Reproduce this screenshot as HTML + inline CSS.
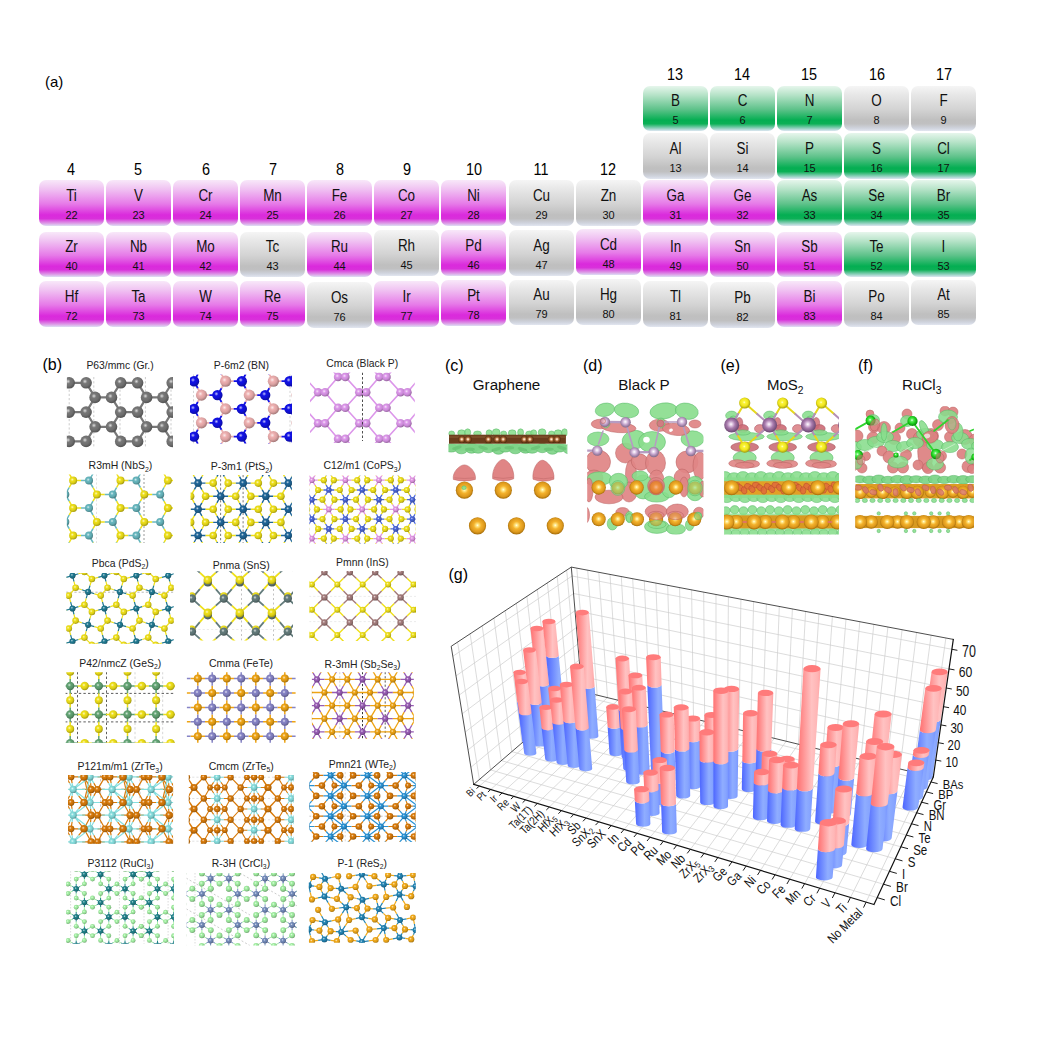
<!DOCTYPE html>
<html><head><meta charset="utf-8"><title>figure</title>
<style>
html,body{margin:0;padding:0;background:#fff;}
body{width:1040px;height:1040px;position:relative;overflow:hidden;font-family:"Liberation Sans",sans-serif;}
svg text{font-family:"Liberation Sans",sans-serif;}

.c{position:absolute;width:65px;height:45.5px;border-radius:7px;text-align:center;color:#111;}
.c b{position:absolute;left:0;right:0;top:7.6px;font-weight:normal;font-size:16px;line-height:16px;transform:scaleX(0.84);}
.c i{position:absolute;left:0;right:0;top:28.5px;font-style:normal;font-size:11.2px;line-height:12px;transform:scaleX(0.98);}
.m{background:linear-gradient(180deg,#f8e8f9 0%,#f0c2f2 20%,#e67ae8 52%,#da2adc 76%,#d930db 84%,#dc9ae6 94%,#dde0f4 100%);}
.g{background:linear-gradient(180deg,#e6f6ec 0%,#b6e3c8 20%,#5ec28a 52%,#04ae52 76%,#0cb056 84%,#8ed0bc 94%,#dde6f2 100%);}
.n{background:linear-gradient(180deg,#f5f5f5 0%,#e7e7e7 20%,#d3d3d3 52%,#bfbfbf 76%,#c0c0c1 84%,#d0d4de 94%,#e2e6f0 100%);}
.gl{position:absolute;width:40px;text-align:center;font-size:16.4px;line-height:20px;color:#000;transform:scaleX(0.88);}
.pl{position:absolute;font-size:15px;line-height:18px;color:#000;}

</style></head><body>
<div class="c g" style="left:642.7px;top:85.5px"><b>B</b><i>5</i></div>
<div class="c g" style="left:709.8px;top:85.5px"><b>C</b><i>6</i></div>
<div class="c g" style="left:776.9px;top:85.5px"><b>N</b><i>7</i></div>
<div class="c n" style="left:844.0px;top:85.5px"><b>O</b><i>8</i></div>
<div class="c n" style="left:911.1px;top:85.5px"><b>F</b><i>9</i></div>
<div class="c n" style="left:642.7px;top:133.0px"><b>Al</b><i>13</i></div>
<div class="c n" style="left:709.8px;top:133.0px"><b>Si</b><i>14</i></div>
<div class="c g" style="left:776.9px;top:133.0px"><b>P</b><i>15</i></div>
<div class="c g" style="left:844.0px;top:133.0px"><b>S</b><i>16</i></div>
<div class="c g" style="left:911.1px;top:133.0px"><b>Cl</b><i>17</i></div>
<div class="c m" style="left:38.8px;top:180.0px"><b>Ti</b><i>22</i></div>
<div class="c m" style="left:105.9px;top:180.0px"><b>V</b><i>23</i></div>
<div class="c m" style="left:173.0px;top:180.0px"><b>Cr</b><i>24</i></div>
<div class="c m" style="left:240.1px;top:180.0px"><b>Mn</b><i>25</i></div>
<div class="c m" style="left:307.2px;top:180.0px"><b>Fe</b><i>26</i></div>
<div class="c m" style="left:374.3px;top:180.0px"><b>Co</b><i>27</i></div>
<div class="c m" style="left:441.4px;top:180.0px"><b>Ni</b><i>28</i></div>
<div class="c n" style="left:508.5px;top:180.0px"><b>Cu</b><i>29</i></div>
<div class="c n" style="left:575.6px;top:180.0px"><b>Zn</b><i>30</i></div>
<div class="c m" style="left:642.7px;top:180.0px"><b>Ga</b><i>31</i></div>
<div class="c m" style="left:709.8px;top:180.0px"><b>Ge</b><i>32</i></div>
<div class="c g" style="left:776.9px;top:180.0px"><b>As</b><i>33</i></div>
<div class="c g" style="left:844.0px;top:180.0px"><b>Se</b><i>34</i></div>
<div class="c g" style="left:911.1px;top:180.0px"><b>Br</b><i>35</i></div>
<div class="c m" style="left:38.8px;top:231.5px"><b>Zr</b><i>40</i></div>
<div class="c m" style="left:105.9px;top:231.5px"><b>Nb</b><i>41</i></div>
<div class="c m" style="left:173.0px;top:231.5px"><b>Mo</b><i>42</i></div>
<div class="c n" style="left:240.1px;top:231.5px"><b>Tc</b><i>43</i></div>
<div class="c m" style="left:307.2px;top:231.5px"><b>Ru</b><i>44</i></div>
<div class="c n" style="left:374.3px;top:230.0px"><b>Rh</b><i>45</i></div>
<div class="c m" style="left:441.4px;top:230.0px"><b>Pd</b><i>46</i></div>
<div class="c n" style="left:508.5px;top:230.0px"><b>Ag</b><i>47</i></div>
<div class="c m" style="left:575.6px;top:229.0px"><b>Cd</b><i>48</i></div>
<div class="c m" style="left:642.7px;top:231.5px"><b>In</b><i>49</i></div>
<div class="c m" style="left:709.8px;top:231.5px"><b>Sn</b><i>50</i></div>
<div class="c m" style="left:776.9px;top:231.5px"><b>Sb</b><i>51</i></div>
<div class="c g" style="left:844.0px;top:231.5px"><b>Te</b><i>52</i></div>
<div class="c g" style="left:911.1px;top:231.5px"><b>I</b><i>53</i></div>
<div class="c m" style="left:38.8px;top:281.0px"><b>Hf</b><i>72</i></div>
<div class="c m" style="left:105.9px;top:281.0px"><b>Ta</b><i>73</i></div>
<div class="c m" style="left:173.0px;top:281.0px"><b>W</b><i>74</i></div>
<div class="c m" style="left:240.1px;top:281.0px"><b>Re</b><i>75</i></div>
<div class="c n" style="left:307.2px;top:282.0px"><b>Os</b><i>76</i></div>
<div class="c m" style="left:374.3px;top:281.0px"><b>Ir</b><i>77</i></div>
<div class="c m" style="left:441.4px;top:280.0px"><b>Pt</b><i>78</i></div>
<div class="c n" style="left:508.5px;top:279.5px"><b>Au</b><i>79</i></div>
<div class="c n" style="left:575.6px;top:279.0px"><b>Hg</b><i>80</i></div>
<div class="c n" style="left:642.7px;top:281.0px"><b>Tl</b><i>81</i></div>
<div class="c n" style="left:709.8px;top:282.0px"><b>Pb</b><i>82</i></div>
<div class="c m" style="left:776.9px;top:281.0px"><b>Bi</b><i>83</i></div>
<div class="c n" style="left:844.0px;top:281.0px"><b>Po</b><i>84</i></div>
<div class="c n" style="left:911.1px;top:279.5px"><b>At</b><i>85</i></div>
<div class="gl" style="left:51.3px;top:159px">4</div>
<div class="gl" style="left:118.4px;top:159px">5</div>
<div class="gl" style="left:185.5px;top:159px">6</div>
<div class="gl" style="left:252.6px;top:159px">7</div>
<div class="gl" style="left:319.7px;top:159px">8</div>
<div class="gl" style="left:386.8px;top:159px">9</div>
<div class="gl" style="left:453.9px;top:159px">10</div>
<div class="gl" style="left:521.0px;top:159px">11</div>
<div class="gl" style="left:588.1px;top:159px">12</div>
<div class="gl" style="left:655.2px;top:64px">13</div>
<div class="gl" style="left:722.3px;top:64px">14</div>
<div class="gl" style="left:789.4px;top:64px">15</div>
<div class="gl" style="left:856.5px;top:64px">16</div>
<div class="gl" style="left:923.6px;top:64px">17</div>
<div class="pl" style="left:45px;top:73px">(a)</div>
<svg width="1040" height="1040" viewBox="0 0 1040 1040" style="position:absolute;left:0;top:0">
<defs>
<radialGradient id="sC" cx="40%" cy="38%" r="66%"><stop offset="0" stop-color="#dddddd"/><stop offset="0.3" stop-color="#787878"/><stop offset="0.62" stop-color="#6e6e6e"/><stop offset="1" stop-color="#4e4e4e"/></radialGradient>
<radialGradient id="sB" cx="40%" cy="38%" r="66%"><stop offset="0" stop-color="#faebeb"/><stop offset="0.3" stop-color="#eeb0b0"/><stop offset="0.62" stop-color="#daa1a1"/><stop offset="1" stop-color="#9a7272"/></radialGradient>
<radialGradient id="sN" cx="40%" cy="38%" r="66%"><stop offset="0" stop-color="#c3c3f8"/><stop offset="0.3" stop-color="#1212e6"/><stop offset="0.62" stop-color="#1010d3"/><stop offset="1" stop-color="#0b0b95"/></radialGradient>
<radialGradient id="sP" cx="40%" cy="38%" r="66%"><stop offset="0" stop-color="#f6e4f9"/><stop offset="0.3" stop-color="#dc96ea"/><stop offset="0.62" stop-color="#ca8ad7"/><stop offset="1" stop-color="#8f6198"/></radialGradient>
<radialGradient id="sS" cx="40%" cy="38%" r="66%"><stop offset="0" stop-color="#fbf7c5"/><stop offset="0.3" stop-color="#efe01a"/><stop offset="0.62" stop-color="#dbce17"/><stop offset="1" stop-color="#9b9110"/></radialGradient>
<radialGradient id="sNb" cx="40%" cy="38%" r="66%"><stop offset="0" stop-color="#d9edef"/><stop offset="0.3" stop-color="#68b8c0"/><stop offset="0.62" stop-color="#5fa9b0"/><stop offset="1" stop-color="#43777c"/></radialGradient>
<radialGradient id="sPt" cx="40%" cy="38%" r="66%"><stop offset="0" stop-color="#c7d8e5"/><stop offset="0.3" stop-color="#1f6698"/><stop offset="0.62" stop-color="#1c5d8b"/><stop offset="1" stop-color="#144262"/></radialGradient>
<radialGradient id="sCo" cx="40%" cy="38%" r="66%"><stop offset="0" stop-color="#d1d8f5"/><stop offset="0.3" stop-color="#4a66d8"/><stop offset="0.62" stop-color="#445dc6"/><stop offset="1" stop-color="#30428c"/></radialGradient>
<radialGradient id="sPp" cx="40%" cy="38%" r="66%"><stop offset="0" stop-color="#f7e4f8"/><stop offset="0.3" stop-color="#e296e4"/><stop offset="0.62" stop-color="#cf8ad1"/><stop offset="1" stop-color="#926194"/></radialGradient>
<radialGradient id="sPd" cx="40%" cy="38%" r="66%"><stop offset="0" stop-color="#c7dde3"/><stop offset="0.3" stop-color="#217a92"/><stop offset="0.62" stop-color="#1e7086"/><stop offset="1" stop-color="#154f5e"/></radialGradient>
<radialGradient id="sSn" cx="40%" cy="38%" r="66%"><stop offset="0" stop-color="#d8dede"/><stop offset="0.3" stop-color="#647c7c"/><stop offset="0.62" stop-color="#5c7272"/><stop offset="1" stop-color="#415050"/></radialGradient>
<radialGradient id="sIn" cx="40%" cy="38%" r="66%"><stop offset="0" stop-color="#e8dede"/><stop offset="0.3" stop-color="#a47c7c"/><stop offset="0.62" stop-color="#967272"/><stop offset="1" stop-color="#6a5050"/></radialGradient>
<radialGradient id="sGe" cx="40%" cy="38%" r="66%"><stop offset="0" stop-color="#d7e8dc"/><stop offset="0.3" stop-color="#62a474"/><stop offset="0.62" stop-color="#5a966a"/><stop offset="1" stop-color="#3f6a4b"/></radialGradient>
<radialGradient id="sFe" cx="40%" cy="38%" r="66%"><stop offset="0" stop-color="#e0e0f0"/><stop offset="0.3" stop-color="#8684c6"/><stop offset="0.62" stop-color="#7b79b6"/><stop offset="1" stop-color="#575580"/></radialGradient>
<radialGradient id="sTe" cx="40%" cy="38%" r="66%"><stop offset="0" stop-color="#fae8c4"/><stop offset="0.3" stop-color="#eea414"/><stop offset="0.62" stop-color="#da9612"/><stop offset="1" stop-color="#9a6a0d"/></radialGradient>
<radialGradient id="sSb" cx="40%" cy="38%" r="66%"><stop offset="0" stop-color="#e5d6ec"/><stop offset="0.3" stop-color="#985cb4"/><stop offset="0.62" stop-color="#8b54a5"/><stop offset="1" stop-color="#623b75"/></radialGradient>
<radialGradient id="sTe2" cx="40%" cy="38%" r="66%"><stop offset="0" stop-color="#f5ddc1"/><stop offset="0.3" stop-color="#d87a0a"/><stop offset="0.62" stop-color="#c67009"/><stop offset="1" stop-color="#8c4f06"/></radialGradient>
<radialGradient id="sZr" cx="40%" cy="38%" r="66%"><stop offset="0" stop-color="#e0f6f6"/><stop offset="0.3" stop-color="#86dede"/><stop offset="0.62" stop-color="#7bcccc"/><stop offset="1" stop-color="#579090"/></radialGradient>
<radialGradient id="sW" cx="40%" cy="38%" r="66%"><stop offset="0" stop-color="#c9e3f4"/><stop offset="0.3" stop-color="#2a92d4"/><stop offset="0.62" stop-color="#2686c3"/><stop offset="1" stop-color="#1b5e89"/></radialGradient>
<radialGradient id="sCl" cx="40%" cy="38%" r="66%"><stop offset="0" stop-color="#e7fbe7"/><stop offset="0.3" stop-color="#a2f0a2"/><stop offset="0.62" stop-color="#95dc95"/><stop offset="1" stop-color="#699c69"/></radialGradient>
<radialGradient id="sRu" cx="40%" cy="38%" r="66%"><stop offset="0" stop-color="#c7dfe1"/><stop offset="0.3" stop-color="#20828a"/><stop offset="0.62" stop-color="#1d777e"/><stop offset="1" stop-color="#145459"/></radialGradient>
<radialGradient id="sCr" cx="40%" cy="38%" r="66%"><stop offset="0" stop-color="#dce2ee"/><stop offset="0.3" stop-color="#748cbc"/><stop offset="0.62" stop-color="#6a80ac"/><stop offset="1" stop-color="#4b5b7a"/></radialGradient>
<radialGradient id="sRe" cx="40%" cy="38%" r="66%"><stop offset="0" stop-color="#c7e0ec"/><stop offset="0.3" stop-color="#2284b4"/><stop offset="0.62" stop-color="#1f79a5"/><stop offset="1" stop-color="#165575"/></radialGradient>
<radialGradient id="sS2" cx="40%" cy="38%" r="66%"><stop offset="0" stop-color="#fbe9c5"/><stop offset="0.3" stop-color="#f2aa1a"/><stop offset="0.62" stop-color="#de9c17"/><stop offset="1" stop-color="#9d6e10"/></radialGradient>
<radialGradient id="sAu" cx="50%" cy="47%" r="52%"><stop offset="0" stop-color="#fffdf0"/><stop offset="0.14" stop-color="#ffe98a"/><stop offset="0.42" stop-color="#f4b22c"/><stop offset="0.78" stop-color="#dc981c"/><stop offset="1" stop-color="#a66e0a"/></radialGradient>
<radialGradient id="sPm" cx="47%" cy="45%" r="55%"><stop offset="0" stop-color="#ffffff"/><stop offset="0.2" stop-color="#ecdcf0"/><stop offset="0.55" stop-color="#c0a0c8"/><stop offset="1" stop-color="#806888"/></radialGradient>
<radialGradient id="sMo" cx="46%" cy="45%" r="55%"><stop offset="0" stop-color="#ffffff"/><stop offset="0.18" stop-color="#e4cce6"/><stop offset="0.5" stop-color="#aa7cae"/><stop offset="1" stop-color="#6a4670"/></radialGradient>
<radialGradient id="sClb" cx="45%" cy="42%" r="55%"><stop offset="0" stop-color="#e8ffe8"/><stop offset="0.25" stop-color="#58ec58"/><stop offset="0.6" stop-color="#1ed01e"/><stop offset="1" stop-color="#0c8c0c"/></radialGradient>
</defs>
<clipPath id="cp1"><rect x="66.9" y="377" width="106.1" height="70.7"/></clipPath><g clip-path="url(#cp1)"><path d="M69.2 377L69.2 448" stroke="#aaa" stroke-width="0.6" stroke-dasharray="2.2 2" fill="none"/><path d="M93.8 377L93.8 448" stroke="#aaa" stroke-width="0.6" stroke-dasharray="2.2 2" fill="none"/><path d="M120 377L120 448" stroke="#aaa" stroke-width="0.6" stroke-dasharray="2.2 2" fill="none"/><path d="M145.4 377L145.4 448" stroke="#aaa" stroke-width="0.6" stroke-dasharray="2.2 2" fill="none"/><path d="M171 377L171 448" stroke="#aaa" stroke-width="0.6" stroke-dasharray="2.2 2" fill="none"/><path d="M69.2 382.8L86.1 382.8M69.2 382.8L60 397.4M86.1 382.8L95.1 397.4M120.7 382.8L137.6 382.8M120.7 382.8L111.5 397.4M137.6 382.8L146.6 397.4M172.2 382.8L189.1 382.8M172.2 382.8L163 397.4M60 397.4L69.2 412.1M95.1 397.4L111.5 397.4M95.1 397.4L86.1 412.1M111.5 397.4L120.7 412.1M146.6 397.4L163 397.4M146.6 397.4L137.6 412.1M163 397.4L172.2 412.1M69.2 412.1L86.1 412.1M69.2 412.1L60 426.8M86.1 412.1L95.1 426.8M120.7 412.1L137.6 412.1M120.7 412.1L111.5 426.8M137.6 412.1L146.6 426.8M172.2 412.1L189.1 412.1M172.2 412.1L163 426.8M60 426.8L69.2 441.4M95.1 426.8L111.5 426.8M95.1 426.8L86.1 441.4M111.5 426.8L120.7 441.4M146.6 426.8L163 426.8M146.6 426.8L137.6 441.4M163 426.8L172.2 441.4M69.2 441.4L86.1 441.4M120.7 441.4L137.6 441.4M172.2 441.4L189.1 441.4" stroke="#787878" stroke-width="2.2" fill="none"/><circle cx="69.2" cy="382.8" r="5.8" fill="url(#sC)"/><circle cx="86.1" cy="382.8" r="5.8" fill="url(#sC)"/><circle cx="120.7" cy="382.8" r="5.8" fill="url(#sC)"/><circle cx="137.6" cy="382.8" r="5.8" fill="url(#sC)"/><circle cx="172.2" cy="382.8" r="5.8" fill="url(#sC)"/><circle cx="189.1" cy="382.8" r="5.8" fill="url(#sC)"/><circle cx="60" cy="397.4" r="5.8" fill="url(#sC)"/><circle cx="95.1" cy="397.4" r="5.8" fill="url(#sC)"/><circle cx="111.5" cy="397.4" r="5.8" fill="url(#sC)"/><circle cx="146.6" cy="397.4" r="5.8" fill="url(#sC)"/><circle cx="163" cy="397.4" r="5.8" fill="url(#sC)"/><circle cx="69.2" cy="412.1" r="5.8" fill="url(#sC)"/><circle cx="86.1" cy="412.1" r="5.8" fill="url(#sC)"/><circle cx="120.7" cy="412.1" r="5.8" fill="url(#sC)"/><circle cx="137.6" cy="412.1" r="5.8" fill="url(#sC)"/><circle cx="172.2" cy="412.1" r="5.8" fill="url(#sC)"/><circle cx="189.1" cy="412.1" r="5.8" fill="url(#sC)"/><circle cx="60" cy="426.8" r="5.8" fill="url(#sC)"/><circle cx="95.1" cy="426.8" r="5.8" fill="url(#sC)"/><circle cx="111.5" cy="426.8" r="5.8" fill="url(#sC)"/><circle cx="146.6" cy="426.8" r="5.8" fill="url(#sC)"/><circle cx="163" cy="426.8" r="5.8" fill="url(#sC)"/><circle cx="69.2" cy="441.4" r="5.8" fill="url(#sC)"/><circle cx="86.1" cy="441.4" r="5.8" fill="url(#sC)"/><circle cx="120.7" cy="441.4" r="5.8" fill="url(#sC)"/><circle cx="137.6" cy="441.4" r="5.8" fill="url(#sC)"/><circle cx="172.2" cy="441.4" r="5.8" fill="url(#sC)"/><circle cx="189.1" cy="441.4" r="5.8" fill="url(#sC)"/></g>
<clipPath id="cp2"><rect x="190" y="374.4" width="102" height="69.4"/></clipPath><g clip-path="url(#cp2)"><path d="M193.5 374L193.5 444" stroke="#bbb" stroke-width="0.6" stroke-dasharray="2.2 2" fill="none"/><path d="M290 374L290 444" stroke="#bbb" stroke-width="0.6" stroke-dasharray="2.2 2" fill="none"/><path d="M201.5 367.4L209.4 367.4M201.5 367.4L197.8 374.3M221.5 374.3L225.6 381.2M249.3 367.4L257.2 367.4M249.3 367.4L245.6 374.3M269.3 374.3L273.4 381.2M297.1 367.4L293.4 374.3M177.8 381.2L185.9 381.2M197.8 388.2L201.5 395.1M225.6 381.2L233.7 381.2M225.6 381.2L221.5 388.2M245.6 388.2L249.3 395.1M273.4 381.2L281.5 381.2M273.4 381.2L269.3 388.2M293.4 388.2L297.1 395.1M201.5 395.1L209.4 395.1M201.5 395.1L197.8 402M221.5 402L225.6 408.9M249.3 395.1L257.2 395.1M249.3 395.1L245.6 402M269.3 402L273.4 408.9M297.1 395.1L293.4 402M177.8 408.9L185.9 408.9M197.8 415.9L201.5 422.8M225.6 408.9L233.7 408.9M225.6 408.9L221.5 415.9M245.6 415.9L249.3 422.8M273.4 408.9L281.5 408.9M273.4 408.9L269.3 415.9M293.4 415.9L297.1 422.8M201.5 422.8L209.4 422.8M201.5 422.8L197.8 429.7M221.5 429.7L225.6 436.6M249.3 422.8L257.2 422.8M249.3 422.8L245.6 429.7M269.3 429.7L273.4 436.6M297.1 422.8L293.4 429.7M177.8 436.6L185.9 436.6M197.8 443.6L201.5 450.5M225.6 436.6L233.7 436.6M225.6 436.6L221.5 443.6M245.6 443.6L249.3 450.5M273.4 436.6L281.5 436.6M273.4 436.6L269.3 443.6M293.4 443.6L297.1 450.5M201.5 450.5L209.4 450.5M249.3 450.5L257.2 450.5" stroke="#eeb0b0" stroke-width="1.8" fill="none"/><path d="M209.4 367.4L217.4 367.4M197.8 374.3L194 381.2M217.4 367.4L221.5 374.3M257.2 367.4L265.2 367.4M245.6 374.3L241.8 381.2M265.2 367.4L269.3 374.3M293.4 374.3L289.6 381.2M185.9 381.2L194 381.2M194 381.2L197.8 388.2M233.7 381.2L241.8 381.2M221.5 388.2L217.4 395.1M241.8 381.2L245.6 388.2M281.5 381.2L289.6 381.2M269.3 388.2L265.2 395.1M289.6 381.2L293.4 388.2M209.4 395.1L217.4 395.1M197.8 402L194 408.9M217.4 395.1L221.5 402M257.2 395.1L265.2 395.1M245.6 402L241.8 408.9M265.2 395.1L269.3 402M293.4 402L289.6 408.9M185.9 408.9L194 408.9M194 408.9L197.8 415.9M233.7 408.9L241.8 408.9M221.5 415.9L217.4 422.8M241.8 408.9L245.6 415.9M281.5 408.9L289.6 408.9M269.3 415.9L265.2 422.8M289.6 408.9L293.4 415.9M209.4 422.8L217.4 422.8M197.8 429.7L194 436.6M217.4 422.8L221.5 429.7M257.2 422.8L265.2 422.8M245.6 429.7L241.8 436.6M265.2 422.8L269.3 429.7M293.4 429.7L289.6 436.6M185.9 436.6L194 436.6M194 436.6L197.8 443.6M233.7 436.6L241.8 436.6M221.5 443.6L217.4 450.5M241.8 436.6L245.6 443.6M281.5 436.6L289.6 436.6M269.3 443.6L265.2 450.5M289.6 436.6L293.4 443.6M209.4 450.5L217.4 450.5M257.2 450.5L265.2 450.5" stroke="#1212e6" stroke-width="1.8" fill="none"/><circle cx="201.5" cy="367.4" r="5.6" fill="url(#sB)"/><circle cx="217.4" cy="367.4" r="5.2" fill="url(#sN)"/><circle cx="249.3" cy="367.4" r="5.6" fill="url(#sB)"/><circle cx="265.2" cy="367.4" r="5.2" fill="url(#sN)"/><circle cx="297.1" cy="367.4" r="5.6" fill="url(#sB)"/><circle cx="177.8" cy="381.2" r="5.6" fill="url(#sB)"/><circle cx="194" cy="381.2" r="5.2" fill="url(#sN)"/><circle cx="225.6" cy="381.2" r="5.6" fill="url(#sB)"/><circle cx="241.8" cy="381.2" r="5.2" fill="url(#sN)"/><circle cx="273.4" cy="381.2" r="5.6" fill="url(#sB)"/><circle cx="289.6" cy="381.2" r="5.2" fill="url(#sN)"/><circle cx="201.5" cy="395.1" r="5.6" fill="url(#sB)"/><circle cx="217.4" cy="395.1" r="5.2" fill="url(#sN)"/><circle cx="249.3" cy="395.1" r="5.6" fill="url(#sB)"/><circle cx="265.2" cy="395.1" r="5.2" fill="url(#sN)"/><circle cx="297.1" cy="395.1" r="5.6" fill="url(#sB)"/><circle cx="177.8" cy="408.9" r="5.6" fill="url(#sB)"/><circle cx="194" cy="408.9" r="5.2" fill="url(#sN)"/><circle cx="225.6" cy="408.9" r="5.6" fill="url(#sB)"/><circle cx="241.8" cy="408.9" r="5.2" fill="url(#sN)"/><circle cx="273.4" cy="408.9" r="5.6" fill="url(#sB)"/><circle cx="289.6" cy="408.9" r="5.2" fill="url(#sN)"/><circle cx="201.5" cy="422.8" r="5.6" fill="url(#sB)"/><circle cx="217.4" cy="422.8" r="5.2" fill="url(#sN)"/><circle cx="249.3" cy="422.8" r="5.6" fill="url(#sB)"/><circle cx="265.2" cy="422.8" r="5.2" fill="url(#sN)"/><circle cx="297.1" cy="422.8" r="5.6" fill="url(#sB)"/><circle cx="177.8" cy="436.6" r="5.6" fill="url(#sB)"/><circle cx="194" cy="436.6" r="5.2" fill="url(#sN)"/><circle cx="225.6" cy="436.6" r="5.6" fill="url(#sB)"/><circle cx="241.8" cy="436.6" r="5.2" fill="url(#sN)"/><circle cx="273.4" cy="436.6" r="5.6" fill="url(#sB)"/><circle cx="289.6" cy="436.6" r="5.2" fill="url(#sN)"/><circle cx="201.5" cy="450.5" r="5.6" fill="url(#sB)"/><circle cx="217.4" cy="450.5" r="5.2" fill="url(#sN)"/><circle cx="249.3" cy="450.5" r="5.6" fill="url(#sB)"/><circle cx="265.2" cy="450.5" r="5.2" fill="url(#sN)"/><circle cx="297.1" cy="450.5" r="5.6" fill="url(#sB)"/></g>
<clipPath id="cp3"><rect x="310" y="372.5" width="104.8" height="70.5"/></clipPath><g clip-path="url(#cp3)"><path d="M318.1 361.4L325 361.4M318.1 361.4L304.1 376.9M325 361.4L338.1 376.9M359.3 361.4L366.2 361.4M359.3 361.4L345.3 376.9M366.2 361.4L379.3 376.9M400.5 361.4L407.4 361.4M400.5 361.4L386.5 376.9M407.4 361.4L420.5 376.9M296.9 376.9L304.1 376.9M304.1 376.9L318.1 392.3M338.1 376.9L345.3 376.9M338.1 376.9L325 392.3M345.3 376.9L359.3 392.3M379.3 376.9L386.5 376.9M379.3 376.9L366.2 392.3M386.5 376.9L400.5 392.3M420.5 376.9L427.7 376.9M420.5 376.9L407.4 392.3M318.1 392.3L325 392.3M318.1 392.3L304.1 407.8M325 392.3L338.1 407.8M359.3 392.3L366.2 392.3M359.3 392.3L345.3 407.8M366.2 392.3L379.3 407.8M400.5 392.3L407.4 392.3M400.5 392.3L386.5 407.8M407.4 392.3L420.5 407.8M296.9 407.8L304.1 407.8M304.1 407.8L318.1 423.2M338.1 407.8L345.3 407.8M338.1 407.8L325 423.2M345.3 407.8L359.3 423.2M379.3 407.8L386.5 407.8M379.3 407.8L366.2 423.2M386.5 407.8L400.5 423.2M420.5 407.8L427.7 407.8M420.5 407.8L407.4 423.2M318.1 423.2L325 423.2M318.1 423.2L304.1 438.7M325 423.2L338.1 438.7M359.3 423.2L366.2 423.2M359.3 423.2L345.3 438.7M366.2 423.2L379.3 438.7M400.5 423.2L407.4 423.2M400.5 423.2L386.5 438.7M407.4 423.2L420.5 438.7M296.9 438.7L304.1 438.7M304.1 438.7L318.1 454.1M338.1 438.7L345.3 438.7M338.1 438.7L325 454.1M345.3 438.7L359.3 454.1M379.3 438.7L386.5 438.7M379.3 438.7L366.2 454.1M386.5 438.7L400.5 454.1M420.5 438.7L427.7 438.7M420.5 438.7L407.4 454.1M318.1 454.1L325 454.1M359.3 454.1L366.2 454.1M400.5 454.1L407.4 454.1" stroke="#dc96ea" stroke-width="1.6" fill="none"/><circle cx="318.1" cy="361.4" r="4.3" fill="url(#sP)"/><circle cx="325" cy="361.4" r="4.3" fill="url(#sP)"/><circle cx="359.3" cy="361.4" r="4.3" fill="url(#sP)"/><circle cx="366.2" cy="361.4" r="4.3" fill="url(#sP)"/><circle cx="400.5" cy="361.4" r="4.3" fill="url(#sP)"/><circle cx="407.4" cy="361.4" r="4.3" fill="url(#sP)"/><circle cx="296.9" cy="376.9" r="4.3" fill="url(#sP)"/><circle cx="304.1" cy="376.9" r="4.3" fill="url(#sP)"/><circle cx="338.1" cy="376.9" r="4.3" fill="url(#sP)"/><circle cx="345.3" cy="376.9" r="4.3" fill="url(#sP)"/><circle cx="379.3" cy="376.9" r="4.3" fill="url(#sP)"/><circle cx="386.5" cy="376.9" r="4.3" fill="url(#sP)"/><circle cx="420.5" cy="376.9" r="4.3" fill="url(#sP)"/><circle cx="427.7" cy="376.9" r="4.3" fill="url(#sP)"/><circle cx="318.1" cy="392.3" r="4.3" fill="url(#sP)"/><circle cx="325" cy="392.3" r="4.3" fill="url(#sP)"/><circle cx="359.3" cy="392.3" r="4.3" fill="url(#sP)"/><circle cx="366.2" cy="392.3" r="4.3" fill="url(#sP)"/><circle cx="400.5" cy="392.3" r="4.3" fill="url(#sP)"/><circle cx="407.4" cy="392.3" r="4.3" fill="url(#sP)"/><circle cx="296.9" cy="407.8" r="4.3" fill="url(#sP)"/><circle cx="304.1" cy="407.8" r="4.3" fill="url(#sP)"/><circle cx="338.1" cy="407.8" r="4.3" fill="url(#sP)"/><circle cx="345.3" cy="407.8" r="4.3" fill="url(#sP)"/><circle cx="379.3" cy="407.8" r="4.3" fill="url(#sP)"/><circle cx="386.5" cy="407.8" r="4.3" fill="url(#sP)"/><circle cx="420.5" cy="407.8" r="4.3" fill="url(#sP)"/><circle cx="427.7" cy="407.8" r="4.3" fill="url(#sP)"/><circle cx="318.1" cy="423.2" r="4.3" fill="url(#sP)"/><circle cx="325" cy="423.2" r="4.3" fill="url(#sP)"/><circle cx="359.3" cy="423.2" r="4.3" fill="url(#sP)"/><circle cx="366.2" cy="423.2" r="4.3" fill="url(#sP)"/><circle cx="400.5" cy="423.2" r="4.3" fill="url(#sP)"/><circle cx="407.4" cy="423.2" r="4.3" fill="url(#sP)"/><circle cx="296.9" cy="438.7" r="4.3" fill="url(#sP)"/><circle cx="304.1" cy="438.7" r="4.3" fill="url(#sP)"/><circle cx="338.1" cy="438.7" r="4.3" fill="url(#sP)"/><circle cx="345.3" cy="438.7" r="4.3" fill="url(#sP)"/><circle cx="379.3" cy="438.7" r="4.3" fill="url(#sP)"/><circle cx="386.5" cy="438.7" r="4.3" fill="url(#sP)"/><circle cx="420.5" cy="438.7" r="4.3" fill="url(#sP)"/><circle cx="427.7" cy="438.7" r="4.3" fill="url(#sP)"/><circle cx="318.1" cy="454.1" r="4.3" fill="url(#sP)"/><circle cx="325" cy="454.1" r="4.3" fill="url(#sP)"/><circle cx="359.3" cy="454.1" r="4.3" fill="url(#sP)"/><circle cx="366.2" cy="454.1" r="4.3" fill="url(#sP)"/><circle cx="400.5" cy="454.1" r="4.3" fill="url(#sP)"/><circle cx="407.4" cy="454.1" r="4.3" fill="url(#sP)"/><path d="M362.5 372.5L362.5 441" stroke="#222" stroke-width="0.8" stroke-dasharray="2.5 2" fill="none"/></g>
<clipPath id="cp4"><rect x="66.9" y="474.4" width="106.1" height="68.6"/></clipPath><g clip-path="url(#cp4)"><path d="M144 474L144 543" stroke="#999" stroke-width="1" stroke-dasharray="2 2" fill="none"/><path d="M96.5 474L96.5 543" stroke="#ccc" stroke-width="0.6" stroke-dasharray="2.2 2" fill="none"/><path d="M49.5 466.9L57.4 466.9M69.2 473.7L73.1 480.6M96.9 466.9L104.8 466.9M96.9 466.9L93 473.7M116.6 473.7L120.5 480.6M144.3 466.9L152.2 466.9M144.3 466.9L140.4 473.7M164 473.7L167.9 480.6M73.1 480.6L81 480.6M73.1 480.6L69.2 487.5M93 487.5L96.9 494.4M120.5 480.6L128.4 480.6M120.5 480.6L116.6 487.5M140.4 487.5L144.3 494.4M167.9 480.6L175.8 480.6M167.9 480.6L164 487.5M49.5 494.4L57.4 494.4M69.2 501.2L73.1 508.1M96.9 494.4L104.8 494.4M96.9 494.4L93 501.2M116.6 501.2L120.5 508.1M144.3 494.4L152.2 494.4M144.3 494.4L140.4 501.2M164 501.2L167.9 508.1M73.1 508.1L81 508.1M73.1 508.1L69.2 515M93 515L96.9 521.9M120.5 508.1L128.4 508.1M120.5 508.1L116.6 515M140.4 515L144.3 521.9M167.9 508.1L175.8 508.1M167.9 508.1L164 515M49.5 521.9L57.4 521.9M69.2 528.7L73.1 535.6M96.9 521.9L104.8 521.9M96.9 521.9L93 528.7M116.6 528.7L120.5 535.6M144.3 521.9L152.2 521.9M144.3 521.9L140.4 528.7M164 528.7L167.9 535.6M73.1 535.6L81 535.6M73.1 535.6L69.2 542.5M93 542.5L96.9 549.4M120.5 535.6L128.4 535.6M120.5 535.6L116.6 542.5M140.4 542.5L144.3 549.4M167.9 535.6L175.8 535.6M167.9 535.6L164 542.5M49.5 549.4L57.4 549.4M96.9 549.4L104.8 549.4M144.3 549.4L152.2 549.4" stroke="#efe01a" stroke-width="1.5" fill="none"/><path d="M57.4 466.9L65.3 466.9M65.3 466.9L69.2 473.7M104.8 466.9L112.8 466.9M93 473.7L89 480.6M112.8 466.9L116.6 473.7M152.2 466.9L160.2 466.9M140.4 473.7L136.4 480.6M160.2 466.9L164 473.7M81 480.6L89 480.6M69.2 487.5L65.3 494.4M89 480.6L93 487.5M128.4 480.6L136.4 480.6M116.6 487.5L112.8 494.4M136.4 480.6L140.4 487.5M175.8 480.6L183.8 480.6M164 487.5L160.2 494.4M57.4 494.4L65.3 494.4M65.3 494.4L69.2 501.2M104.8 494.4L112.8 494.4M93 501.2L89 508.1M112.8 494.4L116.6 501.2M152.2 494.4L160.2 494.4M140.4 501.2L136.4 508.1M160.2 494.4L164 501.2M81 508.1L89 508.1M69.2 515L65.3 521.9M89 508.1L93 515M128.4 508.1L136.4 508.1M116.6 515L112.8 521.9M136.4 508.1L140.4 515M175.8 508.1L183.8 508.1M164 515L160.2 521.9M57.4 521.9L65.3 521.9M65.3 521.9L69.2 528.7M104.8 521.9L112.8 521.9M93 528.7L89 535.6M112.8 521.9L116.6 528.7M152.2 521.9L160.2 521.9M140.4 528.7L136.4 535.6M160.2 521.9L164 528.7M81 535.6L89 535.6M69.2 542.5L65.3 549.4M89 535.6L93 542.5M128.4 535.6L136.4 535.6M116.6 542.5L112.8 549.4M136.4 535.6L140.4 542.5M175.8 535.6L183.8 535.6M164 542.5L160.2 549.4M57.4 549.4L65.3 549.4M104.8 549.4L112.8 549.4M152.2 549.4L160.2 549.4" stroke="#68b8c0" stroke-width="1.5" fill="none"/><circle cx="49.5" cy="466.9" r="4" fill="url(#sS)"/><circle cx="65.3" cy="466.9" r="4" fill="url(#sNb)"/><circle cx="96.9" cy="466.9" r="4" fill="url(#sS)"/><circle cx="112.8" cy="466.9" r="4" fill="url(#sNb)"/><circle cx="144.3" cy="466.9" r="4" fill="url(#sS)"/><circle cx="160.2" cy="466.9" r="4" fill="url(#sNb)"/><circle cx="73.1" cy="480.6" r="4" fill="url(#sS)"/><circle cx="89" cy="480.6" r="4" fill="url(#sNb)"/><circle cx="120.5" cy="480.6" r="4" fill="url(#sS)"/><circle cx="136.4" cy="480.6" r="4" fill="url(#sNb)"/><circle cx="167.9" cy="480.6" r="4" fill="url(#sS)"/><circle cx="183.8" cy="480.6" r="4" fill="url(#sNb)"/><circle cx="49.5" cy="494.4" r="4" fill="url(#sS)"/><circle cx="65.3" cy="494.4" r="4" fill="url(#sNb)"/><circle cx="96.9" cy="494.4" r="4" fill="url(#sS)"/><circle cx="112.8" cy="494.4" r="4" fill="url(#sNb)"/><circle cx="144.3" cy="494.4" r="4" fill="url(#sS)"/><circle cx="160.2" cy="494.4" r="4" fill="url(#sNb)"/><circle cx="73.1" cy="508.1" r="4" fill="url(#sS)"/><circle cx="89" cy="508.1" r="4" fill="url(#sNb)"/><circle cx="120.5" cy="508.1" r="4" fill="url(#sS)"/><circle cx="136.4" cy="508.1" r="4" fill="url(#sNb)"/><circle cx="167.9" cy="508.1" r="4" fill="url(#sS)"/><circle cx="183.8" cy="508.1" r="4" fill="url(#sNb)"/><circle cx="49.5" cy="521.9" r="4" fill="url(#sS)"/><circle cx="65.3" cy="521.9" r="4" fill="url(#sNb)"/><circle cx="96.9" cy="521.9" r="4" fill="url(#sS)"/><circle cx="112.8" cy="521.9" r="4" fill="url(#sNb)"/><circle cx="144.3" cy="521.9" r="4" fill="url(#sS)"/><circle cx="160.2" cy="521.9" r="4" fill="url(#sNb)"/><circle cx="73.1" cy="535.6" r="4" fill="url(#sS)"/><circle cx="89" cy="535.6" r="4" fill="url(#sNb)"/><circle cx="120.5" cy="535.6" r="4" fill="url(#sS)"/><circle cx="136.4" cy="535.6" r="4" fill="url(#sNb)"/><circle cx="167.9" cy="535.6" r="4" fill="url(#sS)"/><circle cx="183.8" cy="535.6" r="4" fill="url(#sNb)"/><circle cx="49.5" cy="549.4" r="4" fill="url(#sS)"/><circle cx="65.3" cy="549.4" r="4" fill="url(#sNb)"/><circle cx="96.9" cy="549.4" r="4" fill="url(#sS)"/><circle cx="112.8" cy="549.4" r="4" fill="url(#sNb)"/><circle cx="144.3" cy="549.4" r="4" fill="url(#sS)"/><circle cx="160.2" cy="549.4" r="4" fill="url(#sNb)"/></g>
<clipPath id="cp5"><rect x="190.6" y="475" width="101.3" height="68"/></clipPath><g clip-path="url(#cp5)"><path d="M220.6 475L220.6 543" stroke="#444" stroke-width="0.7" stroke-dasharray="2.2 2" fill="none"/><path d="M243.1 475L243.1 543" stroke="#444" stroke-width="0.7" stroke-dasharray="2.2 2" fill="none"/><path d="M175.5 470L183 470M175.5 470L179.3 476.6M194.3 476.6L198.1 483.1M213.1 470L220.7 470M201.9 476.6L198.1 483.1M220.7 470L228.2 470M220.7 470L216.9 476.6M220.7 470L224.4 476.6M239.5 476.6L243.2 483.1M258.3 470L265.8 470M247 476.6L243.2 483.1M265.8 470L273.3 470M265.8 470L262.1 476.6M265.8 470L269.6 476.6M284.6 476.6L288.4 483.1M292.1 476.6L288.4 483.1M190.6 483.1L198.1 483.1M179.3 489.7L175.5 496.2M198.1 483.1L205.6 483.1M198.1 483.1L194.3 489.7M198.1 483.1L201.9 489.7M216.9 489.7L220.7 496.2M235.7 483.1L243.2 483.1M224.4 489.7L220.7 496.2M243.2 483.1L250.8 483.1M243.2 483.1L239.5 489.7M243.2 483.1L247 489.7M262.1 489.7L265.8 496.2M280.9 483.1L288.4 483.1M269.6 489.7L265.8 496.2M288.4 483.1L295.9 483.1M288.4 483.1L284.6 489.7M288.4 483.1L292.1 489.7M175.5 496.2L183 496.2M175.5 496.2L179.3 502.8M194.3 502.8L198.1 509.3M213.1 496.2L220.7 496.2M201.9 502.8L198.1 509.3M220.7 496.2L228.2 496.2M220.7 496.2L216.9 502.8M220.7 496.2L224.4 502.8M239.5 502.8L243.2 509.3M258.3 496.2L265.8 496.2M247 502.8L243.2 509.3M265.8 496.2L273.3 496.2M265.8 496.2L262.1 502.8M265.8 496.2L269.6 502.8M284.6 502.8L288.4 509.3M292.1 502.8L288.4 509.3M190.6 509.3L198.1 509.3M179.3 515.9L175.5 522.4M198.1 509.3L205.6 509.3M198.1 509.3L194.3 515.9M198.1 509.3L201.9 515.9M216.9 515.9L220.7 522.4M235.7 509.3L243.2 509.3M224.4 515.9L220.7 522.4M243.2 509.3L250.8 509.3M243.2 509.3L239.5 515.9M243.2 509.3L247 515.9M262.1 515.9L265.8 522.4M280.9 509.3L288.4 509.3M269.6 515.9L265.8 522.4M288.4 509.3L295.9 509.3M288.4 509.3L284.6 515.9M288.4 509.3L292.1 515.9M175.5 522.4L183 522.4M175.5 522.4L179.3 529M194.3 529L198.1 535.5M213.1 522.4L220.7 522.4M201.9 529L198.1 535.5M220.7 522.4L228.2 522.4M220.7 522.4L216.9 529M220.7 522.4L224.4 529M239.5 529L243.2 535.5M258.3 522.4L265.8 522.4M247 529L243.2 535.5M265.8 522.4L273.3 522.4M265.8 522.4L262.1 529M265.8 522.4L269.6 529M284.6 529L288.4 535.5M292.1 529L288.4 535.5M190.6 535.5L198.1 535.5M179.3 542L175.5 548.6M198.1 535.5L205.6 535.5M198.1 535.5L194.3 542M198.1 535.5L201.9 542M216.9 542L220.7 548.6M235.7 535.5L243.2 535.5M224.4 542L220.7 548.6M243.2 535.5L250.8 535.5M243.2 535.5L239.5 542M243.2 535.5L247 542M262.1 542L265.8 548.6M280.9 535.5L288.4 535.5M269.6 542L265.8 548.6M288.4 535.5L295.9 535.5M288.4 535.5L284.6 542M288.4 535.5L292.1 542M175.5 548.6L183 548.6M213.1 548.6L220.7 548.6M220.7 548.6L228.2 548.6M258.3 548.6L265.8 548.6M265.8 548.6L273.3 548.6" stroke="#1f6698" stroke-width="1.4" fill="none"/><path d="M183 470L190.6 470M179.3 476.6L183 483.1M190.6 470L194.3 476.6M205.6 470L213.1 470M205.6 470L201.9 476.6M228.2 470L235.7 470M216.9 476.6L213.2 483.1M224.4 476.6L228.2 483.1M235.7 470L239.5 476.6M250.8 470L258.3 470M250.8 470L247 476.6M273.3 470L280.9 470M262.1 476.6L258.3 483.1M269.6 476.6L273.4 483.1M280.9 470L284.6 476.6M295.9 470L292.1 476.6M183 483.1L190.6 483.1M183 483.1L179.3 489.7M205.6 483.1L213.2 483.1M194.3 489.7L190.6 496.2M201.9 489.7L205.6 496.2M213.2 483.1L216.9 489.7M228.2 483.1L235.7 483.1M228.2 483.1L224.4 489.7M250.8 483.1L258.3 483.1M239.5 489.7L235.7 496.2M247 489.7L250.8 496.2M258.3 483.1L262.1 489.7M273.4 483.1L280.9 483.1M273.4 483.1L269.6 489.7M295.9 483.1L303.4 483.1M284.6 489.7L280.9 496.2M292.1 489.7L295.9 496.2M183 496.2L190.6 496.2M179.3 502.8L183 509.3M190.6 496.2L194.3 502.8M205.6 496.2L213.1 496.2M205.6 496.2L201.9 502.8M228.2 496.2L235.7 496.2M216.9 502.8L213.2 509.3M224.4 502.8L228.2 509.3M235.7 496.2L239.5 502.8M250.8 496.2L258.3 496.2M250.8 496.2L247 502.8M273.3 496.2L280.9 496.2M262.1 502.8L258.3 509.3M269.6 502.8L273.4 509.3M280.9 496.2L284.6 502.8M295.9 496.2L292.1 502.8M183 509.3L190.6 509.3M183 509.3L179.3 515.9M205.6 509.3L213.2 509.3M194.3 515.9L190.6 522.4M201.9 515.9L205.6 522.4M213.2 509.3L216.9 515.9M228.2 509.3L235.7 509.3M228.2 509.3L224.4 515.9M250.8 509.3L258.3 509.3M239.5 515.9L235.7 522.4M247 515.9L250.8 522.4M258.3 509.3L262.1 515.9M273.4 509.3L280.9 509.3M273.4 509.3L269.6 515.9M295.9 509.3L303.4 509.3M284.6 515.9L280.9 522.4M292.1 515.9L295.9 522.4M183 522.4L190.6 522.4M179.3 529L183 535.5M190.6 522.4L194.3 529M205.6 522.4L213.1 522.4M205.6 522.4L201.9 529M228.2 522.4L235.7 522.4M216.9 529L213.2 535.5M224.4 529L228.2 535.5M235.7 522.4L239.5 529M250.8 522.4L258.3 522.4M250.8 522.4L247 529M273.3 522.4L280.9 522.4M262.1 529L258.3 535.5M269.6 529L273.4 535.5M280.9 522.4L284.6 529M295.9 522.4L292.1 529M183 535.5L190.6 535.5M183 535.5L179.3 542M205.6 535.5L213.2 535.5M194.3 542L190.6 548.6M201.9 542L205.6 548.6M213.2 535.5L216.9 542M228.2 535.5L235.7 535.5M228.2 535.5L224.4 542M250.8 535.5L258.3 535.5M239.5 542L235.7 548.6M247 542L250.8 548.6M258.3 535.5L262.1 542M273.4 535.5L280.9 535.5M273.4 535.5L269.6 542M295.9 535.5L303.4 535.5M284.6 542L280.9 548.6M292.1 542L295.9 548.6M183 548.6L190.6 548.6M205.6 548.6L213.1 548.6M228.2 548.6L235.7 548.6M250.8 548.6L258.3 548.6M273.3 548.6L280.9 548.6" stroke="#efe01a" stroke-width="1.4" fill="none"/><circle cx="175.5" cy="470" r="3.8" fill="url(#sPt)"/><circle cx="190.6" cy="470" r="3.8" fill="url(#sS)"/><circle cx="205.6" cy="470" r="3.8" fill="url(#sS)"/><circle cx="220.7" cy="470" r="3.8" fill="url(#sPt)"/><circle cx="235.7" cy="470" r="3.8" fill="url(#sS)"/><circle cx="250.8" cy="470" r="3.8" fill="url(#sS)"/><circle cx="265.8" cy="470" r="3.8" fill="url(#sPt)"/><circle cx="280.9" cy="470" r="3.8" fill="url(#sS)"/><circle cx="295.9" cy="470" r="3.8" fill="url(#sS)"/><circle cx="183" cy="483.1" r="3.8" fill="url(#sS)"/><circle cx="198.1" cy="483.1" r="3.8" fill="url(#sPt)"/><circle cx="213.2" cy="483.1" r="3.8" fill="url(#sS)"/><circle cx="228.2" cy="483.1" r="3.8" fill="url(#sS)"/><circle cx="243.2" cy="483.1" r="3.8" fill="url(#sPt)"/><circle cx="258.3" cy="483.1" r="3.8" fill="url(#sS)"/><circle cx="273.4" cy="483.1" r="3.8" fill="url(#sS)"/><circle cx="288.4" cy="483.1" r="3.8" fill="url(#sPt)"/><circle cx="303.4" cy="483.1" r="3.8" fill="url(#sS)"/><circle cx="175.5" cy="496.2" r="3.8" fill="url(#sPt)"/><circle cx="190.6" cy="496.2" r="3.8" fill="url(#sS)"/><circle cx="205.6" cy="496.2" r="3.8" fill="url(#sS)"/><circle cx="220.7" cy="496.2" r="3.8" fill="url(#sPt)"/><circle cx="235.7" cy="496.2" r="3.8" fill="url(#sS)"/><circle cx="250.8" cy="496.2" r="3.8" fill="url(#sS)"/><circle cx="265.8" cy="496.2" r="3.8" fill="url(#sPt)"/><circle cx="280.9" cy="496.2" r="3.8" fill="url(#sS)"/><circle cx="295.9" cy="496.2" r="3.8" fill="url(#sS)"/><circle cx="183" cy="509.3" r="3.8" fill="url(#sS)"/><circle cx="198.1" cy="509.3" r="3.8" fill="url(#sPt)"/><circle cx="213.2" cy="509.3" r="3.8" fill="url(#sS)"/><circle cx="228.2" cy="509.3" r="3.8" fill="url(#sS)"/><circle cx="243.2" cy="509.3" r="3.8" fill="url(#sPt)"/><circle cx="258.3" cy="509.3" r="3.8" fill="url(#sS)"/><circle cx="273.4" cy="509.3" r="3.8" fill="url(#sS)"/><circle cx="288.4" cy="509.3" r="3.8" fill="url(#sPt)"/><circle cx="303.4" cy="509.3" r="3.8" fill="url(#sS)"/><circle cx="175.5" cy="522.4" r="3.8" fill="url(#sPt)"/><circle cx="190.6" cy="522.4" r="3.8" fill="url(#sS)"/><circle cx="205.6" cy="522.4" r="3.8" fill="url(#sS)"/><circle cx="220.7" cy="522.4" r="3.8" fill="url(#sPt)"/><circle cx="235.7" cy="522.4" r="3.8" fill="url(#sS)"/><circle cx="250.8" cy="522.4" r="3.8" fill="url(#sS)"/><circle cx="265.8" cy="522.4" r="3.8" fill="url(#sPt)"/><circle cx="280.9" cy="522.4" r="3.8" fill="url(#sS)"/><circle cx="295.9" cy="522.4" r="3.8" fill="url(#sS)"/><circle cx="183" cy="535.5" r="3.8" fill="url(#sS)"/><circle cx="198.1" cy="535.5" r="3.8" fill="url(#sPt)"/><circle cx="213.2" cy="535.5" r="3.8" fill="url(#sS)"/><circle cx="228.2" cy="535.5" r="3.8" fill="url(#sS)"/><circle cx="243.2" cy="535.5" r="3.8" fill="url(#sPt)"/><circle cx="258.3" cy="535.5" r="3.8" fill="url(#sS)"/><circle cx="273.4" cy="535.5" r="3.8" fill="url(#sS)"/><circle cx="288.4" cy="535.5" r="3.8" fill="url(#sPt)"/><circle cx="303.4" cy="535.5" r="3.8" fill="url(#sS)"/><circle cx="175.5" cy="548.6" r="3.8" fill="url(#sPt)"/><circle cx="190.6" cy="548.6" r="3.8" fill="url(#sS)"/><circle cx="205.6" cy="548.6" r="3.8" fill="url(#sS)"/><circle cx="220.7" cy="548.6" r="3.8" fill="url(#sPt)"/><circle cx="235.7" cy="548.6" r="3.8" fill="url(#sS)"/><circle cx="250.8" cy="548.6" r="3.8" fill="url(#sS)"/><circle cx="265.8" cy="548.6" r="3.8" fill="url(#sPt)"/><circle cx="280.9" cy="548.6" r="3.8" fill="url(#sS)"/><circle cx="295.9" cy="548.6" r="3.8" fill="url(#sS)"/></g>
<clipPath id="cp6"><rect x="309.4" y="475.6" width="106.2" height="68.1"/></clipPath><g clip-path="url(#cp6)"><path d="M300.2 480.2L306.1 480.2M300.2 480.2L297.8 485.1M300.2 480.2L297.8 475.4M317.8 480.2L323.8 480.2M309.1 485.1L306.2 490M315 485.1L318.1 490M309.1 475.4L306.2 470.5M315 475.4L318.1 470.5M323.8 480.2L326.2 485.1M323.8 480.2L326.2 475.4M333.8 480.2L339.6 480.2M333.8 480.2L331.2 485.1M333.8 480.2L331.2 475.4M351.3 480.2L357.2 480.2M342.6 485.1L339.8 490M348.5 485.1L351.6 490M342.6 475.4L339.8 470.5M348.5 475.4L351.6 470.5M357.2 480.2L359.8 485.1M357.2 480.2L359.8 475.4M367.2 480.2L373.1 480.2M367.2 480.2L364.8 485.1M367.2 480.2L364.8 475.4M384.8 480.2L390.8 480.2M376.1 485.1L373.2 490M382 485.1L385.1 490M376.1 475.4L373.2 470.5M382 475.4L385.1 470.5M390.8 480.2L393.2 485.1M390.8 480.2L393.2 475.4M400.8 480.2L406.6 480.2M400.8 480.2L398.2 485.1M400.8 480.2L398.2 475.4M418.3 480.2L424.2 480.2M409.6 485.1L406.8 490M415.5 485.1L418.6 490M409.6 475.4L406.8 470.5M415.5 475.4L418.6 470.5M424.2 480.2L426.8 485.1M424.2 480.2L426.8 475.4M300.8 490L306.2 490M298.1 494.8L300.9 499.7M306.2 490L309.1 494.8M318.1 490L323.4 490M318.1 490L315 494.8M334.2 490L339.8 490M325.6 494.8L322.5 499.7M331.6 494.8L334.4 499.7M339.8 490L342.6 494.8M351.6 490L356.9 490M351.6 490L348.5 494.8M367.8 490L373.2 490M359.1 494.8L356 499.7M365.1 494.8L367.9 499.7M373.2 490L376.1 494.8M385.1 490L390.4 490M385.1 490L382 494.8M401.2 490L406.8 490M392.6 494.8L389.5 499.7M398.6 494.8L401.4 499.7M406.8 490L409.6 494.8M418.6 490L423.9 490M418.6 490L415.5 494.8M426.1 494.8L423 499.7M300.9 499.7L306.4 499.7M300.9 499.7L298.1 504.6M317.2 499.7L322.5 499.7M309.5 504.6L307.1 509.4M314.4 504.6L316.9 509.4M322.5 499.7L325.6 504.6M334.4 499.7L339.9 499.7M334.4 499.7L331.6 504.6M350.7 499.7L356 499.7M343 504.6L340.6 509.4M347.9 504.6L350.4 509.4M356 499.7L359.1 504.6M367.9 499.7L373.4 499.7M367.9 499.7L365.1 504.6M384.2 499.7L389.5 499.7M376.5 504.6L374.1 509.4M381.4 504.6L383.9 509.4M389.5 499.7L392.6 504.6M401.4 499.7L406.9 499.7M401.4 499.7L398.6 504.6M417.7 499.7L423 499.7M410 504.6L407.6 509.4M414.9 504.6L417.4 509.4M423 499.7L426.1 504.6M301.2 509.4L307.1 509.4M298.1 514.3L300.9 519.1M307.1 509.4L309.5 514.3M316.9 509.4L322.8 509.4M316.9 509.4L314.4 514.3M334.7 509.4L340.6 509.4M325.6 514.3L322.5 519.1M331.6 514.3L334.4 519.1M340.6 509.4L343 514.3M350.4 509.4L356.3 509.4M350.4 509.4L347.9 514.3M368.2 509.4L374.1 509.4M359.1 514.3L356 519.1M365.1 514.3L367.9 519.1M374.1 509.4L376.5 514.3M383.9 509.4L389.8 509.4M383.9 509.4L381.4 514.3M401.7 509.4L407.6 509.4M392.6 514.3L389.5 519.1M398.6 514.3L401.4 519.1M407.6 509.4L410 514.3M417.4 509.4L423.3 509.4M417.4 509.4L414.9 514.3M426.1 514.3L423 519.1M300.9 519.1L306.4 519.1M300.9 519.1L298.1 524M317.2 519.1L322.5 519.1M309.1 524L306.2 528.9M315 524L318.1 528.9M322.5 519.1L325.6 524M334.4 519.1L339.9 519.1M334.4 519.1L331.6 524M350.7 519.1L356 519.1M342.6 524L339.8 528.9M348.5 524L351.6 528.9M356 519.1L359.1 524M367.9 519.1L373.4 519.1M367.9 519.1L365.1 524M384.2 519.1L389.5 519.1M376.1 524L373.2 528.9M382 524L385.1 528.9M389.5 519.1L392.6 524M401.4 519.1L406.9 519.1M401.4 519.1L398.6 524M417.7 519.1L423 519.1M409.6 524L406.8 528.9M415.5 524L418.6 528.9M423 519.1L426.1 524M300.8 528.9L306.2 528.9M297.8 533.7L300.2 538.6M306.2 528.9L309.1 533.7M318.1 528.9L323.4 528.9M318.1 528.9L315 533.7M334.2 528.9L339.8 528.9M326.2 533.7L323.8 538.6M331.2 533.7L333.8 538.6M339.8 528.9L342.6 533.7M351.6 528.9L356.9 528.9M351.6 528.9L348.5 533.7M367.8 528.9L373.2 528.9M359.8 533.7L357.2 538.6M364.8 533.7L367.2 538.6M373.2 528.9L376.1 533.7M385.1 528.9L390.4 528.9M385.1 528.9L382 533.7M401.2 528.9L406.8 528.9M393.2 533.7L390.8 538.6M398.2 533.7L400.8 538.6M406.8 528.9L409.6 533.7M418.6 528.9L423.9 528.9M418.6 528.9L415.5 533.7M426.8 533.7L424.2 538.6M300.2 538.6L306.1 538.6M300.2 538.6L297.8 543.4M317.8 538.6L323.8 538.6M309.1 543.4L306.2 548.3M315 543.4L318.1 548.3M323.8 538.6L326.2 543.4M333.8 538.6L339.6 538.6M333.8 538.6L331.2 543.4M351.3 538.6L357.2 538.6M342.6 543.4L339.8 548.3M348.5 543.4L351.6 548.3M357.2 538.6L359.8 543.4M367.2 538.6L373.1 538.6M367.2 538.6L364.8 543.4M384.8 538.6L390.8 538.6M376.1 543.4L373.2 548.3M382 543.4L385.1 548.3M390.8 538.6L393.2 543.4M400.8 538.6L406.6 538.6M400.8 538.6L398.2 543.4M418.3 538.6L424.2 538.6M409.6 543.4L406.8 548.3M415.5 543.4L418.6 548.3M424.2 538.6L426.8 543.4M300.8 470.5L306.2 470.5M300.8 548.3L306.2 548.3M318.1 470.5L323.4 470.5M334.2 470.5L339.8 470.5M318.1 548.3L323.4 548.3M334.2 548.3L339.8 548.3M351.6 470.5L356.9 470.5M367.8 470.5L373.2 470.5M351.6 548.3L356.9 548.3M367.8 548.3L373.2 548.3M385.1 470.5L390.4 470.5M401.2 470.5L406.8 470.5M385.1 548.3L390.4 548.3M401.2 548.3L406.8 548.3M418.6 470.5L423.9 470.5M418.6 548.3L423.9 548.3" stroke="#efe01a" stroke-width="1.3" fill="none"/><path d="M306.1 480.2L311.9 480.2M311.9 480.2L317.8 480.2M311.9 480.2L309.1 485.1M311.9 480.2L315 485.1M311.9 480.2L309.1 475.4M311.9 480.2L315 475.4M339.6 480.2L345.4 480.2M345.4 480.2L351.3 480.2M345.4 480.2L342.6 485.1M345.4 480.2L348.5 485.1M345.4 480.2L342.6 475.4M345.4 480.2L348.5 475.4M373.1 480.2L378.9 480.2M378.9 480.2L384.8 480.2M378.9 480.2L376.1 485.1M378.9 480.2L382 485.1M378.9 480.2L376.1 475.4M378.9 480.2L382 475.4M406.6 480.2L412.4 480.2M412.4 480.2L418.3 480.2M412.4 480.2L409.6 485.1M412.4 480.2L415.5 485.1M412.4 480.2L409.6 475.4M412.4 480.2L415.5 475.4M298.1 504.6L295.2 509.4M325.6 504.6L328.8 509.4M331.6 504.6L328.8 509.4M359.1 504.6L362.2 509.4M365.1 504.6L362.2 509.4M392.6 504.6L395.8 509.4M398.6 504.6L395.8 509.4M426.1 504.6L429.2 509.4M295.2 509.4L301.2 509.4M295.2 509.4L298.1 514.3M322.8 509.4L328.8 509.4M328.8 509.4L334.7 509.4M328.8 509.4L325.6 514.3M328.8 509.4L331.6 514.3M356.3 509.4L362.2 509.4M362.2 509.4L368.2 509.4M362.2 509.4L359.1 514.3M362.2 509.4L365.1 514.3M389.8 509.4L395.8 509.4M395.8 509.4L401.7 509.4M395.8 509.4L392.6 514.3M395.8 509.4L398.6 514.3M423.3 509.4L429.2 509.4M429.2 509.4L426.1 514.3M309.1 533.7L311.9 538.6M315 533.7L311.9 538.6M342.6 533.7L345.4 538.6M348.5 533.7L345.4 538.6M376.1 533.7L378.9 538.6M382 533.7L378.9 538.6M409.6 533.7L412.4 538.6M415.5 533.7L412.4 538.6M306.1 538.6L311.9 538.6M311.9 538.6L317.8 538.6M311.9 538.6L309.1 543.4M311.9 538.6L315 543.4M339.6 538.6L345.4 538.6M345.4 538.6L351.3 538.6M345.4 538.6L342.6 543.4M345.4 538.6L348.5 543.4M373.1 538.6L378.9 538.6M378.9 538.6L384.8 538.6M378.9 538.6L376.1 543.4M378.9 538.6L382 543.4M406.6 538.6L412.4 538.6M412.4 538.6L418.3 538.6M412.4 538.6L409.6 543.4M412.4 538.6L415.5 543.4" stroke="#e296e4" stroke-width="1.3" fill="none"/><path d="M297.8 485.1L295.2 490M297.8 475.4L295.2 470.5M326.2 485.1L328.8 490M326.2 475.4L328.8 470.5M331.2 485.1L328.8 490M331.2 475.4L328.8 470.5M359.8 485.1L362.2 490M359.8 475.4L362.2 470.5M364.8 485.1L362.2 490M364.8 475.4L362.2 470.5M393.2 485.1L395.8 490M393.2 475.4L395.8 470.5M398.2 485.1L395.8 490M398.2 475.4L395.8 470.5M426.8 485.1L429.2 490M426.8 475.4L429.2 470.5M295.2 490L300.8 490M295.2 490L298.1 494.8M309.1 494.8L311.9 499.7M323.4 490L328.8 490M315 494.8L311.9 499.7M328.8 490L334.2 490M328.8 490L325.6 494.8M328.8 490L331.6 494.8M342.6 494.8L345.4 499.7M356.9 490L362.2 490M348.5 494.8L345.4 499.7M362.2 490L367.8 490M362.2 490L359.1 494.8M362.2 490L365.1 494.8M376.1 494.8L378.9 499.7M390.4 490L395.8 490M382 494.8L378.9 499.7M395.8 490L401.2 490M395.8 490L392.6 494.8M395.8 490L398.6 494.8M409.6 494.8L412.4 499.7M423.9 490L429.2 490M415.5 494.8L412.4 499.7M429.2 490L426.1 494.8M306.4 499.7L311.9 499.7M311.9 499.7L317.2 499.7M311.9 499.7L309.5 504.6M311.9 499.7L314.4 504.6M339.9 499.7L345.4 499.7M345.4 499.7L350.7 499.7M345.4 499.7L343 504.6M345.4 499.7L347.9 504.6M373.4 499.7L378.9 499.7M378.9 499.7L384.2 499.7M378.9 499.7L376.5 504.6M378.9 499.7L381.4 504.6M406.9 499.7L412.4 499.7M412.4 499.7L417.7 499.7M412.4 499.7L410 504.6M412.4 499.7L414.9 504.6M309.5 514.3L311.9 519.1M314.4 514.3L311.9 519.1M343 514.3L345.4 519.1M347.9 514.3L345.4 519.1M376.5 514.3L378.9 519.1M381.4 514.3L378.9 519.1M410 514.3L412.4 519.1M414.9 514.3L412.4 519.1M306.4 519.1L311.9 519.1M298.1 524L295.2 528.9M311.9 519.1L317.2 519.1M311.9 519.1L309.1 524M311.9 519.1L315 524M325.6 524L328.8 528.9M339.9 519.1L345.4 519.1M331.6 524L328.8 528.9M345.4 519.1L350.7 519.1M345.4 519.1L342.6 524M345.4 519.1L348.5 524M359.1 524L362.2 528.9M373.4 519.1L378.9 519.1M365.1 524L362.2 528.9M378.9 519.1L384.2 519.1M378.9 519.1L376.1 524M378.9 519.1L382 524M392.6 524L395.8 528.9M406.9 519.1L412.4 519.1M398.6 524L395.8 528.9M412.4 519.1L417.7 519.1M412.4 519.1L409.6 524M412.4 519.1L415.5 524M426.1 524L429.2 528.9M295.2 528.9L300.8 528.9M295.2 528.9L297.8 533.7M323.4 528.9L328.8 528.9M328.8 528.9L334.2 528.9M328.8 528.9L326.2 533.7M328.8 528.9L331.2 533.7M356.9 528.9L362.2 528.9M362.2 528.9L367.8 528.9M362.2 528.9L359.8 533.7M362.2 528.9L364.8 533.7M390.4 528.9L395.8 528.9M395.8 528.9L401.2 528.9M395.8 528.9L393.2 533.7M395.8 528.9L398.2 533.7M423.9 528.9L429.2 528.9M429.2 528.9L426.8 533.7M297.8 543.4L295.2 548.3M326.2 543.4L328.8 548.3M331.2 543.4L328.8 548.3M359.8 543.4L362.2 548.3M364.8 543.4L362.2 548.3M393.2 543.4L395.8 548.3M398.2 543.4L395.8 548.3M426.8 543.4L429.2 548.3M295.2 470.5L300.8 470.5M295.2 548.3L300.8 548.3M323.4 470.5L328.8 470.5M328.8 470.5L334.2 470.5M323.4 548.3L328.8 548.3M328.8 548.3L334.2 548.3M356.9 470.5L362.2 470.5M362.2 470.5L367.8 470.5M356.9 548.3L362.2 548.3M362.2 548.3L367.8 548.3M390.4 470.5L395.8 470.5M395.8 470.5L401.2 470.5M390.4 548.3L395.8 548.3M395.8 548.3L401.2 548.3M423.9 470.5L429.2 470.5M423.9 548.3L429.2 548.3" stroke="#4a66d8" stroke-width="1.3" fill="none"/><circle cx="300.2" cy="480.2" r="3.1" fill="url(#sS)"/><circle cx="311.9" cy="480.2" r="2.8" fill="url(#sPp)"/><circle cx="323.8" cy="480.2" r="3.1" fill="url(#sS)"/><circle cx="333.8" cy="480.2" r="3.1" fill="url(#sS)"/><circle cx="345.4" cy="480.2" r="2.8" fill="url(#sPp)"/><circle cx="357.2" cy="480.2" r="3.1" fill="url(#sS)"/><circle cx="367.2" cy="480.2" r="3.1" fill="url(#sS)"/><circle cx="378.9" cy="480.2" r="2.8" fill="url(#sPp)"/><circle cx="390.8" cy="480.2" r="3.1" fill="url(#sS)"/><circle cx="400.8" cy="480.2" r="3.1" fill="url(#sS)"/><circle cx="412.4" cy="480.2" r="2.8" fill="url(#sPp)"/><circle cx="424.2" cy="480.2" r="3.1" fill="url(#sS)"/><circle cx="295.2" cy="490" r="2.8" fill="url(#sCo)"/><circle cx="306.2" cy="490" r="3.1" fill="url(#sS)"/><circle cx="318.1" cy="490" r="3.1" fill="url(#sS)"/><circle cx="328.8" cy="490" r="2.8" fill="url(#sCo)"/><circle cx="339.8" cy="490" r="3.1" fill="url(#sS)"/><circle cx="351.6" cy="490" r="3.1" fill="url(#sS)"/><circle cx="362.2" cy="490" r="2.8" fill="url(#sCo)"/><circle cx="373.2" cy="490" r="3.1" fill="url(#sS)"/><circle cx="385.1" cy="490" r="3.1" fill="url(#sS)"/><circle cx="395.8" cy="490" r="2.8" fill="url(#sCo)"/><circle cx="406.8" cy="490" r="3.1" fill="url(#sS)"/><circle cx="418.6" cy="490" r="3.1" fill="url(#sS)"/><circle cx="429.2" cy="490" r="2.8" fill="url(#sCo)"/><circle cx="300.9" cy="499.7" r="3.1" fill="url(#sS)"/><circle cx="311.9" cy="499.7" r="2.8" fill="url(#sCo)"/><circle cx="322.5" cy="499.7" r="3.1" fill="url(#sS)"/><circle cx="334.4" cy="499.7" r="3.1" fill="url(#sS)"/><circle cx="345.4" cy="499.7" r="2.8" fill="url(#sCo)"/><circle cx="356" cy="499.7" r="3.1" fill="url(#sS)"/><circle cx="367.9" cy="499.7" r="3.1" fill="url(#sS)"/><circle cx="378.9" cy="499.7" r="2.8" fill="url(#sCo)"/><circle cx="389.5" cy="499.7" r="3.1" fill="url(#sS)"/><circle cx="401.4" cy="499.7" r="3.1" fill="url(#sS)"/><circle cx="412.4" cy="499.7" r="2.8" fill="url(#sCo)"/><circle cx="423" cy="499.7" r="3.1" fill="url(#sS)"/><circle cx="295.2" cy="509.4" r="2.8" fill="url(#sPp)"/><circle cx="307.1" cy="509.4" r="3.1" fill="url(#sS)"/><circle cx="316.9" cy="509.4" r="3.1" fill="url(#sS)"/><circle cx="328.8" cy="509.4" r="2.8" fill="url(#sPp)"/><circle cx="340.6" cy="509.4" r="3.1" fill="url(#sS)"/><circle cx="350.4" cy="509.4" r="3.1" fill="url(#sS)"/><circle cx="362.2" cy="509.4" r="2.8" fill="url(#sPp)"/><circle cx="374.1" cy="509.4" r="3.1" fill="url(#sS)"/><circle cx="383.9" cy="509.4" r="3.1" fill="url(#sS)"/><circle cx="395.8" cy="509.4" r="2.8" fill="url(#sPp)"/><circle cx="407.6" cy="509.4" r="3.1" fill="url(#sS)"/><circle cx="417.4" cy="509.4" r="3.1" fill="url(#sS)"/><circle cx="429.2" cy="509.4" r="2.8" fill="url(#sPp)"/><circle cx="300.9" cy="519.1" r="3.1" fill="url(#sS)"/><circle cx="311.9" cy="519.1" r="2.8" fill="url(#sCo)"/><circle cx="322.5" cy="519.1" r="3.1" fill="url(#sS)"/><circle cx="334.4" cy="519.1" r="3.1" fill="url(#sS)"/><circle cx="345.4" cy="519.1" r="2.8" fill="url(#sCo)"/><circle cx="356" cy="519.1" r="3.1" fill="url(#sS)"/><circle cx="367.9" cy="519.1" r="3.1" fill="url(#sS)"/><circle cx="378.9" cy="519.1" r="2.8" fill="url(#sCo)"/><circle cx="389.5" cy="519.1" r="3.1" fill="url(#sS)"/><circle cx="401.4" cy="519.1" r="3.1" fill="url(#sS)"/><circle cx="412.4" cy="519.1" r="2.8" fill="url(#sCo)"/><circle cx="423" cy="519.1" r="3.1" fill="url(#sS)"/><circle cx="295.2" cy="528.9" r="2.8" fill="url(#sCo)"/><circle cx="306.2" cy="528.9" r="3.1" fill="url(#sS)"/><circle cx="318.1" cy="528.9" r="3.1" fill="url(#sS)"/><circle cx="328.8" cy="528.9" r="2.8" fill="url(#sCo)"/><circle cx="339.8" cy="528.9" r="3.1" fill="url(#sS)"/><circle cx="351.6" cy="528.9" r="3.1" fill="url(#sS)"/><circle cx="362.2" cy="528.9" r="2.8" fill="url(#sCo)"/><circle cx="373.2" cy="528.9" r="3.1" fill="url(#sS)"/><circle cx="385.1" cy="528.9" r="3.1" fill="url(#sS)"/><circle cx="395.8" cy="528.9" r="2.8" fill="url(#sCo)"/><circle cx="406.8" cy="528.9" r="3.1" fill="url(#sS)"/><circle cx="418.6" cy="528.9" r="3.1" fill="url(#sS)"/><circle cx="429.2" cy="528.9" r="2.8" fill="url(#sCo)"/><circle cx="300.2" cy="538.6" r="3.1" fill="url(#sS)"/><circle cx="311.9" cy="538.6" r="2.8" fill="url(#sPp)"/><circle cx="323.8" cy="538.6" r="3.1" fill="url(#sS)"/><circle cx="333.8" cy="538.6" r="3.1" fill="url(#sS)"/><circle cx="345.4" cy="538.6" r="2.8" fill="url(#sPp)"/><circle cx="357.2" cy="538.6" r="3.1" fill="url(#sS)"/><circle cx="367.2" cy="538.6" r="3.1" fill="url(#sS)"/><circle cx="378.9" cy="538.6" r="2.8" fill="url(#sPp)"/><circle cx="390.8" cy="538.6" r="3.1" fill="url(#sS)"/><circle cx="400.8" cy="538.6" r="3.1" fill="url(#sS)"/><circle cx="412.4" cy="538.6" r="2.8" fill="url(#sPp)"/><circle cx="424.2" cy="538.6" r="3.1" fill="url(#sS)"/><circle cx="295.2" cy="470.5" r="3.2" fill="url(#sCo)"/><circle cx="306.2" cy="470.5" r="3.2" fill="url(#sS)"/><circle cx="295.2" cy="548.3" r="3.2" fill="url(#sCo)"/><circle cx="306.2" cy="548.3" r="3.2" fill="url(#sS)"/><circle cx="318.1" cy="470.5" r="3.2" fill="url(#sS)"/><circle cx="328.8" cy="470.5" r="3.2" fill="url(#sCo)"/><circle cx="339.8" cy="470.5" r="3.2" fill="url(#sS)"/><circle cx="318.1" cy="548.3" r="3.2" fill="url(#sS)"/><circle cx="328.8" cy="548.3" r="3.2" fill="url(#sCo)"/><circle cx="339.8" cy="548.3" r="3.2" fill="url(#sS)"/><circle cx="351.6" cy="470.5" r="3.2" fill="url(#sS)"/><circle cx="362.2" cy="470.5" r="3.2" fill="url(#sCo)"/><circle cx="373.2" cy="470.5" r="3.2" fill="url(#sS)"/><circle cx="351.6" cy="548.3" r="3.2" fill="url(#sS)"/><circle cx="362.2" cy="548.3" r="3.2" fill="url(#sCo)"/><circle cx="373.2" cy="548.3" r="3.2" fill="url(#sS)"/><circle cx="385.1" cy="470.5" r="3.2" fill="url(#sS)"/><circle cx="395.8" cy="470.5" r="3.2" fill="url(#sCo)"/><circle cx="406.8" cy="470.5" r="3.2" fill="url(#sS)"/><circle cx="385.1" cy="548.3" r="3.2" fill="url(#sS)"/><circle cx="395.8" cy="548.3" r="3.2" fill="url(#sCo)"/><circle cx="406.8" cy="548.3" r="3.2" fill="url(#sS)"/><circle cx="418.6" cy="470.5" r="3.2" fill="url(#sS)"/><circle cx="429.2" cy="470.5" r="3.2" fill="url(#sCo)"/><circle cx="418.6" cy="548.3" r="3.2" fill="url(#sS)"/><circle cx="429.2" cy="548.3" r="3.2" fill="url(#sCo)"/></g>
<clipPath id="cp7"><rect x="66.2" y="573" width="107.5" height="70.8"/></clipPath><g clip-path="url(#cp7)"><path d="M66 592.2L174 592.2" stroke="#999" stroke-width="0.7" stroke-dasharray="2.2 2" fill="none"/><path d="M56.2 559L54.3 565.4M56.2 559L62.5 560.9M56.2 591.9L54.3 598.3M56.2 591.9L58.1 585.5M56.2 591.9L62.5 593.8M56.2 624.8L54.3 631.2M56.2 624.8L58.1 618.3M56.2 624.8L62.5 626.6M56.2 657.7L58.1 651.2M88.1 559L86.2 565.4M88.1 559L94.4 560.9M72.5 575.6L78.5 573.7M72.5 575.6L66.2 577.3M72.5 575.6L70.6 569.2M72.5 575.6L74 581.7M81.8 589.8L88.1 591.9M88.1 591.9L86.2 598.3M88.1 591.9L90 585.5M88.1 591.9L94.4 593.8M72.5 608.5L78.5 606.6M72.5 608.5L66.2 610.2M72.5 608.5L70.6 602M72.5 608.5L74 614.5M81.8 622.7L88.1 624.8M88.1 624.8L86.2 631.2M88.1 624.8L90 618.3M88.1 624.8L94.4 626.6M72.5 641.4L78.5 639.5M72.5 641.4L66.2 643.1M72.5 641.4L70.6 635M72.5 641.4L74 647.5M81.8 655.6L88.1 657.7M88.1 657.7L90 651.2M120 559L118.2 565.4M120 559L126.3 560.9M104.4 575.6L110.4 573.7M104.4 575.6L98.2 577.3M104.4 575.6L102.5 569.2M104.4 575.6L106 581.7M113.8 589.8L120 591.9M120 591.9L118.2 598.3M120 591.9L121.9 585.5M120 591.9L126.3 593.8M104.4 608.5L110.4 606.6M104.4 608.5L98.2 610.2M104.4 608.5L102.5 602M104.4 608.5L106 614.5M113.8 622.7L120 624.8M120 624.8L118.2 631.2M120 624.8L121.9 618.3M120 624.8L126.3 626.6M104.4 641.4L110.4 639.5M104.4 641.4L98.2 643.1M104.4 641.4L102.5 635M104.4 641.4L106 647.5M113.8 655.6L120 657.7M120 657.7L121.9 651.2M151.9 559L150.1 565.4M151.9 559L158.2 560.9M136.3 575.6L142.2 573.7M136.3 575.6L130.1 577.3M136.3 575.6L134.4 569.2M136.3 575.6L137.9 581.7M145.6 589.8L151.9 591.9M151.9 591.9L150.1 598.3M151.9 591.9L153.8 585.5M151.9 591.9L158.2 593.8M136.3 608.5L142.2 606.6M136.3 608.5L130.1 610.2M136.3 608.5L134.4 602M136.3 608.5L137.9 614.5M145.6 622.7L151.9 624.8M151.9 624.8L150.1 631.2M151.9 624.8L153.8 618.3M151.9 624.8L158.2 626.6M136.3 641.4L142.2 639.5M136.3 641.4L130.1 643.1M136.3 641.4L134.4 635M136.3 641.4L137.9 647.5M145.6 655.6L151.9 657.7M151.9 657.7L153.8 651.2M183.8 559L181.9 565.4M168.2 575.6L174.1 573.7M168.2 575.6L161.9 577.3M168.2 575.6L166.3 569.2M168.2 575.6L169.8 581.7M177.5 589.8L183.8 591.9M183.8 591.9L181.9 598.3M183.8 591.9L185.7 585.5M168.2 608.5L174.1 606.6M168.2 608.5L161.9 610.2M168.2 608.5L166.3 602M168.2 608.5L169.8 614.5M177.5 622.7L183.8 624.8M183.8 624.8L181.9 631.2M183.8 624.8L185.7 618.3M168.2 641.4L174.1 639.5M168.2 641.4L161.9 643.1M168.2 641.4L166.3 635M168.2 641.4L169.8 647.5M177.5 655.6L183.8 657.7M183.8 657.7L185.7 651.2" stroke="#217a92" stroke-width="1.2" fill="none"/><path d="M54.3 565.4L52.5 571.9M62.5 560.9L68.8 562.7M52.5 571.9L60 579M54.3 598.3L52.5 604.8M58.1 585.5L60 579M62.5 593.8L68.8 595.6M52.5 604.8L60 611.9M54.3 631.2L52.5 637.6M58.1 618.3L60 611.9M62.5 626.6L68.8 628.5M52.5 637.6L60 644.8M58.1 651.2L60 644.8M86.2 565.4L84.4 571.9M94.4 560.9L100.7 562.7M78.5 573.7L84.4 571.9M66.2 577.3L60 579M70.6 569.2L68.8 562.7M74 581.7L75.6 587.7M84.4 571.9L91.9 579M75.6 587.7L81.8 589.8M75.6 587.7L68.8 595.6M86.2 598.3L84.4 604.8M90 585.5L91.9 579M94.4 593.8L100.7 595.6M78.5 606.6L84.4 604.8M66.2 610.2L60 611.9M70.6 602L68.8 595.6M74 614.5L75.6 620.6M84.4 604.8L91.9 611.9M75.6 620.6L81.8 622.7M75.6 620.6L68.8 628.5M86.2 631.2L84.4 637.6M90 618.3L91.9 611.9M94.4 626.6L100.7 628.5M78.5 639.5L84.4 637.6M66.2 643.1L60 644.8M70.6 635L68.8 628.5M74 647.5L75.6 653.5M84.4 637.6L91.9 644.8M75.6 653.5L81.8 655.6M90 651.2L91.9 644.8M118.2 565.4L116.3 571.9M126.3 560.9L132.6 562.7M110.4 573.7L116.3 571.9M98.2 577.3L91.9 579M102.5 569.2L100.7 562.7M106 581.7L107.5 587.7M116.3 571.9L123.8 579M107.5 587.7L113.8 589.8M107.5 587.7L100.7 595.6M118.2 598.3L116.3 604.8M121.9 585.5L123.8 579M126.3 593.8L132.6 595.6M110.4 606.6L116.3 604.8M98.2 610.2L91.9 611.9M102.5 602L100.7 595.6M106 614.5L107.5 620.6M116.3 604.8L123.8 611.9M107.5 620.6L113.8 622.7M107.5 620.6L100.7 628.5M118.2 631.2L116.3 637.6M121.9 618.3L123.8 611.9M126.3 626.6L132.6 628.5M110.4 639.5L116.3 637.6M98.2 643.1L91.9 644.8M102.5 635L100.7 628.5M106 647.5L107.5 653.5M116.3 637.6L123.8 644.8M107.5 653.5L113.8 655.6M121.9 651.2L123.8 644.8M150.1 565.4L148.2 571.9M158.2 560.9L164.4 562.7M142.2 573.7L148.2 571.9M130.1 577.3L123.8 579M134.4 569.2L132.6 562.7M137.9 581.7L139.4 587.7M148.2 571.9L155.7 579M139.4 587.7L145.6 589.8M139.4 587.7L132.6 595.6M150.1 598.3L148.2 604.8M153.8 585.5L155.7 579M158.2 593.8L164.4 595.6M142.2 606.6L148.2 604.8M130.1 610.2L123.8 611.9M134.4 602L132.6 595.6M137.9 614.5L139.4 620.6M148.2 604.8L155.7 611.9M139.4 620.6L145.6 622.7M139.4 620.6L132.6 628.5M150.1 631.2L148.2 637.6M153.8 618.3L155.7 611.9M158.2 626.6L164.4 628.5M142.2 639.5L148.2 637.6M130.1 643.1L123.8 644.8M134.4 635L132.6 628.5M137.9 647.5L139.4 653.5M148.2 637.6L155.7 644.8M139.4 653.5L145.6 655.6M153.8 651.2L155.7 644.8M181.9 565.4L180.1 571.9M174.1 573.7L180.1 571.9M161.9 577.3L155.7 579M166.3 569.2L164.4 562.7M169.8 581.7L171.3 587.7M180.1 571.9L187.6 579M171.3 587.7L177.5 589.8M171.3 587.7L164.4 595.6M181.9 598.3L180.1 604.8M185.7 585.5L187.6 579M174.1 606.6L180.1 604.8M161.9 610.2L155.7 611.9M166.3 602L164.4 595.6M169.8 614.5L171.3 620.6M180.1 604.8L187.6 611.9M171.3 620.6L177.5 622.7M171.3 620.6L164.4 628.5M181.9 631.2L180.1 637.6M185.7 618.3L187.6 611.9M174.1 639.5L180.1 637.6M161.9 643.1L155.7 644.8M166.3 635L164.4 628.5M169.8 647.5L171.3 653.5M180.1 637.6L187.6 644.8M171.3 653.5L177.5 655.6M185.7 651.2L187.6 644.8" stroke="#efe01a" stroke-width="1.2" fill="none"/><circle cx="56.2" cy="559" r="3.1" fill="url(#sPd)"/><circle cx="52.5" cy="571.9" r="3.3" fill="url(#sS)"/><circle cx="56.2" cy="591.9" r="3.1" fill="url(#sPd)"/><circle cx="52.5" cy="604.8" r="3.3" fill="url(#sS)"/><circle cx="56.2" cy="624.8" r="3.1" fill="url(#sPd)"/><circle cx="52.5" cy="637.6" r="3.3" fill="url(#sS)"/><circle cx="56.2" cy="657.7" r="3.1" fill="url(#sPd)"/><circle cx="88.1" cy="559" r="3.1" fill="url(#sPd)"/><circle cx="72.5" cy="575.6" r="3.1" fill="url(#sPd)"/><circle cx="84.4" cy="571.9" r="3.3" fill="url(#sS)"/><circle cx="60" cy="579" r="3.3" fill="url(#sS)"/><circle cx="68.8" cy="562.7" r="3.3" fill="url(#sS)"/><circle cx="75.6" cy="587.7" r="3.3" fill="url(#sS)"/><circle cx="88.1" cy="591.9" r="3.1" fill="url(#sPd)"/><circle cx="72.5" cy="608.5" r="3.1" fill="url(#sPd)"/><circle cx="84.4" cy="604.8" r="3.3" fill="url(#sS)"/><circle cx="60" cy="611.9" r="3.3" fill="url(#sS)"/><circle cx="68.8" cy="595.6" r="3.3" fill="url(#sS)"/><circle cx="75.6" cy="620.6" r="3.3" fill="url(#sS)"/><circle cx="88.1" cy="624.8" r="3.1" fill="url(#sPd)"/><circle cx="72.5" cy="641.4" r="3.1" fill="url(#sPd)"/><circle cx="84.4" cy="637.6" r="3.3" fill="url(#sS)"/><circle cx="60" cy="644.8" r="3.3" fill="url(#sS)"/><circle cx="68.8" cy="628.5" r="3.3" fill="url(#sS)"/><circle cx="75.6" cy="653.5" r="3.3" fill="url(#sS)"/><circle cx="88.1" cy="657.7" r="3.1" fill="url(#sPd)"/><circle cx="120" cy="559" r="3.1" fill="url(#sPd)"/><circle cx="104.4" cy="575.6" r="3.1" fill="url(#sPd)"/><circle cx="116.3" cy="571.9" r="3.3" fill="url(#sS)"/><circle cx="91.9" cy="579" r="3.3" fill="url(#sS)"/><circle cx="100.7" cy="562.7" r="3.3" fill="url(#sS)"/><circle cx="107.5" cy="587.7" r="3.3" fill="url(#sS)"/><circle cx="120" cy="591.9" r="3.1" fill="url(#sPd)"/><circle cx="104.4" cy="608.5" r="3.1" fill="url(#sPd)"/><circle cx="116.3" cy="604.8" r="3.3" fill="url(#sS)"/><circle cx="91.9" cy="611.9" r="3.3" fill="url(#sS)"/><circle cx="100.7" cy="595.6" r="3.3" fill="url(#sS)"/><circle cx="107.5" cy="620.6" r="3.3" fill="url(#sS)"/><circle cx="120" cy="624.8" r="3.1" fill="url(#sPd)"/><circle cx="104.4" cy="641.4" r="3.1" fill="url(#sPd)"/><circle cx="116.3" cy="637.6" r="3.3" fill="url(#sS)"/><circle cx="91.9" cy="644.8" r="3.3" fill="url(#sS)"/><circle cx="100.7" cy="628.5" r="3.3" fill="url(#sS)"/><circle cx="107.5" cy="653.5" r="3.3" fill="url(#sS)"/><circle cx="120" cy="657.7" r="3.1" fill="url(#sPd)"/><circle cx="151.9" cy="559" r="3.1" fill="url(#sPd)"/><circle cx="136.3" cy="575.6" r="3.1" fill="url(#sPd)"/><circle cx="148.2" cy="571.9" r="3.3" fill="url(#sS)"/><circle cx="123.8" cy="579" r="3.3" fill="url(#sS)"/><circle cx="132.6" cy="562.7" r="3.3" fill="url(#sS)"/><circle cx="139.4" cy="587.7" r="3.3" fill="url(#sS)"/><circle cx="151.9" cy="591.9" r="3.1" fill="url(#sPd)"/><circle cx="136.3" cy="608.5" r="3.1" fill="url(#sPd)"/><circle cx="148.2" cy="604.8" r="3.3" fill="url(#sS)"/><circle cx="123.8" cy="611.9" r="3.3" fill="url(#sS)"/><circle cx="132.6" cy="595.6" r="3.3" fill="url(#sS)"/><circle cx="139.4" cy="620.6" r="3.3" fill="url(#sS)"/><circle cx="151.9" cy="624.8" r="3.1" fill="url(#sPd)"/><circle cx="136.3" cy="641.4" r="3.1" fill="url(#sPd)"/><circle cx="148.2" cy="637.6" r="3.3" fill="url(#sS)"/><circle cx="123.8" cy="644.8" r="3.3" fill="url(#sS)"/><circle cx="132.6" cy="628.5" r="3.3" fill="url(#sS)"/><circle cx="139.4" cy="653.5" r="3.3" fill="url(#sS)"/><circle cx="151.9" cy="657.7" r="3.1" fill="url(#sPd)"/><circle cx="183.8" cy="559" r="3.1" fill="url(#sPd)"/><circle cx="168.2" cy="575.6" r="3.1" fill="url(#sPd)"/><circle cx="180.1" cy="571.9" r="3.3" fill="url(#sS)"/><circle cx="155.7" cy="579" r="3.3" fill="url(#sS)"/><circle cx="164.4" cy="562.7" r="3.3" fill="url(#sS)"/><circle cx="171.3" cy="587.7" r="3.3" fill="url(#sS)"/><circle cx="183.8" cy="591.9" r="3.1" fill="url(#sPd)"/><circle cx="168.2" cy="608.5" r="3.1" fill="url(#sPd)"/><circle cx="180.1" cy="604.8" r="3.3" fill="url(#sS)"/><circle cx="155.7" cy="611.9" r="3.3" fill="url(#sS)"/><circle cx="164.4" cy="595.6" r="3.3" fill="url(#sS)"/><circle cx="171.3" cy="620.6" r="3.3" fill="url(#sS)"/><circle cx="183.8" cy="624.8" r="3.1" fill="url(#sPd)"/><circle cx="168.2" cy="641.4" r="3.1" fill="url(#sPd)"/><circle cx="180.1" cy="637.6" r="3.3" fill="url(#sS)"/><circle cx="155.7" cy="644.8" r="3.3" fill="url(#sS)"/><circle cx="164.4" cy="628.5" r="3.3" fill="url(#sS)"/><circle cx="171.3" cy="653.5" r="3.3" fill="url(#sS)"/><circle cx="183.8" cy="657.7" r="3.1" fill="url(#sPd)"/><circle cx="187.6" cy="579" r="3.3" fill="url(#sS)"/><circle cx="187.6" cy="611.9" r="3.3" fill="url(#sS)"/><circle cx="187.6" cy="644.8" r="3.3" fill="url(#sS)"/></g>
<clipPath id="cp8"><rect x="190" y="571.2" width="103" height="69.4"/></clipPath><g clip-path="url(#cp8)"><path d="M241.5 571L241.5 641" stroke="#bbb" stroke-width="0.9" stroke-dasharray="2 2.5" fill="none"/><path d="M273.5 571L273.5 641" stroke="#bbb" stroke-width="0.9" stroke-dasharray="2 2.5" fill="none"/><path d="M190 629.5L293 629.5" stroke="#ddd" stroke-width="0.6" stroke-dasharray="2.2 2" fill="none"/><path d="M175.7 580L183.8 572.7M175.7 580L183.8 589.2M207.8 580L199.8 572.7M207.8 580L215.8 572.7M207.8 580L199.8 589.2M207.8 580L215.8 589.2M239.8 580L231.8 572.7M239.8 580L247.8 572.7M239.8 580L231.8 589.2M239.8 580L247.8 589.2M271.9 580L263.8 572.7M271.9 580L279.8 572.7M271.9 580L263.8 589.2M271.9 580L279.8 589.2M303.9 580L295.8 572.7M303.9 580L295.8 589.2M175.7 612.9L183.8 605.7M175.7 612.9L183.8 622.2M207.8 612.9L199.8 605.7M207.8 612.9L215.8 605.7M207.8 612.9L199.8 622.2M207.8 612.9L215.8 622.2M239.8 612.9L231.8 605.7M239.8 612.9L247.8 605.7M239.8 612.9L231.8 622.2M239.8 612.9L247.8 622.2M271.9 612.9L263.8 605.7M271.9 612.9L279.8 605.7M271.9 612.9L263.8 622.2M271.9 612.9L279.8 622.2M303.9 612.9L295.8 605.7M303.9 612.9L295.8 622.2M175.7 645.8L183.8 638.7M207.8 645.8L199.8 638.7M207.8 645.8L215.8 638.7M239.8 645.8L231.8 638.7M239.8 645.8L247.8 638.7M271.9 645.8L263.8 638.7M271.9 645.8L279.8 638.7M303.9 645.8L295.8 638.7" stroke="#efe01a" stroke-width="1.8" fill="none"/><path d="M183.8 572.7L191.9 565.4M183.8 589.2L191.9 598.5M199.8 572.7L191.9 565.4M215.8 572.7L223.8 565.4M199.8 589.2L191.9 598.5M215.8 589.2L223.8 598.5M231.8 572.7L223.8 565.4M247.8 572.7L255.8 565.4M231.8 589.2L223.8 598.5M247.8 589.2L255.8 598.5M263.8 572.7L255.8 565.4M279.8 572.7L287.8 565.4M263.8 589.2L255.8 598.5M279.8 589.2L287.8 598.5M295.8 572.7L287.8 565.4M295.8 589.2L287.8 598.5M183.8 605.7L191.9 598.5M183.8 622.2L191.9 631.6M199.8 605.7L191.9 598.5M215.8 605.7L223.8 598.5M199.8 622.2L191.9 631.6M215.8 622.2L223.8 631.6M231.8 605.7L223.8 598.5M247.8 605.7L255.8 598.5M231.8 622.2L223.8 631.6M247.8 622.2L255.8 631.6M263.8 605.7L255.8 598.5M279.8 605.7L287.8 598.5M263.8 622.2L255.8 631.6M279.8 622.2L287.8 631.6M295.8 605.7L287.8 598.5M295.8 622.2L287.8 631.6M183.8 638.7L191.9 631.6M199.8 638.7L191.9 631.6M215.8 638.7L223.8 631.6M231.8 638.7L223.8 631.6M247.8 638.7L255.8 631.6M263.8 638.7L255.8 631.6M279.8 638.7L287.8 631.6M295.8 638.7L287.8 631.6" stroke="#647c7c" stroke-width="1.8" fill="none"/><circle cx="191.9" cy="562.8" r="3.6" fill="url(#sS)"/><circle cx="191.9" cy="565.4" r="4.2" fill="url(#sSn)"/><circle cx="223.8" cy="562.8" r="3.6" fill="url(#sS)"/><circle cx="223.8" cy="565.4" r="4.2" fill="url(#sSn)"/><circle cx="255.8" cy="562.8" r="3.6" fill="url(#sS)"/><circle cx="255.8" cy="565.4" r="4.2" fill="url(#sSn)"/><circle cx="287.8" cy="562.8" r="3.6" fill="url(#sS)"/><circle cx="287.8" cy="565.4" r="4.2" fill="url(#sSn)"/><circle cx="175.7" cy="582.4" r="4.1" fill="url(#sSn)"/><circle cx="175.7" cy="580" r="4.3" fill="url(#sS)"/><circle cx="207.8" cy="582.4" r="4.1" fill="url(#sSn)"/><circle cx="207.8" cy="580" r="4.3" fill="url(#sS)"/><circle cx="239.8" cy="582.4" r="4.1" fill="url(#sSn)"/><circle cx="239.8" cy="580" r="4.3" fill="url(#sS)"/><circle cx="271.9" cy="582.4" r="4.1" fill="url(#sSn)"/><circle cx="271.9" cy="580" r="4.3" fill="url(#sS)"/><circle cx="303.9" cy="582.4" r="4.1" fill="url(#sSn)"/><circle cx="303.9" cy="580" r="4.3" fill="url(#sS)"/><circle cx="191.9" cy="595.9" r="3.6" fill="url(#sS)"/><circle cx="191.9" cy="598.5" r="4.2" fill="url(#sSn)"/><circle cx="223.8" cy="595.9" r="3.6" fill="url(#sS)"/><circle cx="223.8" cy="598.5" r="4.2" fill="url(#sSn)"/><circle cx="255.8" cy="595.9" r="3.6" fill="url(#sS)"/><circle cx="255.8" cy="598.5" r="4.2" fill="url(#sSn)"/><circle cx="287.8" cy="595.9" r="3.6" fill="url(#sS)"/><circle cx="287.8" cy="598.5" r="4.2" fill="url(#sSn)"/><circle cx="175.7" cy="615.3" r="4.1" fill="url(#sSn)"/><circle cx="175.7" cy="612.9" r="4.3" fill="url(#sS)"/><circle cx="207.8" cy="615.3" r="4.1" fill="url(#sSn)"/><circle cx="207.8" cy="612.9" r="4.3" fill="url(#sS)"/><circle cx="239.8" cy="615.3" r="4.1" fill="url(#sSn)"/><circle cx="239.8" cy="612.9" r="4.3" fill="url(#sS)"/><circle cx="271.9" cy="615.3" r="4.1" fill="url(#sSn)"/><circle cx="271.9" cy="612.9" r="4.3" fill="url(#sS)"/><circle cx="303.9" cy="615.3" r="4.1" fill="url(#sSn)"/><circle cx="303.9" cy="612.9" r="4.3" fill="url(#sS)"/><circle cx="191.9" cy="629" r="3.6" fill="url(#sS)"/><circle cx="191.9" cy="631.6" r="4.2" fill="url(#sSn)"/><circle cx="223.8" cy="629" r="3.6" fill="url(#sS)"/><circle cx="223.8" cy="631.6" r="4.2" fill="url(#sSn)"/><circle cx="255.8" cy="629" r="3.6" fill="url(#sS)"/><circle cx="255.8" cy="631.6" r="4.2" fill="url(#sSn)"/><circle cx="287.8" cy="629" r="3.6" fill="url(#sS)"/><circle cx="287.8" cy="631.6" r="4.2" fill="url(#sSn)"/><circle cx="175.7" cy="648.2" r="4.1" fill="url(#sSn)"/><circle cx="175.7" cy="645.8" r="4.3" fill="url(#sS)"/><circle cx="207.8" cy="648.2" r="4.1" fill="url(#sSn)"/><circle cx="207.8" cy="645.8" r="4.3" fill="url(#sS)"/><circle cx="239.8" cy="648.2" r="4.1" fill="url(#sSn)"/><circle cx="239.8" cy="645.8" r="4.3" fill="url(#sS)"/><circle cx="271.9" cy="648.2" r="4.1" fill="url(#sSn)"/><circle cx="271.9" cy="645.8" r="4.3" fill="url(#sS)"/><circle cx="303.9" cy="648.2" r="4.1" fill="url(#sSn)"/><circle cx="303.9" cy="645.8" r="4.3" fill="url(#sS)"/></g>
<clipPath id="cp9"><rect x="309.4" y="571" width="106.6" height="70"/></clipPath><g clip-path="url(#cp9)"><path d="M309 596.4L416 596.4" stroke="#ddd" stroke-width="0.6" stroke-dasharray="2.2 2" fill="none"/><path d="M309 621.6L416 621.6" stroke="#ddd" stroke-width="0.6" stroke-dasharray="2.2 2" fill="none"/><path d="M311.9 559.1L305.4 565.7M311.9 559.1L318.1 565.7M337.3 559.1L330.8 565.7M337.3 559.1L343.5 565.7M362.7 559.1L356.2 565.7M362.7 559.1L368.9 565.7M388.1 559.1L381.6 565.7M388.1 559.1L394.3 565.7M413.5 559.1L407 565.7M413.5 559.1L419.8 565.7M305.4 578.3L311.9 584.4M318.1 578.3L311.9 584.4M330.8 578.3L337.3 584.4M311.9 584.4L305.4 590.9M311.9 584.4L318.1 590.9M343.5 578.3L337.3 584.4M356.2 578.3L362.7 584.4M337.3 584.4L330.8 590.9M337.3 584.4L343.5 590.9M368.9 578.3L362.7 584.4M381.6 578.3L388.1 584.4M362.7 584.4L356.2 590.9M362.7 584.4L368.9 590.9M394.3 578.3L388.1 584.4M407 578.3L413.5 584.4M388.1 584.4L381.6 590.9M388.1 584.4L394.3 590.9M419.8 578.3L413.5 584.4M413.5 584.4L407 590.9M413.5 584.4L419.8 590.9M305.4 603.5L311.9 609.7M318.1 603.5L311.9 609.7M330.8 603.5L337.3 609.7M311.9 609.7L305.4 616.1M311.9 609.7L318.1 616.1M343.5 603.5L337.3 609.7M356.2 603.5L362.7 609.7M337.3 609.7L330.8 616.1M337.3 609.7L343.5 616.1M368.9 603.5L362.7 609.7M381.6 603.5L388.1 609.7M362.7 609.7L356.2 616.1M362.7 609.7L368.9 616.1M394.3 603.5L388.1 609.7M407 603.5L413.5 609.7M388.1 609.7L381.6 616.1M388.1 609.7L394.3 616.1M419.8 603.5L413.5 609.7M413.5 609.7L407 616.1M413.5 609.7L419.8 616.1M305.4 628.7L311.9 635M318.1 628.7L311.9 635M330.8 628.7L337.3 635M311.9 635L305.4 641.3M311.9 635L318.1 641.3M343.5 628.7L337.3 635M356.2 628.7L362.7 635M337.3 635L330.8 641.3M337.3 635L343.5 641.3M368.9 628.7L362.7 635M381.6 628.7L388.1 635M362.7 635L356.2 641.3M362.7 635L368.9 641.3M394.3 628.7L388.1 635M407 628.7L413.5 635M388.1 635L381.6 641.3M388.1 635L394.3 641.3M419.8 628.7L413.5 635M413.5 635L407 641.3M413.5 635L419.8 641.3" stroke="#efe01a" stroke-width="1.4" fill="none"/><path d="M305.4 565.7L299 572.2M318.1 565.7L324.4 572.2M330.8 565.7L324.4 572.2M343.5 565.7L349.8 572.2M356.2 565.7L349.8 572.2M368.9 565.7L375.2 572.2M381.6 565.7L375.2 572.2M394.3 565.7L400.6 572.2M407 565.7L400.6 572.2M419.8 565.7L426 572.2M299 572.2L305.4 578.3M324.4 572.2L318.1 578.3M324.4 572.2L330.8 578.3M305.4 590.9L299 597.4M318.1 590.9L324.4 597.4M349.8 572.2L343.5 578.3M349.8 572.2L356.2 578.3M330.8 590.9L324.4 597.4M343.5 590.9L349.8 597.4M375.2 572.2L368.9 578.3M375.2 572.2L381.6 578.3M356.2 590.9L349.8 597.4M368.9 590.9L375.2 597.4M400.6 572.2L394.3 578.3M400.6 572.2L407 578.3M381.6 590.9L375.2 597.4M394.3 590.9L400.6 597.4M426 572.2L419.8 578.3M407 590.9L400.6 597.4M419.8 590.9L426 597.4M299 597.4L305.4 603.5M324.4 597.4L318.1 603.5M324.4 597.4L330.8 603.5M305.4 616.1L299 622.5M318.1 616.1L324.4 622.5M349.8 597.4L343.5 603.5M349.8 597.4L356.2 603.5M330.8 616.1L324.4 622.5M343.5 616.1L349.8 622.5M375.2 597.4L368.9 603.5M375.2 597.4L381.6 603.5M356.2 616.1L349.8 622.5M368.9 616.1L375.2 622.5M400.6 597.4L394.3 603.5M400.6 597.4L407 603.5M381.6 616.1L375.2 622.5M394.3 616.1L400.6 622.5M426 597.4L419.8 603.5M407 616.1L400.6 622.5M419.8 616.1L426 622.5M299 622.5L305.4 628.7M324.4 622.5L318.1 628.7M324.4 622.5L330.8 628.7M305.4 641.3L299 647.5M318.1 641.3L324.4 647.5M349.8 622.5L343.5 628.7M349.8 622.5L356.2 628.7M330.8 641.3L324.4 647.5M343.5 641.3L349.8 647.5M375.2 622.5L368.9 628.7M375.2 622.5L381.6 628.7M356.2 641.3L349.8 647.5M368.9 641.3L375.2 647.5M400.6 622.5L394.3 628.7M400.6 622.5L407 628.7M381.6 641.3L375.2 647.5M394.3 641.3L400.6 647.5M426 622.5L419.8 628.7M407 641.3L400.6 647.5M419.8 641.3L426 647.5" stroke="#a47c7c" stroke-width="1.4" fill="none"/><circle cx="311.9" cy="559.1" r="3" fill="url(#sS)"/><circle cx="337.3" cy="559.1" r="3" fill="url(#sS)"/><circle cx="362.7" cy="559.1" r="3" fill="url(#sS)"/><circle cx="388.1" cy="559.1" r="3" fill="url(#sS)"/><circle cx="413.5" cy="559.1" r="3" fill="url(#sS)"/><circle cx="299" cy="572.2" r="3.2" fill="url(#sIn)"/><circle cx="324.4" cy="572.2" r="3.2" fill="url(#sIn)"/><circle cx="311.9" cy="584.4" r="3" fill="url(#sS)"/><circle cx="349.8" cy="572.2" r="3.2" fill="url(#sIn)"/><circle cx="337.3" cy="584.4" r="3" fill="url(#sS)"/><circle cx="375.2" cy="572.2" r="3.2" fill="url(#sIn)"/><circle cx="362.7" cy="584.4" r="3" fill="url(#sS)"/><circle cx="400.6" cy="572.2" r="3.2" fill="url(#sIn)"/><circle cx="388.1" cy="584.4" r="3" fill="url(#sS)"/><circle cx="426" cy="572.2" r="3.2" fill="url(#sIn)"/><circle cx="413.5" cy="584.4" r="3" fill="url(#sS)"/><circle cx="299" cy="597.4" r="3.2" fill="url(#sIn)"/><circle cx="324.4" cy="597.4" r="3.2" fill="url(#sIn)"/><circle cx="311.9" cy="609.7" r="3" fill="url(#sS)"/><circle cx="349.8" cy="597.4" r="3.2" fill="url(#sIn)"/><circle cx="337.3" cy="609.7" r="3" fill="url(#sS)"/><circle cx="375.2" cy="597.4" r="3.2" fill="url(#sIn)"/><circle cx="362.7" cy="609.7" r="3" fill="url(#sS)"/><circle cx="400.6" cy="597.4" r="3.2" fill="url(#sIn)"/><circle cx="388.1" cy="609.7" r="3" fill="url(#sS)"/><circle cx="426" cy="597.4" r="3.2" fill="url(#sIn)"/><circle cx="413.5" cy="609.7" r="3" fill="url(#sS)"/><circle cx="299" cy="622.5" r="3.2" fill="url(#sIn)"/><circle cx="324.4" cy="622.5" r="3.2" fill="url(#sIn)"/><circle cx="311.9" cy="635" r="3" fill="url(#sS)"/><circle cx="349.8" cy="622.5" r="3.2" fill="url(#sIn)"/><circle cx="337.3" cy="635" r="3" fill="url(#sS)"/><circle cx="375.2" cy="622.5" r="3.2" fill="url(#sIn)"/><circle cx="362.7" cy="635" r="3" fill="url(#sS)"/><circle cx="400.6" cy="622.5" r="3.2" fill="url(#sIn)"/><circle cx="388.1" cy="635" r="3" fill="url(#sS)"/><circle cx="426" cy="622.5" r="3.2" fill="url(#sIn)"/><circle cx="413.5" cy="635" r="3" fill="url(#sS)"/><circle cx="299" cy="647.5" r="3.2" fill="url(#sIn)"/><circle cx="324.4" cy="647.5" r="3.2" fill="url(#sIn)"/><circle cx="349.8" cy="647.5" r="3.2" fill="url(#sIn)"/><circle cx="375.2" cy="647.5" r="3.2" fill="url(#sIn)"/><circle cx="400.6" cy="647.5" r="3.2" fill="url(#sIn)"/><circle cx="426" cy="647.5" r="3.2" fill="url(#sIn)"/></g>
<clipPath id="cp10"><rect x="65.6" y="672.2" width="109.4" height="70.5"/></clipPath><g clip-path="url(#cp10)"><path d="M65 693.4L176 693.4" stroke="#333" stroke-width="0.8" stroke-dasharray="2.4 2.2" fill="none"/><path d="M65 721.9L176 721.9" stroke="#333" stroke-width="0.8" stroke-dasharray="2.4 2.2" fill="none"/><path d="M77.5 672L77.5 743" stroke="#333" stroke-width="0.8" stroke-dasharray="2.4 2.2" fill="none"/><path d="M106.5 672L106.5 743" stroke="#333" stroke-width="0.8" stroke-dasharray="2.4 2.2" fill="none"/><path d="M135 672L135 743" stroke="#ccc" stroke-width="0.8" stroke-dasharray="2.4 2.2" fill="none"/><path d="M162.7 672L162.7 743" stroke="#ccc" stroke-width="0.8" stroke-dasharray="2.4 2.2" fill="none"/><path d="M56 657.5L63.1 657.5M77.5 657.5L84.7 657.5M70.2 664.6L70.2 671.8M84.7 657.5L91.8 657.5M106 657.5L113.2 657.5M98.8 664.6L98.8 671.8M113.2 657.5L120.3 657.5M134.7 657.5L141.8 657.5M127.5 664.6L127.5 671.8M141.8 657.5L148.9 657.5M163.2 657.5L170.5 657.5M156.1 664.6L156.1 671.8M170.5 657.5L177.6 657.5M184.7 664.6L184.7 671.8M56 686L63.1 686M77.5 686L84.7 686M70.2 678.9L70.2 671.8M70.2 693.2L70.2 700.3M84.7 686L91.8 686M106 686L113.2 686M98.8 678.9L98.8 671.8M98.8 693.2L98.8 700.3M113.2 686L120.3 686M134.7 686L141.8 686M127.5 678.9L127.5 671.8M127.5 693.2L127.5 700.3M141.8 686L148.9 686M163.2 686L170.5 686M156.1 678.9L156.1 671.8M156.1 693.2L156.1 700.3M170.5 686L177.6 686M184.7 678.9L184.7 671.8M184.7 693.2L184.7 700.3M56 714.5L63.1 714.5M77.5 714.5L84.7 714.5M70.2 707.4L70.2 700.3M70.2 721.7L70.2 728.9M84.7 714.5L91.8 714.5M106 714.5L113.2 714.5M98.8 707.4L98.8 700.3M98.8 721.7L98.8 728.9M113.2 714.5L120.3 714.5M134.7 714.5L141.8 714.5M127.5 707.4L127.5 700.3M127.5 721.7L127.5 728.9M141.8 714.5L148.9 714.5M163.2 714.5L170.5 714.5M156.1 707.4L156.1 700.3M156.1 721.7L156.1 728.9M170.5 714.5L177.6 714.5M184.7 707.4L184.7 700.3M184.7 721.7L184.7 728.9M56 743.1L63.1 743.1M77.5 743.1L84.7 743.1M70.2 736L70.2 728.9M70.2 750.3L70.2 757.4M84.7 743.1L91.8 743.1M106 743.1L113.2 743.1M98.8 736L98.8 728.9M98.8 750.3L98.8 757.4M113.2 743.1L120.3 743.1M134.7 743.1L141.8 743.1M127.5 736L127.5 728.9M127.5 750.3L127.5 757.4M141.8 743.1L148.9 743.1M163.2 743.1L170.5 743.1M156.1 736L156.1 728.9M156.1 750.3L156.1 757.4M170.5 743.1L177.6 743.1M184.7 736L184.7 728.9M184.7 750.3L184.7 757.4" stroke="#efe01a" stroke-width="1.5" fill="none"/><path d="M63.1 657.5L70.2 657.5M70.2 657.5L77.5 657.5M70.2 657.5L70.2 664.6M91.8 657.5L98.8 657.5M98.8 657.5L106 657.5M98.8 657.5L98.8 664.6M120.3 657.5L127.5 657.5M127.5 657.5L134.7 657.5M127.5 657.5L127.5 664.6M148.9 657.5L156.1 657.5M156.1 657.5L163.2 657.5M156.1 657.5L156.1 664.6M177.6 657.5L184.7 657.5M184.7 657.5L184.7 664.6M63.1 686L70.2 686M70.2 686L77.5 686M70.2 686L70.2 678.9M70.2 686L70.2 693.2M91.8 686L98.8 686M98.8 686L106 686M98.8 686L98.8 678.9M98.8 686L98.8 693.2M120.3 686L127.5 686M127.5 686L134.7 686M127.5 686L127.5 678.9M127.5 686L127.5 693.2M148.9 686L156.1 686M156.1 686L163.2 686M156.1 686L156.1 678.9M156.1 686L156.1 693.2M177.6 686L184.7 686M184.7 686L184.7 678.9M184.7 686L184.7 693.2M63.1 714.5L70.2 714.5M70.2 714.5L77.5 714.5M70.2 714.5L70.2 707.4M70.2 714.5L70.2 721.7M91.8 714.5L98.8 714.5M98.8 714.5L106 714.5M98.8 714.5L98.8 707.4M98.8 714.5L98.8 721.7M120.3 714.5L127.5 714.5M127.5 714.5L134.7 714.5M127.5 714.5L127.5 707.4M127.5 714.5L127.5 721.7M148.9 714.5L156.1 714.5M156.1 714.5L163.2 714.5M156.1 714.5L156.1 707.4M156.1 714.5L156.1 721.7M177.6 714.5L184.7 714.5M184.7 714.5L184.7 707.4M184.7 714.5L184.7 721.7M63.1 743.1L70.2 743.1M70.2 743.1L77.5 743.1M70.2 743.1L70.2 736M70.2 743.1L70.2 750.3M91.8 743.1L98.8 743.1M98.8 743.1L106 743.1M98.8 743.1L98.8 736M98.8 743.1L98.8 750.3M120.3 743.1L127.5 743.1M127.5 743.1L134.7 743.1M127.5 743.1L127.5 736M127.5 743.1L127.5 750.3M148.9 743.1L156.1 743.1M156.1 743.1L163.2 743.1M156.1 743.1L156.1 736M156.1 743.1L156.1 750.3M177.6 743.1L184.7 743.1M184.7 743.1L184.7 736M184.7 743.1L184.7 750.3" stroke="#62a474" stroke-width="1.5" fill="none"/><circle cx="56" cy="657.5" r="4.2" fill="url(#sS)"/><circle cx="70.2" cy="657.5" r="4.2" fill="url(#sGe)"/><circle cx="84.7" cy="657.5" r="4.2" fill="url(#sS)"/><circle cx="98.8" cy="657.5" r="4.2" fill="url(#sGe)"/><circle cx="113.2" cy="657.5" r="4.2" fill="url(#sS)"/><circle cx="127.5" cy="657.5" r="4.2" fill="url(#sGe)"/><circle cx="141.8" cy="657.5" r="4.2" fill="url(#sS)"/><circle cx="156.1" cy="657.5" r="4.2" fill="url(#sGe)"/><circle cx="170.5" cy="657.5" r="4.2" fill="url(#sS)"/><circle cx="184.7" cy="657.5" r="4.2" fill="url(#sGe)"/><circle cx="56" cy="686" r="4.2" fill="url(#sS)"/><circle cx="70.2" cy="686" r="4.2" fill="url(#sGe)"/><circle cx="84.7" cy="686" r="4.2" fill="url(#sS)"/><circle cx="70.2" cy="671.8" r="4" fill="url(#sS)"/><circle cx="98.8" cy="686" r="4.2" fill="url(#sGe)"/><circle cx="113.2" cy="686" r="4.2" fill="url(#sS)"/><circle cx="98.8" cy="671.8" r="4" fill="url(#sS)"/><circle cx="127.5" cy="686" r="4.2" fill="url(#sGe)"/><circle cx="141.8" cy="686" r="4.2" fill="url(#sS)"/><circle cx="127.5" cy="671.8" r="4" fill="url(#sS)"/><circle cx="156.1" cy="686" r="4.2" fill="url(#sGe)"/><circle cx="170.5" cy="686" r="4.2" fill="url(#sS)"/><circle cx="156.1" cy="671.8" r="4" fill="url(#sS)"/><circle cx="184.7" cy="686" r="4.2" fill="url(#sGe)"/><circle cx="184.7" cy="671.8" r="4" fill="url(#sS)"/><circle cx="56" cy="714.5" r="4.2" fill="url(#sS)"/><circle cx="70.2" cy="714.5" r="4.2" fill="url(#sGe)"/><circle cx="84.7" cy="714.5" r="4.2" fill="url(#sS)"/><circle cx="70.2" cy="700.3" r="4" fill="url(#sS)"/><circle cx="98.8" cy="714.5" r="4.2" fill="url(#sGe)"/><circle cx="113.2" cy="714.5" r="4.2" fill="url(#sS)"/><circle cx="98.8" cy="700.3" r="4" fill="url(#sS)"/><circle cx="127.5" cy="714.5" r="4.2" fill="url(#sGe)"/><circle cx="141.8" cy="714.5" r="4.2" fill="url(#sS)"/><circle cx="127.5" cy="700.3" r="4" fill="url(#sS)"/><circle cx="156.1" cy="714.5" r="4.2" fill="url(#sGe)"/><circle cx="170.5" cy="714.5" r="4.2" fill="url(#sS)"/><circle cx="156.1" cy="700.3" r="4" fill="url(#sS)"/><circle cx="184.7" cy="714.5" r="4.2" fill="url(#sGe)"/><circle cx="184.7" cy="700.3" r="4" fill="url(#sS)"/><circle cx="56" cy="743.1" r="4.2" fill="url(#sS)"/><circle cx="70.2" cy="743.1" r="4.2" fill="url(#sGe)"/><circle cx="84.7" cy="743.1" r="4.2" fill="url(#sS)"/><circle cx="70.2" cy="728.9" r="4" fill="url(#sS)"/><circle cx="98.8" cy="743.1" r="4.2" fill="url(#sGe)"/><circle cx="113.2" cy="743.1" r="4.2" fill="url(#sS)"/><circle cx="98.8" cy="728.9" r="4" fill="url(#sS)"/><circle cx="127.5" cy="743.1" r="4.2" fill="url(#sGe)"/><circle cx="141.8" cy="743.1" r="4.2" fill="url(#sS)"/><circle cx="127.5" cy="728.9" r="4" fill="url(#sS)"/><circle cx="156.1" cy="743.1" r="4.2" fill="url(#sGe)"/><circle cx="170.5" cy="743.1" r="4.2" fill="url(#sS)"/><circle cx="156.1" cy="728.9" r="4" fill="url(#sS)"/><circle cx="184.7" cy="743.1" r="4.2" fill="url(#sGe)"/><circle cx="184.7" cy="728.9" r="4" fill="url(#sS)"/><circle cx="70.2" cy="757.4" r="4" fill="url(#sS)"/><circle cx="98.8" cy="757.4" r="4" fill="url(#sS)"/><circle cx="127.5" cy="757.4" r="4" fill="url(#sS)"/><circle cx="156.1" cy="757.4" r="4" fill="url(#sS)"/><circle cx="184.7" cy="757.4" r="4" fill="url(#sS)"/></g>
<clipPath id="cp11"><rect x="186.9" y="672.2" width="108.7" height="70.5"/></clipPath><g clip-path="url(#cp11)"><path d="M183.2 664.1L183.2 671.3M183.2 664.1L190.5 664.1M183.2 685.7L183.2 692.9M190.5 678.5L197.8 678.5M183.2 692.9L183.2 700.2M183.2 692.9L190.5 692.9M183.2 714.6L183.2 721.8M190.5 707.4L197.8 707.4M183.2 721.8L183.2 729M183.2 721.8L190.5 721.8M183.2 743.5L183.2 750.7M190.5 736.3L197.8 736.3M183.2 750.7L190.5 750.7M197.8 671.3L197.8 678.5M205 664.1L212.2 664.1M197.8 678.5L197.8 685.7M197.8 678.5L205 678.5M197.8 700.2L197.8 707.4M205 692.9L212.2 692.9M197.8 707.4L197.8 714.6M197.8 707.4L205 707.4M197.8 729L197.8 736.3M205 721.8L212.2 721.8M197.8 736.3L197.8 743.5M197.8 736.3L205 736.3M205 750.7L212.2 750.7M212.2 664.1L212.2 671.3M212.2 664.1L219.5 664.1M212.2 685.7L212.2 692.9M219.5 678.5L226.8 678.5M212.2 692.9L212.2 700.2M212.2 692.9L219.5 692.9M212.2 714.6L212.2 721.8M219.5 707.4L226.8 707.4M212.2 721.8L212.2 729M212.2 721.8L219.5 721.8M212.2 743.5L212.2 750.7M219.5 736.3L226.8 736.3M212.2 750.7L219.5 750.7M226.8 671.3L226.8 678.5M234 664.1L241.2 664.1M226.8 678.5L226.8 685.7M226.8 678.5L234 678.5M226.8 700.2L226.8 707.4M234 692.9L241.2 692.9M226.8 707.4L226.8 714.6M226.8 707.4L234 707.4M226.8 729L226.8 736.3M234 721.8L241.2 721.8M226.8 736.3L226.8 743.5M226.8 736.3L234 736.3M234 750.7L241.2 750.7M241.2 664.1L241.2 671.3M241.2 664.1L248.5 664.1M241.2 685.7L241.2 692.9M248.5 678.5L255.8 678.5M241.2 692.9L241.2 700.2M241.2 692.9L248.5 692.9M241.2 714.6L241.2 721.8M248.5 707.4L255.8 707.4M241.2 721.8L241.2 729M241.2 721.8L248.5 721.8M241.2 743.5L241.2 750.7M248.5 736.3L255.8 736.3M241.2 750.7L248.5 750.7M255.8 671.3L255.8 678.5M263 664.1L270.2 664.1M255.8 678.5L255.8 685.7M255.8 678.5L263 678.5M255.8 700.2L255.8 707.4M263 692.9L270.2 692.9M255.8 707.4L255.8 714.6M255.8 707.4L263 707.4M255.8 729L255.8 736.3M263 721.8L270.2 721.8M255.8 736.3L255.8 743.5M255.8 736.3L263 736.3M263 750.7L270.2 750.7M270.2 664.1L270.2 671.3M270.2 664.1L277.5 664.1M270.2 685.7L270.2 692.9M277.5 678.5L284.8 678.5M270.2 692.9L270.2 700.2M270.2 692.9L277.5 692.9M270.2 714.6L270.2 721.8M277.5 707.4L284.8 707.4M270.2 721.8L270.2 729M270.2 721.8L277.5 721.8M270.2 743.5L270.2 750.7M277.5 736.3L284.8 736.3M270.2 750.7L277.5 750.7M284.8 671.3L284.8 678.5M292 664.1L299.2 664.1M284.8 678.5L284.8 685.7M284.8 678.5L292 678.5M284.8 700.2L284.8 707.4M292 692.9L299.2 692.9M284.8 707.4L284.8 714.6M284.8 707.4L292 707.4M284.8 729L284.8 736.3M292 721.8L299.2 721.8M284.8 736.3L284.8 743.5M284.8 736.3L292 736.3M292 750.7L299.2 750.7M299.2 664.1L299.2 671.3M299.2 685.7L299.2 692.9M299.2 692.9L299.2 700.2M299.2 714.6L299.2 721.8M299.2 721.8L299.2 729M299.2 743.5L299.2 750.7" stroke="#eea414" stroke-width="1.5" fill="none"/><path d="M183.2 671.3L183.2 678.5M190.5 664.1L197.8 664.1M183.2 678.5L183.2 685.7M183.2 678.5L190.5 678.5M183.2 700.2L183.2 707.4M190.5 692.9L197.8 692.9M183.2 707.4L183.2 714.6M183.2 707.4L190.5 707.4M183.2 729L183.2 736.3M190.5 721.8L197.8 721.8M183.2 736.3L183.2 743.5M183.2 736.3L190.5 736.3M190.5 750.7L197.8 750.7M197.8 664.1L197.8 671.3M197.8 664.1L205 664.1M197.8 685.7L197.8 692.9M205 678.5L212.2 678.5M197.8 692.9L197.8 700.2M197.8 692.9L205 692.9M197.8 714.6L197.8 721.8M205 707.4L212.2 707.4M197.8 721.8L197.8 729M197.8 721.8L205 721.8M197.8 743.5L197.8 750.7M205 736.3L212.2 736.3M197.8 750.7L205 750.7M212.2 671.3L212.2 678.5M219.5 664.1L226.8 664.1M212.2 678.5L212.2 685.7M212.2 678.5L219.5 678.5M212.2 700.2L212.2 707.4M219.5 692.9L226.8 692.9M212.2 707.4L212.2 714.6M212.2 707.4L219.5 707.4M212.2 729L212.2 736.3M219.5 721.8L226.8 721.8M212.2 736.3L212.2 743.5M212.2 736.3L219.5 736.3M219.5 750.7L226.8 750.7M226.8 664.1L226.8 671.3M226.8 664.1L234 664.1M226.8 685.7L226.8 692.9M234 678.5L241.2 678.5M226.8 692.9L226.8 700.2M226.8 692.9L234 692.9M226.8 714.6L226.8 721.8M234 707.4L241.2 707.4M226.8 721.8L226.8 729M226.8 721.8L234 721.8M226.8 743.5L226.8 750.7M234 736.3L241.2 736.3M226.8 750.7L234 750.7M241.2 671.3L241.2 678.5M248.5 664.1L255.8 664.1M241.2 678.5L241.2 685.7M241.2 678.5L248.5 678.5M241.2 700.2L241.2 707.4M248.5 692.9L255.8 692.9M241.2 707.4L241.2 714.6M241.2 707.4L248.5 707.4M241.2 729L241.2 736.3M248.5 721.8L255.8 721.8M241.2 736.3L241.2 743.5M241.2 736.3L248.5 736.3M248.5 750.7L255.8 750.7M255.8 664.1L255.8 671.3M255.8 664.1L263 664.1M255.8 685.7L255.8 692.9M263 678.5L270.2 678.5M255.8 692.9L255.8 700.2M255.8 692.9L263 692.9M255.8 714.6L255.8 721.8M263 707.4L270.2 707.4M255.8 721.8L255.8 729M255.8 721.8L263 721.8M255.8 743.5L255.8 750.7M263 736.3L270.2 736.3M255.8 750.7L263 750.7M270.2 671.3L270.2 678.5M277.5 664.1L284.8 664.1M270.2 678.5L270.2 685.7M270.2 678.5L277.5 678.5M270.2 700.2L270.2 707.4M277.5 692.9L284.8 692.9M270.2 707.4L270.2 714.6M270.2 707.4L277.5 707.4M270.2 729L270.2 736.3M277.5 721.8L284.8 721.8M270.2 736.3L270.2 743.5M270.2 736.3L277.5 736.3M277.5 750.7L284.8 750.7M284.8 664.1L284.8 671.3M284.8 664.1L292 664.1M284.8 685.7L284.8 692.9M292 678.5L299.2 678.5M284.8 692.9L284.8 700.2M284.8 692.9L292 692.9M284.8 714.6L284.8 721.8M292 707.4L299.2 707.4M284.8 721.8L284.8 729M284.8 721.8L292 721.8M284.8 743.5L284.8 750.7M292 736.3L299.2 736.3M284.8 750.7L292 750.7M299.2 671.3L299.2 678.5M299.2 678.5L299.2 685.7M299.2 700.2L299.2 707.4M299.2 707.4L299.2 714.6M299.2 729L299.2 736.3M299.2 736.3L299.2 743.5" stroke="#8684c6" stroke-width="1.5" fill="none"/><circle cx="197.8" cy="678.5" r="4" fill="url(#sTe)"/><circle cx="197.8" cy="692.9" r="4" fill="url(#sFe)"/><circle cx="197.8" cy="707.4" r="4" fill="url(#sTe)"/><circle cx="197.8" cy="721.8" r="4" fill="url(#sFe)"/><circle cx="197.8" cy="736.3" r="4" fill="url(#sTe)"/><circle cx="212.2" cy="678.5" r="4" fill="url(#sFe)"/><circle cx="212.2" cy="692.9" r="4" fill="url(#sTe)"/><circle cx="212.2" cy="707.4" r="4" fill="url(#sFe)"/><circle cx="212.2" cy="721.8" r="4" fill="url(#sTe)"/><circle cx="212.2" cy="736.3" r="4" fill="url(#sFe)"/><circle cx="226.8" cy="678.5" r="4" fill="url(#sTe)"/><circle cx="226.8" cy="692.9" r="4" fill="url(#sFe)"/><circle cx="226.8" cy="707.4" r="4" fill="url(#sTe)"/><circle cx="226.8" cy="721.8" r="4" fill="url(#sFe)"/><circle cx="226.8" cy="736.3" r="4" fill="url(#sTe)"/><circle cx="241.2" cy="678.5" r="4" fill="url(#sFe)"/><circle cx="241.2" cy="692.9" r="4" fill="url(#sTe)"/><circle cx="241.2" cy="707.4" r="4" fill="url(#sFe)"/><circle cx="241.2" cy="721.8" r="4" fill="url(#sTe)"/><circle cx="241.2" cy="736.3" r="4" fill="url(#sFe)"/><circle cx="255.8" cy="678.5" r="4" fill="url(#sTe)"/><circle cx="255.8" cy="692.9" r="4" fill="url(#sFe)"/><circle cx="255.8" cy="707.4" r="4" fill="url(#sTe)"/><circle cx="255.8" cy="721.8" r="4" fill="url(#sFe)"/><circle cx="255.8" cy="736.3" r="4" fill="url(#sTe)"/><circle cx="270.2" cy="678.5" r="4" fill="url(#sFe)"/><circle cx="270.2" cy="692.9" r="4" fill="url(#sTe)"/><circle cx="270.2" cy="707.4" r="4" fill="url(#sFe)"/><circle cx="270.2" cy="721.8" r="4" fill="url(#sTe)"/><circle cx="270.2" cy="736.3" r="4" fill="url(#sFe)"/><circle cx="284.8" cy="678.5" r="4" fill="url(#sTe)"/><circle cx="284.8" cy="692.9" r="4" fill="url(#sFe)"/><circle cx="284.8" cy="707.4" r="4" fill="url(#sTe)"/><circle cx="284.8" cy="721.8" r="4" fill="url(#sFe)"/><circle cx="284.8" cy="736.3" r="4" fill="url(#sTe)"/></g>
<clipPath id="cp12"><rect x="311.9" y="672.2" width="101.9" height="66.8"/></clipPath><g clip-path="url(#cp12)"><path d="M339.8 672L339.8 739" stroke="#bbb" stroke-width="0.7" stroke-dasharray="2.2 2" fill="none"/><path d="M362.5 672L362.5 739" stroke="#222" stroke-width="0.9" stroke-dasharray="2.2 1.8" fill="none"/><path d="M385.2 672L385.2 739" stroke="#333" stroke-width="0.8" stroke-dasharray="2.2 2" fill="none"/><path d="M309.2 666.3L324.4 666.3M309.2 666.3L301.7 679.4M309.2 666.3L313 672.8M324.4 666.3L332 666.3M324.4 666.3L320.6 672.8M324.4 666.3L332.1 679.4M347.2 666.3L354.8 666.3M335.8 672.8L332.1 679.4M343.4 672.8L347.3 679.4M354.8 666.3L370 666.3M354.8 666.3L347.3 679.4M354.8 666.3L358.6 672.8M370 666.3L377.6 666.3M370 666.3L366.2 672.8M370 666.3L377.7 679.4M392.8 666.3L400.4 666.3M381.4 672.8L377.7 679.4M389 672.8L392.9 679.4M400.4 666.3L415.6 666.3M400.4 666.3L392.9 679.4M400.4 666.3L404.2 672.8M415.6 666.3L423.2 666.3M415.6 666.3L411.8 672.8M415.6 666.3L423.3 679.4M427 672.8L423.3 679.4M301.7 679.4L309.3 679.4M301.7 679.4L309.2 692.5M324.5 679.4L332.1 679.4M313 686L309.2 692.5M320.6 686L324.4 692.5M332.1 679.4L347.3 679.4M332.1 679.4L324.4 692.5M332.1 679.4L335.8 686M347.3 679.4L354.9 679.4M347.3 679.4L343.4 686M347.3 679.4L354.8 692.5M370.1 679.4L377.7 679.4M358.6 686L354.8 692.5M366.2 686L370 692.5M377.7 679.4L392.9 679.4M377.7 679.4L370 692.5M377.7 679.4L381.4 686M392.9 679.4L400.5 679.4M392.9 679.4L389 686M392.9 679.4L400.4 692.5M415.7 679.4L423.3 679.4M404.2 686L400.4 692.5M411.8 686L415.6 692.5M423.3 679.4L415.6 692.5M423.3 679.4L427 686M309.2 692.5L324.4 692.5M309.2 692.5L301.7 705.6M309.2 692.5L313 699M324.4 692.5L332 692.5M324.4 692.5L320.6 699M324.4 692.5L332.1 705.6M347.2 692.5L354.8 692.5M335.8 699L332.1 705.6M343.4 699L347.3 705.6M354.8 692.5L370 692.5M354.8 692.5L347.3 705.6M354.8 692.5L358.6 699M370 692.5L377.6 692.5M370 692.5L366.2 699M370 692.5L377.7 705.6M392.8 692.5L400.4 692.5M381.4 699L377.7 705.6M389 699L392.9 705.6M400.4 692.5L415.6 692.5M400.4 692.5L392.9 705.6M400.4 692.5L404.2 699M415.6 692.5L423.2 692.5M415.6 692.5L411.8 699M415.6 692.5L423.3 705.6M427 699L423.3 705.6M301.7 705.6L309.3 705.6M301.7 705.6L309.2 718.7M324.5 705.6L332.1 705.6M313 712.1L309.2 718.7M320.6 712.1L324.4 718.7M332.1 705.6L347.3 705.6M332.1 705.6L324.4 718.7M332.1 705.6L335.8 712.1M347.3 705.6L354.9 705.6M347.3 705.6L343.4 712.1M347.3 705.6L354.8 718.7M370.1 705.6L377.7 705.6M358.6 712.1L354.8 718.7M366.2 712.1L370 718.7M377.7 705.6L392.9 705.6M377.7 705.6L370 718.7M377.7 705.6L381.4 712.1M392.9 705.6L400.5 705.6M392.9 705.6L389 712.1M392.9 705.6L400.4 718.7M415.7 705.6L423.3 705.6M404.2 712.1L400.4 718.7M411.8 712.1L415.6 718.7M423.3 705.6L415.6 718.7M423.3 705.6L427 712.1M309.2 718.7L324.4 718.7M309.2 718.7L301.7 731.8M309.2 718.7L313 725.2M324.4 718.7L332 718.7M324.4 718.7L320.6 725.2M324.4 718.7L332.1 731.8M347.2 718.7L354.8 718.7M335.8 725.2L332.1 731.8M343.4 725.2L347.3 731.8M354.8 718.7L370 718.7M354.8 718.7L347.3 731.8M354.8 718.7L358.6 725.2M370 718.7L377.6 718.7M370 718.7L366.2 725.2M370 718.7L377.7 731.8M392.8 718.7L400.4 718.7M381.4 725.2L377.7 731.8M389 725.2L392.9 731.8M400.4 718.7L415.6 718.7M400.4 718.7L392.9 731.8M400.4 718.7L404.2 725.2M415.6 718.7L423.2 718.7M415.6 718.7L411.8 725.2M415.6 718.7L423.3 731.8M427 725.2L423.3 731.8M301.7 731.8L309.3 731.8M301.7 731.8L309.2 744.9M324.5 731.8L332.1 731.8M313 738.3L309.2 744.9M320.6 738.3L324.4 744.9M332.1 731.8L347.3 731.8M332.1 731.8L324.4 744.9M332.1 731.8L335.8 738.3M347.3 731.8L354.9 731.8M347.3 731.8L343.4 738.3M347.3 731.8L354.8 744.9M370.1 731.8L377.7 731.8M358.6 738.3L354.8 744.9M366.2 738.3L370 744.9M377.7 731.8L392.9 731.8M377.7 731.8L370 744.9M377.7 731.8L381.4 738.3M392.9 731.8L400.5 731.8M392.9 731.8L389 738.3M392.9 731.8L400.4 744.9M415.7 731.8L423.3 731.8M404.2 738.3L400.4 744.9M411.8 738.3L415.6 744.9M423.3 731.8L415.6 744.9M423.3 731.8L427 738.3M309.2 744.9L324.4 744.9M324.4 744.9L332 744.9M347.2 744.9L354.8 744.9M354.8 744.9L370 744.9M370 744.9L377.6 744.9M392.8 744.9L400.4 744.9M400.4 744.9L415.6 744.9M415.6 744.9L423.2 744.9" stroke="#eea414" stroke-width="1.3" fill="none"/><path d="M313 672.8L316.9 679.4M332 666.3L339.6 666.3M320.6 672.8L316.9 679.4M339.6 666.3L347.2 666.3M339.6 666.3L335.8 672.8M339.6 666.3L343.4 672.8M358.6 672.8L362.5 679.4M377.6 666.3L385.2 666.3M366.2 672.8L362.5 679.4M385.2 666.3L392.8 666.3M385.2 666.3L381.4 672.8M385.2 666.3L389 672.8M404.2 672.8L408.1 679.4M423.2 666.3L430.8 666.3M411.8 672.8L408.1 679.4M430.8 666.3L427 672.8M309.3 679.4L316.9 679.4M316.9 679.4L324.5 679.4M316.9 679.4L313 686M316.9 679.4L320.6 686M335.8 686L339.6 692.5M354.9 679.4L362.5 679.4M343.4 686L339.6 692.5M362.5 679.4L370.1 679.4M362.5 679.4L358.6 686M362.5 679.4L366.2 686M381.4 686L385.2 692.5M400.5 679.4L408.1 679.4M389 686L385.2 692.5M408.1 679.4L415.7 679.4M408.1 679.4L404.2 686M408.1 679.4L411.8 686M427 686L430.8 692.5M313 699L316.9 705.6M332 692.5L339.6 692.5M320.6 699L316.9 705.6M339.6 692.5L347.2 692.5M339.6 692.5L335.8 699M339.6 692.5L343.4 699M358.6 699L362.5 705.6M377.6 692.5L385.2 692.5M366.2 699L362.5 705.6M385.2 692.5L392.8 692.5M385.2 692.5L381.4 699M385.2 692.5L389 699M404.2 699L408.1 705.6M423.2 692.5L430.8 692.5M411.8 699L408.1 705.6M430.8 692.5L427 699M309.3 705.6L316.9 705.6M316.9 705.6L324.5 705.6M316.9 705.6L313 712.1M316.9 705.6L320.6 712.1M335.8 712.1L339.6 718.7M354.9 705.6L362.5 705.6M343.4 712.1L339.6 718.7M362.5 705.6L370.1 705.6M362.5 705.6L358.6 712.1M362.5 705.6L366.2 712.1M381.4 712.1L385.2 718.7M400.5 705.6L408.1 705.6M389 712.1L385.2 718.7M408.1 705.6L415.7 705.6M408.1 705.6L404.2 712.1M408.1 705.6L411.8 712.1M427 712.1L430.8 718.7M313 725.2L316.9 731.8M332 718.7L339.6 718.7M320.6 725.2L316.9 731.8M339.6 718.7L347.2 718.7M339.6 718.7L335.8 725.2M339.6 718.7L343.4 725.2M358.6 725.2L362.5 731.8M377.6 718.7L385.2 718.7M366.2 725.2L362.5 731.8M385.2 718.7L392.8 718.7M385.2 718.7L381.4 725.2M385.2 718.7L389 725.2M404.2 725.2L408.1 731.8M423.2 718.7L430.8 718.7M411.8 725.2L408.1 731.8M430.8 718.7L427 725.2M309.3 731.8L316.9 731.8M316.9 731.8L324.5 731.8M316.9 731.8L313 738.3M316.9 731.8L320.6 738.3M335.8 738.3L339.6 744.9M354.9 731.8L362.5 731.8M343.4 738.3L339.6 744.9M362.5 731.8L370.1 731.8M362.5 731.8L358.6 738.3M362.5 731.8L366.2 738.3M381.4 738.3L385.2 744.9M400.5 731.8L408.1 731.8M389 738.3L385.2 744.9M408.1 731.8L415.7 731.8M408.1 731.8L404.2 738.3M408.1 731.8L411.8 738.3M427 738.3L430.8 744.9M332 744.9L339.6 744.9M339.6 744.9L347.2 744.9M377.6 744.9L385.2 744.9M385.2 744.9L392.8 744.9M423.2 744.9L430.8 744.9" stroke="#985cb4" stroke-width="1.3" fill="none"/><circle cx="309.2" cy="666.3" r="3.1" fill="url(#sTe)"/><circle cx="324.4" cy="666.3" r="3.1" fill="url(#sTe)"/><circle cx="339.6" cy="666.3" r="3.1" fill="url(#sSb)"/><circle cx="354.8" cy="666.3" r="3.1" fill="url(#sTe)"/><circle cx="370" cy="666.3" r="3.1" fill="url(#sTe)"/><circle cx="385.2" cy="666.3" r="3.1" fill="url(#sSb)"/><circle cx="400.4" cy="666.3" r="3.1" fill="url(#sTe)"/><circle cx="415.6" cy="666.3" r="3.1" fill="url(#sTe)"/><circle cx="430.8" cy="666.3" r="3.1" fill="url(#sSb)"/><circle cx="301.7" cy="679.4" r="3.1" fill="url(#sTe)"/><circle cx="316.9" cy="679.4" r="3.1" fill="url(#sSb)"/><circle cx="332.1" cy="679.4" r="3.1" fill="url(#sTe)"/><circle cx="347.3" cy="679.4" r="3.1" fill="url(#sTe)"/><circle cx="362.5" cy="679.4" r="3.1" fill="url(#sSb)"/><circle cx="377.7" cy="679.4" r="3.1" fill="url(#sTe)"/><circle cx="392.9" cy="679.4" r="3.1" fill="url(#sTe)"/><circle cx="408.1" cy="679.4" r="3.1" fill="url(#sSb)"/><circle cx="423.3" cy="679.4" r="3.1" fill="url(#sTe)"/><circle cx="309.2" cy="692.5" r="3.1" fill="url(#sTe)"/><circle cx="324.4" cy="692.5" r="3.1" fill="url(#sTe)"/><circle cx="339.6" cy="692.5" r="3.1" fill="url(#sSb)"/><circle cx="354.8" cy="692.5" r="3.1" fill="url(#sTe)"/><circle cx="370" cy="692.5" r="3.1" fill="url(#sTe)"/><circle cx="385.2" cy="692.5" r="3.1" fill="url(#sSb)"/><circle cx="400.4" cy="692.5" r="3.1" fill="url(#sTe)"/><circle cx="415.6" cy="692.5" r="3.1" fill="url(#sTe)"/><circle cx="430.8" cy="692.5" r="3.1" fill="url(#sSb)"/><circle cx="301.7" cy="705.6" r="3.1" fill="url(#sTe)"/><circle cx="316.9" cy="705.6" r="3.1" fill="url(#sSb)"/><circle cx="332.1" cy="705.6" r="3.1" fill="url(#sTe)"/><circle cx="347.3" cy="705.6" r="3.1" fill="url(#sTe)"/><circle cx="362.5" cy="705.6" r="3.1" fill="url(#sSb)"/><circle cx="377.7" cy="705.6" r="3.1" fill="url(#sTe)"/><circle cx="392.9" cy="705.6" r="3.1" fill="url(#sTe)"/><circle cx="408.1" cy="705.6" r="3.1" fill="url(#sSb)"/><circle cx="423.3" cy="705.6" r="3.1" fill="url(#sTe)"/><circle cx="309.2" cy="718.7" r="3.1" fill="url(#sTe)"/><circle cx="324.4" cy="718.7" r="3.1" fill="url(#sTe)"/><circle cx="339.6" cy="718.7" r="3.1" fill="url(#sSb)"/><circle cx="354.8" cy="718.7" r="3.1" fill="url(#sTe)"/><circle cx="370" cy="718.7" r="3.1" fill="url(#sTe)"/><circle cx="385.2" cy="718.7" r="3.1" fill="url(#sSb)"/><circle cx="400.4" cy="718.7" r="3.1" fill="url(#sTe)"/><circle cx="415.6" cy="718.7" r="3.1" fill="url(#sTe)"/><circle cx="430.8" cy="718.7" r="3.1" fill="url(#sSb)"/><circle cx="301.7" cy="731.8" r="3.1" fill="url(#sTe)"/><circle cx="316.9" cy="731.8" r="3.1" fill="url(#sSb)"/><circle cx="332.1" cy="731.8" r="3.1" fill="url(#sTe)"/><circle cx="347.3" cy="731.8" r="3.1" fill="url(#sTe)"/><circle cx="362.5" cy="731.8" r="3.1" fill="url(#sSb)"/><circle cx="377.7" cy="731.8" r="3.1" fill="url(#sTe)"/><circle cx="392.9" cy="731.8" r="3.1" fill="url(#sTe)"/><circle cx="408.1" cy="731.8" r="3.1" fill="url(#sSb)"/><circle cx="423.3" cy="731.8" r="3.1" fill="url(#sTe)"/><circle cx="309.2" cy="744.9" r="3.1" fill="url(#sTe)"/><circle cx="324.4" cy="744.9" r="3.1" fill="url(#sTe)"/><circle cx="339.6" cy="744.9" r="3.1" fill="url(#sSb)"/><circle cx="354.8" cy="744.9" r="3.1" fill="url(#sTe)"/><circle cx="370" cy="744.9" r="3.1" fill="url(#sTe)"/><circle cx="385.2" cy="744.9" r="3.1" fill="url(#sSb)"/><circle cx="400.4" cy="744.9" r="3.1" fill="url(#sTe)"/><circle cx="415.6" cy="744.9" r="3.1" fill="url(#sTe)"/><circle cx="430.8" cy="744.9" r="3.1" fill="url(#sSb)"/></g>
<clipPath id="cp13"><rect x="68.1" y="775" width="105" height="68.8"/></clipPath><g clip-path="url(#cp13)"><path d="M100.6 775L100.6 844" stroke="#aaa" stroke-width="0.7" stroke-dasharray="2.2 2" fill="none"/><path d="M140 775L140 844" stroke="#aaa" stroke-width="0.7" stroke-dasharray="2.2 2" fill="none"/><path d="M52.2 764L58.5 764M52.2 764L62.7 764M52.2 764L51.6 770.4M58.5 764L65.8 764M58.5 764L54.8 770.4M58.5 764L66 776.9M82.2 764L91.2 764M85.3 764L97.5 764M69.6 770.4L66 776.9M72.1 770.4L71 776.9M78.6 770.4L84 776.9M91.2 764L97.5 764M91.2 764L101.7 764M91.2 764L90.6 770.4M91.2 764L84 776.9M97.5 764L104.8 764M97.5 764L93.8 770.4M97.5 764L105 776.9M121.2 764L130.2 764M124.3 764L136.5 764M108.6 770.4L105 776.9M111.1 770.4L110 776.9M117.6 770.4L123 776.9M130.2 764L136.5 764M130.2 764L140.7 764M130.2 764L129.6 770.4M130.2 764L123 776.9M136.5 764L143.8 764M136.5 764L132.8 770.4M136.5 764L144 776.9M160.2 764L169.2 764M163.3 764L175.5 764M147.6 770.4L144 776.9M150.1 770.4L149 776.9M156.6 770.4L162 776.9M169.2 764L175.5 764M169.2 764L179.7 764M169.2 764L168.6 770.4M169.2 764L162 776.9M175.5 764L182.8 764M175.5 764L171.8 770.4M175.5 764L183 776.9M186.6 770.4L183 776.9M189.1 770.4L188 776.9M58.5 776.9L66 776.9M61 776.9L71 776.9M51.6 783.1L52.2 789.4M54.8 783.1L58.5 789.4M78 776.9L66 776.9M80.5 776.9L71 776.9M87 776.9L84 776.9M97.5 776.9L105 776.9M100 776.9L110 776.9M90.6 783.1L91.2 789.4M93.8 783.1L97.5 789.4M87 789.7L84 802.5M66 776.9L71 776.9M66 776.9L58.5 789.4M66 776.9L69.6 783.1M71 776.9L84 776.9M71 776.9L72.1 783.1M84 776.9L78.6 783.1M84 776.9L91.2 789.4M84 776.9L87 789.7M117 776.9L105 776.9M119.5 776.9L110 776.9M126 776.9L123 776.9M136.5 776.9L144 776.9M139 776.9L149 776.9M129.6 783.1L130.2 789.4M132.8 783.1L136.5 789.4M126 789.7L123 802.5M105 776.9L110 776.9M105 776.9L97.5 789.4M105 776.9L108.6 783.1M110 776.9L123 776.9M110 776.9L111.1 783.1M123 776.9L117.6 783.1M123 776.9L130.2 789.4M123 776.9L126 789.7M156 776.9L144 776.9M158.5 776.9L149 776.9M165 776.9L162 776.9M175.5 776.9L183 776.9M178 776.9L188 776.9M168.6 783.1L169.2 789.4M171.8 783.1L175.5 789.4M165 789.7L162 802.5M144 776.9L149 776.9M144 776.9L136.5 789.4M144 776.9L147.6 783.1M149 776.9L162 776.9M149 776.9L150.1 783.1M162 776.9L156.6 783.1M162 776.9L169.2 789.4M162 776.9L165 789.7M183 776.9L188 776.9M183 776.9L175.5 789.4M183 776.9L186.6 783.1M188 776.9L189.1 783.1M52.2 789.4L58.5 789.4M52.2 789.4L62.7 789.4M52.2 789.4L51.6 795.9M58.5 789.4L65.8 789.4M58.5 789.4L54.8 795.9M58.5 789.4L66 802.5M82.2 789.4L91.2 789.4M85.3 789.4L97.5 789.4M69.6 795.9L66 802.5M72.1 795.9L71 802.5M78.6 795.9L84 802.5M91.2 789.4L97.5 789.4M91.2 789.4L101.7 789.4M91.2 789.4L90.6 795.9M91.2 789.4L84 802.5M97.5 789.4L104.8 789.4M97.5 789.4L93.8 795.9M97.5 789.4L105 802.5M121.2 789.4L130.2 789.4M124.3 789.4L136.5 789.4M108.6 795.9L105 802.5M111.1 795.9L110 802.5M117.6 795.9L123 802.5M130.2 789.4L136.5 789.4M130.2 789.4L140.7 789.4M130.2 789.4L129.6 795.9M130.2 789.4L123 802.5M136.5 789.4L143.8 789.4M136.5 789.4L132.8 795.9M136.5 789.4L144 802.5M160.2 789.4L169.2 789.4M163.3 789.4L175.5 789.4M147.6 795.9L144 802.5M150.1 795.9L149 802.5M156.6 795.9L162 802.5M169.2 789.4L175.5 789.4M169.2 789.4L179.7 789.4M169.2 789.4L168.6 795.9M169.2 789.4L162 802.5M175.5 789.4L182.8 789.4M175.5 789.4L171.8 795.9M175.5 789.4L183 802.5M186.6 795.9L183 802.5M189.1 795.9L188 802.5M58.5 802.5L66 802.5M61 802.5L71 802.5M51.6 808.9L52.2 815.2M54.8 808.9L58.5 815.2M78 802.5L66 802.5M80.5 802.5L71 802.5M87 802.5L84 802.5M97.5 802.5L105 802.5M100 802.5L110 802.5M90.6 808.9L91.2 815.2M93.8 808.9L97.5 815.2M66 802.5L71 802.5M66 802.5L58.5 815.2M66 802.5L69.6 808.9M71 802.5L84 802.5M71 802.5L72.1 808.9M84 802.5L78.6 808.9M84 802.5L91.2 815.2M117 802.5L105 802.5M119.5 802.5L110 802.5M126 802.5L123 802.5M136.5 802.5L144 802.5M139 802.5L149 802.5M129.6 808.9L130.2 815.2M132.8 808.9L136.5 815.2M105 802.5L110 802.5M105 802.5L97.5 815.2M105 802.5L108.6 808.9M110 802.5L123 802.5M110 802.5L111.1 808.9M123 802.5L117.6 808.9M123 802.5L130.2 815.2M156 802.5L144 802.5M158.5 802.5L149 802.5M165 802.5L162 802.5M175.5 802.5L183 802.5M178 802.5L188 802.5M168.6 808.9L169.2 815.2M171.8 808.9L175.5 815.2M144 802.5L149 802.5M144 802.5L136.5 815.2M144 802.5L147.6 808.9M149 802.5L162 802.5M149 802.5L150.1 808.9M162 802.5L156.6 808.9M162 802.5L169.2 815.2M183 802.5L188 802.5M183 802.5L175.5 815.2M183 802.5L186.6 808.9M188 802.5L189.1 808.9M52.2 815.2L58.5 815.2M52.2 815.2L62.7 815.2M52.2 815.2L51.6 822M58.5 815.2L65.8 815.2M58.5 815.2L54.8 822M58.5 815.2L66 828.8M82.2 815.2L91.2 815.2M85.3 815.2L97.5 815.2M69.6 822L66 828.8M72.1 822L71 828.8M78.6 822L84 828.8M91.2 815.2L97.5 815.2M91.2 815.2L101.7 815.2M91.2 815.2L90.6 822M91.2 815.2L84 828.8M97.5 815.2L104.8 815.2M97.5 815.2L93.8 822M97.5 815.2L105 828.8M121.2 815.2L130.2 815.2M124.3 815.2L136.5 815.2M108.6 822L105 828.8M111.1 822L110 828.8M117.6 822L123 828.8M130.2 815.2L136.5 815.2M130.2 815.2L140.7 815.2M130.2 815.2L129.6 822M130.2 815.2L123 828.8M136.5 815.2L143.8 815.2M136.5 815.2L132.8 822M136.5 815.2L144 828.8M160.2 815.2L169.2 815.2M163.3 815.2L175.5 815.2M147.6 822L144 828.8M150.1 822L149 828.8M156.6 822L162 828.8M169.2 815.2L175.5 815.2M169.2 815.2L179.7 815.2M169.2 815.2L168.6 822M169.2 815.2L162 828.8M175.5 815.2L182.8 815.2M175.5 815.2L171.8 822M175.5 815.2L183 828.8M186.6 822L183 828.8M189.1 822L188 828.8M58.5 828.8L66 828.8M61 828.8L71 828.8M51.6 835.3L52.2 841.9M54.8 835.3L58.5 841.9M78 828.8L66 828.8M80.5 828.8L71 828.8M87 828.8L84 828.8M97.5 828.8L105 828.8M100 828.8L110 828.8M90.6 835.3L91.2 841.9M93.8 835.3L97.5 841.9M66 828.8L71 828.8M66 828.8L58.5 841.9M66 828.8L69.6 835.3M71 828.8L84 828.8M71 828.8L72.1 835.3M84 828.8L78.6 835.3M84 828.8L91.2 841.9M117 828.8L105 828.8M119.5 828.8L110 828.8M126 828.8L123 828.8M136.5 828.8L144 828.8M139 828.8L149 828.8M129.6 835.3L130.2 841.9M132.8 835.3L136.5 841.9M105 828.8L110 828.8M105 828.8L97.5 841.9M105 828.8L108.6 835.3M110 828.8L123 828.8M110 828.8L111.1 835.3M123 828.8L117.6 835.3M123 828.8L130.2 841.9M156 828.8L144 828.8M158.5 828.8L149 828.8M165 828.8L162 828.8M175.5 828.8L183 828.8M178 828.8L188 828.8M168.6 835.3L169.2 841.9M171.8 835.3L175.5 841.9M144 828.8L149 828.8M144 828.8L136.5 841.9M144 828.8L147.6 835.3M149 828.8L162 828.8M149 828.8L150.1 835.3M162 828.8L156.6 835.3M162 828.8L169.2 841.9M183 828.8L188 828.8M183 828.8L175.5 841.9M183 828.8L186.6 835.3M188 828.8L189.1 835.3M52.2 841.9L58.5 841.9M52.2 841.9L62.7 841.9M52.2 841.9L51.6 848.4M58.5 841.9L65.8 841.9M58.5 841.9L54.8 848.4M58.5 841.9L66 855M82.2 841.9L91.2 841.9M85.3 841.9L97.5 841.9M69.6 848.4L66 855M72.1 848.4L71 855M78.6 848.4L84 855M91.2 841.9L97.5 841.9M91.2 841.9L101.7 841.9M91.2 841.9L90.6 848.4M91.2 841.9L84 855M97.5 841.9L104.8 841.9M97.5 841.9L93.8 848.4M97.5 841.9L105 855M121.2 841.9L130.2 841.9M124.3 841.9L136.5 841.9M108.6 848.4L105 855M111.1 848.4L110 855M117.6 848.4L123 855M130.2 841.9L136.5 841.9M130.2 841.9L140.7 841.9M130.2 841.9L129.6 848.4M130.2 841.9L123 855M136.5 841.9L143.8 841.9M136.5 841.9L132.8 848.4M136.5 841.9L144 855M160.2 841.9L169.2 841.9M163.3 841.9L175.5 841.9M147.6 848.4L144 855M150.1 848.4L149 855M156.6 848.4L162 855M169.2 841.9L175.5 841.9M169.2 841.9L179.7 841.9M169.2 841.9L168.6 848.4M169.2 841.9L162 855M175.5 841.9L182.8 841.9M175.5 841.9L171.8 848.4M175.5 841.9L183 855M186.6 848.4L183 855M189.1 848.4L188 855M58.5 855L66 855M61 855L71 855M78 855L66 855M80.5 855L71 855M87 855L84 855M97.5 855L105 855M100 855L110 855M66 855L71 855M71 855L84 855M117 855L105 855M119.5 855L110 855M126 855L123 855M136.5 855L144 855M139 855L149 855M105 855L110 855M110 855L123 855M156 855L144 855M158.5 855L149 855M165 855L162 855M175.5 855L183 855M178 855L188 855M144 855L149 855M149 855L162 855M183 855L188 855" stroke="#d87a0a" stroke-width="1.2" fill="none"/><path d="M62.7 764L73.1 764M51.6 770.4L51 776.9M65.8 764L73.1 764M54.8 770.4L51 776.9M73.1 764L82.2 764M73.1 764L85.3 764M73.1 764L90 776.9M73.1 764L69.6 770.4M73.1 764L72.1 770.4M73.1 764L78.6 770.4M101.7 764L112.1 764M90.6 770.4L90 776.9M104.8 764L112.1 764M93.8 770.4L90 776.9M112.1 764L121.2 764M112.1 764L124.3 764M112.1 764L129 776.9M112.1 764L108.6 770.4M112.1 764L111.1 770.4M112.1 764L117.6 770.4M140.7 764L151.1 764M129.6 770.4L129 776.9M143.8 764L151.1 764M132.8 770.4L129 776.9M151.1 764L160.2 764M151.1 764L163.3 764M151.1 764L168 776.9M151.1 764L147.6 770.4M151.1 764L150.1 770.4M151.1 764L156.6 770.4M179.7 764L190.1 764M168.6 770.4L168 776.9M182.8 764L190.1 764M171.8 770.4L168 776.9M190.1 764L186.6 770.4M190.1 764L189.1 770.4M51 776.9L58.5 776.9M51 776.9L61 776.9M51 776.9L51.6 783.1M51 776.9L54.8 783.1M90 776.9L78 776.9M90 776.9L80.5 776.9M90 776.9L87 776.9M90 776.9L97.5 776.9M90 776.9L100 776.9M90 776.9L73.1 789.4M90 776.9L90.6 783.1M90 776.9L93.8 783.1M90 776.9L87 789.7M69.6 783.1L73.1 789.4M72.1 783.1L73.1 789.4M78.6 783.1L73.1 789.4M87 789.7L90 802.5M129 776.9L117 776.9M129 776.9L119.5 776.9M129 776.9L126 776.9M129 776.9L136.5 776.9M129 776.9L139 776.9M129 776.9L112.1 789.4M129 776.9L129.6 783.1M129 776.9L132.8 783.1M129 776.9L126 789.7M108.6 783.1L112.1 789.4M111.1 783.1L112.1 789.4M117.6 783.1L112.1 789.4M126 789.7L129 802.5M168 776.9L156 776.9M168 776.9L158.5 776.9M168 776.9L165 776.9M168 776.9L175.5 776.9M168 776.9L178 776.9M168 776.9L151.1 789.4M168 776.9L168.6 783.1M168 776.9L171.8 783.1M168 776.9L165 789.7M147.6 783.1L151.1 789.4M150.1 783.1L151.1 789.4M156.6 783.1L151.1 789.4M165 789.7L168 802.5M186.6 783.1L190.1 789.4M189.1 783.1L190.1 789.4M62.7 789.4L73.1 789.4M51.6 795.9L51 802.5M65.8 789.4L73.1 789.4M54.8 795.9L51 802.5M73.1 789.4L82.2 789.4M73.1 789.4L85.3 789.4M73.1 789.4L90 802.5M73.1 789.4L69.6 795.9M73.1 789.4L72.1 795.9M73.1 789.4L78.6 795.9M101.7 789.4L112.1 789.4M90.6 795.9L90 802.5M104.8 789.4L112.1 789.4M93.8 795.9L90 802.5M112.1 789.4L121.2 789.4M112.1 789.4L124.3 789.4M112.1 789.4L129 802.5M112.1 789.4L108.6 795.9M112.1 789.4L111.1 795.9M112.1 789.4L117.6 795.9M140.7 789.4L151.1 789.4M129.6 795.9L129 802.5M143.8 789.4L151.1 789.4M132.8 795.9L129 802.5M151.1 789.4L160.2 789.4M151.1 789.4L163.3 789.4M151.1 789.4L168 802.5M151.1 789.4L147.6 795.9M151.1 789.4L150.1 795.9M151.1 789.4L156.6 795.9M179.7 789.4L190.1 789.4M168.6 795.9L168 802.5M182.8 789.4L190.1 789.4M171.8 795.9L168 802.5M190.1 789.4L186.6 795.9M190.1 789.4L189.1 795.9M51 802.5L58.5 802.5M51 802.5L61 802.5M51 802.5L51.6 808.9M51 802.5L54.8 808.9M90 802.5L78 802.5M90 802.5L80.5 802.5M90 802.5L87 802.5M90 802.5L97.5 802.5M90 802.5L100 802.5M90 802.5L73.1 815.2M90 802.5L90.6 808.9M90 802.5L93.8 808.9M69.6 808.9L73.1 815.2M72.1 808.9L73.1 815.2M78.6 808.9L73.1 815.2M129 802.5L117 802.5M129 802.5L119.5 802.5M129 802.5L126 802.5M129 802.5L136.5 802.5M129 802.5L139 802.5M129 802.5L112.1 815.2M129 802.5L129.6 808.9M129 802.5L132.8 808.9M108.6 808.9L112.1 815.2M111.1 808.9L112.1 815.2M117.6 808.9L112.1 815.2M168 802.5L156 802.5M168 802.5L158.5 802.5M168 802.5L165 802.5M168 802.5L175.5 802.5M168 802.5L178 802.5M168 802.5L151.1 815.2M168 802.5L168.6 808.9M168 802.5L171.8 808.9M147.6 808.9L151.1 815.2M150.1 808.9L151.1 815.2M156.6 808.9L151.1 815.2M186.6 808.9L190.1 815.2M189.1 808.9L190.1 815.2M62.7 815.2L73.1 815.2M51.6 822L51 828.8M65.8 815.2L73.1 815.2M54.8 822L51 828.8M73.1 815.2L82.2 815.2M73.1 815.2L85.3 815.2M73.1 815.2L90 828.8M73.1 815.2L69.6 822M73.1 815.2L72.1 822M73.1 815.2L78.6 822M101.7 815.2L112.1 815.2M90.6 822L90 828.8M104.8 815.2L112.1 815.2M93.8 822L90 828.8M112.1 815.2L121.2 815.2M112.1 815.2L124.3 815.2M112.1 815.2L129 828.8M112.1 815.2L108.6 822M112.1 815.2L111.1 822M112.1 815.2L117.6 822M140.7 815.2L151.1 815.2M129.6 822L129 828.8M143.8 815.2L151.1 815.2M132.8 822L129 828.8M151.1 815.2L160.2 815.2M151.1 815.2L163.3 815.2M151.1 815.2L168 828.8M151.1 815.2L147.6 822M151.1 815.2L150.1 822M151.1 815.2L156.6 822M179.7 815.2L190.1 815.2M168.6 822L168 828.8M182.8 815.2L190.1 815.2M171.8 822L168 828.8M190.1 815.2L186.6 822M190.1 815.2L189.1 822M51 828.8L58.5 828.8M51 828.8L61 828.8M51 828.8L51.6 835.3M51 828.8L54.8 835.3M90 828.8L78 828.8M90 828.8L80.5 828.8M90 828.8L87 828.8M90 828.8L97.5 828.8M90 828.8L100 828.8M90 828.8L73.1 841.9M90 828.8L90.6 835.3M90 828.8L93.8 835.3M69.6 835.3L73.1 841.9M72.1 835.3L73.1 841.9M78.6 835.3L73.1 841.9M129 828.8L117 828.8M129 828.8L119.5 828.8M129 828.8L126 828.8M129 828.8L136.5 828.8M129 828.8L139 828.8M129 828.8L112.1 841.9M129 828.8L129.6 835.3M129 828.8L132.8 835.3M108.6 835.3L112.1 841.9M111.1 835.3L112.1 841.9M117.6 835.3L112.1 841.9M168 828.8L156 828.8M168 828.8L158.5 828.8M168 828.8L165 828.8M168 828.8L175.5 828.8M168 828.8L178 828.8M168 828.8L151.1 841.9M168 828.8L168.6 835.3M168 828.8L171.8 835.3M147.6 835.3L151.1 841.9M150.1 835.3L151.1 841.9M156.6 835.3L151.1 841.9M186.6 835.3L190.1 841.9M189.1 835.3L190.1 841.9M62.7 841.9L73.1 841.9M51.6 848.4L51 855M65.8 841.9L73.1 841.9M54.8 848.4L51 855M73.1 841.9L82.2 841.9M73.1 841.9L85.3 841.9M73.1 841.9L90 855M73.1 841.9L69.6 848.4M73.1 841.9L72.1 848.4M73.1 841.9L78.6 848.4M101.7 841.9L112.1 841.9M90.6 848.4L90 855M104.8 841.9L112.1 841.9M93.8 848.4L90 855M112.1 841.9L121.2 841.9M112.1 841.9L124.3 841.9M112.1 841.9L129 855M112.1 841.9L108.6 848.4M112.1 841.9L111.1 848.4M112.1 841.9L117.6 848.4M140.7 841.9L151.1 841.9M129.6 848.4L129 855M143.8 841.9L151.1 841.9M132.8 848.4L129 855M151.1 841.9L160.2 841.9M151.1 841.9L163.3 841.9M151.1 841.9L168 855M151.1 841.9L147.6 848.4M151.1 841.9L150.1 848.4M151.1 841.9L156.6 848.4M179.7 841.9L190.1 841.9M168.6 848.4L168 855M182.8 841.9L190.1 841.9M171.8 848.4L168 855M190.1 841.9L186.6 848.4M190.1 841.9L189.1 848.4M51 855L58.5 855M51 855L61 855M90 855L78 855M90 855L80.5 855M90 855L87 855M90 855L97.5 855M90 855L100 855M129 855L117 855M129 855L119.5 855M129 855L126 855M129 855L136.5 855M129 855L139 855M168 855L156 855M168 855L158.5 855M168 855L165 855M168 855L175.5 855M168 855L178 855" stroke="#86dede" stroke-width="1.2" fill="none"/><circle cx="52.2" cy="764" r="3.7" fill="url(#sTe2)"/><circle cx="58.5" cy="764" r="3.4" fill="url(#sTe2)"/><circle cx="73.1" cy="764" r="3.6" fill="url(#sZr)"/><circle cx="91.2" cy="764" r="3.7" fill="url(#sTe2)"/><circle cx="97.5" cy="764" r="3.4" fill="url(#sTe2)"/><circle cx="112.1" cy="764" r="3.6" fill="url(#sZr)"/><circle cx="130.2" cy="764" r="3.7" fill="url(#sTe2)"/><circle cx="136.5" cy="764" r="3.4" fill="url(#sTe2)"/><circle cx="151.1" cy="764" r="3.6" fill="url(#sZr)"/><circle cx="169.2" cy="764" r="3.7" fill="url(#sTe2)"/><circle cx="175.5" cy="764" r="3.4" fill="url(#sTe2)"/><circle cx="190.1" cy="764" r="3.6" fill="url(#sZr)"/><circle cx="51" cy="776.9" r="3.6" fill="url(#sZr)"/><circle cx="90" cy="776.9" r="3.6" fill="url(#sZr)"/><circle cx="66" cy="776.9" r="3.4" fill="url(#sTe2)"/><circle cx="71" cy="776.9" r="3.4" fill="url(#sTe2)"/><circle cx="84" cy="776.9" r="3.8" fill="url(#sTe2)"/><circle cx="129" cy="776.9" r="3.6" fill="url(#sZr)"/><circle cx="105" cy="776.9" r="3.4" fill="url(#sTe2)"/><circle cx="110" cy="776.9" r="3.4" fill="url(#sTe2)"/><circle cx="123" cy="776.9" r="3.8" fill="url(#sTe2)"/><circle cx="168" cy="776.9" r="3.6" fill="url(#sZr)"/><circle cx="144" cy="776.9" r="3.4" fill="url(#sTe2)"/><circle cx="149" cy="776.9" r="3.4" fill="url(#sTe2)"/><circle cx="162" cy="776.9" r="3.8" fill="url(#sTe2)"/><circle cx="183" cy="776.9" r="3.4" fill="url(#sTe2)"/><circle cx="188" cy="776.9" r="3.4" fill="url(#sTe2)"/><circle cx="52.2" cy="789.4" r="3.7" fill="url(#sTe2)"/><circle cx="58.5" cy="789.4" r="3.4" fill="url(#sTe2)"/><circle cx="73.1" cy="789.4" r="3.6" fill="url(#sZr)"/><circle cx="91.2" cy="789.4" r="3.7" fill="url(#sTe2)"/><circle cx="97.5" cy="789.4" r="3.4" fill="url(#sTe2)"/><circle cx="112.1" cy="789.4" r="3.6" fill="url(#sZr)"/><circle cx="130.2" cy="789.4" r="3.7" fill="url(#sTe2)"/><circle cx="136.5" cy="789.4" r="3.4" fill="url(#sTe2)"/><circle cx="151.1" cy="789.4" r="3.6" fill="url(#sZr)"/><circle cx="169.2" cy="789.4" r="3.7" fill="url(#sTe2)"/><circle cx="175.5" cy="789.4" r="3.4" fill="url(#sTe2)"/><circle cx="190.1" cy="789.4" r="3.6" fill="url(#sZr)"/><circle cx="51" cy="802.5" r="3.6" fill="url(#sZr)"/><circle cx="90" cy="802.5" r="3.6" fill="url(#sZr)"/><circle cx="66" cy="802.5" r="3.4" fill="url(#sTe2)"/><circle cx="71" cy="802.5" r="3.4" fill="url(#sTe2)"/><circle cx="84" cy="802.5" r="3.8" fill="url(#sTe2)"/><circle cx="129" cy="802.5" r="3.6" fill="url(#sZr)"/><circle cx="105" cy="802.5" r="3.4" fill="url(#sTe2)"/><circle cx="110" cy="802.5" r="3.4" fill="url(#sTe2)"/><circle cx="123" cy="802.5" r="3.8" fill="url(#sTe2)"/><circle cx="168" cy="802.5" r="3.6" fill="url(#sZr)"/><circle cx="144" cy="802.5" r="3.4" fill="url(#sTe2)"/><circle cx="149" cy="802.5" r="3.4" fill="url(#sTe2)"/><circle cx="162" cy="802.5" r="3.8" fill="url(#sTe2)"/><circle cx="183" cy="802.5" r="3.4" fill="url(#sTe2)"/><circle cx="188" cy="802.5" r="3.4" fill="url(#sTe2)"/><circle cx="52.2" cy="815.2" r="3.7" fill="url(#sTe2)"/><circle cx="58.5" cy="815.2" r="3.4" fill="url(#sTe2)"/><circle cx="73.1" cy="815.2" r="3.6" fill="url(#sZr)"/><circle cx="91.2" cy="815.2" r="3.7" fill="url(#sTe2)"/><circle cx="97.5" cy="815.2" r="3.4" fill="url(#sTe2)"/><circle cx="112.1" cy="815.2" r="3.6" fill="url(#sZr)"/><circle cx="130.2" cy="815.2" r="3.7" fill="url(#sTe2)"/><circle cx="136.5" cy="815.2" r="3.4" fill="url(#sTe2)"/><circle cx="151.1" cy="815.2" r="3.6" fill="url(#sZr)"/><circle cx="169.2" cy="815.2" r="3.7" fill="url(#sTe2)"/><circle cx="175.5" cy="815.2" r="3.4" fill="url(#sTe2)"/><circle cx="190.1" cy="815.2" r="3.6" fill="url(#sZr)"/><circle cx="51" cy="828.8" r="3.6" fill="url(#sZr)"/><circle cx="90" cy="828.8" r="3.6" fill="url(#sZr)"/><circle cx="66" cy="828.8" r="3.4" fill="url(#sTe2)"/><circle cx="71" cy="828.8" r="3.4" fill="url(#sTe2)"/><circle cx="84" cy="828.8" r="3.8" fill="url(#sTe2)"/><circle cx="129" cy="828.8" r="3.6" fill="url(#sZr)"/><circle cx="105" cy="828.8" r="3.4" fill="url(#sTe2)"/><circle cx="110" cy="828.8" r="3.4" fill="url(#sTe2)"/><circle cx="123" cy="828.8" r="3.8" fill="url(#sTe2)"/><circle cx="168" cy="828.8" r="3.6" fill="url(#sZr)"/><circle cx="144" cy="828.8" r="3.4" fill="url(#sTe2)"/><circle cx="149" cy="828.8" r="3.4" fill="url(#sTe2)"/><circle cx="162" cy="828.8" r="3.8" fill="url(#sTe2)"/><circle cx="183" cy="828.8" r="3.4" fill="url(#sTe2)"/><circle cx="188" cy="828.8" r="3.4" fill="url(#sTe2)"/><circle cx="52.2" cy="841.9" r="3.7" fill="url(#sTe2)"/><circle cx="58.5" cy="841.9" r="3.4" fill="url(#sTe2)"/><circle cx="73.1" cy="841.9" r="3.6" fill="url(#sZr)"/><circle cx="91.2" cy="841.9" r="3.7" fill="url(#sTe2)"/><circle cx="97.5" cy="841.9" r="3.4" fill="url(#sTe2)"/><circle cx="112.1" cy="841.9" r="3.6" fill="url(#sZr)"/><circle cx="130.2" cy="841.9" r="3.7" fill="url(#sTe2)"/><circle cx="136.5" cy="841.9" r="3.4" fill="url(#sTe2)"/><circle cx="151.1" cy="841.9" r="3.6" fill="url(#sZr)"/><circle cx="169.2" cy="841.9" r="3.7" fill="url(#sTe2)"/><circle cx="175.5" cy="841.9" r="3.4" fill="url(#sTe2)"/><circle cx="190.1" cy="841.9" r="3.6" fill="url(#sZr)"/><circle cx="51" cy="855" r="3.6" fill="url(#sZr)"/><circle cx="90" cy="855" r="3.6" fill="url(#sZr)"/><circle cx="66" cy="855" r="3.4" fill="url(#sTe2)"/><circle cx="71" cy="855" r="3.4" fill="url(#sTe2)"/><circle cx="84" cy="855" r="3.8" fill="url(#sTe2)"/><circle cx="129" cy="855" r="3.6" fill="url(#sZr)"/><circle cx="105" cy="855" r="3.4" fill="url(#sTe2)"/><circle cx="110" cy="855" r="3.4" fill="url(#sTe2)"/><circle cx="123" cy="855" r="3.8" fill="url(#sTe2)"/><circle cx="168" cy="855" r="3.6" fill="url(#sZr)"/><circle cx="144" cy="855" r="3.4" fill="url(#sTe2)"/><circle cx="149" cy="855" r="3.4" fill="url(#sTe2)"/><circle cx="162" cy="855" r="3.8" fill="url(#sTe2)"/><circle cx="183" cy="855" r="3.4" fill="url(#sTe2)"/><circle cx="188" cy="855" r="3.4" fill="url(#sTe2)"/></g>
<clipPath id="cp14"><rect x="188.8" y="775" width="105" height="68.8"/></clipPath><g clip-path="url(#cp14)"><path d="M188 777.2L294 777.2" stroke="#ccc" stroke-width="0.6" stroke-dasharray="2.2 2" fill="none"/><path d="M188 798.5L294 798.5" stroke="#ccc" stroke-width="0.6" stroke-dasharray="2.2 2" fill="none"/><path d="M188 819.8L294 819.8" stroke="#ccc" stroke-width="0.6" stroke-dasharray="2.2 2" fill="none"/><path d="M188 841.2L294 841.2" stroke="#ccc" stroke-width="0.6" stroke-dasharray="2.2 2" fill="none"/><path d="M180.1 766.5L186.8 766.5M180.1 766.5L187.2 766.5M180.1 766.5L176.5 771.9M180.1 766.5L180.1 771.9M180.1 766.5L183.7 771.9M213.6 771.9L217.2 777.2M217.2 771.9L217.2 777.2M221 771.9L217.2 777.2M247.4 766.5L254.1 766.5M254.1 766.5L260.8 766.5M254.1 766.5L261.2 766.5M254.1 766.5L250.5 771.9M254.1 766.5L254.1 771.9M254.1 766.5L257.7 771.9M287.6 771.9L291.2 777.2M291.2 771.9L291.2 777.2M295 771.9L291.2 777.2M176.5 782.4L180.1 787.5M180.1 782.4L180.1 787.5M183.7 782.4L180.1 787.5M210.5 777.2L217.2 777.2M217.2 777.2L223.9 777.2M217.2 777.2L213.6 782.4M217.2 777.2L217.2 782.4M217.2 777.2L221 782.4M250.5 782.4L254.1 787.5M254.1 782.4L254.1 787.5M257.7 782.4L254.1 787.5M284.5 777.2L291.2 777.2M291.2 777.2L297.9 777.2M291.2 777.2L287.6 782.4M291.2 777.2L291.2 782.4M291.2 777.2L295 782.4M180.1 787.5L186.8 787.5M180.1 787.5L187.2 787.5M180.1 787.5L176.5 793M180.1 787.5L180.1 793M180.1 787.5L183.7 793M213.6 793L217.2 798.5M217.2 793L217.2 798.5M221 793L217.2 798.5M247.4 787.5L254.1 787.5M254.1 787.5L260.8 787.5M254.1 787.5L261.2 787.5M254.1 787.5L250.5 793M254.1 787.5L254.1 793M254.1 787.5L257.7 793M287.6 793L291.2 798.5M291.2 793L291.2 798.5M295 793L291.2 798.5M176.5 803.8L180.1 809M180.1 803.8L180.1 809M183.7 803.8L180.1 809M210.5 798.5L217.2 798.5M217.2 798.5L223.9 798.5M217.2 798.5L213.6 803.8M217.2 798.5L217.2 803.8M217.2 798.5L221 803.8M250.5 803.8L254.1 809M254.1 803.8L254.1 809M257.7 803.8L254.1 809M284.5 798.5L291.2 798.5M291.2 798.5L297.9 798.5M291.2 798.5L287.6 803.8M291.2 798.5L291.2 803.8M291.2 798.5L295 803.8M180.1 809L186.8 809M180.1 809L187.2 809M180.1 809L176.5 814.4M180.1 809L180.1 814.4M180.1 809L183.7 814.4M213.6 814.4L217.2 819.8M217.2 814.4L217.2 819.8M221 814.4L217.2 819.8M247.4 809L254.1 809M254.1 809L260.8 809M254.1 809L261.2 809M254.1 809L250.5 814.4M254.1 809L254.1 814.4M254.1 809L257.7 814.4M287.6 814.4L291.2 819.8M291.2 814.4L291.2 819.8M295 814.4L291.2 819.8M176.5 825L180.1 830.2M180.1 825L180.1 830.2M183.7 825L180.1 830.2M210.5 819.8L217.2 819.8M217.2 819.8L223.9 819.8M217.2 819.8L213.6 825M217.2 819.8L217.2 825M217.2 819.8L221 825M250.5 825L254.1 830.2M254.1 825L254.1 830.2M257.7 825L254.1 830.2M284.5 819.8L291.2 819.8M291.2 819.8L297.9 819.8M291.2 819.8L287.6 825M291.2 819.8L291.2 825M291.2 819.8L295 825M180.1 830.2L186.8 830.2M180.1 830.2L187.2 830.2M180.1 830.2L176.5 835.8M180.1 830.2L180.1 835.8M180.1 830.2L183.7 835.8M213.6 835.8L217.2 841.2M217.2 835.8L217.2 841.2M221 835.8L217.2 841.2M247.4 830.2L254.1 830.2M254.1 830.2L260.8 830.2M254.1 830.2L261.2 830.2M254.1 830.2L250.5 835.8M254.1 830.2L254.1 835.8M254.1 830.2L257.7 835.8M287.6 835.8L291.2 841.2M291.2 835.8L291.2 841.2M295 835.8L291.2 841.2M176.5 846.6L180.1 851.9M180.1 846.6L180.1 851.9M183.7 846.6L180.1 851.9M210.5 841.2L217.2 841.2M217.2 841.2L223.9 841.2M217.2 841.2L213.6 846.6M217.2 841.2L217.2 846.6M217.2 841.2L221 846.6M250.5 846.6L254.1 851.9M254.1 846.6L254.1 851.9M257.7 846.6L254.1 851.9M284.5 841.2L291.2 841.2M291.2 841.2L297.9 841.2M291.2 841.2L287.6 846.6M291.2 841.2L291.2 846.6M291.2 841.2L295 846.6M180.1 851.9L186.8 851.9M180.1 851.9L187.2 851.9M247.4 851.9L254.1 851.9M254.1 851.9L260.8 851.9M254.1 851.9L261.2 851.9" stroke="#86dede" stroke-width="1.1" fill="none"/><path d="M186.8 766.5L193.5 766.5M187.2 766.5L194.4 766.5M176.5 771.9L172.9 777.2M180.1 771.9L180.1 777.2M183.7 771.9L187.2 777.2M193.5 766.5L194.4 766.5M193.5 766.5L187.2 777.2M193.5 766.5L203.8 777.2M194.4 766.5L187.2 777.2M194.4 766.5L203.8 777.2M210 766.5L217.2 766.5M210 766.5L224.8 766.5M210 766.5L203.8 777.2M210 766.5L213.6 771.9M217.2 766.5L224.8 766.5M217.2 766.5L217.2 771.9M224.8 766.5L221 771.9M224.8 766.5L230.6 777.2M240.6 766.5L247.4 766.5M240.6 766.5L230.6 777.2M240.6 766.5L246.9 777.2M260.8 766.5L267.5 766.5M261.2 766.5L268.4 766.5M250.5 771.9L246.9 777.2M254.1 771.9L254.1 777.2M257.7 771.9L261.2 777.2M267.5 766.5L268.4 766.5M267.5 766.5L261.2 777.2M267.5 766.5L277.8 777.2M268.4 766.5L261.2 777.2M268.4 766.5L277.8 777.2M284 766.5L291.2 766.5M284 766.5L298.8 766.5M284 766.5L277.8 777.2M284 766.5L287.6 771.9M291.2 766.5L298.8 766.5M291.2 766.5L291.2 771.9M298.8 766.5L295 771.9M298.8 766.5L304.6 777.2M172.9 777.2L180.1 777.2M172.9 777.2L187.2 777.2M172.9 777.2L176.5 782.4M180.1 777.2L187.2 777.2M180.1 777.2L180.1 782.4M187.2 777.2L183.7 782.4M187.2 777.2L193.5 787.5M187.2 777.2L194.4 787.5M203.8 777.2L210.5 777.2M203.8 777.2L193.5 787.5M203.8 777.2L194.4 787.5M203.8 777.2L210 787.5M223.9 777.2L230.6 777.2M213.6 782.4L210 787.5M217.2 782.4L217.2 787.5M221 782.4L224.8 787.5M230.6 777.2L224.8 787.5M230.6 777.2L240.6 787.5M246.9 777.2L254.1 777.2M246.9 777.2L261.2 777.2M246.9 777.2L240.6 787.5M246.9 777.2L250.5 782.4M254.1 777.2L261.2 777.2M254.1 777.2L254.1 782.4M261.2 777.2L257.7 782.4M261.2 777.2L267.5 787.5M261.2 777.2L268.4 787.5M277.8 777.2L284.5 777.2M277.8 777.2L267.5 787.5M277.8 777.2L268.4 787.5M277.8 777.2L284 787.5M297.9 777.2L304.6 777.2M287.6 782.4L284 787.5M291.2 782.4L291.2 787.5M295 782.4L298.8 787.5M304.6 777.2L298.8 787.5M186.8 787.5L193.5 787.5M187.2 787.5L194.4 787.5M176.5 793L172.9 798.5M180.1 793L180.1 798.5M183.7 793L187.2 798.5M193.5 787.5L194.4 787.5M193.5 787.5L187.2 798.5M193.5 787.5L203.8 798.5M194.4 787.5L187.2 798.5M194.4 787.5L203.8 798.5M210 787.5L217.2 787.5M210 787.5L224.8 787.5M210 787.5L203.8 798.5M210 787.5L213.6 793M217.2 787.5L224.8 787.5M217.2 787.5L217.2 793M224.8 787.5L221 793M224.8 787.5L230.6 798.5M240.6 787.5L247.4 787.5M240.6 787.5L230.6 798.5M240.6 787.5L246.9 798.5M260.8 787.5L267.5 787.5M261.2 787.5L268.4 787.5M250.5 793L246.9 798.5M254.1 793L254.1 798.5M257.7 793L261.2 798.5M267.5 787.5L268.4 787.5M267.5 787.5L261.2 798.5M267.5 787.5L277.8 798.5M268.4 787.5L261.2 798.5M268.4 787.5L277.8 798.5M284 787.5L291.2 787.5M284 787.5L298.8 787.5M284 787.5L277.8 798.5M284 787.5L287.6 793M291.2 787.5L298.8 787.5M291.2 787.5L291.2 793M298.8 787.5L295 793M298.8 787.5L304.6 798.5M172.9 798.5L180.1 798.5M172.9 798.5L187.2 798.5M172.9 798.5L176.5 803.8M180.1 798.5L187.2 798.5M180.1 798.5L180.1 803.8M187.2 798.5L183.7 803.8M187.2 798.5L193.5 809M187.2 798.5L194.4 809M203.8 798.5L210.5 798.5M203.8 798.5L193.5 809M203.8 798.5L194.4 809M203.8 798.5L210 809M223.9 798.5L230.6 798.5M213.6 803.8L210 809M217.2 803.8L217.2 809M221 803.8L224.8 809M230.6 798.5L224.8 809M230.6 798.5L240.6 809M246.9 798.5L254.1 798.5M246.9 798.5L261.2 798.5M246.9 798.5L240.6 809M246.9 798.5L250.5 803.8M254.1 798.5L261.2 798.5M254.1 798.5L254.1 803.8M261.2 798.5L257.7 803.8M261.2 798.5L267.5 809M261.2 798.5L268.4 809M277.8 798.5L284.5 798.5M277.8 798.5L267.5 809M277.8 798.5L268.4 809M277.8 798.5L284 809M297.9 798.5L304.6 798.5M287.6 803.8L284 809M291.2 803.8L291.2 809M295 803.8L298.8 809M304.6 798.5L298.8 809M186.8 809L193.5 809M187.2 809L194.4 809M176.5 814.4L172.9 819.8M180.1 814.4L180.1 819.8M183.7 814.4L187.2 819.8M193.5 809L194.4 809M193.5 809L187.2 819.8M193.5 809L203.8 819.8M194.4 809L187.2 819.8M194.4 809L203.8 819.8M210 809L217.2 809M210 809L224.8 809M210 809L203.8 819.8M210 809L213.6 814.4M217.2 809L224.8 809M217.2 809L217.2 814.4M224.8 809L221 814.4M224.8 809L230.6 819.8M240.6 809L247.4 809M240.6 809L230.6 819.8M240.6 809L246.9 819.8M260.8 809L267.5 809M261.2 809L268.4 809M250.5 814.4L246.9 819.8M254.1 814.4L254.1 819.8M257.7 814.4L261.2 819.8M267.5 809L268.4 809M267.5 809L261.2 819.8M267.5 809L277.8 819.8M268.4 809L261.2 819.8M268.4 809L277.8 819.8M284 809L291.2 809M284 809L298.8 809M284 809L277.8 819.8M284 809L287.6 814.4M291.2 809L298.8 809M291.2 809L291.2 814.4M298.8 809L295 814.4M298.8 809L304.6 819.8M172.9 819.8L180.1 819.8M172.9 819.8L187.2 819.8M172.9 819.8L176.5 825M180.1 819.8L187.2 819.8M180.1 819.8L180.1 825M187.2 819.8L183.7 825M187.2 819.8L193.5 830.2M187.2 819.8L194.4 830.2M203.8 819.8L210.5 819.8M203.8 819.8L193.5 830.2M203.8 819.8L194.4 830.2M203.8 819.8L210 830.2M223.9 819.8L230.6 819.8M213.6 825L210 830.2M217.2 825L217.2 830.2M221 825L224.8 830.2M230.6 819.8L224.8 830.2M230.6 819.8L240.6 830.2M246.9 819.8L254.1 819.8M246.9 819.8L261.2 819.8M246.9 819.8L240.6 830.2M246.9 819.8L250.5 825M254.1 819.8L261.2 819.8M254.1 819.8L254.1 825M261.2 819.8L257.7 825M261.2 819.8L267.5 830.2M261.2 819.8L268.4 830.2M277.8 819.8L284.5 819.8M277.8 819.8L267.5 830.2M277.8 819.8L268.4 830.2M277.8 819.8L284 830.2M297.9 819.8L304.6 819.8M287.6 825L284 830.2M291.2 825L291.2 830.2M295 825L298.8 830.2M304.6 819.8L298.8 830.2M186.8 830.2L193.5 830.2M187.2 830.2L194.4 830.2M176.5 835.8L172.9 841.2M180.1 835.8L180.1 841.2M183.7 835.8L187.2 841.2M193.5 830.2L194.4 830.2M193.5 830.2L187.2 841.2M193.5 830.2L203.8 841.2M194.4 830.2L187.2 841.2M194.4 830.2L203.8 841.2M210 830.2L217.2 830.2M210 830.2L224.8 830.2M210 830.2L203.8 841.2M210 830.2L213.6 835.8M217.2 830.2L224.8 830.2M217.2 830.2L217.2 835.8M224.8 830.2L221 835.8M224.8 830.2L230.6 841.2M240.6 830.2L247.4 830.2M240.6 830.2L230.6 841.2M240.6 830.2L246.9 841.2M260.8 830.2L267.5 830.2M261.2 830.2L268.4 830.2M250.5 835.8L246.9 841.2M254.1 835.8L254.1 841.2M257.7 835.8L261.2 841.2M267.5 830.2L268.4 830.2M267.5 830.2L261.2 841.2M267.5 830.2L277.8 841.2M268.4 830.2L261.2 841.2M268.4 830.2L277.8 841.2M284 830.2L291.2 830.2M284 830.2L298.8 830.2M284 830.2L277.8 841.2M284 830.2L287.6 835.8M291.2 830.2L298.8 830.2M291.2 830.2L291.2 835.8M298.8 830.2L295 835.8M298.8 830.2L304.6 841.2M172.9 841.2L180.1 841.2M172.9 841.2L187.2 841.2M172.9 841.2L176.5 846.6M180.1 841.2L187.2 841.2M180.1 841.2L180.1 846.6M187.2 841.2L183.7 846.6M187.2 841.2L193.5 851.9M187.2 841.2L194.4 851.9M203.8 841.2L210.5 841.2M203.8 841.2L193.5 851.9M203.8 841.2L194.4 851.9M203.8 841.2L210 851.9M223.9 841.2L230.6 841.2M213.6 846.6L210 851.9M217.2 846.6L217.2 851.9M221 846.6L224.8 851.9M230.6 841.2L224.8 851.9M230.6 841.2L240.6 851.9M246.9 841.2L254.1 841.2M246.9 841.2L261.2 841.2M246.9 841.2L240.6 851.9M246.9 841.2L250.5 846.6M254.1 841.2L261.2 841.2M254.1 841.2L254.1 846.6M261.2 841.2L257.7 846.6M261.2 841.2L267.5 851.9M261.2 841.2L268.4 851.9M277.8 841.2L284.5 841.2M277.8 841.2L267.5 851.9M277.8 841.2L268.4 851.9M277.8 841.2L284 851.9M297.9 841.2L304.6 841.2M287.6 846.6L284 851.9M291.2 846.6L291.2 851.9M295 846.6L298.8 851.9M304.6 841.2L298.8 851.9M186.8 851.9L193.5 851.9M187.2 851.9L194.4 851.9M193.5 851.9L194.4 851.9M210 851.9L217.2 851.9M210 851.9L224.8 851.9M217.2 851.9L224.8 851.9M240.6 851.9L247.4 851.9M260.8 851.9L267.5 851.9M261.2 851.9L268.4 851.9M267.5 851.9L268.4 851.9M284 851.9L291.2 851.9M284 851.9L298.8 851.9M291.2 851.9L298.8 851.9" stroke="#d87a0a" stroke-width="1.1" fill="none"/><circle cx="180.1" cy="766.5" r="3.3" fill="url(#sZr)"/><circle cx="193.5" cy="766.5" r="3.2" fill="url(#sTe2)"/><circle cx="194.4" cy="766.5" r="3.2" fill="url(#sTe2)"/><circle cx="210" cy="766.5" r="2.9" fill="url(#sTe2)"/><circle cx="217.2" cy="766.5" r="3.2" fill="url(#sTe2)"/><circle cx="224.8" cy="766.5" r="2.9" fill="url(#sTe2)"/><circle cx="240.6" cy="766.5" r="3.2" fill="url(#sTe2)"/><circle cx="254.1" cy="766.5" r="3.3" fill="url(#sZr)"/><circle cx="267.5" cy="766.5" r="3.2" fill="url(#sTe2)"/><circle cx="268.4" cy="766.5" r="3.2" fill="url(#sTe2)"/><circle cx="284" cy="766.5" r="2.9" fill="url(#sTe2)"/><circle cx="291.2" cy="766.5" r="3.2" fill="url(#sTe2)"/><circle cx="298.8" cy="766.5" r="2.9" fill="url(#sTe2)"/><circle cx="172.9" cy="777.2" r="2.9" fill="url(#sTe2)"/><circle cx="180.1" cy="777.2" r="3.2" fill="url(#sTe2)"/><circle cx="187.2" cy="777.2" r="2.9" fill="url(#sTe2)"/><circle cx="203.8" cy="777.2" r="3.2" fill="url(#sTe2)"/><circle cx="217.2" cy="777.2" r="3.3" fill="url(#sZr)"/><circle cx="230.6" cy="777.2" r="3.2" fill="url(#sTe2)"/><circle cx="246.9" cy="777.2" r="2.9" fill="url(#sTe2)"/><circle cx="254.1" cy="777.2" r="3.2" fill="url(#sTe2)"/><circle cx="261.2" cy="777.2" r="2.9" fill="url(#sTe2)"/><circle cx="277.8" cy="777.2" r="3.2" fill="url(#sTe2)"/><circle cx="291.2" cy="777.2" r="3.3" fill="url(#sZr)"/><circle cx="304.6" cy="777.2" r="3.2" fill="url(#sTe2)"/><circle cx="180.1" cy="787.5" r="3.3" fill="url(#sZr)"/><circle cx="193.5" cy="787.5" r="3.2" fill="url(#sTe2)"/><circle cx="194.4" cy="787.5" r="3.2" fill="url(#sTe2)"/><circle cx="210" cy="787.5" r="2.9" fill="url(#sTe2)"/><circle cx="217.2" cy="787.5" r="3.2" fill="url(#sTe2)"/><circle cx="224.8" cy="787.5" r="2.9" fill="url(#sTe2)"/><circle cx="240.6" cy="787.5" r="3.2" fill="url(#sTe2)"/><circle cx="254.1" cy="787.5" r="3.3" fill="url(#sZr)"/><circle cx="267.5" cy="787.5" r="3.2" fill="url(#sTe2)"/><circle cx="268.4" cy="787.5" r="3.2" fill="url(#sTe2)"/><circle cx="284" cy="787.5" r="2.9" fill="url(#sTe2)"/><circle cx="291.2" cy="787.5" r="3.2" fill="url(#sTe2)"/><circle cx="298.8" cy="787.5" r="2.9" fill="url(#sTe2)"/><circle cx="172.9" cy="798.5" r="2.9" fill="url(#sTe2)"/><circle cx="180.1" cy="798.5" r="3.2" fill="url(#sTe2)"/><circle cx="187.2" cy="798.5" r="2.9" fill="url(#sTe2)"/><circle cx="203.8" cy="798.5" r="3.2" fill="url(#sTe2)"/><circle cx="217.2" cy="798.5" r="3.3" fill="url(#sZr)"/><circle cx="230.6" cy="798.5" r="3.2" fill="url(#sTe2)"/><circle cx="246.9" cy="798.5" r="2.9" fill="url(#sTe2)"/><circle cx="254.1" cy="798.5" r="3.2" fill="url(#sTe2)"/><circle cx="261.2" cy="798.5" r="2.9" fill="url(#sTe2)"/><circle cx="277.8" cy="798.5" r="3.2" fill="url(#sTe2)"/><circle cx="291.2" cy="798.5" r="3.3" fill="url(#sZr)"/><circle cx="304.6" cy="798.5" r="3.2" fill="url(#sTe2)"/><circle cx="180.1" cy="809" r="3.3" fill="url(#sZr)"/><circle cx="193.5" cy="809" r="3.2" fill="url(#sTe2)"/><circle cx="194.4" cy="809" r="3.2" fill="url(#sTe2)"/><circle cx="210" cy="809" r="2.9" fill="url(#sTe2)"/><circle cx="217.2" cy="809" r="3.2" fill="url(#sTe2)"/><circle cx="224.8" cy="809" r="2.9" fill="url(#sTe2)"/><circle cx="240.6" cy="809" r="3.2" fill="url(#sTe2)"/><circle cx="254.1" cy="809" r="3.3" fill="url(#sZr)"/><circle cx="267.5" cy="809" r="3.2" fill="url(#sTe2)"/><circle cx="268.4" cy="809" r="3.2" fill="url(#sTe2)"/><circle cx="284" cy="809" r="2.9" fill="url(#sTe2)"/><circle cx="291.2" cy="809" r="3.2" fill="url(#sTe2)"/><circle cx="298.8" cy="809" r="2.9" fill="url(#sTe2)"/><circle cx="172.9" cy="819.8" r="2.9" fill="url(#sTe2)"/><circle cx="180.1" cy="819.8" r="3.2" fill="url(#sTe2)"/><circle cx="187.2" cy="819.8" r="2.9" fill="url(#sTe2)"/><circle cx="203.8" cy="819.8" r="3.2" fill="url(#sTe2)"/><circle cx="217.2" cy="819.8" r="3.3" fill="url(#sZr)"/><circle cx="230.6" cy="819.8" r="3.2" fill="url(#sTe2)"/><circle cx="246.9" cy="819.8" r="2.9" fill="url(#sTe2)"/><circle cx="254.1" cy="819.8" r="3.2" fill="url(#sTe2)"/><circle cx="261.2" cy="819.8" r="2.9" fill="url(#sTe2)"/><circle cx="277.8" cy="819.8" r="3.2" fill="url(#sTe2)"/><circle cx="291.2" cy="819.8" r="3.3" fill="url(#sZr)"/><circle cx="304.6" cy="819.8" r="3.2" fill="url(#sTe2)"/><circle cx="180.1" cy="830.2" r="3.3" fill="url(#sZr)"/><circle cx="193.5" cy="830.2" r="3.2" fill="url(#sTe2)"/><circle cx="194.4" cy="830.2" r="3.2" fill="url(#sTe2)"/><circle cx="210" cy="830.2" r="2.9" fill="url(#sTe2)"/><circle cx="217.2" cy="830.2" r="3.2" fill="url(#sTe2)"/><circle cx="224.8" cy="830.2" r="2.9" fill="url(#sTe2)"/><circle cx="240.6" cy="830.2" r="3.2" fill="url(#sTe2)"/><circle cx="254.1" cy="830.2" r="3.3" fill="url(#sZr)"/><circle cx="267.5" cy="830.2" r="3.2" fill="url(#sTe2)"/><circle cx="268.4" cy="830.2" r="3.2" fill="url(#sTe2)"/><circle cx="284" cy="830.2" r="2.9" fill="url(#sTe2)"/><circle cx="291.2" cy="830.2" r="3.2" fill="url(#sTe2)"/><circle cx="298.8" cy="830.2" r="2.9" fill="url(#sTe2)"/><circle cx="172.9" cy="841.2" r="2.9" fill="url(#sTe2)"/><circle cx="180.1" cy="841.2" r="3.2" fill="url(#sTe2)"/><circle cx="187.2" cy="841.2" r="2.9" fill="url(#sTe2)"/><circle cx="203.8" cy="841.2" r="3.2" fill="url(#sTe2)"/><circle cx="217.2" cy="841.2" r="3.3" fill="url(#sZr)"/><circle cx="230.6" cy="841.2" r="3.2" fill="url(#sTe2)"/><circle cx="246.9" cy="841.2" r="2.9" fill="url(#sTe2)"/><circle cx="254.1" cy="841.2" r="3.2" fill="url(#sTe2)"/><circle cx="261.2" cy="841.2" r="2.9" fill="url(#sTe2)"/><circle cx="277.8" cy="841.2" r="3.2" fill="url(#sTe2)"/><circle cx="291.2" cy="841.2" r="3.3" fill="url(#sZr)"/><circle cx="304.6" cy="841.2" r="3.2" fill="url(#sTe2)"/><circle cx="180.1" cy="851.9" r="3.3" fill="url(#sZr)"/><circle cx="193.5" cy="851.9" r="3.2" fill="url(#sTe2)"/><circle cx="194.4" cy="851.9" r="3.2" fill="url(#sTe2)"/><circle cx="210" cy="851.9" r="2.9" fill="url(#sTe2)"/><circle cx="217.2" cy="851.9" r="3.2" fill="url(#sTe2)"/><circle cx="224.8" cy="851.9" r="2.9" fill="url(#sTe2)"/><circle cx="240.6" cy="851.9" r="3.2" fill="url(#sTe2)"/><circle cx="254.1" cy="851.9" r="3.3" fill="url(#sZr)"/><circle cx="267.5" cy="851.9" r="3.2" fill="url(#sTe2)"/><circle cx="268.4" cy="851.9" r="3.2" fill="url(#sTe2)"/><circle cx="284" cy="851.9" r="2.9" fill="url(#sTe2)"/><circle cx="291.2" cy="851.9" r="3.2" fill="url(#sTe2)"/><circle cx="298.8" cy="851.9" r="2.9" fill="url(#sTe2)"/></g>
<clipPath id="cp15"><rect x="309.4" y="771.9" width="106.2" height="70"/></clipPath><g clip-path="url(#cp15)"><path d="M345.2 772L345.2 842" stroke="#ccc" stroke-width="0.7" stroke-dasharray="2.2 2" fill="none"/><path d="M309 816.2L416 816.2" stroke="#999" stroke-width="0.6" stroke-dasharray="2.2 2" fill="none"/><path d="M297.5 765.2L302.3 765.2M297.5 765.2L295.6 770.3M314.5 765.2L321.9 765.2M305.2 770.3L303.4 775.4M311.7 770.3L316.2 775.4M321.9 765.2L326.2 770.3M334.4 765.2L339.2 765.2M334.4 765.2L332.5 770.3M351.4 765.2L358.8 765.2M342.1 770.3L340.2 775.4M348.6 770.3L353.1 775.4M358.8 765.2L363.1 770.3M371.2 765.2L376.1 765.2M371.2 765.2L369.4 770.3M388.2 765.2L395.6 765.2M379 770.3L377.1 775.4M385.4 770.3L390 775.4M395.6 765.2L400 770.3M408.1 765.2L412.9 765.2M408.1 765.2L406.2 770.3M425.1 765.2L432.5 765.2M415.9 770.3L414 775.4M422.3 770.3L426.9 775.4M298.6 775.4L303.4 775.4M295.6 780.5L297.5 785.6M303.4 775.4L305.2 780.5M316.2 775.4L323.4 775.4M316.2 775.4L311.7 780.5M335.4 775.4L340.2 775.4M326.2 780.5L321.9 785.6M332.5 780.5L334.4 785.6M340.2 775.4L342.1 780.5M353.1 775.4L360.3 775.4M353.1 775.4L348.6 780.5M372.3 775.4L377.1 775.4M363.1 780.5L358.8 785.6M369.4 780.5L371.2 785.6M377.1 775.4L379 780.5M390 775.4L397.2 775.4M390 775.4L385.4 780.5M409.2 775.4L414 775.4M400 780.5L395.6 785.6M406.2 780.5L408.1 785.6M414 775.4L415.9 780.5M426.9 775.4L422.3 780.5M297.5 785.6L302.3 785.6M297.5 785.6L295.6 790.8M314.5 785.6L321.9 785.6M305.2 790.8L303.4 795.9M311.7 790.8L316.2 795.9M321.9 785.6L326.2 790.8M334.4 785.6L339.2 785.6M334.4 785.6L332.5 790.8M351.4 785.6L358.8 785.6M342.1 790.8L340.2 795.9M348.6 790.8L353.1 795.9M358.8 785.6L363.1 790.8M371.2 785.6L376.1 785.6M371.2 785.6L369.4 790.8M388.2 785.6L395.6 785.6M379 790.8L377.1 795.9M385.4 790.8L390 795.9M395.6 785.6L400 790.8M408.1 785.6L412.9 785.6M408.1 785.6L406.2 790.8M425.1 785.6L432.5 785.6M415.9 790.8L414 795.9M422.3 790.8L426.9 795.9M298.6 795.9L303.4 795.9M295.6 801.1L297.5 806.2M303.4 795.9L305.2 801.1M316.2 795.9L323.4 795.9M316.2 795.9L311.7 801.1M335.4 795.9L340.2 795.9M326.2 801.1L321.9 806.2M332.5 801.1L334.4 806.2M340.2 795.9L342.1 801.1M353.1 795.9L360.3 795.9M353.1 795.9L348.6 801.1M372.3 795.9L377.1 795.9M363.1 801.1L358.8 806.2M369.4 801.1L371.2 806.2M377.1 795.9L379 801.1M390 795.9L397.2 795.9M390 795.9L385.4 801.1M409.2 795.9L414 795.9M400 801.1L395.6 806.2M406.2 801.1L408.1 806.2M414 795.9L415.9 801.1M426.9 795.9L422.3 801.1M297.5 806.2L302.3 806.2M297.5 806.2L295.6 811.2M314.5 806.2L321.9 806.2M305.2 811.2L303.4 816.2M311.7 811.2L316.2 816.2M321.9 806.2L326.2 811.2M334.4 806.2L339.2 806.2M334.4 806.2L332.5 811.2M351.4 806.2L358.8 806.2M342.1 811.2L340.2 816.2M348.6 811.2L353.1 816.2M358.8 806.2L363.1 811.2M371.2 806.2L376.1 806.2M371.2 806.2L369.4 811.2M388.2 806.2L395.6 806.2M379 811.2L377.1 816.2M385.4 811.2L390 816.2M395.6 806.2L400 811.2M408.1 806.2L412.9 806.2M408.1 806.2L406.2 811.2M425.1 806.2L432.5 806.2M415.9 811.2L414 816.2M422.3 811.2L426.9 816.2M298.6 816.2L303.4 816.2M295.6 821.4L297.5 826.5M303.4 816.2L305.2 821.4M316.2 816.2L323.4 816.2M316.2 816.2L311.7 821.4M335.4 816.2L340.2 816.2M326.2 821.4L321.9 826.5M332.5 821.4L334.4 826.5M340.2 816.2L342.1 821.4M353.1 816.2L360.3 816.2M353.1 816.2L348.6 821.4M372.3 816.2L377.1 816.2M363.1 821.4L358.8 826.5M369.4 821.4L371.2 826.5M377.1 816.2L379 821.4M390 816.2L397.2 816.2M390 816.2L385.4 821.4M409.2 816.2L414 816.2M400 821.4L395.6 826.5M406.2 821.4L408.1 826.5M414 816.2L415.9 821.4M426.9 816.2L422.3 821.4M297.5 826.5L302.3 826.5M297.5 826.5L295.6 831.5M314.5 826.5L321.9 826.5M305.2 831.5L303.4 836.5M311.7 831.5L316.2 836.5M321.9 826.5L326.2 831.5M334.4 826.5L339.2 826.5M334.4 826.5L332.5 831.5M351.4 826.5L358.8 826.5M342.1 831.5L340.2 836.5M348.6 831.5L353.1 836.5M358.8 826.5L363.1 831.5M371.2 826.5L376.1 826.5M371.2 826.5L369.4 831.5M388.2 826.5L395.6 826.5M379 831.5L377.1 836.5M385.4 831.5L390 836.5M395.6 826.5L400 831.5M408.1 826.5L412.9 826.5M408.1 826.5L406.2 831.5M425.1 826.5L432.5 826.5M415.9 831.5L414 836.5M422.3 831.5L426.9 836.5M298.6 836.5L303.4 836.5M295.6 841.6L297.5 846.8M303.4 836.5L305.2 841.6M316.2 836.5L323.4 836.5M316.2 836.5L311.7 841.6M335.4 836.5L340.2 836.5M326.2 841.6L321.9 846.8M332.5 841.6L334.4 846.8M340.2 836.5L342.1 841.6M353.1 836.5L360.3 836.5M353.1 836.5L348.6 841.6M372.3 836.5L377.1 836.5M363.1 841.6L358.8 846.8M369.4 841.6L371.2 846.8M377.1 836.5L379 841.6M390 836.5L397.2 836.5M390 836.5L385.4 841.6M409.2 836.5L414 836.5M400 841.6L395.6 846.8M406.2 841.6L408.1 846.8M414 836.5L415.9 841.6M426.9 836.5L422.3 841.6M297.5 846.8L302.3 846.8M314.5 846.8L321.9 846.8M334.4 846.8L339.2 846.8M351.4 846.8L358.8 846.8M371.2 846.8L376.1 846.8M388.2 846.8L395.6 846.8M408.1 846.8L412.9 846.8M425.1 846.8L432.5 846.8" stroke="#d87a0a" stroke-width="1.2" fill="none"/><path d="M302.3 765.2L307.1 765.2M295.6 770.3L293.8 775.4M307.1 765.2L314.5 765.2M307.1 765.2L293.8 775.4M307.1 765.2L305.2 770.3M307.1 765.2L311.7 770.3M326.2 770.3L330.6 775.4M339.2 765.2L344 765.2M332.5 770.3L330.6 775.4M344 765.2L351.4 765.2M344 765.2L330.6 775.4M344 765.2L342.1 770.3M344 765.2L348.6 770.3M363.1 770.3L367.5 775.4M376.1 765.2L380.9 765.2M369.4 770.3L367.5 775.4M380.9 765.2L388.2 765.2M380.9 765.2L367.5 775.4M380.9 765.2L379 770.3M380.9 765.2L385.4 770.3M400 770.3L404.4 775.4M412.9 765.2L417.8 765.2M406.2 770.3L404.4 775.4M417.8 765.2L425.1 765.2M417.8 765.2L404.4 775.4M417.8 765.2L415.9 770.3M417.8 765.2L422.3 770.3M293.8 775.4L298.6 775.4M293.8 775.4L295.6 780.5M293.8 775.4L307.1 785.6M305.2 780.5L307.1 785.6M323.4 775.4L330.6 775.4M311.7 780.5L307.1 785.6M330.6 775.4L335.4 775.4M330.6 775.4L326.2 780.5M330.6 775.4L332.5 780.5M330.6 775.4L344 785.6M342.1 780.5L344 785.6M360.3 775.4L367.5 775.4M348.6 780.5L344 785.6M367.5 775.4L372.3 775.4M367.5 775.4L363.1 780.5M367.5 775.4L369.4 780.5M367.5 775.4L380.9 785.6M379 780.5L380.9 785.6M397.2 775.4L404.4 775.4M385.4 780.5L380.9 785.6M404.4 775.4L409.2 775.4M404.4 775.4L400 780.5M404.4 775.4L406.2 780.5M404.4 775.4L417.8 785.6M415.9 780.5L417.8 785.6M422.3 780.5L417.8 785.6M302.3 785.6L307.1 785.6M295.6 790.8L293.8 795.9M307.1 785.6L314.5 785.6M307.1 785.6L293.8 795.9M307.1 785.6L305.2 790.8M307.1 785.6L311.7 790.8M326.2 790.8L330.6 795.9M339.2 785.6L344 785.6M332.5 790.8L330.6 795.9M344 785.6L351.4 785.6M344 785.6L330.6 795.9M344 785.6L342.1 790.8M344 785.6L348.6 790.8M363.1 790.8L367.5 795.9M376.1 785.6L380.9 785.6M369.4 790.8L367.5 795.9M380.9 785.6L388.2 785.6M380.9 785.6L367.5 795.9M380.9 785.6L379 790.8M380.9 785.6L385.4 790.8M400 790.8L404.4 795.9M412.9 785.6L417.8 785.6M406.2 790.8L404.4 795.9M417.8 785.6L425.1 785.6M417.8 785.6L404.4 795.9M417.8 785.6L415.9 790.8M417.8 785.6L422.3 790.8M293.8 795.9L298.6 795.9M293.8 795.9L295.6 801.1M293.8 795.9L307.1 806.2M305.2 801.1L307.1 806.2M323.4 795.9L330.6 795.9M311.7 801.1L307.1 806.2M330.6 795.9L335.4 795.9M330.6 795.9L326.2 801.1M330.6 795.9L332.5 801.1M330.6 795.9L344 806.2M342.1 801.1L344 806.2M360.3 795.9L367.5 795.9M348.6 801.1L344 806.2M367.5 795.9L372.3 795.9M367.5 795.9L363.1 801.1M367.5 795.9L369.4 801.1M367.5 795.9L380.9 806.2M379 801.1L380.9 806.2M397.2 795.9L404.4 795.9M385.4 801.1L380.9 806.2M404.4 795.9L409.2 795.9M404.4 795.9L400 801.1M404.4 795.9L406.2 801.1M404.4 795.9L417.8 806.2M415.9 801.1L417.8 806.2M422.3 801.1L417.8 806.2M302.3 806.2L307.1 806.2M295.6 811.2L293.8 816.2M307.1 806.2L314.5 806.2M307.1 806.2L293.8 816.2M307.1 806.2L305.2 811.2M307.1 806.2L311.7 811.2M326.2 811.2L330.6 816.2M339.2 806.2L344 806.2M332.5 811.2L330.6 816.2M344 806.2L351.4 806.2M344 806.2L330.6 816.2M344 806.2L342.1 811.2M344 806.2L348.6 811.2M363.1 811.2L367.5 816.2M376.1 806.2L380.9 806.2M369.4 811.2L367.5 816.2M380.9 806.2L388.2 806.2M380.9 806.2L367.5 816.2M380.9 806.2L379 811.2M380.9 806.2L385.4 811.2M400 811.2L404.4 816.2M412.9 806.2L417.8 806.2M406.2 811.2L404.4 816.2M417.8 806.2L425.1 806.2M417.8 806.2L404.4 816.2M417.8 806.2L415.9 811.2M417.8 806.2L422.3 811.2M293.8 816.2L298.6 816.2M293.8 816.2L295.6 821.4M293.8 816.2L307.1 826.5M305.2 821.4L307.1 826.5M323.4 816.2L330.6 816.2M311.7 821.4L307.1 826.5M330.6 816.2L335.4 816.2M330.6 816.2L326.2 821.4M330.6 816.2L332.5 821.4M330.6 816.2L344 826.5M342.1 821.4L344 826.5M360.3 816.2L367.5 816.2M348.6 821.4L344 826.5M367.5 816.2L372.3 816.2M367.5 816.2L363.1 821.4M367.5 816.2L369.4 821.4M367.5 816.2L380.9 826.5M379 821.4L380.9 826.5M397.2 816.2L404.4 816.2M385.4 821.4L380.9 826.5M404.4 816.2L409.2 816.2M404.4 816.2L400 821.4M404.4 816.2L406.2 821.4M404.4 816.2L417.8 826.5M415.9 821.4L417.8 826.5M422.3 821.4L417.8 826.5M302.3 826.5L307.1 826.5M295.6 831.5L293.8 836.5M307.1 826.5L314.5 826.5M307.1 826.5L293.8 836.5M307.1 826.5L305.2 831.5M307.1 826.5L311.7 831.5M326.2 831.5L330.6 836.5M339.2 826.5L344 826.5M332.5 831.5L330.6 836.5M344 826.5L351.4 826.5M344 826.5L330.6 836.5M344 826.5L342.1 831.5M344 826.5L348.6 831.5M363.1 831.5L367.5 836.5M376.1 826.5L380.9 826.5M369.4 831.5L367.5 836.5M380.9 826.5L388.2 826.5M380.9 826.5L367.5 836.5M380.9 826.5L379 831.5M380.9 826.5L385.4 831.5M400 831.5L404.4 836.5M412.9 826.5L417.8 826.5M406.2 831.5L404.4 836.5M417.8 826.5L425.1 826.5M417.8 826.5L404.4 836.5M417.8 826.5L415.9 831.5M417.8 826.5L422.3 831.5M293.8 836.5L298.6 836.5M293.8 836.5L295.6 841.6M293.8 836.5L307.1 846.8M305.2 841.6L307.1 846.8M323.4 836.5L330.6 836.5M311.7 841.6L307.1 846.8M330.6 836.5L335.4 836.5M330.6 836.5L326.2 841.6M330.6 836.5L332.5 841.6M330.6 836.5L344 846.8M342.1 841.6L344 846.8M360.3 836.5L367.5 836.5M348.6 841.6L344 846.8M367.5 836.5L372.3 836.5M367.5 836.5L363.1 841.6M367.5 836.5L369.4 841.6M367.5 836.5L380.9 846.8M379 841.6L380.9 846.8M397.2 836.5L404.4 836.5M385.4 841.6L380.9 846.8M404.4 836.5L409.2 836.5M404.4 836.5L400 841.6M404.4 836.5L406.2 841.6M404.4 836.5L417.8 846.8M415.9 841.6L417.8 846.8M422.3 841.6L417.8 846.8M302.3 846.8L307.1 846.8M307.1 846.8L314.5 846.8M339.2 846.8L344 846.8M344 846.8L351.4 846.8M376.1 846.8L380.9 846.8M380.9 846.8L388.2 846.8M412.9 846.8L417.8 846.8M417.8 846.8L425.1 846.8" stroke="#2a92d4" stroke-width="1.2" fill="none"/><circle cx="297.5" cy="765.2" r="3" fill="url(#sTe2)"/><circle cx="307.1" cy="765.2" r="3" fill="url(#sW)"/><circle cx="321.9" cy="765.2" r="3.3" fill="url(#sTe2)"/><circle cx="334.4" cy="765.2" r="3" fill="url(#sTe2)"/><circle cx="344" cy="765.2" r="3" fill="url(#sW)"/><circle cx="358.8" cy="765.2" r="3.3" fill="url(#sTe2)"/><circle cx="371.2" cy="765.2" r="3" fill="url(#sTe2)"/><circle cx="380.9" cy="765.2" r="3" fill="url(#sW)"/><circle cx="395.6" cy="765.2" r="3.3" fill="url(#sTe2)"/><circle cx="408.1" cy="765.2" r="3" fill="url(#sTe2)"/><circle cx="417.8" cy="765.2" r="3" fill="url(#sW)"/><circle cx="432.5" cy="765.2" r="3.3" fill="url(#sTe2)"/><circle cx="293.8" cy="775.4" r="3" fill="url(#sW)"/><circle cx="303.4" cy="775.4" r="3.3" fill="url(#sTe2)"/><circle cx="316.2" cy="775.4" r="3.3" fill="url(#sTe2)"/><circle cx="330.6" cy="775.4" r="3" fill="url(#sW)"/><circle cx="340.2" cy="775.4" r="3.3" fill="url(#sTe2)"/><circle cx="353.1" cy="775.4" r="3.3" fill="url(#sTe2)"/><circle cx="367.5" cy="775.4" r="3" fill="url(#sW)"/><circle cx="377.1" cy="775.4" r="3.3" fill="url(#sTe2)"/><circle cx="390" cy="775.4" r="3.3" fill="url(#sTe2)"/><circle cx="404.4" cy="775.4" r="3" fill="url(#sW)"/><circle cx="414" cy="775.4" r="3.3" fill="url(#sTe2)"/><circle cx="426.9" cy="775.4" r="3.3" fill="url(#sTe2)"/><circle cx="297.5" cy="785.6" r="3" fill="url(#sTe2)"/><circle cx="307.1" cy="785.6" r="3" fill="url(#sW)"/><circle cx="321.9" cy="785.6" r="3.3" fill="url(#sTe2)"/><circle cx="334.4" cy="785.6" r="3" fill="url(#sTe2)"/><circle cx="344" cy="785.6" r="3" fill="url(#sW)"/><circle cx="358.8" cy="785.6" r="3.3" fill="url(#sTe2)"/><circle cx="371.2" cy="785.6" r="3" fill="url(#sTe2)"/><circle cx="380.9" cy="785.6" r="3" fill="url(#sW)"/><circle cx="395.6" cy="785.6" r="3.3" fill="url(#sTe2)"/><circle cx="408.1" cy="785.6" r="3" fill="url(#sTe2)"/><circle cx="417.8" cy="785.6" r="3" fill="url(#sW)"/><circle cx="432.5" cy="785.6" r="3.3" fill="url(#sTe2)"/><circle cx="293.8" cy="795.9" r="3" fill="url(#sW)"/><circle cx="303.4" cy="795.9" r="3.3" fill="url(#sTe2)"/><circle cx="316.2" cy="795.9" r="3.3" fill="url(#sTe2)"/><circle cx="330.6" cy="795.9" r="3" fill="url(#sW)"/><circle cx="340.2" cy="795.9" r="3.3" fill="url(#sTe2)"/><circle cx="353.1" cy="795.9" r="3.3" fill="url(#sTe2)"/><circle cx="367.5" cy="795.9" r="3" fill="url(#sW)"/><circle cx="377.1" cy="795.9" r="3.3" fill="url(#sTe2)"/><circle cx="390" cy="795.9" r="3.3" fill="url(#sTe2)"/><circle cx="404.4" cy="795.9" r="3" fill="url(#sW)"/><circle cx="414" cy="795.9" r="3.3" fill="url(#sTe2)"/><circle cx="426.9" cy="795.9" r="3.3" fill="url(#sTe2)"/><circle cx="297.5" cy="806.2" r="3" fill="url(#sTe2)"/><circle cx="307.1" cy="806.2" r="3" fill="url(#sW)"/><circle cx="321.9" cy="806.2" r="3.3" fill="url(#sTe2)"/><circle cx="334.4" cy="806.2" r="3" fill="url(#sTe2)"/><circle cx="344" cy="806.2" r="3" fill="url(#sW)"/><circle cx="358.8" cy="806.2" r="3.3" fill="url(#sTe2)"/><circle cx="371.2" cy="806.2" r="3" fill="url(#sTe2)"/><circle cx="380.9" cy="806.2" r="3" fill="url(#sW)"/><circle cx="395.6" cy="806.2" r="3.3" fill="url(#sTe2)"/><circle cx="408.1" cy="806.2" r="3" fill="url(#sTe2)"/><circle cx="417.8" cy="806.2" r="3" fill="url(#sW)"/><circle cx="432.5" cy="806.2" r="3.3" fill="url(#sTe2)"/><circle cx="293.8" cy="816.2" r="3" fill="url(#sW)"/><circle cx="303.4" cy="816.2" r="3.3" fill="url(#sTe2)"/><circle cx="316.2" cy="816.2" r="3.3" fill="url(#sTe2)"/><circle cx="330.6" cy="816.2" r="3" fill="url(#sW)"/><circle cx="340.2" cy="816.2" r="3.3" fill="url(#sTe2)"/><circle cx="353.1" cy="816.2" r="3.3" fill="url(#sTe2)"/><circle cx="367.5" cy="816.2" r="3" fill="url(#sW)"/><circle cx="377.1" cy="816.2" r="3.3" fill="url(#sTe2)"/><circle cx="390" cy="816.2" r="3.3" fill="url(#sTe2)"/><circle cx="404.4" cy="816.2" r="3" fill="url(#sW)"/><circle cx="414" cy="816.2" r="3.3" fill="url(#sTe2)"/><circle cx="426.9" cy="816.2" r="3.3" fill="url(#sTe2)"/><circle cx="297.5" cy="826.5" r="3" fill="url(#sTe2)"/><circle cx="307.1" cy="826.5" r="3" fill="url(#sW)"/><circle cx="321.9" cy="826.5" r="3.3" fill="url(#sTe2)"/><circle cx="334.4" cy="826.5" r="3" fill="url(#sTe2)"/><circle cx="344" cy="826.5" r="3" fill="url(#sW)"/><circle cx="358.8" cy="826.5" r="3.3" fill="url(#sTe2)"/><circle cx="371.2" cy="826.5" r="3" fill="url(#sTe2)"/><circle cx="380.9" cy="826.5" r="3" fill="url(#sW)"/><circle cx="395.6" cy="826.5" r="3.3" fill="url(#sTe2)"/><circle cx="408.1" cy="826.5" r="3" fill="url(#sTe2)"/><circle cx="417.8" cy="826.5" r="3" fill="url(#sW)"/><circle cx="432.5" cy="826.5" r="3.3" fill="url(#sTe2)"/><circle cx="293.8" cy="836.5" r="3" fill="url(#sW)"/><circle cx="303.4" cy="836.5" r="3.3" fill="url(#sTe2)"/><circle cx="316.2" cy="836.5" r="3.3" fill="url(#sTe2)"/><circle cx="330.6" cy="836.5" r="3" fill="url(#sW)"/><circle cx="340.2" cy="836.5" r="3.3" fill="url(#sTe2)"/><circle cx="353.1" cy="836.5" r="3.3" fill="url(#sTe2)"/><circle cx="367.5" cy="836.5" r="3" fill="url(#sW)"/><circle cx="377.1" cy="836.5" r="3.3" fill="url(#sTe2)"/><circle cx="390" cy="836.5" r="3.3" fill="url(#sTe2)"/><circle cx="404.4" cy="836.5" r="3" fill="url(#sW)"/><circle cx="414" cy="836.5" r="3.3" fill="url(#sTe2)"/><circle cx="426.9" cy="836.5" r="3.3" fill="url(#sTe2)"/><circle cx="297.5" cy="846.8" r="3" fill="url(#sTe2)"/><circle cx="307.1" cy="846.8" r="3" fill="url(#sW)"/><circle cx="321.9" cy="846.8" r="3.3" fill="url(#sTe2)"/><circle cx="334.4" cy="846.8" r="3" fill="url(#sTe2)"/><circle cx="344" cy="846.8" r="3" fill="url(#sW)"/><circle cx="358.8" cy="846.8" r="3.3" fill="url(#sTe2)"/><circle cx="371.2" cy="846.8" r="3" fill="url(#sTe2)"/><circle cx="380.9" cy="846.8" r="3" fill="url(#sW)"/><circle cx="395.6" cy="846.8" r="3.3" fill="url(#sTe2)"/><circle cx="408.1" cy="846.8" r="3" fill="url(#sTe2)"/><circle cx="417.8" cy="846.8" r="3" fill="url(#sW)"/><circle cx="432.5" cy="846.8" r="3.3" fill="url(#sTe2)"/></g>
<clipPath id="cp16"><rect x="66.2" y="871.2" width="107.5" height="72.5"/></clipPath><g clip-path="url(#cp16)"><path d="M70.6 871L70.6 944" stroke="#ccc" stroke-width="0.7" stroke-dasharray="1.5 1.5" fill="none"/><path d="M119.4 871L119.4 944" stroke="#ccc" stroke-width="0.7" stroke-dasharray="1.5 1.5" fill="none"/><path d="M144 871L144 944" stroke="#ccc" stroke-width="0.7" stroke-dasharray="1.5 1.5" fill="none"/><path d="M168.1 871L168.1 944" stroke="#ccc" stroke-width="0.7" stroke-dasharray="1.5 1.5" fill="none"/><path d="M60 860.2L64.1 862.6M60 860.2L60 865M60 860.2L55.9 862.6M60 860.2L55.9 857.9M60 860.2L64.1 857.9M72.2 862.6L76.2 860.2M55.9 872L51.9 874.4M51.9 869.7L51.9 874.4M72.2 857.9L76.2 860.2M76.2 860.2L80.3 862.6M76.2 860.2L76.2 865M76.2 860.2L80.3 857.9M84.4 869.7L84.4 874.4M80.3 872L84.4 874.4M108.8 860.2L112.8 862.6M108.8 860.2L108.8 865M108.8 860.2L104.7 862.6M108.8 860.2L104.7 857.9M108.8 860.2L112.8 857.9M120.9 862.6L125 860.2M104.7 872L100.6 874.4M100.6 869.7L100.6 874.4M120.9 857.9L125 860.2M125 860.2L129.1 862.6M125 860.2L125 865M125 860.2L129.1 857.9M133.1 869.7L133.1 874.4M129.1 872L133.1 874.4M157.5 860.2L161.6 862.6M157.5 860.2L157.5 865M157.5 860.2L153.4 862.6M157.5 860.2L153.4 857.9M157.5 860.2L161.6 857.9M169.7 862.6L173.8 860.2M153.4 872L149.4 874.4M149.4 869.7L149.4 874.4M169.7 857.9L173.8 860.2M173.8 860.2L177.8 862.6M173.8 860.2L173.8 865M173.8 860.2L177.8 857.9M173.8 860.2L173.7 865M181.9 869.7L181.9 874.4M177.8 872L181.9 874.4M51.9 874.4L55.9 876.7M51.9 874.4L51.9 879.1M60 883.9L60 888.8M55.9 886.3L60 888.8M84.4 874.4L88.4 876.7M84.4 874.4L84.4 879.1M84.4 874.4L80.3 876.7M84.4 874.4L88.4 872M96.6 876.7L100.6 874.4M80.3 886.3L76.2 888.8M76.2 883.9L76.2 888.8M96.6 872L100.6 874.4M100.6 874.4L104.7 876.7M100.6 874.4L100.6 879.1M108.8 883.9L108.8 888.8M104.7 886.3L108.8 888.8M133.1 874.4L137.2 876.7M133.1 874.4L133.1 879.1M133.1 874.4L129.1 876.7M133.1 874.4L137.2 872M133.1 874.4L137.2 876.7M133.1 874.4L137.2 872M145.3 876.7L149.4 874.4M129.1 886.3L125 888.8M125 883.9L125 888.8M145.3 872L149.4 874.4M149.4 874.4L153.4 876.7M149.4 874.4L149.4 879.1M149.4 874.4L145.3 876.7M149.4 874.4L145.3 872M157.5 883.9L157.5 888.8M153.4 886.3L157.5 888.8M181.9 874.4L185.9 876.7M181.9 874.4L181.9 879.1M181.9 874.4L177.8 876.7M181.9 874.4L177.8 872M181.9 874.4L185.9 872M181.9 874.4L177.8 876.9M177.8 886.3L173.8 888.8M173.7 883.9L173.8 888.8M60 888.8L64.1 891.1M60 888.8L60 893.5M60 888.8L55.9 891.1M60 888.8L64.1 886.4M72.2 891.1L76.2 888.8M55.9 900.3L51.9 902.5M51.9 898L51.9 902.5M72.2 886.4L76.2 888.8M76.2 888.8L80.3 891.1M76.2 888.8L76.2 893.5M84.4 898L84.4 902.5M80.3 900.3L84.4 902.5M108.8 888.8L112.8 891.1M108.8 888.8L108.8 893.5M108.8 888.8L104.7 891.1M108.8 888.8L112.8 886.4M120.9 891.1L125 888.8M104.7 900.3L100.6 902.5M100.6 898L100.6 902.5M120.9 886.4L125 888.8M125 888.8L129.1 891.1M125 888.8L125 893.5M133.1 898L133.1 902.5M129.1 900.3L133.1 902.5M157.5 888.8L161.6 891.1M157.5 888.8L157.5 893.5M157.5 888.8L153.4 891.1M157.5 888.8L161.6 886.4M169.7 891.1L173.8 888.8M153.4 900.3L149.4 902.5M149.4 898L149.4 902.5M169.7 886.4L173.8 888.8M173.8 888.8L177.8 891.1M173.8 888.8L173.8 893.5M173.8 888.8L173.8 884M173.8 888.8L173.7 893.3M181.9 898L181.9 902.5M177.8 900.3L181.9 902.5M51.9 902.5L55.9 904.9M51.9 902.5L51.9 907.2M60 912L60 916.9M55.9 914.4L60 916.9M84.4 902.5L88.4 904.9M84.4 902.5L84.4 907.2M84.4 902.5L80.3 904.9M84.4 902.5L88.4 900.1M96.6 904.9L100.6 902.5M80.3 914.4L76.2 916.9M76.2 912L76.2 916.9M96.6 900.1L100.6 902.5M100.6 902.5L104.7 904.9M100.6 902.5L100.6 907.2M108.8 912L108.8 916.9M104.7 914.4L108.8 916.9M133.1 902.5L137.2 904.9M133.1 902.5L133.1 907.2M133.1 902.5L129.1 904.9M133.1 902.5L137.2 900.1M133.1 902.5L137.2 904.9M133.1 902.5L137.2 900.1M145.3 904.9L149.4 902.5M129.1 914.4L125 916.9M125 912L125 916.9M145.3 900.1L149.4 902.5M149.4 902.5L153.4 904.9M149.4 902.5L149.4 907.2M149.4 902.5L145.3 904.9M149.4 902.5L145.3 900.1M157.5 912L157.5 916.9M153.4 914.4L157.5 916.9M181.9 902.5L185.9 904.9M181.9 902.5L181.9 907.2M181.9 902.5L177.8 904.9M181.9 902.5L177.8 900.1M181.9 902.5L185.9 900.1M181.9 902.5L177.8 905M177.8 914.4L173.8 916.9M173.7 912L173.8 916.9M60 916.9L64.1 919.2M60 916.9L60 921.6M60 916.9L55.9 919.2M60 916.9L64.1 914.5M72.2 919.2L76.2 916.9M55.9 928.6L51.9 931M51.9 926.3L51.9 931M72.2 914.5L76.2 916.9M76.2 916.9L80.3 919.2M76.2 916.9L76.2 921.6M84.4 926.3L84.4 931M80.3 928.6L84.4 931M108.8 916.9L112.8 919.2M108.8 916.9L108.8 921.6M108.8 916.9L104.7 919.2M108.8 916.9L112.8 914.5M120.9 919.2L125 916.9M104.7 928.6L100.6 931M100.6 926.3L100.6 931M120.9 914.5L125 916.9M125 916.9L129.1 919.2M125 916.9L125 921.6M133.1 926.3L133.1 931M129.1 928.6L133.1 931M157.5 916.9L161.6 919.2M157.5 916.9L157.5 921.6M157.5 916.9L153.4 919.2M157.5 916.9L161.6 914.5M169.7 919.2L173.8 916.9M153.4 928.6L149.4 931M149.4 926.3L149.4 931M169.7 914.5L173.8 916.9M173.8 916.9L177.8 919.2M173.8 916.9L173.8 921.6M173.8 916.9L173.8 912.2M173.8 916.9L173.7 921.6M181.9 926.3L181.9 931M177.8 928.6L181.9 931M51.9 931L55.9 933.4M51.9 931L51.9 935.7M60 940.5L60 945.2M55.9 942.8L60 945.2M84.4 931L88.4 933.4M84.4 931L84.4 935.7M84.4 931L80.3 933.4M84.4 931L88.4 928.6M96.6 933.4L100.6 931M80.3 942.8L76.2 945.2M76.2 940.5L76.2 945.2M96.6 928.6L100.6 931M100.6 931L104.7 933.4M100.6 931L100.6 935.7M108.8 940.5L108.8 945.2M104.7 942.8L108.8 945.2M133.1 931L137.2 933.4M133.1 931L133.1 935.7M133.1 931L129.1 933.4M133.1 931L137.2 928.6M133.1 931L137.2 933.4M133.1 931L137.2 928.6M145.3 933.4L149.4 931M129.1 942.8L125 945.2M125 940.5L125 945.2M145.3 928.6L149.4 931M149.4 931L153.4 933.4M149.4 931L149.4 935.7M149.4 931L145.3 933.4M149.4 931L145.3 928.6M157.5 940.5L157.5 945.2M153.4 942.8L157.5 945.2M181.9 931L185.9 933.4M181.9 931L181.9 935.7M181.9 931L177.8 933.4M181.9 931L177.8 928.6M181.9 931L185.9 928.6M181.9 931L177.8 933.4M177.8 942.8L173.8 945.2M173.7 940.5L173.8 945.2M60 945.2L64.1 947.6M60 945.2L60 950M60 945.2L55.9 947.6M60 945.2L64.1 942.9M72.2 947.6L76.2 945.2M72.2 942.9L76.2 945.2M76.2 945.2L80.3 947.6M76.2 945.2L76.2 950M108.8 945.2L112.8 947.6M108.8 945.2L108.8 950M108.8 945.2L104.7 947.6M108.8 945.2L112.8 942.9M120.9 947.6L125 945.2M120.9 942.9L125 945.2M125 945.2L129.1 947.6M125 945.2L125 950M157.5 945.2L161.6 947.6M157.5 945.2L157.5 950M157.5 945.2L153.4 947.6M157.5 945.2L161.6 942.9M169.7 947.6L173.8 945.2M169.7 942.9L173.8 945.2M173.8 945.2L177.8 947.6M173.8 945.2L173.8 950M173.8 945.2L173.8 940.5" stroke="#20828a" stroke-width="1.0" fill="none"/><path d="M64.1 862.6L68.1 865M60 865L60 869.6M55.9 862.6L51.9 865M55.9 857.9L51.9 855.5M64.1 857.9L68.1 855.5M68.1 865L72.2 862.6M60 869.6L55.9 872M51.9 865L51.9 869.7M68.1 855.5L72.2 857.9M80.3 862.6L84.4 865M76.2 865L76.2 869.6M80.3 857.9L84.4 855.5M84.4 865L84.4 869.7M76.2 869.6L80.3 872M112.8 862.6L116.9 865M108.8 865L108.8 869.6M104.7 862.6L100.6 865M104.7 857.9L100.6 855.5M112.8 857.9L116.9 855.5M116.9 865L120.9 862.6M108.8 869.6L104.7 872M100.6 865L100.6 869.7M116.9 855.5L120.9 857.9M129.1 862.6L133.1 865M125 865L125 869.6M129.1 857.9L133.1 855.5M133.1 865L133.1 869.7M125 869.6L129.1 872M161.6 862.6L165.6 865M157.5 865L157.5 869.6M153.4 862.6L149.4 865M153.4 857.9L149.4 855.5M161.6 857.9L165.6 855.5M165.6 865L169.7 862.6M157.5 869.6L153.4 872M149.4 865L149.4 869.7M165.6 855.5L169.7 857.9M177.8 862.6L181.9 865M173.8 865L173.8 869.6M177.8 857.9L181.9 855.5M173.7 865L173.7 869.7M181.9 865L181.9 869.7M173.8 869.6L177.8 872M55.9 876.7L60 879.1M51.9 879.1L51.9 883.8M60 879.1L60 883.9M51.9 883.8L55.9 886.3M88.4 876.7L92.5 879.1M84.4 879.1L84.4 883.8M80.3 876.7L76.2 879.1M88.4 872L92.5 869.7M92.5 879.1L96.6 876.7M84.4 883.8L80.3 886.3M76.2 879.1L76.2 883.9M92.5 869.7L96.6 872M104.7 876.7L108.8 879.1M100.6 879.1L100.6 883.8M108.8 879.1L108.8 883.9M100.6 883.8L104.7 886.3M137.2 876.7L141.3 879.1M133.1 879.1L133.1 883.8M129.1 876.7L125 879.1M137.2 872L141.3 869.7M137.2 876.7L141.2 879.1M137.2 872L141.2 869.7M141.3 879.1L145.3 876.7M133.1 883.8L129.1 886.3M125 879.1L125 883.9M141.3 869.7L145.3 872M153.4 876.7L157.5 879.1M149.4 879.1L149.4 883.8M145.3 876.7L141.2 879.1M145.3 872L141.2 869.7M157.5 879.1L157.5 883.9M149.4 883.8L153.4 886.3M185.9 876.7L190 879.1M181.9 879.1L181.9 883.8M177.8 876.7L173.7 879.1M177.8 872L173.7 869.7M185.9 872L190 869.7M177.8 876.9L173.8 879.4M181.9 883.8L177.8 886.3M173.7 879.1L173.7 883.9M64.1 891.1L68.1 893.5M60 893.5L60 898.1M55.9 891.1L51.9 893.5M64.1 886.4L68.1 884M68.1 893.5L72.2 891.1M60 898.1L55.9 900.3M51.9 893.5L51.9 898M68.1 884L72.2 886.4M80.3 891.1L84.4 893.5M76.2 893.5L76.2 898.1M84.4 893.5L84.4 898M76.2 898.1L80.3 900.3M112.8 891.1L116.9 893.5M108.8 893.5L108.8 898.1M104.7 891.1L100.6 893.5M112.8 886.4L116.9 884M116.9 893.5L120.9 891.1M108.8 898.1L104.7 900.3M100.6 893.5L100.6 898M116.9 884L120.9 886.4M129.1 891.1L133.1 893.5M125 893.5L125 898.1M133.1 893.5L133.1 898M125 898.1L129.1 900.3M161.6 891.1L165.6 893.5M157.5 893.5L157.5 898.1M153.4 891.1L149.4 893.5M161.6 886.4L165.6 884M165.6 893.5L169.7 891.1M157.5 898.1L153.4 900.3M149.4 893.5L149.4 898M165.6 884L169.7 886.4M177.8 891.1L181.9 893.5M173.8 893.5L173.8 898.1M173.8 884L173.8 879.4M173.7 893.3L173.7 897.8M181.9 893.5L181.9 898M173.8 898.1L177.8 900.3M55.9 904.9L60 907.2M51.9 907.2L51.9 911.9M60 907.2L60 912M51.9 911.9L55.9 914.4M88.4 904.9L92.5 907.2M84.4 907.2L84.4 911.9M80.3 904.9L76.2 907.2M88.4 900.1L92.5 897.8M92.5 907.2L96.6 904.9M84.4 911.9L80.3 914.4M76.2 907.2L76.2 912M92.5 897.8L96.6 900.1M104.7 904.9L108.8 907.2M100.6 907.2L100.6 911.9M108.8 907.2L108.8 912M100.6 911.9L104.7 914.4M137.2 904.9L141.3 907.2M133.1 907.2L133.1 911.9M129.1 904.9L125 907.2M137.2 900.1L141.3 897.8M137.2 904.9L141.2 907.2M137.2 900.1L141.2 897.8M141.3 907.2L145.3 904.9M133.1 911.9L129.1 914.4M125 907.2L125 912M141.3 897.8L145.3 900.1M153.4 904.9L157.5 907.2M149.4 907.2L149.4 911.9M145.3 904.9L141.2 907.2M145.3 900.1L141.2 897.8M157.5 907.2L157.5 912M149.4 911.9L153.4 914.4M185.9 904.9L190 907.2M181.9 907.2L181.9 911.9M177.8 904.9L173.7 907.2M177.8 900.1L173.7 897.8M185.9 900.1L190 897.8M177.8 905L173.8 907.5M181.9 911.9L177.8 914.4M173.7 907.2L173.7 912M64.1 919.2L68.1 921.6M60 921.6L60 926.3M55.9 919.2L51.9 921.6M64.1 914.5L68.1 912.2M68.1 921.6L72.2 919.2M60 926.3L55.9 928.6M51.9 921.6L51.9 926.3M68.1 912.2L72.2 914.5M80.3 919.2L84.4 921.6M76.2 921.6L76.2 926.3M84.4 921.6L84.4 926.3M76.2 926.3L80.3 928.6M112.8 919.2L116.9 921.6M108.8 921.6L108.8 926.3M104.7 919.2L100.6 921.6M112.8 914.5L116.9 912.2M116.9 921.6L120.9 919.2M108.8 926.3L104.7 928.6M100.6 921.6L100.6 926.3M116.9 912.2L120.9 914.5M129.1 919.2L133.1 921.6M125 921.6L125 926.3M133.1 921.6L133.1 926.3M125 926.3L129.1 928.6M161.6 919.2L165.6 921.6M157.5 921.6L157.5 926.3M153.4 919.2L149.4 921.6M161.6 914.5L165.6 912.2M165.6 921.6L169.7 919.2M157.5 926.3L153.4 928.6M149.4 921.6L149.4 926.3M165.6 912.2L169.7 914.5M177.8 919.2L181.9 921.6M173.8 921.6L173.8 926.3M173.8 912.2L173.8 907.5M173.7 921.6L173.7 926.3M181.9 921.6L181.9 926.3M173.8 926.3L177.8 928.6M55.9 933.4L60 935.7M51.9 935.7L51.9 940.4M60 935.7L60 940.5M51.9 940.4L55.9 942.8M88.4 933.4L92.5 935.7M84.4 935.7L84.4 940.4M80.3 933.4L76.2 935.7M88.4 928.6L92.5 926.3M92.5 935.7L96.6 933.4M84.4 940.4L80.3 942.8M76.2 935.7L76.2 940.5M92.5 926.3L96.6 928.6M104.7 933.4L108.8 935.7M100.6 935.7L100.6 940.4M108.8 935.7L108.8 940.5M100.6 940.4L104.7 942.8M137.2 933.4L141.3 935.7M133.1 935.7L133.1 940.4M129.1 933.4L125 935.7M137.2 928.6L141.3 926.3M137.2 933.4L141.2 935.7M137.2 928.6L141.2 926.3M141.3 935.7L145.3 933.4M133.1 940.4L129.1 942.8M125 935.7L125 940.5M141.3 926.3L145.3 928.6M153.4 933.4L157.5 935.7M149.4 935.7L149.4 940.4M145.3 933.4L141.2 935.7M145.3 928.6L141.2 926.3M157.5 935.7L157.5 940.5M149.4 940.4L153.4 942.8M185.9 933.4L190 935.7M181.9 935.7L181.9 940.4M177.8 933.4L173.7 935.7M177.8 928.6L173.7 926.3M185.9 928.6L190 926.3M177.8 933.4L173.8 935.9M181.9 940.4L177.8 942.8M173.7 935.7L173.7 940.5M64.1 947.6L68.1 950M60 950L60 954.6M55.9 947.6L51.9 950M64.1 942.9L68.1 940.5M68.1 950L72.2 947.6M68.1 940.5L72.2 942.9M80.3 947.6L84.4 950M76.2 950L76.2 954.6M112.8 947.6L116.9 950M108.8 950L108.8 954.6M104.7 947.6L100.6 950M112.8 942.9L116.9 940.5M116.9 950L120.9 947.6M116.9 940.5L120.9 942.9M129.1 947.6L133.1 950M125 950L125 954.6M161.6 947.6L165.6 950M157.5 950L157.5 954.6M153.4 947.6L149.4 950M161.6 942.9L165.6 940.5M165.6 950L169.7 947.6M165.6 940.5L169.7 942.9M177.8 947.6L181.9 950M173.8 950L173.8 954.6M173.8 940.5L173.8 935.9" stroke="#a2f0a2" stroke-width="1.0" fill="none"/><circle cx="60" cy="860.2" r="2.8" fill="url(#sRu)"/><circle cx="68.1" cy="865" r="2.4" fill="url(#sCl)"/><circle cx="60" cy="869.6" r="2.4" fill="url(#sCl)"/><circle cx="51.9" cy="865" r="2.4" fill="url(#sCl)"/><circle cx="51.9" cy="855.5" r="2.4" fill="url(#sCl)"/><circle cx="68.1" cy="855.5" r="2.4" fill="url(#sCl)"/><circle cx="76.2" cy="860.2" r="2.8" fill="url(#sRu)"/><circle cx="84.4" cy="865" r="2.4" fill="url(#sCl)"/><circle cx="76.2" cy="869.6" r="2.4" fill="url(#sCl)"/><circle cx="84.4" cy="855.5" r="2.4" fill="url(#sCl)"/><circle cx="108.8" cy="860.2" r="2.8" fill="url(#sRu)"/><circle cx="116.9" cy="865" r="2.4" fill="url(#sCl)"/><circle cx="108.8" cy="869.6" r="2.4" fill="url(#sCl)"/><circle cx="100.6" cy="865" r="2.4" fill="url(#sCl)"/><circle cx="100.6" cy="855.5" r="2.4" fill="url(#sCl)"/><circle cx="116.9" cy="855.5" r="2.4" fill="url(#sCl)"/><circle cx="125" cy="860.2" r="2.8" fill="url(#sRu)"/><circle cx="133.1" cy="865" r="2.4" fill="url(#sCl)"/><circle cx="125" cy="869.6" r="2.4" fill="url(#sCl)"/><circle cx="133.1" cy="855.5" r="2.4" fill="url(#sCl)"/><circle cx="157.5" cy="860.2" r="2.8" fill="url(#sRu)"/><circle cx="165.6" cy="865" r="2.4" fill="url(#sCl)"/><circle cx="157.5" cy="869.6" r="2.4" fill="url(#sCl)"/><circle cx="149.4" cy="865" r="2.4" fill="url(#sCl)"/><circle cx="149.4" cy="855.5" r="2.4" fill="url(#sCl)"/><circle cx="165.6" cy="855.5" r="2.4" fill="url(#sCl)"/><circle cx="173.8" cy="860.2" r="2.8" fill="url(#sRu)"/><circle cx="181.9" cy="865" r="2.4" fill="url(#sCl)"/><circle cx="173.8" cy="869.6" r="2.4" fill="url(#sCl)"/><circle cx="181.9" cy="855.5" r="2.4" fill="url(#sCl)"/><circle cx="51.9" cy="874.4" r="2.8" fill="url(#sRu)"/><circle cx="60" cy="879.1" r="2.4" fill="url(#sCl)"/><circle cx="51.9" cy="883.8" r="2.4" fill="url(#sCl)"/><circle cx="84.4" cy="874.4" r="2.8" fill="url(#sRu)"/><circle cx="92.5" cy="879.1" r="2.4" fill="url(#sCl)"/><circle cx="84.4" cy="883.8" r="2.4" fill="url(#sCl)"/><circle cx="76.2" cy="879.1" r="2.4" fill="url(#sCl)"/><circle cx="92.5" cy="869.7" r="2.4" fill="url(#sCl)"/><circle cx="100.6" cy="874.4" r="2.8" fill="url(#sRu)"/><circle cx="108.8" cy="879.1" r="2.4" fill="url(#sCl)"/><circle cx="100.6" cy="883.8" r="2.4" fill="url(#sCl)"/><circle cx="133.1" cy="874.4" r="2.8" fill="url(#sRu)"/><circle cx="141.3" cy="879.1" r="2.4" fill="url(#sCl)"/><circle cx="133.1" cy="883.8" r="2.4" fill="url(#sCl)"/><circle cx="125" cy="879.1" r="2.4" fill="url(#sCl)"/><circle cx="141.3" cy="869.7" r="2.4" fill="url(#sCl)"/><circle cx="149.4" cy="874.4" r="2.8" fill="url(#sRu)"/><circle cx="157.5" cy="879.1" r="2.4" fill="url(#sCl)"/><circle cx="149.4" cy="883.8" r="2.4" fill="url(#sCl)"/><circle cx="141.2" cy="879.1" r="2.4" fill="url(#sCl)"/><circle cx="141.2" cy="869.7" r="2.4" fill="url(#sCl)"/><circle cx="181.9" cy="874.4" r="2.8" fill="url(#sRu)"/><circle cx="190" cy="879.1" r="2.4" fill="url(#sCl)"/><circle cx="181.9" cy="883.8" r="2.4" fill="url(#sCl)"/><circle cx="173.7" cy="879.1" r="2.4" fill="url(#sCl)"/><circle cx="173.7" cy="869.7" r="2.4" fill="url(#sCl)"/><circle cx="190" cy="869.7" r="2.4" fill="url(#sCl)"/><circle cx="60" cy="888.8" r="2.8" fill="url(#sRu)"/><circle cx="68.1" cy="893.5" r="2.4" fill="url(#sCl)"/><circle cx="60" cy="898.1" r="2.4" fill="url(#sCl)"/><circle cx="51.9" cy="893.5" r="2.4" fill="url(#sCl)"/><circle cx="68.1" cy="884" r="2.4" fill="url(#sCl)"/><circle cx="76.2" cy="888.8" r="2.8" fill="url(#sRu)"/><circle cx="84.4" cy="893.5" r="2.4" fill="url(#sCl)"/><circle cx="76.2" cy="898.1" r="2.4" fill="url(#sCl)"/><circle cx="108.8" cy="888.8" r="2.8" fill="url(#sRu)"/><circle cx="116.9" cy="893.5" r="2.4" fill="url(#sCl)"/><circle cx="108.8" cy="898.1" r="2.4" fill="url(#sCl)"/><circle cx="100.6" cy="893.5" r="2.4" fill="url(#sCl)"/><circle cx="116.9" cy="884" r="2.4" fill="url(#sCl)"/><circle cx="125" cy="888.8" r="2.8" fill="url(#sRu)"/><circle cx="133.1" cy="893.5" r="2.4" fill="url(#sCl)"/><circle cx="125" cy="898.1" r="2.4" fill="url(#sCl)"/><circle cx="157.5" cy="888.8" r="2.8" fill="url(#sRu)"/><circle cx="165.6" cy="893.5" r="2.4" fill="url(#sCl)"/><circle cx="157.5" cy="898.1" r="2.4" fill="url(#sCl)"/><circle cx="149.4" cy="893.5" r="2.4" fill="url(#sCl)"/><circle cx="165.6" cy="884" r="2.4" fill="url(#sCl)"/><circle cx="173.8" cy="888.8" r="2.8" fill="url(#sRu)"/><circle cx="181.9" cy="893.5" r="2.4" fill="url(#sCl)"/><circle cx="173.8" cy="898.1" r="2.4" fill="url(#sCl)"/><circle cx="173.8" cy="879.4" r="2.4" fill="url(#sCl)"/><circle cx="51.9" cy="902.5" r="2.8" fill="url(#sRu)"/><circle cx="60" cy="907.2" r="2.4" fill="url(#sCl)"/><circle cx="51.9" cy="911.9" r="2.4" fill="url(#sCl)"/><circle cx="84.4" cy="902.5" r="2.8" fill="url(#sRu)"/><circle cx="92.5" cy="907.2" r="2.4" fill="url(#sCl)"/><circle cx="84.4" cy="911.9" r="2.4" fill="url(#sCl)"/><circle cx="76.2" cy="907.2" r="2.4" fill="url(#sCl)"/><circle cx="92.5" cy="897.8" r="2.4" fill="url(#sCl)"/><circle cx="100.6" cy="902.5" r="2.8" fill="url(#sRu)"/><circle cx="108.8" cy="907.2" r="2.4" fill="url(#sCl)"/><circle cx="100.6" cy="911.9" r="2.4" fill="url(#sCl)"/><circle cx="133.1" cy="902.5" r="2.8" fill="url(#sRu)"/><circle cx="141.3" cy="907.2" r="2.4" fill="url(#sCl)"/><circle cx="133.1" cy="911.9" r="2.4" fill="url(#sCl)"/><circle cx="125" cy="907.2" r="2.4" fill="url(#sCl)"/><circle cx="141.3" cy="897.8" r="2.4" fill="url(#sCl)"/><circle cx="149.4" cy="902.5" r="2.8" fill="url(#sRu)"/><circle cx="157.5" cy="907.2" r="2.4" fill="url(#sCl)"/><circle cx="149.4" cy="911.9" r="2.4" fill="url(#sCl)"/><circle cx="141.2" cy="907.2" r="2.4" fill="url(#sCl)"/><circle cx="141.2" cy="897.8" r="2.4" fill="url(#sCl)"/><circle cx="181.9" cy="902.5" r="2.8" fill="url(#sRu)"/><circle cx="190" cy="907.2" r="2.4" fill="url(#sCl)"/><circle cx="181.9" cy="911.9" r="2.4" fill="url(#sCl)"/><circle cx="173.7" cy="907.2" r="2.4" fill="url(#sCl)"/><circle cx="173.7" cy="897.8" r="2.4" fill="url(#sCl)"/><circle cx="190" cy="897.8" r="2.4" fill="url(#sCl)"/><circle cx="60" cy="916.9" r="2.8" fill="url(#sRu)"/><circle cx="68.1" cy="921.6" r="2.4" fill="url(#sCl)"/><circle cx="60" cy="926.3" r="2.4" fill="url(#sCl)"/><circle cx="51.9" cy="921.6" r="2.4" fill="url(#sCl)"/><circle cx="68.1" cy="912.2" r="2.4" fill="url(#sCl)"/><circle cx="76.2" cy="916.9" r="2.8" fill="url(#sRu)"/><circle cx="84.4" cy="921.6" r="2.4" fill="url(#sCl)"/><circle cx="76.2" cy="926.3" r="2.4" fill="url(#sCl)"/><circle cx="108.8" cy="916.9" r="2.8" fill="url(#sRu)"/><circle cx="116.9" cy="921.6" r="2.4" fill="url(#sCl)"/><circle cx="108.8" cy="926.3" r="2.4" fill="url(#sCl)"/><circle cx="100.6" cy="921.6" r="2.4" fill="url(#sCl)"/><circle cx="116.9" cy="912.2" r="2.4" fill="url(#sCl)"/><circle cx="125" cy="916.9" r="2.8" fill="url(#sRu)"/><circle cx="133.1" cy="921.6" r="2.4" fill="url(#sCl)"/><circle cx="125" cy="926.3" r="2.4" fill="url(#sCl)"/><circle cx="157.5" cy="916.9" r="2.8" fill="url(#sRu)"/><circle cx="165.6" cy="921.6" r="2.4" fill="url(#sCl)"/><circle cx="157.5" cy="926.3" r="2.4" fill="url(#sCl)"/><circle cx="149.4" cy="921.6" r="2.4" fill="url(#sCl)"/><circle cx="165.6" cy="912.2" r="2.4" fill="url(#sCl)"/><circle cx="173.8" cy="916.9" r="2.8" fill="url(#sRu)"/><circle cx="181.9" cy="921.6" r="2.4" fill="url(#sCl)"/><circle cx="173.8" cy="926.3" r="2.4" fill="url(#sCl)"/><circle cx="173.8" cy="907.5" r="2.4" fill="url(#sCl)"/><circle cx="51.9" cy="931" r="2.8" fill="url(#sRu)"/><circle cx="60" cy="935.7" r="2.4" fill="url(#sCl)"/><circle cx="51.9" cy="940.4" r="2.4" fill="url(#sCl)"/><circle cx="84.4" cy="931" r="2.8" fill="url(#sRu)"/><circle cx="92.5" cy="935.7" r="2.4" fill="url(#sCl)"/><circle cx="84.4" cy="940.4" r="2.4" fill="url(#sCl)"/><circle cx="76.2" cy="935.7" r="2.4" fill="url(#sCl)"/><circle cx="92.5" cy="926.3" r="2.4" fill="url(#sCl)"/><circle cx="100.6" cy="931" r="2.8" fill="url(#sRu)"/><circle cx="108.8" cy="935.7" r="2.4" fill="url(#sCl)"/><circle cx="100.6" cy="940.4" r="2.4" fill="url(#sCl)"/><circle cx="133.1" cy="931" r="2.8" fill="url(#sRu)"/><circle cx="141.3" cy="935.7" r="2.4" fill="url(#sCl)"/><circle cx="133.1" cy="940.4" r="2.4" fill="url(#sCl)"/><circle cx="125" cy="935.7" r="2.4" fill="url(#sCl)"/><circle cx="141.3" cy="926.3" r="2.4" fill="url(#sCl)"/><circle cx="149.4" cy="931" r="2.8" fill="url(#sRu)"/><circle cx="157.5" cy="935.7" r="2.4" fill="url(#sCl)"/><circle cx="149.4" cy="940.4" r="2.4" fill="url(#sCl)"/><circle cx="141.2" cy="935.7" r="2.4" fill="url(#sCl)"/><circle cx="141.2" cy="926.3" r="2.4" fill="url(#sCl)"/><circle cx="181.9" cy="931" r="2.8" fill="url(#sRu)"/><circle cx="190" cy="935.7" r="2.4" fill="url(#sCl)"/><circle cx="181.9" cy="940.4" r="2.4" fill="url(#sCl)"/><circle cx="173.7" cy="935.7" r="2.4" fill="url(#sCl)"/><circle cx="173.7" cy="926.3" r="2.4" fill="url(#sCl)"/><circle cx="190" cy="926.3" r="2.4" fill="url(#sCl)"/><circle cx="60" cy="945.2" r="2.8" fill="url(#sRu)"/><circle cx="68.1" cy="950" r="2.4" fill="url(#sCl)"/><circle cx="60" cy="954.6" r="2.4" fill="url(#sCl)"/><circle cx="51.9" cy="950" r="2.4" fill="url(#sCl)"/><circle cx="68.1" cy="940.5" r="2.4" fill="url(#sCl)"/><circle cx="76.2" cy="945.2" r="2.8" fill="url(#sRu)"/><circle cx="84.4" cy="950" r="2.4" fill="url(#sCl)"/><circle cx="76.2" cy="954.6" r="2.4" fill="url(#sCl)"/><circle cx="108.8" cy="945.2" r="2.8" fill="url(#sRu)"/><circle cx="116.9" cy="950" r="2.4" fill="url(#sCl)"/><circle cx="108.8" cy="954.6" r="2.4" fill="url(#sCl)"/><circle cx="100.6" cy="950" r="2.4" fill="url(#sCl)"/><circle cx="116.9" cy="940.5" r="2.4" fill="url(#sCl)"/><circle cx="125" cy="945.2" r="2.8" fill="url(#sRu)"/><circle cx="133.1" cy="950" r="2.4" fill="url(#sCl)"/><circle cx="125" cy="954.6" r="2.4" fill="url(#sCl)"/><circle cx="157.5" cy="945.2" r="2.8" fill="url(#sRu)"/><circle cx="165.6" cy="950" r="2.4" fill="url(#sCl)"/><circle cx="157.5" cy="954.6" r="2.4" fill="url(#sCl)"/><circle cx="149.4" cy="950" r="2.4" fill="url(#sCl)"/><circle cx="165.6" cy="940.5" r="2.4" fill="url(#sCl)"/><circle cx="173.8" cy="945.2" r="2.8" fill="url(#sRu)"/><circle cx="181.9" cy="950" r="2.4" fill="url(#sCl)"/><circle cx="173.8" cy="954.6" r="2.4" fill="url(#sCl)"/><circle cx="173.8" cy="935.9" r="2.4" fill="url(#sCl)"/></g>
<clipPath id="cp17"><rect x="186.5" y="873.1" width="110.4" height="72.5"/></clipPath><g clip-path="url(#cp17)"><path d="M195 873L195 946" stroke="#ccc" stroke-width="0.7" stroke-dasharray="1.5 1.5" fill="none"/><path d="M186.2 878.1L250 915" stroke="#aaa" stroke-width="0.6" stroke-dasharray="2 2" fill="none"/><path d="M186.2 908.8L250 945.6" stroke="#aaa" stroke-width="0.6" stroke-dasharray="2 2" fill="none"/><path d="M240 873.1L297.5 906.2" stroke="#aaa" stroke-width="0.6" stroke-dasharray="2 2" fill="none"/><path d="M183.4 863.1L187.8 865.7M183.4 863.1L183.4 868.3M183.4 863.1L178.9 865.7M183.4 863.1L178.9 860.5M183.4 863.1L187.8 860.5M197.1 865.7L201.9 863.1M178.9 876L174.4 878.5M174.4 873.4L174.4 878.5M197.1 860.5L201.9 863.1M201.9 863.1L206.3 865.7M201.9 863.1L201.9 868.3M201.9 863.1L206.3 860.5M210.7 873.4L210.6 878.5M206.2 876L210.6 878.5M237.8 863.1L242.2 865.7M237.8 863.1L237.8 868.3M237.8 863.1L233.3 865.7M237.8 863.1L233.3 860.5M237.8 863.1L242.2 860.5M251.5 865.7L256.2 863.1M233.2 876L228.8 878.5M228.8 873.4L228.8 878.5M251.5 860.5L256.2 863.1M256.2 863.1L260.7 865.7M256.2 863.1L256.2 868.3M256.2 863.1L260.7 860.5M265.1 873.4L265 878.5M260.6 876L265 878.5M292.1 863.1L296.6 865.7M292.1 863.1L292.1 868.3M292.1 863.1L287.7 865.7M292.1 863.1L287.7 860.5M292.1 863.1L296.6 860.5M292.1 863.1L296.9 865.7M292.1 863.1L296.9 860.5M305.8 865.7L310.6 863.1M287.6 876L283.1 878.5M283.2 873.4L283.1 878.5M305.8 860.5L310.6 863.1M310.6 863.1L310.6 868.3M310.6 863.1L306.2 865.7M310.6 863.1L306.2 860.5M174.4 878.5L178.8 881.1M174.4 878.5L174.4 883.6M174.4 878.5L174.4 883.5M183.3 888.7L183.4 893.8M178.9 891.3L183.4 893.8M210.6 878.5L215.1 881.1M210.6 878.5L210.6 883.6M210.6 878.5L206.2 881.1M210.6 878.5L215.1 875.9M210.6 878.5L210.7 883.5M224.1 881.1L228.8 878.5M206.2 891.3L201.9 893.8M201.8 888.7L201.9 893.8M224.1 875.9L228.8 878.5M228.8 878.5L233.2 881.1M228.8 878.5L228.8 883.6M228.8 878.5L228.8 883.5M237.7 888.7L237.8 893.8M233.2 891.3L237.8 893.8M265 878.5L269.5 881.1M265 878.5L265 883.6M265 878.5L260.5 881.1M265 878.5L269.5 875.9M265 878.5L265.1 883.5M278.5 881.1L283.1 878.5M260.6 891.3L256.2 893.8M256.2 888.7L256.2 893.8M278.5 875.9L283.1 878.5M283.1 878.5L287.6 881.1M283.1 878.5L283.1 883.6M283.1 878.5L283.2 883.5M292.1 888.7L292.1 893.8M287.6 891.3L292.1 893.8M310.5 888.7L310.6 893.8M183.4 893.8L187.8 896.3M183.4 893.8L183.4 898.9M183.4 893.8L178.9 896.3M183.4 893.8L178.9 891.2M183.4 893.8L187.8 891.2M197.1 896.3L201.9 893.8M178.9 906.9L174.4 909.8M174.4 904.3L174.4 909.8M197.1 891.2L201.9 893.8M201.9 893.8L206.3 896.3M201.9 893.8L201.9 898.9M201.9 893.8L206.3 891.2M210.7 904.3L210.6 909.8M206.2 906.9L210.6 909.8M237.8 893.8L242.2 896.3M237.8 893.8L237.8 898.9M237.8 893.8L233.3 896.3M237.8 893.8L233.3 891.2M237.8 893.8L242.2 891.2M251.5 896.3L256.2 893.8M233.2 906.9L228.8 909.8M228.8 904.3L228.8 909.8M251.5 891.2L256.2 893.8M256.2 893.8L260.7 896.3M256.2 893.8L256.2 898.9M256.2 893.8L260.7 891.2M265.1 904.3L265 909.8M260.6 906.9L265 909.8M292.1 893.8L296.6 896.3M292.1 893.8L292.1 898.9M292.1 893.8L287.7 896.3M292.1 893.8L287.7 891.2M292.1 893.8L296.6 891.2M292.1 893.8L296.9 896.3M292.1 893.8L296.9 891.2M305.8 896.3L310.6 893.8M287.6 906.9L283.1 909.8M283.2 904.3L283.1 909.8M305.8 891.2L310.6 893.8M310.6 893.8L310.6 898.9M310.6 893.8L306.2 896.3M310.6 893.8L306.2 891.2M174.4 909.8L178.8 912.3M174.4 909.8L174.4 914.9M183.3 920L183.4 925M178.9 922.5L183.4 925M210.6 909.8L215.1 912.3M210.6 909.8L210.6 914.9M210.6 909.8L206.2 912.3M210.6 909.8L215.1 907.2M224.1 912.3L228.8 909.8M206.2 922.5L201.9 925M201.8 920L201.9 925M224.1 907.2L228.8 909.8M228.8 909.8L233.2 912.3M228.8 909.8L228.8 914.9M237.7 920L237.8 925M233.2 922.5L237.8 925M265 909.8L269.5 912.3M265 909.8L265 914.9M265 909.8L260.5 912.3M265 909.8L269.5 907.2M278.5 912.3L283.1 909.8M260.6 922.5L256.2 925M256.2 920L256.2 925M278.5 907.2L283.1 909.8M283.1 909.8L287.6 912.3M283.1 909.8L283.1 914.9M292.1 920L292.1 925M287.6 922.5L292.1 925M310.5 920L310.6 925M183.4 925L187.8 927.6M183.4 925L183.4 930.1M183.4 925L178.9 927.6M183.4 925L187.8 922.4M197.1 927.6L201.9 925M178.9 938L174.4 940.6M174.4 935.4L174.4 940.6M197.1 922.4L201.9 925M201.9 925L206.3 927.6M201.9 925L201.9 930.1M210.7 935.4L210.6 940.6M206.2 938L210.6 940.6M237.8 925L242.2 927.6M237.8 925L237.8 930.1M237.8 925L233.3 927.6M237.8 925L242.2 922.4M251.5 927.6L256.2 925M233.2 938L228.8 940.6M228.8 935.4L228.8 940.6M251.5 922.4L256.2 925M256.2 925L260.7 927.6M256.2 925L256.2 930.1M265.1 935.4L265 940.6M260.6 938L265 940.6M292.1 925L296.6 927.6M292.1 925L292.1 930.1M292.1 925L287.7 927.6M292.1 925L296.6 922.4M292.1 925L296.9 927.6M292.1 925L296.9 922.4M305.8 927.6L310.6 925M287.6 938L283.1 940.6M283.2 935.4L283.1 940.6M305.8 922.4L310.6 925M310.6 925L310.6 930.1M310.6 925L306.2 927.6M310.6 925L306.2 922.4M174.4 940.6L178.8 943.2M174.4 940.6L174.4 945.8M183.3 951L183.4 956.2M178.9 953.6L183.4 956.2M210.6 940.6L215.1 943.2M210.6 940.6L210.6 945.8M210.6 940.6L206.2 943.2M210.6 940.6L215.1 938M224.1 943.2L228.8 940.6M206.2 953.6L201.9 956.2M201.8 951L201.9 956.2M224.1 938L228.8 940.6M228.8 940.6L233.2 943.2M228.8 940.6L228.8 945.8M237.7 951L237.8 956.2M233.2 953.6L237.8 956.2M265 940.6L269.5 943.2M265 940.6L265 945.8M265 940.6L260.5 943.2M265 940.6L269.5 938M278.5 943.2L283.1 940.6M260.6 953.6L256.2 956.2M256.2 951L256.2 956.2M278.5 938L283.1 940.6M283.1 940.6L287.6 943.2M283.1 940.6L283.1 945.8M292.1 951L292.1 956.2M287.6 953.6L292.1 956.2M310.5 951L310.6 956.2M183.4 956.2L187.8 958.8M183.4 956.2L178.9 958.8M183.4 956.2L187.8 953.7M197.1 958.8L201.9 956.2M197.1 953.7L201.9 956.2M201.9 956.2L206.3 958.8M237.8 956.2L242.2 958.8M237.8 956.2L233.3 958.8M237.8 956.2L242.2 953.7M251.5 958.8L256.2 956.2M251.5 953.7L256.2 956.2M256.2 956.2L260.7 958.8M292.1 956.2L296.6 958.8M292.1 956.2L287.7 958.8M292.1 956.2L296.6 953.7M292.1 956.2L296.9 958.8M292.1 956.2L296.9 953.7M305.8 958.8L310.6 956.2M305.8 953.7L310.6 956.2M310.6 956.2L306.2 958.8M310.6 956.2L306.2 953.7" stroke="#748cbc" stroke-width="1.0" fill="none"/><path d="M187.8 865.7L192.3 868.3M183.4 868.3L183.4 873.4M178.9 865.7L174.5 868.3M178.9 860.5L174.5 858M187.8 860.5L192.3 858M192.3 868.3L197.1 865.7M183.4 873.4L178.9 876M174.5 868.3L174.4 873.4M192.3 858L197.1 860.5M206.3 865.7L210.8 868.3M201.9 868.3L201.9 873.4M206.3 860.5L210.8 858M210.8 868.3L210.7 873.4M201.9 873.4L206.2 876M242.2 865.7L246.7 868.3M237.8 868.3L237.8 873.4M233.3 865.7L228.8 868.3M233.3 860.5L228.8 858M242.2 860.5L246.7 858M246.7 868.3L251.5 865.7M237.8 873.4L233.2 876M228.8 868.3L228.8 873.4M246.7 858L251.5 860.5M260.7 865.7L265.2 868.3M256.2 868.3L256.2 873.4M260.7 860.5L265.2 858M265.2 868.3L265.1 873.4M256.2 873.4L260.6 876M296.6 865.7L301 868.3M292.1 868.3L292.1 873.4M287.7 865.7L283.2 868.3M287.7 860.5L283.2 858M296.6 860.5L301 858M296.9 865.7L301.7 868.3M296.9 860.5L301.7 858M301 868.3L305.8 865.7M292.1 873.4L287.6 876M283.2 868.3L283.2 873.4M301 858L305.8 860.5M310.6 868.3L310.6 873.4M306.2 865.7L301.7 868.3M306.2 860.5L301.7 858M178.8 881.1L183.3 883.6M174.4 883.6L174.4 888.8M174.4 883.5L174.5 888.6M183.3 883.6L183.3 888.7M174.4 888.8L178.9 891.3M215.1 881.1L219.5 883.6M210.6 883.6L210.6 888.8M206.2 881.1L201.7 883.6M215.1 875.9L219.5 873.4M210.7 883.5L210.8 888.6M219.5 883.6L224.1 881.1M210.6 888.8L206.2 891.3M201.7 883.6L201.8 888.7M219.5 873.4L224.1 875.9M233.2 881.1L237.7 883.6M228.8 883.6L228.8 888.8M228.8 883.5L228.8 888.6M237.7 883.6L237.7 888.7M228.8 888.8L233.2 891.3M269.5 881.1L273.9 883.6M265 883.6L265 888.8M260.5 881.1L256.1 883.6M269.5 875.9L273.9 873.4M265.1 883.5L265.2 888.6M273.9 883.6L278.5 881.1M265 888.8L260.6 891.3M256.1 883.6L256.2 888.7M273.9 873.4L278.5 875.9M287.6 881.1L292 883.6M283.1 883.6L283.1 888.8M283.2 883.5L283.2 888.6M292 883.6L292.1 888.7M283.1 888.8L287.6 891.3M310.5 883.6L310.5 888.7M187.8 896.3L192.3 898.9M183.4 898.9L183.4 904M178.9 896.3L174.5 898.9M178.9 891.2L174.5 888.6M187.8 891.2L192.3 888.6M192.3 898.9L197.1 896.3M183.4 904L178.9 906.9M174.5 898.9L174.4 904.3M192.3 888.6L197.1 891.2M206.3 896.3L210.8 898.9M201.9 898.9L201.9 904M206.3 891.2L210.8 888.6M210.8 898.9L210.7 904.3M201.9 904L206.2 906.9M242.2 896.3L246.7 898.9M237.8 898.9L237.8 904M233.3 896.3L228.8 898.9M233.3 891.2L228.8 888.6M242.2 891.2L246.7 888.6M246.7 898.9L251.5 896.3M237.8 904L233.2 906.9M228.8 898.9L228.8 904.3M246.7 888.6L251.5 891.2M260.7 896.3L265.2 898.9M256.2 898.9L256.2 904M260.7 891.2L265.2 888.6M265.2 898.9L265.1 904.3M256.2 904L260.6 906.9M296.6 896.3L301 898.9M292.1 898.9L292.1 904M287.7 896.3L283.2 898.9M287.7 891.2L283.2 888.6M296.6 891.2L301 888.6M296.9 896.3L301.7 898.9M296.9 891.2L301.7 888.6M301 898.9L305.8 896.3M292.1 904L287.6 906.9M283.2 898.9L283.2 904.3M301 888.6L305.8 891.2M310.6 898.9L310.6 904M306.2 896.3L301.7 898.9M306.2 891.2L301.7 888.6M178.8 912.3L183.3 914.9M174.4 914.9L174.4 920M183.3 914.9L183.3 920M174.4 920L178.9 922.5M215.1 912.3L219.5 914.9M210.6 914.9L210.6 920M206.2 912.3L201.7 914.9M215.1 907.2L219.5 904.6M219.5 914.9L224.1 912.3M210.6 920L206.2 922.5M201.7 914.9L201.8 920M219.5 904.6L224.1 907.2M233.2 912.3L237.7 914.9M228.8 914.9L228.8 920M237.7 914.9L237.7 920M228.8 920L233.2 922.5M269.5 912.3L273.9 914.9M265 914.9L265 920M260.5 912.3L256.1 914.9M269.5 907.2L273.9 904.6M273.9 914.9L278.5 912.3M265 920L260.6 922.5M256.1 914.9L256.2 920M273.9 904.6L278.5 907.2M287.6 912.3L292 914.9M283.1 914.9L283.1 920M292 914.9L292.1 920M283.1 920L287.6 922.5M310.5 914.9L310.5 920M187.8 927.6L192.3 930.1M183.4 930.1L183.4 935.3M178.9 927.6L174.5 930.1M187.8 922.4L192.3 919.9M192.3 930.1L197.1 927.6M183.4 935.3L178.9 938M174.5 930.1L174.4 935.4M192.3 919.9L197.1 922.4M206.3 927.6L210.8 930.1M201.9 930.1L201.9 935.3M210.8 930.1L210.7 935.4M201.9 935.3L206.2 938M242.2 927.6L246.7 930.1M237.8 930.1L237.8 935.3M233.3 927.6L228.8 930.1M242.2 922.4L246.7 919.9M246.7 930.1L251.5 927.6M237.8 935.3L233.2 938M228.8 930.1L228.8 935.4M246.7 919.9L251.5 922.4M260.7 927.6L265.2 930.1M256.2 930.1L256.2 935.3M265.2 930.1L265.1 935.4M256.2 935.3L260.6 938M296.6 927.6L301 930.1M292.1 930.1L292.1 935.3M287.7 927.6L283.2 930.1M296.6 922.4L301 919.9M296.9 927.6L301.7 930.1M296.9 922.4L301.7 919.9M301 930.1L305.8 927.6M292.1 935.3L287.6 938M283.2 930.1L283.2 935.4M301 919.9L305.8 922.4M310.6 930.1L310.6 935.3M306.2 927.6L301.7 930.1M306.2 922.4L301.7 919.9M178.8 943.2L183.3 945.8M174.4 945.8L174.4 950.9M183.3 945.8L183.3 951M174.4 950.9L178.9 953.6M215.1 943.2L219.5 945.8M210.6 945.8L210.6 950.9M206.2 943.2L201.7 945.8M215.1 938L219.5 935.5M219.5 945.8L224.1 943.2M210.6 950.9L206.2 953.6M201.7 945.8L201.8 951M219.5 935.5L224.1 938M233.2 943.2L237.7 945.8M228.8 945.8L228.8 950.9M237.7 945.8L237.7 951M228.8 950.9L233.2 953.6M269.5 943.2L273.9 945.8M265 945.8L265 950.9M260.5 943.2L256.1 945.8M269.5 938L273.9 935.5M273.9 945.8L278.5 943.2M265 950.9L260.6 953.6M256.1 945.8L256.2 951M273.9 935.5L278.5 938M287.6 943.2L292 945.8M283.1 945.8L283.1 950.9M292 945.8L292.1 951M283.1 950.9L287.6 953.6M310.5 945.8L310.5 951M187.8 958.8L192.3 961.4M178.9 958.8L174.5 961.4M187.8 953.7L192.3 951.1M192.3 961.4L197.1 958.8M192.3 951.1L197.1 953.7M206.3 958.8L210.8 961.4M242.2 958.8L246.7 961.4M233.3 958.8L228.8 961.4M242.2 953.7L246.7 951.1M246.7 961.4L251.5 958.8M246.7 951.1L251.5 953.7M260.7 958.8L265.2 961.4M296.6 958.8L301 961.4M287.7 958.8L283.2 961.4M296.6 953.7L301 951.1M296.9 958.8L301.7 961.4M296.9 953.7L301.7 951.1M301 961.4L305.8 958.8M301 951.1L305.8 953.7M306.2 958.8L301.7 961.4M306.2 953.7L301.7 951.1" stroke="#a2f0a2" stroke-width="1.0" fill="none"/><circle cx="183.4" cy="863.1" r="2.9" fill="url(#sCr)"/><circle cx="192.3" cy="868.3" r="2.9" fill="url(#sCl)"/><circle cx="183.4" cy="873.4" r="2.9" fill="url(#sCl)"/><circle cx="174.5" cy="868.3" r="2.9" fill="url(#sCl)"/><circle cx="174.5" cy="858" r="2.9" fill="url(#sCl)"/><circle cx="192.3" cy="858" r="2.9" fill="url(#sCl)"/><circle cx="201.9" cy="863.1" r="2.9" fill="url(#sCr)"/><circle cx="210.8" cy="868.3" r="2.9" fill="url(#sCl)"/><circle cx="201.9" cy="873.4" r="2.9" fill="url(#sCl)"/><circle cx="210.8" cy="858" r="2.9" fill="url(#sCl)"/><circle cx="237.8" cy="863.1" r="2.9" fill="url(#sCr)"/><circle cx="246.7" cy="868.3" r="2.9" fill="url(#sCl)"/><circle cx="237.8" cy="873.4" r="2.9" fill="url(#sCl)"/><circle cx="228.8" cy="868.3" r="2.9" fill="url(#sCl)"/><circle cx="228.8" cy="858" r="2.9" fill="url(#sCl)"/><circle cx="246.7" cy="858" r="2.9" fill="url(#sCl)"/><circle cx="256.2" cy="863.1" r="2.9" fill="url(#sCr)"/><circle cx="265.2" cy="868.3" r="2.9" fill="url(#sCl)"/><circle cx="256.2" cy="873.4" r="2.9" fill="url(#sCl)"/><circle cx="265.2" cy="858" r="2.9" fill="url(#sCl)"/><circle cx="292.1" cy="863.1" r="2.9" fill="url(#sCr)"/><circle cx="301" cy="868.3" r="2.9" fill="url(#sCl)"/><circle cx="292.1" cy="873.4" r="2.9" fill="url(#sCl)"/><circle cx="283.2" cy="868.3" r="2.9" fill="url(#sCl)"/><circle cx="283.2" cy="858" r="2.9" fill="url(#sCl)"/><circle cx="301" cy="858" r="2.9" fill="url(#sCl)"/><circle cx="310.6" cy="863.1" r="2.9" fill="url(#sCr)"/><circle cx="310.6" cy="873.4" r="2.9" fill="url(#sCl)"/><circle cx="301.7" cy="868.3" r="2.9" fill="url(#sCl)"/><circle cx="301.7" cy="858" r="2.9" fill="url(#sCl)"/><circle cx="174.4" cy="878.5" r="2.9" fill="url(#sCr)"/><circle cx="183.3" cy="883.6" r="2.9" fill="url(#sCl)"/><circle cx="174.4" cy="888.8" r="2.9" fill="url(#sCl)"/><circle cx="210.6" cy="878.5" r="2.9" fill="url(#sCr)"/><circle cx="219.5" cy="883.6" r="2.9" fill="url(#sCl)"/><circle cx="210.6" cy="888.8" r="2.9" fill="url(#sCl)"/><circle cx="201.7" cy="883.6" r="2.9" fill="url(#sCl)"/><circle cx="219.5" cy="873.4" r="2.9" fill="url(#sCl)"/><circle cx="228.8" cy="878.5" r="2.9" fill="url(#sCr)"/><circle cx="237.7" cy="883.6" r="2.9" fill="url(#sCl)"/><circle cx="228.8" cy="888.8" r="2.9" fill="url(#sCl)"/><circle cx="265" cy="878.5" r="2.9" fill="url(#sCr)"/><circle cx="273.9" cy="883.6" r="2.9" fill="url(#sCl)"/><circle cx="265" cy="888.8" r="2.9" fill="url(#sCl)"/><circle cx="256.1" cy="883.6" r="2.9" fill="url(#sCl)"/><circle cx="273.9" cy="873.4" r="2.9" fill="url(#sCl)"/><circle cx="283.1" cy="878.5" r="2.9" fill="url(#sCr)"/><circle cx="292" cy="883.6" r="2.9" fill="url(#sCl)"/><circle cx="283.1" cy="888.8" r="2.9" fill="url(#sCl)"/><circle cx="310.5" cy="883.6" r="2.9" fill="url(#sCl)"/><circle cx="183.4" cy="893.8" r="2.9" fill="url(#sCr)"/><circle cx="192.3" cy="898.9" r="2.9" fill="url(#sCl)"/><circle cx="183.4" cy="904" r="2.9" fill="url(#sCl)"/><circle cx="174.5" cy="898.9" r="2.9" fill="url(#sCl)"/><circle cx="174.5" cy="888.6" r="2.9" fill="url(#sCl)"/><circle cx="192.3" cy="888.6" r="2.9" fill="url(#sCl)"/><circle cx="201.9" cy="893.8" r="2.9" fill="url(#sCr)"/><circle cx="210.8" cy="898.9" r="2.9" fill="url(#sCl)"/><circle cx="201.9" cy="904" r="2.9" fill="url(#sCl)"/><circle cx="210.8" cy="888.6" r="2.9" fill="url(#sCl)"/><circle cx="237.8" cy="893.8" r="2.9" fill="url(#sCr)"/><circle cx="246.7" cy="898.9" r="2.9" fill="url(#sCl)"/><circle cx="237.8" cy="904" r="2.9" fill="url(#sCl)"/><circle cx="228.8" cy="898.9" r="2.9" fill="url(#sCl)"/><circle cx="228.8" cy="888.6" r="2.9" fill="url(#sCl)"/><circle cx="246.7" cy="888.6" r="2.9" fill="url(#sCl)"/><circle cx="256.2" cy="893.8" r="2.9" fill="url(#sCr)"/><circle cx="265.2" cy="898.9" r="2.9" fill="url(#sCl)"/><circle cx="256.2" cy="904" r="2.9" fill="url(#sCl)"/><circle cx="265.2" cy="888.6" r="2.9" fill="url(#sCl)"/><circle cx="292.1" cy="893.8" r="2.9" fill="url(#sCr)"/><circle cx="301" cy="898.9" r="2.9" fill="url(#sCl)"/><circle cx="292.1" cy="904" r="2.9" fill="url(#sCl)"/><circle cx="283.2" cy="898.9" r="2.9" fill="url(#sCl)"/><circle cx="283.2" cy="888.6" r="2.9" fill="url(#sCl)"/><circle cx="301" cy="888.6" r="2.9" fill="url(#sCl)"/><circle cx="310.6" cy="893.8" r="2.9" fill="url(#sCr)"/><circle cx="310.6" cy="904" r="2.9" fill="url(#sCl)"/><circle cx="301.7" cy="898.9" r="2.9" fill="url(#sCl)"/><circle cx="301.7" cy="888.6" r="2.9" fill="url(#sCl)"/><circle cx="174.4" cy="909.8" r="2.9" fill="url(#sCr)"/><circle cx="183.3" cy="914.9" r="2.9" fill="url(#sCl)"/><circle cx="174.4" cy="920" r="2.9" fill="url(#sCl)"/><circle cx="210.6" cy="909.8" r="2.9" fill="url(#sCr)"/><circle cx="219.5" cy="914.9" r="2.9" fill="url(#sCl)"/><circle cx="210.6" cy="920" r="2.9" fill="url(#sCl)"/><circle cx="201.7" cy="914.9" r="2.9" fill="url(#sCl)"/><circle cx="219.5" cy="904.6" r="2.9" fill="url(#sCl)"/><circle cx="228.8" cy="909.8" r="2.9" fill="url(#sCr)"/><circle cx="237.7" cy="914.9" r="2.9" fill="url(#sCl)"/><circle cx="228.8" cy="920" r="2.9" fill="url(#sCl)"/><circle cx="265" cy="909.8" r="2.9" fill="url(#sCr)"/><circle cx="273.9" cy="914.9" r="2.9" fill="url(#sCl)"/><circle cx="265" cy="920" r="2.9" fill="url(#sCl)"/><circle cx="256.1" cy="914.9" r="2.9" fill="url(#sCl)"/><circle cx="273.9" cy="904.6" r="2.9" fill="url(#sCl)"/><circle cx="283.1" cy="909.8" r="2.9" fill="url(#sCr)"/><circle cx="292" cy="914.9" r="2.9" fill="url(#sCl)"/><circle cx="283.1" cy="920" r="2.9" fill="url(#sCl)"/><circle cx="310.5" cy="914.9" r="2.9" fill="url(#sCl)"/><circle cx="183.4" cy="925" r="2.9" fill="url(#sCr)"/><circle cx="192.3" cy="930.1" r="2.9" fill="url(#sCl)"/><circle cx="183.4" cy="935.3" r="2.9" fill="url(#sCl)"/><circle cx="174.5" cy="930.1" r="2.9" fill="url(#sCl)"/><circle cx="192.3" cy="919.9" r="2.9" fill="url(#sCl)"/><circle cx="201.9" cy="925" r="2.9" fill="url(#sCr)"/><circle cx="210.8" cy="930.1" r="2.9" fill="url(#sCl)"/><circle cx="201.9" cy="935.3" r="2.9" fill="url(#sCl)"/><circle cx="237.8" cy="925" r="2.9" fill="url(#sCr)"/><circle cx="246.7" cy="930.1" r="2.9" fill="url(#sCl)"/><circle cx="237.8" cy="935.3" r="2.9" fill="url(#sCl)"/><circle cx="228.8" cy="930.1" r="2.9" fill="url(#sCl)"/><circle cx="246.7" cy="919.9" r="2.9" fill="url(#sCl)"/><circle cx="256.2" cy="925" r="2.9" fill="url(#sCr)"/><circle cx="265.2" cy="930.1" r="2.9" fill="url(#sCl)"/><circle cx="256.2" cy="935.3" r="2.9" fill="url(#sCl)"/><circle cx="292.1" cy="925" r="2.9" fill="url(#sCr)"/><circle cx="301" cy="930.1" r="2.9" fill="url(#sCl)"/><circle cx="292.1" cy="935.3" r="2.9" fill="url(#sCl)"/><circle cx="283.2" cy="930.1" r="2.9" fill="url(#sCl)"/><circle cx="301" cy="919.9" r="2.9" fill="url(#sCl)"/><circle cx="310.6" cy="925" r="2.9" fill="url(#sCr)"/><circle cx="310.6" cy="935.3" r="2.9" fill="url(#sCl)"/><circle cx="301.7" cy="930.1" r="2.9" fill="url(#sCl)"/><circle cx="301.7" cy="919.9" r="2.9" fill="url(#sCl)"/><circle cx="174.4" cy="940.6" r="2.9" fill="url(#sCr)"/><circle cx="183.3" cy="945.8" r="2.9" fill="url(#sCl)"/><circle cx="174.4" cy="950.9" r="2.9" fill="url(#sCl)"/><circle cx="210.6" cy="940.6" r="2.9" fill="url(#sCr)"/><circle cx="219.5" cy="945.8" r="2.9" fill="url(#sCl)"/><circle cx="210.6" cy="950.9" r="2.9" fill="url(#sCl)"/><circle cx="201.7" cy="945.8" r="2.9" fill="url(#sCl)"/><circle cx="219.5" cy="935.5" r="2.9" fill="url(#sCl)"/><circle cx="228.8" cy="940.6" r="2.9" fill="url(#sCr)"/><circle cx="237.7" cy="945.8" r="2.9" fill="url(#sCl)"/><circle cx="228.8" cy="950.9" r="2.9" fill="url(#sCl)"/><circle cx="265" cy="940.6" r="2.9" fill="url(#sCr)"/><circle cx="273.9" cy="945.8" r="2.9" fill="url(#sCl)"/><circle cx="265" cy="950.9" r="2.9" fill="url(#sCl)"/><circle cx="256.1" cy="945.8" r="2.9" fill="url(#sCl)"/><circle cx="273.9" cy="935.5" r="2.9" fill="url(#sCl)"/><circle cx="283.1" cy="940.6" r="2.9" fill="url(#sCr)"/><circle cx="292" cy="945.8" r="2.9" fill="url(#sCl)"/><circle cx="283.1" cy="950.9" r="2.9" fill="url(#sCl)"/><circle cx="310.5" cy="945.8" r="2.9" fill="url(#sCl)"/><circle cx="183.4" cy="956.2" r="2.9" fill="url(#sCr)"/><circle cx="192.3" cy="961.4" r="2.9" fill="url(#sCl)"/><circle cx="174.5" cy="961.4" r="2.9" fill="url(#sCl)"/><circle cx="192.3" cy="951.1" r="2.9" fill="url(#sCl)"/><circle cx="201.9" cy="956.2" r="2.9" fill="url(#sCr)"/><circle cx="210.8" cy="961.4" r="2.9" fill="url(#sCl)"/><circle cx="237.8" cy="956.2" r="2.9" fill="url(#sCr)"/><circle cx="246.7" cy="961.4" r="2.9" fill="url(#sCl)"/><circle cx="228.8" cy="961.4" r="2.9" fill="url(#sCl)"/><circle cx="246.7" cy="951.1" r="2.9" fill="url(#sCl)"/><circle cx="256.2" cy="956.2" r="2.9" fill="url(#sCr)"/><circle cx="265.2" cy="961.4" r="2.9" fill="url(#sCl)"/><circle cx="292.1" cy="956.2" r="2.9" fill="url(#sCr)"/><circle cx="301" cy="961.4" r="2.9" fill="url(#sCl)"/><circle cx="283.2" cy="961.4" r="2.9" fill="url(#sCl)"/><circle cx="301" cy="951.1" r="2.9" fill="url(#sCl)"/><circle cx="310.6" cy="956.2" r="2.9" fill="url(#sCr)"/><circle cx="301.7" cy="961.4" r="2.9" fill="url(#sCl)"/><circle cx="301.7" cy="951.1" r="2.9" fill="url(#sCl)"/></g>
<clipPath id="cp18"><rect x="308.8" y="873.1" width="106.9" height="69.6"/></clipPath><g clip-path="url(#cp18)"><path d="M325 878.8L319.1 877.8M325 878.8L331.6 877.5M325 878.8L322.2 882.8M325 878.8L327.8 883.4M325 878.8L321.6 872.5M341.2 888.8L339.7 882.5M341.2 888.8L335.9 888.4M341.2 888.8L348.4 887.8M341.2 888.8L339.1 893.8M341.2 888.8L345.9 893M324.4 896.5L321.9 891.7M324.4 896.5L327.5 892.3M324.4 896.5L318.1 897.9M324.4 896.5L330.6 897.6M324.4 896.5L328.1 902.6M346.2 907.2L341.6 903M346.2 907.2L348.4 902.2M346.2 907.2L339.1 908M346.2 907.2L351.6 907.7M346.2 907.2L342.2 913.3M346.2 907.2L347.7 913.6M362.5 899.8L359.1 893.3M362.5 899.8L356.6 898.5M362.5 899.8L369.1 898.3M362.5 899.8L359.7 903.9M362.5 899.8L365 904.1M361.9 874.4L355.5 875.3M361.9 874.4L368.1 875.3M361.9 874.4L358.8 880.6M361.9 874.4L365.6 880.3M361.9 874.4L359.4 869.5M361.9 874.4L364.7 869.7M383.8 884.4L379.1 880.3M383.8 884.4L385.9 879.7M383.8 884.4L376.6 885.3M383.8 884.4L389.1 884.4M383.8 884.4L385 890.6M400 876.2L394.1 875.6M400 876.2L406.6 875.6M400 876.2L397.2 880.3M400 876.2L402.5 881.1M400 876.2L396.6 870.1M400 876.2L403.4 869.8M399.4 894.4L396.9 889.4M399.4 894.4L402.2 890.2M399.4 894.4L392.8 895.6M399.4 894.4L405.3 895.3M399.4 894.4L396.2 900.9M399.4 894.4L403.1 900.6M378.8 909L377.2 902.9M378.8 909L382.5 902.9M378.8 909L373.1 908.8M378.8 909L385.9 908.2M378.8 909L376.8 914.2M378.8 909L383.4 913.4M361.9 917.2L359.4 912.7M361.9 917.2L364.7 912.9M361.9 917.2L355.5 918.6M361.9 917.2L368.3 918.3M361.9 917.2L365.6 923.3M325 922.2L321.6 916M325 922.2L318.8 921.1M325 922.2L331.6 920.8M325 922.2L322.2 926.4M325 922.2L327.8 926.8M341.2 931.9L339.7 925.6M341.2 931.9L345.2 925.9M341.2 931.9L335.9 931.6M341.2 931.9L348.4 931.2M341.2 931.9L339.1 936.6M341.2 931.9L345.9 935.9M324.4 939.4L321.9 935M324.4 939.4L327.5 935.3M324.4 939.4L318.1 940.3M324.4 939.4L330.6 940.3M383.8 928.1L379.2 923.8M383.8 928.1L385.9 923M383.8 928.1L376.6 928.8M383.8 928.1L389.1 928.1M383.8 928.1L379.7 934.1M383.8 928.1L385 934.1M400 920L396.6 913.8M400 920L394.1 918.9M400 920L406.6 918.8M400 920L397.2 924.1M400 920L402.5 924.7M399.4 937.5L396.9 932.8M399.4 937.5L402.2 933.4M399.4 937.5L392.8 938.8M399.4 937.5L405.3 938.4M361.9 941.9L358.8 936.2M361.9 941.9L365.6 935.6M361.9 941.9L356.2 940.9M361.9 941.9L368.8 940.9M361.9 941.9L359.4 946.8M361.9 941.9L364.7 946.9M308.8 885.6L310.9 881.2M308.8 885.6L314.1 886.2M308.8 885.6L310.3 892.5M308.8 929.4L310.6 924.7M308.8 929.4L314.1 930M308.8 929.4L310.3 935.3M415.6 886.2L414.4 880.6M415.6 886.2L410.3 886.1M415.6 886.2L413.4 891.2M415.6 930L414.4 923.8M415.6 930L410.3 929.7M415.6 930L413.4 934.7M400 958.5L396.6 954.8M400 958.5L403.4 954.4" stroke="#2284b4" stroke-width="1.2" fill="none"/><path d="M319.1 877.8L313.1 876.9M331.6 877.5L338.1 876.2M322.2 882.8L319.4 886.9M327.8 883.4L330.6 888.1M321.6 872.5L318.1 866.2M339.7 882.5L338.1 876.2M335.9 888.4L330.6 888.1M348.4 887.8L355.6 886.9M339.1 893.8L336.9 898.8M345.9 893L350.6 897.2M321.9 891.7L319.4 886.9M327.5 892.3L330.6 888.1M318.1 897.9L311.9 899.4M330.6 897.6L336.9 898.8M328.1 902.6L331.9 908.8M341.6 903L336.9 898.8M348.4 902.2L350.6 897.2M339.1 908L331.9 908.8M351.6 907.7L356.9 908.1M342.2 913.3L338.1 919.4M347.7 913.6L349.1 920M359.1 893.3L355.6 886.9M356.6 898.5L350.6 897.2M369.1 898.3L375.6 896.9M359.7 903.9L356.9 908.1M365 904.1L367.5 908.5M355.5 875.3L349.1 876.2M368.1 875.3L374.4 876.2M358.8 880.6L355.6 886.9M365.6 880.3L369.4 886.2M359.4 869.5L356.9 864.6M364.7 869.7L367.5 865M379.1 880.3L374.4 876.2M385.9 879.7L388.1 875M376.6 885.3L369.4 886.2M389.1 884.4L394.4 884.4M385 890.6L386.2 896.9M394.1 875.6L388.1 875M406.6 875.6L413.1 875M397.2 880.3L394.4 884.4M402.5 881.1L405 886M396.6 870.1L393.1 864M403.4 869.8L406.9 863.4M396.9 889.4L394.4 884.4M402.2 890.2L405 886M392.8 895.6L386.2 896.9M405.3 895.3L411.2 896.2M396.2 900.9L393.1 907.5M403.1 900.6L406.9 906.9M377.2 902.9L375.6 896.9M382.5 902.9L386.2 896.9M373.1 908.8L367.5 908.5M385.9 908.2L393.1 907.5M376.8 914.2L374.8 919.4M383.4 913.4L388.1 917.9M359.4 912.7L356.9 908.1M364.7 912.9L367.5 908.5M355.5 918.6L349.1 920M368.3 918.3L374.8 919.4M365.6 923.3L369.4 929.4M321.6 916L318.1 909.8M318.8 921.1L312.5 920M331.6 920.8L338.1 919.4M322.2 926.4L319.4 930.6M327.8 926.8L330.6 931.2M339.7 925.6L338.1 919.4M345.2 925.9L349.1 920M335.9 931.6L330.6 931.2M348.4 931.2L355.6 930.6M339.1 936.6L336.9 941.2M345.9 935.9L350.6 940M321.9 935L319.4 930.6M327.5 935.3L330.6 931.2M318.1 940.3L311.9 941.2M330.6 940.3L336.9 941.2M379.2 923.8L374.8 919.4M385.9 923L388.1 917.9M376.6 928.8L369.4 929.4M389.1 928.1L394.4 928.1M379.7 934.1L375.6 940M385 934.1L386.2 940M396.6 913.8L393.1 907.5M394.1 918.9L388.1 917.9M406.6 918.8L413.1 917.5M397.2 924.1L394.4 928.1M402.5 924.7L405 929.4M396.9 932.8L394.4 928.1M402.2 933.4L405 929.4M392.8 938.8L386.2 940M405.3 938.4L411.2 939.4M358.8 936.2L355.6 930.6M365.6 935.6L369.4 929.4M356.2 940.9L350.6 940M368.8 940.9L375.6 940M359.4 946.8L356.9 951.6M364.7 946.9L367.5 952M310.9 881.2L313.1 876.9M314.1 886.2L319.4 886.9M310.3 892.5L311.9 899.4M310.6 924.7L312.5 920M314.1 930L319.4 930.6M310.3 935.3L311.9 941.2M414.4 880.6L413.1 875M410.3 886.1L405 886M413.4 891.2L411.2 896.2M414.4 923.8L413.1 917.5M410.3 929.7L405 929.4M413.4 934.7L411.2 939.4M396.6 954.8L393.1 951M403.4 954.4L406.9 950.4" stroke="#f2aa1a" stroke-width="1.2" fill="none"/><circle cx="325" cy="878.8" r="3" fill="url(#sRe)"/><circle cx="341.2" cy="888.8" r="3" fill="url(#sRe)"/><circle cx="324.4" cy="896.5" r="3" fill="url(#sRe)"/><circle cx="346.2" cy="907.2" r="3" fill="url(#sRe)"/><circle cx="362.5" cy="899.8" r="3" fill="url(#sRe)"/><circle cx="361.9" cy="874.4" r="3" fill="url(#sRe)"/><circle cx="383.8" cy="884.4" r="3" fill="url(#sRe)"/><circle cx="400" cy="876.2" r="3" fill="url(#sRe)"/><circle cx="399.4" cy="894.4" r="3" fill="url(#sRe)"/><circle cx="378.8" cy="909" r="3" fill="url(#sRe)"/><circle cx="361.9" cy="917.2" r="3" fill="url(#sRe)"/><circle cx="325" cy="922.2" r="3" fill="url(#sRe)"/><circle cx="341.2" cy="931.9" r="3" fill="url(#sRe)"/><circle cx="324.4" cy="939.4" r="3" fill="url(#sRe)"/><circle cx="383.8" cy="928.1" r="3" fill="url(#sRe)"/><circle cx="400" cy="920" r="3" fill="url(#sRe)"/><circle cx="399.4" cy="937.5" r="3" fill="url(#sRe)"/><circle cx="361.9" cy="941.9" r="3" fill="url(#sRe)"/><circle cx="308.8" cy="885.6" r="3" fill="url(#sRe)"/><circle cx="308.8" cy="929.4" r="3" fill="url(#sRe)"/><circle cx="415.6" cy="886.2" r="3" fill="url(#sRe)"/><circle cx="415.6" cy="930" r="3" fill="url(#sRe)"/><circle cx="400" cy="958.5" r="3" fill="url(#sRe)"/><circle cx="313.1" cy="876.9" r="3.1" fill="url(#sS2)"/><circle cx="338.1" cy="876.2" r="3.1" fill="url(#sS2)"/><circle cx="349.1" cy="876.2" r="3.1" fill="url(#sS2)"/><circle cx="374.4" cy="876.2" r="3.1" fill="url(#sS2)"/><circle cx="388.1" cy="875" r="3.1" fill="url(#sS2)"/><circle cx="413.1" cy="875" r="3.1" fill="url(#sS2)"/><circle cx="319.4" cy="886.9" r="3.1" fill="url(#sS2)"/><circle cx="330.6" cy="888.1" r="3.1" fill="url(#sS2)"/><circle cx="355.6" cy="886.9" r="3.1" fill="url(#sS2)"/><circle cx="369.4" cy="886.2" r="3.1" fill="url(#sS2)"/><circle cx="394.4" cy="884.4" r="3.1" fill="url(#sS2)"/><circle cx="405" cy="886" r="3.1" fill="url(#sS2)"/><circle cx="311.9" cy="899.4" r="3.1" fill="url(#sS2)"/><circle cx="336.9" cy="898.8" r="3.1" fill="url(#sS2)"/><circle cx="350.6" cy="897.2" r="3.1" fill="url(#sS2)"/><circle cx="375.6" cy="896.9" r="3.1" fill="url(#sS2)"/><circle cx="386.2" cy="896.9" r="3.1" fill="url(#sS2)"/><circle cx="411.2" cy="896.2" r="3.1" fill="url(#sS2)"/><circle cx="318.1" cy="909.8" r="3.1" fill="url(#sS2)"/><circle cx="331.9" cy="908.8" r="3.1" fill="url(#sS2)"/><circle cx="356.9" cy="908.1" r="3.1" fill="url(#sS2)"/><circle cx="367.5" cy="908.5" r="3.1" fill="url(#sS2)"/><circle cx="393.1" cy="907.5" r="3.1" fill="url(#sS2)"/><circle cx="406.9" cy="906.9" r="3.1" fill="url(#sS2)"/><circle cx="312.5" cy="920" r="3.1" fill="url(#sS2)"/><circle cx="338.1" cy="919.4" r="3.1" fill="url(#sS2)"/><circle cx="349.1" cy="920" r="3.1" fill="url(#sS2)"/><circle cx="374.8" cy="919.4" r="3.1" fill="url(#sS2)"/><circle cx="388.1" cy="917.9" r="3.1" fill="url(#sS2)"/><circle cx="413.1" cy="917.5" r="3.1" fill="url(#sS2)"/><circle cx="319.4" cy="930.6" r="3.1" fill="url(#sS2)"/><circle cx="330.6" cy="931.2" r="3.1" fill="url(#sS2)"/><circle cx="355.6" cy="930.6" r="3.1" fill="url(#sS2)"/><circle cx="369.4" cy="929.4" r="3.1" fill="url(#sS2)"/><circle cx="394.4" cy="928.1" r="3.1" fill="url(#sS2)"/><circle cx="405" cy="929.4" r="3.1" fill="url(#sS2)"/><circle cx="311.9" cy="941.2" r="3.1" fill="url(#sS2)"/><circle cx="336.9" cy="941.2" r="3.1" fill="url(#sS2)"/><circle cx="350.6" cy="940" r="3.1" fill="url(#sS2)"/><circle cx="375.6" cy="940" r="3.1" fill="url(#sS2)"/><circle cx="386.2" cy="940" r="3.1" fill="url(#sS2)"/><circle cx="411.2" cy="939.4" r="3.1" fill="url(#sS2)"/><circle cx="318.1" cy="866.2" r="3.1" fill="url(#sS2)"/><circle cx="331.9" cy="865.2" r="3.1" fill="url(#sS2)"/><circle cx="356.9" cy="864.6" r="3.1" fill="url(#sS2)"/><circle cx="367.5" cy="865" r="3.1" fill="url(#sS2)"/><circle cx="393.1" cy="864" r="3.1" fill="url(#sS2)"/><circle cx="406.9" cy="863.4" r="3.1" fill="url(#sS2)"/><circle cx="318.1" cy="953.2" r="3.1" fill="url(#sS2)"/><circle cx="331.9" cy="952.2" r="3.1" fill="url(#sS2)"/><circle cx="356.9" cy="951.6" r="3.1" fill="url(#sS2)"/><circle cx="367.5" cy="952" r="3.1" fill="url(#sS2)"/><circle cx="393.1" cy="951" r="3.1" fill="url(#sS2)"/><circle cx="406.9" cy="950.4" r="3.1" fill="url(#sS2)"/></g>
<text x="86.4" y="369.3" font-size="10.6" fill="#222" textLength="67.3" lengthAdjust="spacingAndGlyphs">P63/mmc (Gr.)</text><text x="213.8" y="368.6" font-size="10.6" fill="#222" textLength="55.2" lengthAdjust="spacingAndGlyphs">P-6m2 (BN)</text><text x="326.3" y="367.4" font-size="10.6" fill="#222" textLength="71.8" lengthAdjust="spacingAndGlyphs">Cmca (Black P)</text><text x="88.6" y="469.4" font-size="10.6" fill="#222" textLength="63.7" lengthAdjust="spacingAndGlyphs">R3mH (NbS<tspan font-size='7' dy='2.5'>2</tspan><tspan dy='-2.5'>)</tspan></text><text x="210.7" y="470" font-size="10.6" fill="#222" textLength="61.9" lengthAdjust="spacingAndGlyphs">P-3m1 (PtS<tspan font-size='7' dy='2.5'>2</tspan><tspan dy='-2.5'>)</tspan></text><text x="323.5" y="469.4" font-size="10.6" fill="#222" textLength="77.7" lengthAdjust="spacingAndGlyphs">C12/m1 (CoPS<tspan font-size='7' dy='2.5'>3</tspan><tspan dy='-2.5'>)</tspan></text><text x="91.7" y="566.5" font-size="10.6" fill="#222" textLength="57.1" lengthAdjust="spacingAndGlyphs">Pbca (PdS<tspan font-size='7' dy='2.5'>2</tspan><tspan dy='-2.5'>)</tspan></text><text x="212.8" y="569.4" font-size="10.6" fill="#222" textLength="57" lengthAdjust="spacingAndGlyphs">Pnma (SnS)</text><text x="336" y="566.2" font-size="10.6" fill="#222" textLength="52.7" lengthAdjust="spacingAndGlyphs">Pmnn (InS)</text><text x="79.2" y="666.9" font-size="10.6" fill="#222" textLength="82.1" lengthAdjust="spacingAndGlyphs">P42/nmcZ (GeS<tspan font-size='7' dy='2.5'>2</tspan><tspan dy='-2.5'>)</tspan></text><text x="208.9" y="666.9" font-size="10.6" fill="#222" textLength="64.1" lengthAdjust="spacingAndGlyphs">Cmma (FeTe)</text><text x="324.4" y="667.5" font-size="10.6" fill="#222" textLength="76.2" lengthAdjust="spacingAndGlyphs">R-3mH (Sb<tspan font-size='7' dy='2.5'>2</tspan><tspan dy='-2.5'>Se</tspan><tspan font-size='7' dy='2.5'>3</tspan><tspan dy='-2.5'>)</tspan></text><text x="77.5" y="770.4" font-size="10.6" fill="#222" textLength="85.2" lengthAdjust="spacingAndGlyphs">P121m/m1 (ZrTe<tspan font-size='7' dy='2.5'>3</tspan><tspan dy='-2.5'>)</tspan></text><text x="208.8" y="769.8" font-size="10.6" fill="#222" textLength="65" lengthAdjust="spacingAndGlyphs">Cmcm (ZrTe<tspan font-size='7' dy='2.5'>5</tspan><tspan dy='-2.5'>)</tspan></text><text x="328.8" y="767.5" font-size="10.6" fill="#222" textLength="67.5" lengthAdjust="spacingAndGlyphs">Pmn21 (WTe<tspan font-size='7' dy='2.5'>2</tspan><tspan dy='-2.5'>)</tspan></text><text x="87.5" y="866.9" font-size="10.6" fill="#222" textLength="66.2" lengthAdjust="spacingAndGlyphs">P3112 (RuCl<tspan font-size='7' dy='2.5'>3</tspan><tspan dy='-2.5'>)</tspan></text><text x="211.8" y="866.9" font-size="10.6" fill="#222" textLength="58.3" lengthAdjust="spacingAndGlyphs">R-3H (CrCl<tspan font-size='7' dy='2.5'>3</tspan><tspan dy='-2.5'>)</tspan></text><text x="337.5" y="866.5" font-size="10.6" fill="#222" textLength="49.4" lengthAdjust="spacingAndGlyphs">P-1 (ReS<tspan font-size='7' dy='2.5'>2</tspan><tspan dy='-2.5'>)</tspan></text><text x="42.5" y="370" font-size="16" fill="#000">(b)</text><defs><radialGradient id="sSy" cx="46%" cy="44%" r="56%"><stop offset="0" stop-color="#ffffd0"/><stop offset="0.22" stop-color="#fbf43c"/><stop offset="0.6" stop-color="#f0e61c"/><stop offset="1" stop-color="#a09a0c"/></radialGradient><radialGradient id="sBr" cx="48%" cy="48%" r="55%"><stop offset="0" stop-color="#fff"/><stop offset="0.2" stop-color="#f0c8a0"/><stop offset="0.5" stop-color="#a05e30"/><stop offset="1" stop-color="#4a2408"/></radialGradient></defs>
<clipPath id="cqc"><rect x="448.4" y="425" width="119" height="112.4"/></clipPath><g clip-path="url(#cqc)"><ellipse cx="451.2" cy="448" rx="6.4" ry="4.1" fill="#7ed488" fill-opacity="0.92" stroke="#4eae5e" stroke-width="0.5"/><ellipse cx="461.4" cy="449.1" rx="6.4" ry="4.7" fill="#7ed488" fill-opacity="0.92" stroke="#4eae5e" stroke-width="0.5"/><ellipse cx="471.5" cy="448" rx="6.4" ry="5.2" fill="#7ed488" fill-opacity="0.92" stroke="#4eae5e" stroke-width="0.5"/><ellipse cx="478.2" cy="449.1" rx="6.4" ry="4.1" fill="#7ed488" fill-opacity="0.92" stroke="#4eae5e" stroke-width="0.5"/><ellipse cx="488.4" cy="448" rx="6.4" ry="4.7" fill="#7ed488" fill-opacity="0.92" stroke="#4eae5e" stroke-width="0.5"/><ellipse cx="498.5" cy="449.1" rx="6.4" ry="5.2" fill="#7ed488" fill-opacity="0.92" stroke="#4eae5e" stroke-width="0.5"/><ellipse cx="505.2" cy="448" rx="6.4" ry="4.1" fill="#7ed488" fill-opacity="0.92" stroke="#4eae5e" stroke-width="0.5"/><ellipse cx="515.3" cy="449.1" rx="6.4" ry="4.7" fill="#7ed488" fill-opacity="0.92" stroke="#4eae5e" stroke-width="0.5"/><ellipse cx="525.5" cy="448" rx="6.4" ry="5.2" fill="#7ed488" fill-opacity="0.92" stroke="#4eae5e" stroke-width="0.5"/><ellipse cx="532.2" cy="449.1" rx="6.4" ry="4.1" fill="#7ed488" fill-opacity="0.92" stroke="#4eae5e" stroke-width="0.5"/><ellipse cx="542.3" cy="448" rx="6.4" ry="4.7" fill="#7ed488" fill-opacity="0.92" stroke="#4eae5e" stroke-width="0.5"/><ellipse cx="552.4" cy="449.1" rx="6.4" ry="5.2" fill="#7ed488" fill-opacity="0.92" stroke="#4eae5e" stroke-width="0.5"/><ellipse cx="559.2" cy="448" rx="6.4" ry="4.1" fill="#7ed488" fill-opacity="0.92" stroke="#4eae5e" stroke-width="0.5"/><ellipse cx="569.3" cy="449.1" rx="6.4" ry="4.7" fill="#7ed488" fill-opacity="0.92" stroke="#4eae5e" stroke-width="0.5"/><rect x="449" y="443.7" width="116.9" height="6.7" fill="#7ed488" fill-opacity="0.9"/><ellipse cx="456.9" cy="447.8" rx="4.9" ry="1.7" fill="#62bc6e" fill-opacity="0.6" transform="rotate(-15 456.9 447.8)"/><ellipse cx="470" cy="449.3" rx="4.9" ry="1.7" fill="#62bc6e" fill-opacity="0.6"/><ellipse cx="483.1" cy="447.8" rx="4.9" ry="1.7" fill="#62bc6e" fill-opacity="0.6" transform="rotate(15 483.1 447.8)"/><ellipse cx="496.2" cy="449.3" rx="4.9" ry="1.7" fill="#62bc6e" fill-opacity="0.6" transform="rotate(-15 496.2 449.3)"/><ellipse cx="509.3" cy="447.8" rx="4.9" ry="1.7" fill="#62bc6e" fill-opacity="0.6"/><ellipse cx="522.5" cy="449.3" rx="4.9" ry="1.7" fill="#62bc6e" fill-opacity="0.6" transform="rotate(15 522.5 449.3)"/><ellipse cx="535.6" cy="447.8" rx="4.9" ry="1.7" fill="#62bc6e" fill-opacity="0.6" transform="rotate(-15 535.6 447.8)"/><ellipse cx="548.7" cy="449.3" rx="4.9" ry="1.7" fill="#62bc6e" fill-opacity="0.6"/><ellipse cx="561.8" cy="447.8" rx="4.9" ry="1.7" fill="#62bc6e" fill-opacity="0.6" transform="rotate(15 561.8 447.8)"/><ellipse cx="451.6" cy="433.6" rx="3" ry="2.6" fill="#88dd8c" fill-opacity="0.88" stroke="#56b866" stroke-width="0.5"/><ellipse cx="461.6" cy="433" rx="3.9" ry="3.2" fill="#88dd8c" fill-opacity="0.88" stroke="#56b866" stroke-width="0.5"/><ellipse cx="467.7" cy="432.5" rx="3" ry="3.7" fill="#88dd8c" fill-opacity="0.88" stroke="#56b866" stroke-width="0.5"/><ellipse cx="477.5" cy="433.6" rx="3.9" ry="2.6" fill="#88dd8c" fill-opacity="0.88" stroke="#56b866" stroke-width="0.5"/><ellipse cx="489.1" cy="433" rx="3" ry="3.2" fill="#88dd8c" fill-opacity="0.88" stroke="#56b866" stroke-width="0.5"/><ellipse cx="496.2" cy="432.5" rx="3.9" ry="3.7" fill="#88dd8c" fill-opacity="0.88" stroke="#56b866" stroke-width="0.5"/><ellipse cx="503.7" cy="433.6" rx="3" ry="2.6" fill="#88dd8c" fill-opacity="0.88" stroke="#56b866" stroke-width="0.5"/><ellipse cx="512.2" cy="433" rx="3.9" ry="3.2" fill="#88dd8c" fill-opacity="0.88" stroke="#56b866" stroke-width="0.5"/><ellipse cx="520.6" cy="432.5" rx="3" ry="3.7" fill="#88dd8c" fill-opacity="0.88" stroke="#56b866" stroke-width="0.5"/><ellipse cx="529.6" cy="433.6" rx="3.9" ry="2.6" fill="#88dd8c" fill-opacity="0.88" stroke="#56b866" stroke-width="0.5"/><ellipse cx="533.7" cy="433" rx="3" ry="3.2" fill="#88dd8c" fill-opacity="0.88" stroke="#56b866" stroke-width="0.5"/><ellipse cx="542.1" cy="432.5" rx="3.9" ry="3.7" fill="#88dd8c" fill-opacity="0.88" stroke="#56b866" stroke-width="0.5"/><ellipse cx="551.5" cy="433.6" rx="3" ry="2.6" fill="#88dd8c" fill-opacity="0.88" stroke="#56b866" stroke-width="0.5"/><ellipse cx="558.1" cy="433" rx="3.9" ry="3.2" fill="#88dd8c" fill-opacity="0.88" stroke="#56b866" stroke-width="0.5"/><ellipse cx="564.6" cy="432.5" rx="3" ry="3.7" fill="#88dd8c" fill-opacity="0.88" stroke="#56b866" stroke-width="0.5"/><rect x="449" y="434.7" width="116.9" height="9" fill="#6b3c1c" fill-opacity="1"/><rect x="449" y="435.8" width="116.9" height="2.2" fill="#80502c" fill-opacity="0.8"/><circle cx="461.9" cy="439.4" r="3.6" fill="url(#sBr)"/><circle cx="468.1" cy="439.4" r="3.6" fill="url(#sBr)"/><circle cx="488.4" cy="439.4" r="3.6" fill="url(#sBr)"/><circle cx="497.2" cy="439.4" r="3.6" fill="url(#sBr)"/><circle cx="503.3" cy="439.4" r="3.6" fill="url(#sBr)"/><circle cx="524.3" cy="439.4" r="3.6" fill="url(#sBr)"/><circle cx="530" cy="439.4" r="3.6" fill="url(#sBr)"/><circle cx="551.5" cy="439.4" r="3.6" fill="url(#sBr)"/><circle cx="557.1" cy="439.4" r="3.6" fill="url(#sBr)"/><path d="M453.3 479.4C452.2 472 459.5 464.9 464.4 464.9C469.2 464.9 476.5 472 475.4 479.4Q464.4 482.5 453.3 479.4Z" fill="#e08585" stroke="#b86060" stroke-width="0.5"/><path d="M454.3 477.9Q464.4 479 474.4 477.9" fill="none" stroke="#b86060" stroke-width="0.6" opacity="0.7"/><path d="M492.7 478.8C491.5 468.9 498.5 459.4 503.2 459.4C507.8 459.4 514.8 468.9 513.7 478.8Q503.2 483 492.7 478.8Z" fill="#e08585" stroke="#b86060" stroke-width="0.5"/><path d="M493.7 477.3Q503.2 479.5 512.7 477.3" fill="none" stroke="#b86060" stroke-width="0.6" opacity="0.7"/><path d="M533 479.2C531.8 469.5 537.7 460.2 542.3 460.2C546.9 460.2 555.1 469.5 553.9 479.2Q543.4 483.3 533 479.2Z" fill="#e08585" stroke="#b86060" stroke-width="0.5"/><path d="M534 477.7Q543.4 479.8 552.9 477.7" fill="none" stroke="#b86060" stroke-width="0.6" opacity="0.7"/><circle cx="464.4" cy="490.2" r="8.6" fill="url(#sAu)"/><circle cx="503.3" cy="490.2" r="8.6" fill="url(#sAu)"/><circle cx="542.5" cy="490.2" r="8.6" fill="url(#sAu)"/><circle cx="477.5" cy="525.8" r="8.6" fill="url(#sAu)"/><circle cx="516.5" cy="525.8" r="8.6" fill="url(#sAu)"/><circle cx="555.3" cy="525.8" r="8.6" fill="url(#sAu)"/><ellipse cx="464" cy="487.7" rx="2.2" ry="1.9" fill="#88dd8c" fill-opacity="0.88" stroke="#56b866" stroke-width="0.5"/></g>
<clipPath id="cqd"><rect x="587.2" y="400.6" width="116.2" height="134"/></clipPath><g clip-path="url(#cqd)"><ellipse cx="598" cy="462" rx="12.5" ry="12" fill="#e08585" fill-opacity="0.93" stroke="#b86060" stroke-width="0.5"/><ellipse cx="594" cy="478" rx="9" ry="8" fill="#e08585" fill-opacity="0.93" stroke="#b86060" stroke-width="0.5"/><ellipse cx="625.5" cy="453" rx="10" ry="10" fill="#e08585" fill-opacity="0.93" stroke="#b86060" stroke-width="0.5"/><ellipse cx="631" cy="474" rx="5.5" ry="14" fill="#e08585" fill-opacity="0.93" stroke="#b86060" stroke-width="0.5"/><ellipse cx="629" cy="492" rx="8" ry="10" fill="#e08585" fill-opacity="0.93" stroke="#b86060" stroke-width="0.5"/><ellipse cx="640" cy="462" rx="9" ry="8" fill="#e08585" fill-opacity="0.93" stroke="#b86060" stroke-width="0.5" transform="rotate(30 640 462)"/><ellipse cx="655.5" cy="463" rx="10" ry="12.5" fill="#e08585" fill-opacity="0.93" stroke="#b86060" stroke-width="0.5"/><ellipse cx="656.5" cy="480" rx="7.5" ry="10" fill="#e08585" fill-opacity="0.93" stroke="#b86060" stroke-width="0.5"/><ellipse cx="687" cy="462" rx="11" ry="11" fill="#e08585" fill-opacity="0.93" stroke="#b86060" stroke-width="0.5"/><ellipse cx="682" cy="478" rx="8" ry="9" fill="#e08585" fill-opacity="0.93" stroke="#b86060" stroke-width="0.5"/><ellipse cx="700" cy="466" rx="7" ry="14" fill="#e08585" fill-opacity="0.93" stroke="#b86060" stroke-width="0.5"/><ellipse cx="598" cy="439" rx="11" ry="7" fill="#88dd8c" fill-opacity="0.9" stroke="#56b866" stroke-width="0.5"/><ellipse cx="634" cy="440" rx="12" ry="9.5" fill="#88dd8c" fill-opacity="0.9" stroke="#56b866" stroke-width="0.5" transform="rotate(-15 634 440)"/><ellipse cx="652" cy="442" rx="13.5" ry="10.5" fill="#88dd8c" fill-opacity="0.9" stroke="#56b866" stroke-width="0.5"/><ellipse cx="692.5" cy="439" rx="11.5" ry="8.2" fill="#88dd8c" fill-opacity="0.9" stroke="#56b866" stroke-width="0.5"/><ellipse cx="646.5" cy="439.7" rx="3.3" ry="3" fill="#fff" fill-opacity="1"/><ellipse cx="600.8" cy="424" rx="9.6" ry="4.8" fill="#e08585" fill-opacity="0.93" stroke="#b86060" stroke-width="0.5"/><ellipse cx="618.5" cy="427.4" rx="17.5" ry="5.2" fill="#e08585" fill-opacity="0.93" stroke="#b86060" stroke-width="0.5" transform="rotate(4 618.5 427.4)"/><ellipse cx="659.5" cy="425.3" rx="10.2" ry="6.1" fill="#e08585" fill-opacity="0.93" stroke="#b86060" stroke-width="0.5"/><ellipse cx="676" cy="429.4" rx="13.7" ry="6" fill="#e08585" fill-opacity="0.93" stroke="#b86060" stroke-width="0.5" transform="rotate(6 676 429.4)"/><ellipse cx="695" cy="424" rx="6" ry="4" fill="#e08585" fill-opacity="0.93" stroke="#b86060" stroke-width="0.5"/><ellipse cx="671" cy="430.2" rx="2" ry="1.6" fill="#fff" fill-opacity="1" transform="rotate(-30 671 430.2)"/><ellipse cx="604.9" cy="409.8" rx="9.8" ry="6.6" fill="#88dd8c" fill-opacity="0.9" stroke="#56b866" stroke-width="0.5" transform="rotate(-12 604.9 409.8)"/><ellipse cx="626.5" cy="410.5" rx="12.3" ry="7.3" fill="#88dd8c" fill-opacity="0.9" stroke="#56b866" stroke-width="0.5" transform="rotate(8 626.5 410.5)"/><ellipse cx="663.6" cy="411" rx="13.7" ry="8" fill="#88dd8c" fill-opacity="0.9" stroke="#56b866" stroke-width="0.5" transform="rotate(-8 663.6 411)"/><ellipse cx="686.8" cy="411.2" rx="11.6" ry="8" fill="#88dd8c" fill-opacity="0.9" stroke="#56b866" stroke-width="0.5" transform="rotate(12 686.8 411.2)"/><ellipse cx="606" cy="423" rx="4" ry="5" fill="#88dd8c" fill-opacity="0.7" stroke="#56b866" stroke-width="0.5"/><ellipse cx="661" cy="423" rx="4" ry="5" fill="#88dd8c" fill-opacity="0.7" stroke="#56b866" stroke-width="0.5"/><path d="M604.9 421.9L625.6 422.3" stroke="#b69cc2" stroke-width="2.4" stroke-linecap="round"/><path d="M625.6 422.3L634.6 452.4" stroke="#b69cc2" stroke-width="1.7" stroke-linecap="round"/><path d="M603 431L598.5 444" stroke="#b69cc2" stroke-width="1.5" stroke-linecap="round"/><path d="M659.5 426L655 446" stroke="#b69cc2" stroke-width="1.5" stroke-linecap="round"/><path d="M682 421.9L690.9 451" stroke="#b69cc2" stroke-width="1.7" stroke-linecap="round"/><path d="M634.6 452.4L653.8 452" stroke="#b69cc2" stroke-width="2.4" stroke-linecap="round"/><path d="M585 450.6L597.3 450.6" stroke="#b69cc2" stroke-width="2.4" stroke-linecap="round"/><path d="M690.9 451L706 451" stroke="#b69cc2" stroke-width="2.4" stroke-linecap="round"/><path d="M664 422L682 421.9" stroke="#b69cc2" stroke-width="1.5" stroke-linecap="round"/><circle cx="604.9" cy="421.9" r="5.2" fill="url(#sPm)"/><circle cx="625.6" cy="422.3" r="5.2" fill="url(#sPm)"/><circle cx="682" cy="421.9" r="5.2" fill="url(#sPm)"/><circle cx="597.3" cy="450.6" r="5.2" fill="url(#sPm)"/><circle cx="634.6" cy="452.4" r="5.2" fill="url(#sPm)"/><circle cx="653.8" cy="452" r="5.2" fill="url(#sPm)"/><circle cx="690.9" cy="451" r="5.2" fill="url(#sPm)"/><ellipse cx="603" cy="421" rx="2.6" ry="2.6" fill="#e08585" fill-opacity="0.45" stroke="#b86060" stroke-width="0.5"/><ellipse cx="660.5" cy="423.5" rx="3.4" ry="3.4" fill="#d87080" fill-opacity="0.85" stroke="#b86060" stroke-width="0.5"/><ellipse cx="599.4" cy="478.6" rx="12.3" ry="6.8" fill="#88dd8c" fill-opacity="0.9" stroke="#56b866" stroke-width="0.5"/><ellipse cx="618.5" cy="481.5" rx="9.2" ry="8.2" fill="#88dd8c" fill-opacity="0.9" stroke="#56b866" stroke-width="0.5"/><ellipse cx="609" cy="497" rx="14" ry="6.8" fill="#e08585" fill-opacity="0.93" stroke="#b86060" stroke-width="0.5"/><ellipse cx="589" cy="490" rx="4" ry="12" fill="#e08585" fill-opacity="0.93" stroke="#b86060" stroke-width="0.5"/><ellipse cx="643.1" cy="487" rx="10.5" ry="12" fill="#88dd8c" fill-opacity="0.9" stroke="#56b866" stroke-width="0.5"/><ellipse cx="640" cy="476" rx="8" ry="5" fill="#88dd8c" fill-opacity="0.9" stroke="#56b866" stroke-width="0.5"/><ellipse cx="656.8" cy="496.6" rx="12.3" ry="5.5" fill="#88dd8c" fill-opacity="0.9" stroke="#56b866" stroke-width="0.5"/><ellipse cx="669.1" cy="487" rx="8" ry="10.8" fill="#88dd8c" fill-opacity="0.9" stroke="#56b866" stroke-width="0.5"/><ellipse cx="695" cy="488.5" rx="9.6" ry="12.3" fill="#88dd8c" fill-opacity="0.9" stroke="#56b866" stroke-width="0.5"/><ellipse cx="656.1" cy="486" rx="8.5" ry="8.5" fill="#e08585" fill-opacity="0.9" stroke="#b86060" stroke-width="0.5"/><ellipse cx="684" cy="487" rx="4.5" ry="10" fill="#e08585" fill-opacity="0.93" stroke="#b86060" stroke-width="0.5"/><ellipse cx="703" cy="489" rx="4" ry="8" fill="#e08585" fill-opacity="0.93" stroke="#b86060" stroke-width="0.5"/><circle cx="598.7" cy="487.5" r="7.2" fill="url(#sAu)"/><circle cx="636.6" cy="487.5" r="7.2" fill="url(#sAu)"/><circle cx="675.9" cy="487.5" r="7.2" fill="url(#sAu)"/><circle cx="617.8" cy="488" r="6.3" fill="url(#sAu)"/><ellipse cx="617.8" cy="488" rx="7" ry="7.4" fill="#88dd8c" fill-opacity="0.55" stroke="#56b866" stroke-width="0.5"/><circle cx="656.1" cy="487.5" r="6.6" fill="url(#sAu)"/><ellipse cx="656.1" cy="487.5" rx="7.4" ry="7.4" fill="#e86c50" fill-opacity="0.5" stroke="#b86060" stroke-width="0.5"/><circle cx="695" cy="488" r="6.6" fill="url(#sAu)"/><ellipse cx="695" cy="488" rx="7.4" ry="7.8" fill="#88dd8c" fill-opacity="0.6" stroke="#56b866" stroke-width="0.5"/><ellipse cx="622.6" cy="512" rx="6.8" ry="4.4" fill="#e08585" fill-opacity="0.93" stroke="#b86060" stroke-width="0.5"/><ellipse cx="656.1" cy="511.6" rx="11" ry="7.2" fill="#e08585" fill-opacity="0.93" stroke="#b86060" stroke-width="0.5"/><ellipse cx="677.3" cy="511.6" rx="11" ry="7.6" fill="#e08585" fill-opacity="0.93" stroke="#b86060" stroke-width="0.5"/><ellipse cx="699" cy="512.8" rx="5.6" ry="5.6" fill="#e08585" fill-opacity="0.93" stroke="#b86060" stroke-width="0.5"/><ellipse cx="586" cy="515" rx="3.5" ry="8" fill="#e08585" fill-opacity="0.93" stroke="#b86060" stroke-width="0.5"/><ellipse cx="612.4" cy="523.7" rx="5.2" ry="6.3" fill="#88dd8c" fill-opacity="0.9" stroke="#56b866" stroke-width="0.5"/><ellipse cx="629.4" cy="517" rx="4" ry="5.6" fill="#88dd8c" fill-opacity="0.9" stroke="#56b866" stroke-width="0.5"/><ellipse cx="656.8" cy="526.6" rx="12.3" ry="6.8" fill="#88dd8c" fill-opacity="0.9" stroke="#56b866" stroke-width="0.5"/><ellipse cx="675.9" cy="529.1" rx="9.6" ry="5.4" fill="#88dd8c" fill-opacity="0.9" stroke="#56b866" stroke-width="0.5"/><ellipse cx="689.6" cy="525" rx="4.2" ry="5.6" fill="#88dd8c" fill-opacity="0.9" stroke="#56b866" stroke-width="0.5"/><ellipse cx="697.8" cy="516.2" rx="4" ry="4" fill="#88dd8c" fill-opacity="0.9" stroke="#56b866" stroke-width="0.5"/><circle cx="598.7" cy="519.3" r="7" fill="url(#sAu)"/><circle cx="617.8" cy="519.3" r="7" fill="url(#sAu)"/><circle cx="637" cy="519.3" r="7" fill="url(#sAu)"/><circle cx="656.1" cy="519.3" r="7" fill="url(#sAu)"/><circle cx="675.2" cy="519.3" r="7" fill="url(#sAu)"/><circle cx="694.3" cy="519.3" r="7" fill="url(#sAu)"/><ellipse cx="656.1" cy="515.5" rx="8" ry="4.2" fill="#e08585" fill-opacity="0.5" stroke="#b86060" stroke-width="0.5"/><ellipse cx="675.5" cy="515.5" rx="8" ry="4.2" fill="#e08585" fill-opacity="0.5" stroke="#b86060" stroke-width="0.5"/><ellipse cx="657" cy="524.5" rx="9" ry="4" fill="#88dd8c" fill-opacity="0.5" stroke="#56b866" stroke-width="0.5"/><ellipse cx="698" cy="516.2" rx="3.6" ry="3.6" fill="#88dd8c" fill-opacity="0.6" stroke="#56b866" stroke-width="0.5"/><ellipse cx="629.4" cy="518" rx="3" ry="4.2" fill="#88dd8c" fill-opacity="0.5" stroke="#56b866" stroke-width="0.5"/></g>
<clipPath id="cqe"><rect x="724.1" y="396.9" width="114.9" height="137.7"/></clipPath><g clip-path="url(#cqe)"><ellipse cx="731.6" cy="415.6" rx="6" ry="4.5" fill="#88dd8c" fill-opacity="0.88" stroke="#56b866" stroke-width="0.5"/><ellipse cx="733.4" cy="419.3" rx="3.7" ry="3.4" fill="#88dd8c" fill-opacity="0.88" stroke="#56b866" stroke-width="0.5"/><ellipse cx="739.4" cy="423.1" rx="3.4" ry="5.6" fill="#d47880" fill-opacity="0.9" stroke="#a85060" stroke-width="0.5"/><ellipse cx="742.8" cy="428.7" rx="5.6" ry="4.1" fill="#cc6a74" fill-opacity="0.9" stroke="#a85060" stroke-width="0.5"/><ellipse cx="759.7" cy="428.7" rx="5.2" ry="4.1" fill="#dc8488" fill-opacity="0.9" stroke="#a85060" stroke-width="0.5"/><ellipse cx="746.5" cy="436.6" rx="17.8" ry="4.1" fill="#88dd8c" fill-opacity="0.88" stroke="#56b866" stroke-width="0.5"/><ellipse cx="742.8" cy="432.5" rx="7.5" ry="2.6" fill="#88dd8c" fill-opacity="0.88" stroke="#56b866" stroke-width="0.5"/><ellipse cx="744.7" cy="447.1" rx="13.9" ry="4.9" fill="#cc7078" fill-opacity="0.92" stroke="#a05058" stroke-width="0.5"/><ellipse cx="744.7" cy="457.8" rx="11.6" ry="6.7" fill="#88dd8c" fill-opacity="0.88" stroke="#56b866" stroke-width="0.5"/><ellipse cx="737.2" cy="463.4" rx="8.4" ry="3.7" fill="#e08585" fill-opacity="0.9" stroke="#b86060" stroke-width="0.5"/><ellipse cx="751.2" cy="463.9" rx="8.4" ry="3.7" fill="#e08585" fill-opacity="0.9" stroke="#b86060" stroke-width="0.5"/><ellipse cx="744.7" cy="465.3" rx="9.4" ry="3" fill="#e08585" fill-opacity="0.9" stroke="#b86060" stroke-width="0.5"/><ellipse cx="769.6" cy="415.6" rx="6" ry="4.5" fill="#88dd8c" fill-opacity="0.88" stroke="#56b866" stroke-width="0.5"/><ellipse cx="771.5" cy="419.3" rx="3.7" ry="3.4" fill="#88dd8c" fill-opacity="0.88" stroke="#56b866" stroke-width="0.5"/><ellipse cx="777.5" cy="423.1" rx="3.4" ry="5.6" fill="#d47880" fill-opacity="0.9" stroke="#a85060" stroke-width="0.5"/><ellipse cx="780.8" cy="428.7" rx="5.6" ry="4.1" fill="#cc6a74" fill-opacity="0.9" stroke="#a85060" stroke-width="0.5"/><ellipse cx="797.7" cy="428.7" rx="5.2" ry="4.1" fill="#dc8488" fill-opacity="0.9" stroke="#a85060" stroke-width="0.5"/><ellipse cx="784.6" cy="436.6" rx="17.8" ry="4.1" fill="#88dd8c" fill-opacity="0.88" stroke="#56b866" stroke-width="0.5"/><ellipse cx="780.8" cy="432.5" rx="7.5" ry="2.6" fill="#88dd8c" fill-opacity="0.88" stroke="#56b866" stroke-width="0.5"/><ellipse cx="782.7" cy="447.1" rx="13.9" ry="4.9" fill="#cc7078" fill-opacity="0.92" stroke="#a05058" stroke-width="0.5"/><ellipse cx="782.7" cy="457.8" rx="11.6" ry="6.7" fill="#88dd8c" fill-opacity="0.88" stroke="#56b866" stroke-width="0.5"/><ellipse cx="775.2" cy="463.4" rx="8.4" ry="3.7" fill="#e08585" fill-opacity="0.9" stroke="#b86060" stroke-width="0.5"/><ellipse cx="789.3" cy="463.9" rx="8.4" ry="3.7" fill="#e08585" fill-opacity="0.9" stroke="#b86060" stroke-width="0.5"/><ellipse cx="782.7" cy="465.3" rx="9.4" ry="3" fill="#e08585" fill-opacity="0.9" stroke="#b86060" stroke-width="0.5"/><ellipse cx="808.4" cy="415.6" rx="6" ry="4.5" fill="#88dd8c" fill-opacity="0.88" stroke="#56b866" stroke-width="0.5"/><ellipse cx="810.3" cy="419.3" rx="3.7" ry="3.4" fill="#88dd8c" fill-opacity="0.88" stroke="#56b866" stroke-width="0.5"/><ellipse cx="816.3" cy="423.1" rx="3.4" ry="5.6" fill="#d47880" fill-opacity="0.9" stroke="#a85060" stroke-width="0.5"/><ellipse cx="819.6" cy="428.7" rx="5.6" ry="4.1" fill="#cc6a74" fill-opacity="0.9" stroke="#a85060" stroke-width="0.5"/><ellipse cx="836.5" cy="428.7" rx="5.2" ry="4.1" fill="#dc8488" fill-opacity="0.9" stroke="#a85060" stroke-width="0.5"/><ellipse cx="823.4" cy="436.6" rx="17.8" ry="4.1" fill="#88dd8c" fill-opacity="0.88" stroke="#56b866" stroke-width="0.5"/><ellipse cx="819.6" cy="432.5" rx="7.5" ry="2.6" fill="#88dd8c" fill-opacity="0.88" stroke="#56b866" stroke-width="0.5"/><ellipse cx="821.5" cy="447.1" rx="13.9" ry="4.9" fill="#cc7078" fill-opacity="0.92" stroke="#a05058" stroke-width="0.5"/><ellipse cx="821.5" cy="457.8" rx="11.6" ry="6.7" fill="#88dd8c" fill-opacity="0.88" stroke="#56b866" stroke-width="0.5"/><ellipse cx="814" cy="463.4" rx="8.4" ry="3.7" fill="#e08585" fill-opacity="0.9" stroke="#b86060" stroke-width="0.5"/><ellipse cx="828.1" cy="463.9" rx="8.4" ry="3.7" fill="#e08585" fill-opacity="0.9" stroke="#b86060" stroke-width="0.5"/><ellipse cx="821.5" cy="465.3" rx="9.4" ry="3" fill="#e08585" fill-opacity="0.9" stroke="#b86060" stroke-width="0.5"/><path d="M744.7 403L738.1 413.9" stroke="#e6d81c" stroke-width="2.0" stroke-linecap="round"/><path d="M738.1 413.9L731.6 425" stroke="#b490b8" stroke-width="2.0" stroke-linecap="round"/><path d="M744.7 403L757.2 413.9" stroke="#e6d81c" stroke-width="2.0" stroke-linecap="round"/><path d="M757.2 413.9L769.6 425" stroke="#b490b8" stroke-width="2.0" stroke-linecap="round"/><path d="M731.6 425L738.1 436" stroke="#b490b8" stroke-width="2.0" stroke-linecap="round"/><path d="M738.1 436L744.7 447.1" stroke="#e6d81c" stroke-width="2.0" stroke-linecap="round"/><path d="M744.7 447.1L757.2 436" stroke="#e6d81c" stroke-width="2.0" stroke-linecap="round"/><path d="M757.2 436L769.6 425" stroke="#b490b8" stroke-width="2.0" stroke-linecap="round"/><path d="M782.7 403L776.2 413.9" stroke="#e6d81c" stroke-width="2.0" stroke-linecap="round"/><path d="M776.2 413.9L769.6 425" stroke="#b490b8" stroke-width="2.0" stroke-linecap="round"/><path d="M782.7 403L795.3 413.9" stroke="#e6d81c" stroke-width="2.0" stroke-linecap="round"/><path d="M795.3 413.9L807.6 425" stroke="#b490b8" stroke-width="2.0" stroke-linecap="round"/><path d="M769.6 425L776.2 436" stroke="#b490b8" stroke-width="2.0" stroke-linecap="round"/><path d="M776.2 436L782.7 447.1" stroke="#e6d81c" stroke-width="2.0" stroke-linecap="round"/><path d="M782.7 447.1L795.3 436" stroke="#e6d81c" stroke-width="2.0" stroke-linecap="round"/><path d="M795.3 436L807.6 425" stroke="#b490b8" stroke-width="2.0" stroke-linecap="round"/><path d="M821.5 403L814.9 413.9" stroke="#e6d81c" stroke-width="2.0" stroke-linecap="round"/><path d="M814.9 413.9L808.4 425" stroke="#b490b8" stroke-width="2.0" stroke-linecap="round"/><path d="M821.5 403L834.1 413.9" stroke="#e6d81c" stroke-width="2.0" stroke-linecap="round"/><path d="M834.1 413.9L846.4 425" stroke="#b490b8" stroke-width="2.0" stroke-linecap="round"/><path d="M808.4 425L814.9 436" stroke="#b490b8" stroke-width="2.0" stroke-linecap="round"/><path d="M814.9 436L821.5 447.1" stroke="#e6d81c" stroke-width="2.0" stroke-linecap="round"/><path d="M821.5 447.1L834.1 436" stroke="#e6d81c" stroke-width="2.0" stroke-linecap="round"/><path d="M834.1 436L846.4 425" stroke="#b490b8" stroke-width="2.0" stroke-linecap="round"/><circle cx="731.6" cy="425" r="7.5" fill="url(#sMo)"/><circle cx="744.7" cy="403" r="5.6" fill="url(#sSy)"/><circle cx="744.7" cy="447.1" r="5.6" fill="url(#sSy)"/><circle cx="769.6" cy="425" r="7.5" fill="url(#sMo)"/><circle cx="782.7" cy="403" r="5.6" fill="url(#sSy)"/><circle cx="782.7" cy="447.1" r="5.6" fill="url(#sSy)"/><circle cx="808.4" cy="425" r="7.5" fill="url(#sMo)"/><circle cx="821.5" cy="403" r="5.6" fill="url(#sSy)"/><circle cx="821.5" cy="447.1" r="5.6" fill="url(#sSy)"/><circle cx="845.7" cy="425" r="7.5" fill="url(#sMo)"/><ellipse cx="725" cy="476.5" rx="6.4" ry="4.9" fill="#88dd8c" fill-opacity="0.88" stroke="#56b866" stroke-width="0.5"/><ellipse cx="726.9" cy="498.1" rx="6" ry="4.5" fill="#88dd8c" fill-opacity="0.88" stroke="#56b866" stroke-width="0.5"/><ellipse cx="734" cy="477.6" rx="6.4" ry="4.9" fill="#88dd8c" fill-opacity="0.88" stroke="#56b866" stroke-width="0.5"/><ellipse cx="735.9" cy="497.1" rx="6" ry="4.5" fill="#88dd8c" fill-opacity="0.88" stroke="#56b866" stroke-width="0.5"/><ellipse cx="743" cy="476.5" rx="6.4" ry="4.9" fill="#88dd8c" fill-opacity="0.88" stroke="#56b866" stroke-width="0.5"/><ellipse cx="744.9" cy="498.1" rx="6" ry="4.5" fill="#88dd8c" fill-opacity="0.88" stroke="#56b866" stroke-width="0.5"/><ellipse cx="752" cy="477.6" rx="6.4" ry="4.9" fill="#88dd8c" fill-opacity="0.88" stroke="#56b866" stroke-width="0.5"/><ellipse cx="753.9" cy="497.1" rx="6" ry="4.5" fill="#88dd8c" fill-opacity="0.88" stroke="#56b866" stroke-width="0.5"/><ellipse cx="761" cy="476.5" rx="6.4" ry="4.9" fill="#88dd8c" fill-opacity="0.88" stroke="#56b866" stroke-width="0.5"/><ellipse cx="762.8" cy="498.1" rx="6" ry="4.5" fill="#88dd8c" fill-opacity="0.88" stroke="#56b866" stroke-width="0.5"/><ellipse cx="770" cy="477.6" rx="6.4" ry="4.9" fill="#88dd8c" fill-opacity="0.88" stroke="#56b866" stroke-width="0.5"/><ellipse cx="771.8" cy="497.1" rx="6" ry="4.5" fill="#88dd8c" fill-opacity="0.88" stroke="#56b866" stroke-width="0.5"/><ellipse cx="779" cy="476.5" rx="6.4" ry="4.9" fill="#88dd8c" fill-opacity="0.88" stroke="#56b866" stroke-width="0.5"/><ellipse cx="780.8" cy="498.1" rx="6" ry="4.5" fill="#88dd8c" fill-opacity="0.88" stroke="#56b866" stroke-width="0.5"/><ellipse cx="788" cy="477.6" rx="6.4" ry="4.9" fill="#88dd8c" fill-opacity="0.88" stroke="#56b866" stroke-width="0.5"/><ellipse cx="789.8" cy="497.1" rx="6" ry="4.5" fill="#88dd8c" fill-opacity="0.88" stroke="#56b866" stroke-width="0.5"/><ellipse cx="797" cy="476.5" rx="6.4" ry="4.9" fill="#88dd8c" fill-opacity="0.88" stroke="#56b866" stroke-width="0.5"/><ellipse cx="798.8" cy="498.1" rx="6" ry="4.5" fill="#88dd8c" fill-opacity="0.88" stroke="#56b866" stroke-width="0.5"/><ellipse cx="806" cy="477.6" rx="6.4" ry="4.9" fill="#88dd8c" fill-opacity="0.88" stroke="#56b866" stroke-width="0.5"/><ellipse cx="807.8" cy="497.1" rx="6" ry="4.5" fill="#88dd8c" fill-opacity="0.88" stroke="#56b866" stroke-width="0.5"/><ellipse cx="814.9" cy="476.5" rx="6.4" ry="4.9" fill="#88dd8c" fill-opacity="0.88" stroke="#56b866" stroke-width="0.5"/><ellipse cx="816.8" cy="498.1" rx="6" ry="4.5" fill="#88dd8c" fill-opacity="0.88" stroke="#56b866" stroke-width="0.5"/><ellipse cx="823.9" cy="477.6" rx="6.4" ry="4.9" fill="#88dd8c" fill-opacity="0.88" stroke="#56b866" stroke-width="0.5"/><ellipse cx="825.8" cy="497.1" rx="6" ry="4.5" fill="#88dd8c" fill-opacity="0.88" stroke="#56b866" stroke-width="0.5"/><ellipse cx="832.9" cy="476.5" rx="6.4" ry="4.9" fill="#88dd8c" fill-opacity="0.88" stroke="#56b866" stroke-width="0.5"/><ellipse cx="834.8" cy="498.1" rx="6" ry="4.5" fill="#88dd8c" fill-opacity="0.88" stroke="#56b866" stroke-width="0.5"/><ellipse cx="841.9" cy="477.6" rx="6.4" ry="4.9" fill="#88dd8c" fill-opacity="0.88" stroke="#56b866" stroke-width="0.5"/><ellipse cx="843.8" cy="497.1" rx="6" ry="4.5" fill="#88dd8c" fill-opacity="0.88" stroke="#56b866" stroke-width="0.5"/><rect x="724.1" y="477.4" width="114.9" height="20.6" fill="#88dd8c" fill-opacity="0.85"/><rect x="724.1" y="481.2" width="114.9" height="13.5" fill="#e2a026" fill-opacity="1"/><ellipse cx="736.2" cy="485.1" rx="3.7" ry="2.8" fill="#e0683c" fill-opacity="0.8" stroke="#b84c2c" stroke-width="0.5"/><ellipse cx="740.2" cy="487.7" rx="3.7" ry="2.8" fill="#e0683c" fill-opacity="0.8" stroke="#b84c2c" stroke-width="0.5" transform="rotate(37 740.2 487.7)"/><ellipse cx="744.1" cy="490.4" rx="3.7" ry="2.8" fill="#e0683c" fill-opacity="0.8" stroke="#b84c2c" stroke-width="0.5" transform="rotate(74 744.1 490.4)"/><ellipse cx="748" cy="486.4" rx="3.7" ry="2.8" fill="#e0683c" fill-opacity="0.8" stroke="#b84c2c" stroke-width="0.5" transform="rotate(21 748 486.4)"/><ellipse cx="752" cy="489.1" rx="3.7" ry="2.8" fill="#e0683c" fill-opacity="0.8" stroke="#b84c2c" stroke-width="0.5" transform="rotate(58 752 489.1)"/><ellipse cx="755.9" cy="485.1" rx="3.7" ry="2.8" fill="#e0683c" fill-opacity="0.8" stroke="#b84c2c" stroke-width="0.5" transform="rotate(5 755.9 485.1)"/><ellipse cx="759.9" cy="487.7" rx="3.7" ry="2.8" fill="#e0683c" fill-opacity="0.8" stroke="#b84c2c" stroke-width="0.5" transform="rotate(42 759.9 487.7)"/><ellipse cx="763.8" cy="490.4" rx="3.7" ry="2.8" fill="#e0683c" fill-opacity="0.8" stroke="#b84c2c" stroke-width="0.5" transform="rotate(79 763.8 490.4)"/><ellipse cx="767.7" cy="486.4" rx="3.7" ry="2.8" fill="#e0683c" fill-opacity="0.8" stroke="#b84c2c" stroke-width="0.5" transform="rotate(26 767.7 486.4)"/><ellipse cx="771.7" cy="489.1" rx="3.7" ry="2.8" fill="#e0683c" fill-opacity="0.8" stroke="#b84c2c" stroke-width="0.5" transform="rotate(63 771.7 489.1)"/><ellipse cx="775.6" cy="485.1" rx="3.7" ry="2.8" fill="#e0683c" fill-opacity="0.8" stroke="#b84c2c" stroke-width="0.5" transform="rotate(10 775.6 485.1)"/><ellipse cx="779.5" cy="487.7" rx="3.7" ry="2.8" fill="#e0683c" fill-opacity="0.8" stroke="#b84c2c" stroke-width="0.5" transform="rotate(47 779.5 487.7)"/><ellipse cx="783.5" cy="490.4" rx="3.7" ry="2.8" fill="#e0683c" fill-opacity="0.8" stroke="#b84c2c" stroke-width="0.5" transform="rotate(84 783.5 490.4)"/><ellipse cx="787.4" cy="486.4" rx="3.7" ry="2.8" fill="#e0683c" fill-opacity="0.8" stroke="#b84c2c" stroke-width="0.5" transform="rotate(31 787.4 486.4)"/><ellipse cx="791.3" cy="489.1" rx="3.7" ry="2.8" fill="#e0683c" fill-opacity="0.8" stroke="#b84c2c" stroke-width="0.5" transform="rotate(68 791.3 489.1)"/><ellipse cx="795.3" cy="485.1" rx="3.7" ry="2.8" fill="#e0683c" fill-opacity="0.8" stroke="#b84c2c" stroke-width="0.5" transform="rotate(15 795.3 485.1)"/><ellipse cx="799.2" cy="487.7" rx="3.7" ry="2.8" fill="#e0683c" fill-opacity="0.8" stroke="#b84c2c" stroke-width="0.5" transform="rotate(52 799.2 487.7)"/><ellipse cx="803.1" cy="490.4" rx="3.7" ry="2.8" fill="#e0683c" fill-opacity="0.8" stroke="#b84c2c" stroke-width="0.5" transform="rotate(89 803.1 490.4)"/><ellipse cx="807.1" cy="486.4" rx="3.7" ry="2.8" fill="#e0683c" fill-opacity="0.8" stroke="#b84c2c" stroke-width="0.5" transform="rotate(36 807.1 486.4)"/><ellipse cx="811" cy="489.1" rx="3.7" ry="2.8" fill="#e0683c" fill-opacity="0.8" stroke="#b84c2c" stroke-width="0.5" transform="rotate(73 811 489.1)"/><ellipse cx="814.9" cy="485.1" rx="3.7" ry="2.8" fill="#e0683c" fill-opacity="0.8" stroke="#b84c2c" stroke-width="0.5" transform="rotate(20 814.9 485.1)"/><ellipse cx="818.9" cy="487.7" rx="3.7" ry="2.8" fill="#e0683c" fill-opacity="0.8" stroke="#b84c2c" stroke-width="0.5" transform="rotate(57 818.9 487.7)"/><ellipse cx="822.8" cy="490.4" rx="3.7" ry="2.8" fill="#e0683c" fill-opacity="0.8" stroke="#b84c2c" stroke-width="0.5" transform="rotate(4 822.8 490.4)"/><ellipse cx="826.8" cy="486.4" rx="3.7" ry="2.8" fill="#e0683c" fill-opacity="0.8" stroke="#b84c2c" stroke-width="0.5" transform="rotate(41 826.8 486.4)"/><ellipse cx="830.7" cy="489.1" rx="3.7" ry="2.8" fill="#e0683c" fill-opacity="0.8" stroke="#b84c2c" stroke-width="0.5" transform="rotate(78 830.7 489.1)"/><ellipse cx="834.6" cy="485.1" rx="3.7" ry="2.8" fill="#e0683c" fill-opacity="0.8" stroke="#b84c2c" stroke-width="0.5" transform="rotate(25 834.6 485.1)"/><circle cx="731.6" cy="487.7" r="7.5" fill="url(#sAu)"/><circle cx="788.7" cy="487.7" r="7.5" fill="url(#sAu)"/><circle cx="817.8" cy="487.7" r="7.5" fill="url(#sAu)"/><circle cx="839.3" cy="487.7" r="6.7" fill="url(#sAu)"/><ellipse cx="725.9" cy="510.8" rx="4.5" ry="4.1" fill="#88dd8c" fill-opacity="0.88" stroke="#56b866" stroke-width="0.5"/><ellipse cx="727.1" cy="532.2" rx="4.5" ry="3.4" fill="#88dd8c" fill-opacity="0.88" stroke="#56b866" stroke-width="0.5"/><ellipse cx="734.7" cy="509.7" rx="4.5" ry="4.1" fill="#88dd8c" fill-opacity="0.88" stroke="#56b866" stroke-width="0.5"/><ellipse cx="735.9" cy="532.9" rx="4.5" ry="3.4" fill="#88dd8c" fill-opacity="0.88" stroke="#56b866" stroke-width="0.5"/><ellipse cx="743.5" cy="510.8" rx="4.5" ry="4.1" fill="#88dd8c" fill-opacity="0.88" stroke="#56b866" stroke-width="0.5"/><ellipse cx="744.7" cy="532.2" rx="4.5" ry="3.4" fill="#88dd8c" fill-opacity="0.88" stroke="#56b866" stroke-width="0.5"/><ellipse cx="752.4" cy="509.7" rx="4.5" ry="4.1" fill="#88dd8c" fill-opacity="0.88" stroke="#56b866" stroke-width="0.5"/><ellipse cx="753.5" cy="532.9" rx="4.5" ry="3.4" fill="#88dd8c" fill-opacity="0.88" stroke="#56b866" stroke-width="0.5"/><ellipse cx="761.2" cy="510.8" rx="4.5" ry="4.1" fill="#88dd8c" fill-opacity="0.88" stroke="#56b866" stroke-width="0.5"/><ellipse cx="762.3" cy="532.2" rx="4.5" ry="3.4" fill="#88dd8c" fill-opacity="0.88" stroke="#56b866" stroke-width="0.5"/><ellipse cx="770" cy="509.7" rx="4.5" ry="4.1" fill="#88dd8c" fill-opacity="0.88" stroke="#56b866" stroke-width="0.5"/><ellipse cx="771.1" cy="532.9" rx="4.5" ry="3.4" fill="#88dd8c" fill-opacity="0.88" stroke="#56b866" stroke-width="0.5"/><ellipse cx="778.8" cy="510.8" rx="4.5" ry="4.1" fill="#88dd8c" fill-opacity="0.88" stroke="#56b866" stroke-width="0.5"/><ellipse cx="779.9" cy="532.2" rx="4.5" ry="3.4" fill="#88dd8c" fill-opacity="0.88" stroke="#56b866" stroke-width="0.5"/><ellipse cx="787.6" cy="509.7" rx="4.5" ry="4.1" fill="#88dd8c" fill-opacity="0.88" stroke="#56b866" stroke-width="0.5"/><ellipse cx="788.7" cy="532.9" rx="4.5" ry="3.4" fill="#88dd8c" fill-opacity="0.88" stroke="#56b866" stroke-width="0.5"/><ellipse cx="796.4" cy="510.8" rx="4.5" ry="4.1" fill="#88dd8c" fill-opacity="0.88" stroke="#56b866" stroke-width="0.5"/><ellipse cx="797.5" cy="532.2" rx="4.5" ry="3.4" fill="#88dd8c" fill-opacity="0.88" stroke="#56b866" stroke-width="0.5"/><ellipse cx="805.2" cy="509.7" rx="4.5" ry="4.1" fill="#88dd8c" fill-opacity="0.88" stroke="#56b866" stroke-width="0.5"/><ellipse cx="806.3" cy="532.9" rx="4.5" ry="3.4" fill="#88dd8c" fill-opacity="0.88" stroke="#56b866" stroke-width="0.5"/><ellipse cx="814" cy="510.8" rx="4.5" ry="4.1" fill="#88dd8c" fill-opacity="0.88" stroke="#56b866" stroke-width="0.5"/><ellipse cx="815.1" cy="532.2" rx="4.5" ry="3.4" fill="#88dd8c" fill-opacity="0.88" stroke="#56b866" stroke-width="0.5"/><ellipse cx="822.8" cy="509.7" rx="4.5" ry="4.1" fill="#88dd8c" fill-opacity="0.88" stroke="#56b866" stroke-width="0.5"/><ellipse cx="823.9" cy="532.9" rx="4.5" ry="3.4" fill="#88dd8c" fill-opacity="0.88" stroke="#56b866" stroke-width="0.5"/><ellipse cx="831.6" cy="510.8" rx="4.5" ry="4.1" fill="#88dd8c" fill-opacity="0.88" stroke="#56b866" stroke-width="0.5"/><ellipse cx="832.8" cy="532.2" rx="4.5" ry="3.4" fill="#88dd8c" fill-opacity="0.88" stroke="#56b866" stroke-width="0.5"/><ellipse cx="840.4" cy="509.7" rx="4.5" ry="4.1" fill="#88dd8c" fill-opacity="0.88" stroke="#56b866" stroke-width="0.5"/><ellipse cx="841.6" cy="532.9" rx="4.5" ry="3.4" fill="#88dd8c" fill-opacity="0.88" stroke="#56b866" stroke-width="0.5"/><rect x="724.1" y="513.4" width="114.9" height="16.9" fill="#88dd8c" fill-opacity="0.8"/><rect x="724.1" y="515.3" width="114.9" height="13.1" fill="#d89a20" fill-opacity="1"/><circle cx="721.2" cy="522" r="7.1" fill="url(#sAu)"/><circle cx="736.2" cy="522" r="7.1" fill="url(#sAu)"/><circle cx="765.3" cy="522" r="7.1" fill="url(#sAu)"/><circle cx="793.4" cy="522" r="7.1" fill="url(#sAu)"/><circle cx="822.4" cy="522" r="7.1" fill="url(#sAu)"/><circle cx="726.9" cy="522" r="7.5" fill="url(#sAu)"/><circle cx="754" cy="522" r="7.5" fill="url(#sAu)"/><circle cx="782.2" cy="522" r="7.5" fill="url(#sAu)"/><circle cx="811.2" cy="522" r="7.5" fill="url(#sAu)"/><circle cx="837.4" cy="522" r="7.5" fill="url(#sAu)"/><ellipse cx="744.7" cy="522" rx="2.6" ry="0.9" fill="#e07070" fill-opacity="0.9"/><ellipse cx="773.7" cy="522" rx="2.6" ry="0.9" fill="#e07070" fill-opacity="0.9"/><ellipse cx="801.8" cy="522" rx="2.6" ry="0.9" fill="#e07070" fill-opacity="0.9"/><ellipse cx="829.9" cy="522" rx="2.6" ry="0.9" fill="#e07070" fill-opacity="0.9"/></g>
<clipPath id="cqf"><rect x="855.3" y="406.2" width="118.6" height="128.4"/></clipPath><g clip-path="url(#cqf)"><ellipse cx="870" cy="414" rx="4" ry="4" fill="#dc8080" fill-opacity="0.92" stroke="#b86060" stroke-width="0.5"/><ellipse cx="874" cy="427" rx="5.5" ry="5.5" fill="#dc8080" fill-opacity="0.92" stroke="#b86060" stroke-width="0.5"/><ellipse cx="873" cy="438" rx="6" ry="6" fill="#dc8080" fill-opacity="0.92" stroke="#b86060" stroke-width="0.5"/><ellipse cx="884" cy="428" rx="6.5" ry="6.5" fill="#dc8080" fill-opacity="0.92" stroke="#b86060" stroke-width="0.5"/><ellipse cx="857" cy="436" rx="6" ry="6" fill="#dc8080" fill-opacity="0.92" stroke="#b86060" stroke-width="0.5"/><ellipse cx="907" cy="414" rx="5" ry="5" fill="#dc8080" fill-opacity="0.92" stroke="#b86060" stroke-width="0.5"/><ellipse cx="894" cy="438" rx="6.5" ry="6.5" fill="#dc8080" fill-opacity="0.92" stroke="#b86060" stroke-width="0.5"/><ellipse cx="912" cy="434" rx="5.5" ry="5.5" fill="#dc8080" fill-opacity="0.92" stroke="#b86060" stroke-width="0.5"/><ellipse cx="900" cy="428" rx="5" ry="5" fill="#dc8080" fill-opacity="0.92" stroke="#b86060" stroke-width="0.5"/><ellipse cx="945" cy="411" rx="5" ry="5" fill="#dc8080" fill-opacity="0.92" stroke="#b86060" stroke-width="0.5"/><ellipse cx="953" cy="412" rx="5" ry="5" fill="#dc8080" fill-opacity="0.92" stroke="#b86060" stroke-width="0.5"/><ellipse cx="938" cy="425" rx="5.5" ry="5.5" fill="#dc8080" fill-opacity="0.92" stroke="#b86060" stroke-width="0.5"/><ellipse cx="950" cy="437" rx="5.5" ry="5.5" fill="#dc8080" fill-opacity="0.92" stroke="#b86060" stroke-width="0.5"/><ellipse cx="965" cy="437" rx="7.5" ry="7.5" fill="#dc8080" fill-opacity="0.92" stroke="#b86060" stroke-width="0.5"/><ellipse cx="975" cy="440" rx="6" ry="6" fill="#dc8080" fill-opacity="0.92" stroke="#b86060" stroke-width="0.5"/><ellipse cx="921" cy="439" rx="8" ry="8" fill="#dc8080" fill-opacity="0.92" stroke="#b86060" stroke-width="0.5"/><ellipse cx="931" cy="436" rx="7.5" ry="7.5" fill="#dc8080" fill-opacity="0.92" stroke="#b86060" stroke-width="0.5"/><ellipse cx="925" cy="456" rx="7" ry="16" fill="#dc8080" fill-opacity="0.92" stroke="#b86060" stroke-width="0.5" transform="rotate(-8 925 456)"/><ellipse cx="853" cy="447" rx="8.5" ry="5.6" fill="#88dd8c" fill-opacity="0.88" stroke="#56b866" stroke-width="0.5"/><ellipse cx="865" cy="445" rx="8.5" ry="5.6" fill="#88dd8c" fill-opacity="0.88" stroke="#56b866" stroke-width="0.5"/><ellipse cx="876" cy="442" rx="8.5" ry="5.6" fill="#88dd8c" fill-opacity="0.88" stroke="#56b866" stroke-width="0.5"/><ellipse cx="885" cy="437" rx="8.5" ry="5.6" fill="#88dd8c" fill-opacity="0.88" stroke="#56b866" stroke-width="0.5"/><ellipse cx="893" cy="446" rx="8.5" ry="5.6" fill="#88dd8c" fill-opacity="0.88" stroke="#56b866" stroke-width="0.5"/><ellipse cx="905" cy="447" rx="8.5" ry="5.6" fill="#88dd8c" fill-opacity="0.88" stroke="#56b866" stroke-width="0.5"/><ellipse cx="915" cy="443" rx="8.5" ry="5.6" fill="#88dd8c" fill-opacity="0.88" stroke="#56b866" stroke-width="0.5"/><ellipse cx="925" cy="434" rx="8.5" ry="5.6" fill="#88dd8c" fill-opacity="0.88" stroke="#56b866" stroke-width="0.5"/><ellipse cx="935" cy="445" rx="8.5" ry="5.6" fill="#88dd8c" fill-opacity="0.88" stroke="#56b866" stroke-width="0.5"/><ellipse cx="950" cy="447" rx="8.5" ry="5.6" fill="#88dd8c" fill-opacity="0.88" stroke="#56b866" stroke-width="0.5"/><ellipse cx="960" cy="438" rx="8.5" ry="5.6" fill="#88dd8c" fill-opacity="0.88" stroke="#56b866" stroke-width="0.5"/><ellipse cx="970" cy="444" rx="8.5" ry="5.6" fill="#88dd8c" fill-opacity="0.88" stroke="#56b866" stroke-width="0.5"/><ellipse cx="980" cy="446" rx="8.5" ry="5.6" fill="#88dd8c" fill-opacity="0.88" stroke="#56b866" stroke-width="0.5"/><ellipse cx="884" cy="432" rx="3" ry="9" fill="#88dd8c" fill-opacity="0.88" stroke="#56b866" stroke-width="0.5"/><ellipse cx="924" cy="428" rx="3.5" ry="8" fill="#88dd8c" fill-opacity="0.88" stroke="#56b866" stroke-width="0.5" transform="rotate(-25 924 428)"/><ellipse cx="958" cy="432" rx="5" ry="9" fill="#88dd8c" fill-opacity="0.88" stroke="#56b866" stroke-width="0.5"/><ellipse cx="873" cy="420" rx="6.5" ry="5.5" fill="#88dd8c" fill-opacity="0.88" stroke="#56b866" stroke-width="0.5"/><ellipse cx="907" cy="421" rx="6.5" ry="5.5" fill="#88dd8c" fill-opacity="0.88" stroke="#56b866" stroke-width="0.5"/><ellipse cx="948" cy="417" rx="9.5" ry="7" fill="#88dd8c" fill-opacity="0.88" stroke="#56b866" stroke-width="0.5"/><ellipse cx="857" cy="462" rx="6" ry="6" fill="#dc8080" fill-opacity="0.92" stroke="#b86060" stroke-width="0.5"/><ellipse cx="862" cy="468" rx="5" ry="5" fill="#dc8080" fill-opacity="0.92" stroke="#b86060" stroke-width="0.5"/><ellipse cx="866" cy="456" rx="4.5" ry="4.5" fill="#dc8080" fill-opacity="0.92" stroke="#b86060" stroke-width="0.5"/><ellipse cx="853" cy="466" rx="5" ry="5" fill="#dc8080" fill-opacity="0.92" stroke="#b86060" stroke-width="0.5"/><ellipse cx="882" cy="451" rx="5" ry="5" fill="#dc8080" fill-opacity="0.92" stroke="#b86060" stroke-width="0.5"/><ellipse cx="889" cy="457" rx="6" ry="6" fill="#dc8080" fill-opacity="0.92" stroke="#b86060" stroke-width="0.5"/><ellipse cx="893" cy="467.5" rx="5.6" ry="5.6" fill="#dc8080" fill-opacity="0.92" stroke="#b86060" stroke-width="0.5"/><ellipse cx="903" cy="467.5" rx="5.6" ry="5.6" fill="#dc8080" fill-opacity="0.92" stroke="#b86060" stroke-width="0.5"/><ellipse cx="906" cy="455" rx="5.5" ry="5.5" fill="#dc8080" fill-opacity="0.92" stroke="#b86060" stroke-width="0.5"/><ellipse cx="928" cy="468" rx="5.6" ry="5.6" fill="#dc8080" fill-opacity="0.92" stroke="#b86060" stroke-width="0.5"/><ellipse cx="940" cy="467.5" rx="5.6" ry="5.6" fill="#dc8080" fill-opacity="0.92" stroke="#b86060" stroke-width="0.5"/><ellipse cx="941" cy="456" rx="5.5" ry="5.5" fill="#dc8080" fill-opacity="0.92" stroke="#b86060" stroke-width="0.5"/><ellipse cx="918" cy="465" rx="5" ry="5" fill="#dc8080" fill-opacity="0.92" stroke="#b86060" stroke-width="0.5"/><ellipse cx="962" cy="454" rx="5" ry="5" fill="#dc8080" fill-opacity="0.92" stroke="#b86060" stroke-width="0.5"/><ellipse cx="968" cy="466.5" rx="6" ry="6" fill="#dc8080" fill-opacity="0.92" stroke="#b86060" stroke-width="0.5"/><ellipse cx="976" cy="460" rx="6" ry="6" fill="#dc8080" fill-opacity="0.92" stroke="#b86060" stroke-width="0.5"/><ellipse cx="972" cy="469" rx="4.5" ry="4.5" fill="#dc8080" fill-opacity="0.92" stroke="#b86060" stroke-width="0.5"/><ellipse cx="952" cy="425" rx="7" ry="8.5" fill="#dc8080" fill-opacity="0.92" stroke="#b86060" stroke-width="0.5"/><ellipse cx="952" cy="424" rx="4" ry="6" fill="#88dd8c" fill-opacity="0.45" stroke="#56b866" stroke-width="0.5"/><ellipse cx="930" cy="437" rx="8" ry="6" fill="#dc8080" fill-opacity="0.92" stroke="#b86060" stroke-width="0.5" transform="rotate(-15 930 437)"/><ellipse cx="927" cy="436" rx="3.2" ry="2.4" fill="#f4e4e0" fill-opacity="0.85" transform="rotate(-20 927 436)"/><ellipse cx="857" cy="462" rx="5.5" ry="7" fill="#88dd8c" fill-opacity="0.75" stroke="#56b866" stroke-width="0.5"/><ellipse cx="898" cy="462" rx="10" ry="6" fill="#88dd8c" fill-opacity="0.85" stroke="#56b866" stroke-width="0.5"/><ellipse cx="935" cy="464" rx="8.5" ry="6" fill="#88dd8c" fill-opacity="0.85" stroke="#56b866" stroke-width="0.5"/><ellipse cx="971" cy="456" rx="6" ry="8" fill="#88dd8c" fill-opacity="0.8" stroke="#56b866" stroke-width="0.5"/><path d="M853 430.5L870.6 420.6" stroke="#2fd42f" stroke-width="1.8" stroke-linecap="round"/><path d="M893 432L912 421" stroke="#2fd42f" stroke-width="1.8" stroke-linecap="round"/><path d="M912 421L936 454" stroke="#2fd42f" stroke-width="1.8" stroke-linecap="round"/><path d="M934 431L948 420" stroke="#2fd42f" stroke-width="1.6" stroke-linecap="round"/><path d="M970 431L982 426" stroke="#2fd42f" stroke-width="1.6" stroke-linecap="round"/><path d="M970 460L982 452" stroke="#2fd42f" stroke-width="1.8" stroke-linecap="round"/><path d="M858 455L878 446" stroke="#c8f0c8" stroke-width="0.9" stroke-linecap="round"/><path d="M896 455L912 446" stroke="#c8f0c8" stroke-width="0.9" stroke-linecap="round"/><path d="M936 454L955 444" stroke="#c8f0c8" stroke-width="0.9" stroke-linecap="round"/><circle cx="870.6" cy="420.6" r="5" fill="url(#sClb)"/><circle cx="912.5" cy="421" r="5.1" fill="url(#sClb)"/><circle cx="858" cy="455" r="5" fill="url(#sClb)"/><circle cx="936" cy="454" r="5.2" fill="url(#sClb)"/><circle cx="896" cy="455" r="2.6" fill="url(#sClb)"/><circle cx="975" cy="457" r="3.6" fill="url(#sClb)"/><ellipse cx="875" cy="425" rx="4.5" ry="6" fill="#dc8080" fill-opacity="0.55" stroke="#b86060" stroke-width="0.5" transform="rotate(20 875 425)"/><ellipse cx="861" cy="460" rx="4" ry="5" fill="#dc8080" fill-opacity="0.5" stroke="#b86060" stroke-width="0.5"/><ellipse cx="940" cy="458" rx="4" ry="5" fill="#dc8080" fill-opacity="0.5" stroke="#b86060" stroke-width="0.5"/><ellipse cx="860" cy="479.3" rx="6.7" ry="3.6" fill="#7cd486" fill-opacity="0.92" stroke="#50b060" stroke-width="0.5"/><ellipse cx="869.4" cy="479.9" rx="6.7" ry="3.9" fill="#7cd486" fill-opacity="0.92" stroke="#50b060" stroke-width="0.5"/><ellipse cx="878.7" cy="479.3" rx="6.7" ry="4.3" fill="#7cd486" fill-opacity="0.92" stroke="#50b060" stroke-width="0.5"/><ellipse cx="888.1" cy="479.9" rx="6.7" ry="3.6" fill="#7cd486" fill-opacity="0.92" stroke="#50b060" stroke-width="0.5"/><ellipse cx="897.5" cy="479.3" rx="6.7" ry="3.9" fill="#7cd486" fill-opacity="0.92" stroke="#50b060" stroke-width="0.5"/><ellipse cx="906.8" cy="479.9" rx="6.7" ry="4.3" fill="#7cd486" fill-opacity="0.92" stroke="#50b060" stroke-width="0.5"/><ellipse cx="916.2" cy="479.3" rx="6.7" ry="3.6" fill="#7cd486" fill-opacity="0.92" stroke="#50b060" stroke-width="0.5"/><ellipse cx="925.6" cy="479.9" rx="6.7" ry="3.9" fill="#7cd486" fill-opacity="0.92" stroke="#50b060" stroke-width="0.5"/><ellipse cx="935" cy="479.3" rx="6.7" ry="4.3" fill="#7cd486" fill-opacity="0.92" stroke="#50b060" stroke-width="0.5"/><ellipse cx="944.3" cy="479.9" rx="6.7" ry="3.6" fill="#7cd486" fill-opacity="0.92" stroke="#50b060" stroke-width="0.5"/><ellipse cx="953.7" cy="479.3" rx="6.7" ry="3.9" fill="#7cd486" fill-opacity="0.92" stroke="#50b060" stroke-width="0.5"/><ellipse cx="963.1" cy="479.9" rx="6.7" ry="4.3" fill="#7cd486" fill-opacity="0.92" stroke="#50b060" stroke-width="0.5"/><ellipse cx="972.4" cy="479.3" rx="6.7" ry="3.6" fill="#7cd486" fill-opacity="0.92" stroke="#50b060" stroke-width="0.5"/><rect x="855.3" y="484" width="118.6" height="14.4" fill="#dc9c24" fill-opacity="1"/><circle cx="860" cy="492.4" r="6.7" fill="url(#sAu)"/><circle cx="882.5" cy="492.4" r="6.7" fill="url(#sAu)"/><circle cx="906.8" cy="492.4" r="6.7" fill="url(#sAu)"/><circle cx="917.2" cy="492.4" r="6.7" fill="url(#sAu)"/><circle cx="942.5" cy="492.4" r="6.7" fill="url(#sAu)"/><circle cx="963.1" cy="492.4" r="6.7" fill="url(#sAu)"/><circle cx="871.2" cy="492.1" r="5.6" fill="url(#sAu)"/><circle cx="894.7" cy="492.1" r="5.6" fill="url(#sAu)"/><circle cx="930.3" cy="492.1" r="5.6" fill="url(#sAu)"/><circle cx="952.8" cy="492.1" r="5.6" fill="url(#sAu)"/><circle cx="972.4" cy="492.1" r="5.6" fill="url(#sAu)"/><ellipse cx="858.1" cy="487.7" rx="3.7" ry="2.6" fill="#d87868" fill-opacity="0.85" stroke="#b85a4a" stroke-width="0.5"/><ellipse cx="865.6" cy="490" rx="3.7" ry="2.6" fill="#d87868" fill-opacity="0.85" stroke="#b85a4a" stroke-width="0.5" transform="rotate(53 865.6 490)"/><ellipse cx="873.1" cy="492.2" rx="3.7" ry="2.6" fill="#d87868" fill-opacity="0.85" stroke="#b85a4a" stroke-width="0.5" transform="rotate(16 873.1 492.2)"/><ellipse cx="880.6" cy="487.7" rx="3.7" ry="2.6" fill="#d87868" fill-opacity="0.85" stroke="#b85a4a" stroke-width="0.5" transform="rotate(69 880.6 487.7)"/><ellipse cx="888.1" cy="490" rx="3.7" ry="2.6" fill="#d87868" fill-opacity="0.85" stroke="#b85a4a" stroke-width="0.5" transform="rotate(32 888.1 490)"/><ellipse cx="895.6" cy="492.2" rx="3.7" ry="2.6" fill="#d87868" fill-opacity="0.85" stroke="#b85a4a" stroke-width="0.5" transform="rotate(85 895.6 492.2)"/><ellipse cx="903.1" cy="487.7" rx="3.7" ry="2.6" fill="#d87868" fill-opacity="0.85" stroke="#b85a4a" stroke-width="0.5" transform="rotate(48 903.1 487.7)"/><ellipse cx="910.6" cy="490" rx="3.7" ry="2.6" fill="#d87868" fill-opacity="0.85" stroke="#b85a4a" stroke-width="0.5" transform="rotate(11 910.6 490)"/><ellipse cx="918.1" cy="492.2" rx="3.7" ry="2.6" fill="#d87868" fill-opacity="0.85" stroke="#b85a4a" stroke-width="0.5" transform="rotate(64 918.1 492.2)"/><ellipse cx="925.6" cy="487.7" rx="3.7" ry="2.6" fill="#d87868" fill-opacity="0.85" stroke="#b85a4a" stroke-width="0.5" transform="rotate(27 925.6 487.7)"/><ellipse cx="933.1" cy="490" rx="3.7" ry="2.6" fill="#d87868" fill-opacity="0.85" stroke="#b85a4a" stroke-width="0.5" transform="rotate(80 933.1 490)"/><ellipse cx="940.6" cy="492.2" rx="3.7" ry="2.6" fill="#d87868" fill-opacity="0.85" stroke="#b85a4a" stroke-width="0.5" transform="rotate(43 940.6 492.2)"/><ellipse cx="948.1" cy="487.7" rx="3.7" ry="2.6" fill="#d87868" fill-opacity="0.85" stroke="#b85a4a" stroke-width="0.5" transform="rotate(6 948.1 487.7)"/><ellipse cx="955.6" cy="490" rx="3.7" ry="2.6" fill="#d87868" fill-opacity="0.85" stroke="#b85a4a" stroke-width="0.5" transform="rotate(59 955.6 490)"/><ellipse cx="963.1" cy="492.2" rx="3.7" ry="2.6" fill="#d87868" fill-opacity="0.85" stroke="#b85a4a" stroke-width="0.5" transform="rotate(22 963.1 492.2)"/><ellipse cx="970.6" cy="487.7" rx="3.7" ry="2.6" fill="#d87868" fill-opacity="0.85" stroke="#b85a4a" stroke-width="0.5" transform="rotate(75 970.6 487.7)"/><ellipse cx="857.2" cy="500.5" rx="2.6" ry="2.1" fill="#88dd8c" fill-opacity="0.88" stroke="#56b866" stroke-width="0.5"/><ellipse cx="864.9" cy="500.5" rx="2.6" ry="2.1" fill="#88dd8c" fill-opacity="0.88" stroke="#56b866" stroke-width="0.5"/><ellipse cx="872.5" cy="500.5" rx="2.6" ry="2.1" fill="#88dd8c" fill-opacity="0.88" stroke="#56b866" stroke-width="0.5"/><ellipse cx="880.2" cy="500.5" rx="2.6" ry="2.1" fill="#88dd8c" fill-opacity="0.88" stroke="#56b866" stroke-width="0.5"/><ellipse cx="887.9" cy="500.5" rx="2.6" ry="2.1" fill="#88dd8c" fill-opacity="0.88" stroke="#56b866" stroke-width="0.5"/><ellipse cx="895.6" cy="500.5" rx="2.6" ry="2.1" fill="#88dd8c" fill-opacity="0.88" stroke="#56b866" stroke-width="0.5"/><ellipse cx="903.3" cy="500.5" rx="2.6" ry="2.1" fill="#88dd8c" fill-opacity="0.88" stroke="#56b866" stroke-width="0.5"/><ellipse cx="911" cy="500.5" rx="2.6" ry="2.1" fill="#88dd8c" fill-opacity="0.88" stroke="#56b866" stroke-width="0.5"/><ellipse cx="918.7" cy="500.5" rx="2.6" ry="2.1" fill="#88dd8c" fill-opacity="0.88" stroke="#56b866" stroke-width="0.5"/><ellipse cx="926.3" cy="500.5" rx="2.6" ry="2.1" fill="#88dd8c" fill-opacity="0.88" stroke="#56b866" stroke-width="0.5"/><ellipse cx="934" cy="500.5" rx="2.6" ry="2.1" fill="#88dd8c" fill-opacity="0.88" stroke="#56b866" stroke-width="0.5"/><ellipse cx="941.7" cy="500.5" rx="2.6" ry="2.1" fill="#88dd8c" fill-opacity="0.88" stroke="#56b866" stroke-width="0.5"/><ellipse cx="949.4" cy="500.5" rx="2.6" ry="2.1" fill="#88dd8c" fill-opacity="0.88" stroke="#56b866" stroke-width="0.5"/><ellipse cx="957.1" cy="500.5" rx="2.6" ry="2.1" fill="#88dd8c" fill-opacity="0.88" stroke="#56b866" stroke-width="0.5"/><ellipse cx="964.8" cy="500.5" rx="2.6" ry="2.1" fill="#88dd8c" fill-opacity="0.88" stroke="#56b866" stroke-width="0.5"/><ellipse cx="972.4" cy="500.5" rx="2.6" ry="2.1" fill="#88dd8c" fill-opacity="0.88" stroke="#56b866" stroke-width="0.5"/><rect x="855.3" y="515.9" width="118.6" height="12.2" fill="#d89a20" fill-opacity="1"/><circle cx="871.2" cy="522" r="6.7" fill="url(#sAu)"/><circle cx="897.5" cy="522" r="6.7" fill="url(#sAu)"/><circle cx="933.1" cy="522" r="6.7" fill="url(#sAu)"/><circle cx="959.3" cy="522" r="6.7" fill="url(#sAu)"/><circle cx="860" cy="522" r="7.1" fill="url(#sAu)"/><circle cx="887.2" cy="522" r="7.1" fill="url(#sAu)"/><circle cx="906.8" cy="522" r="7.1" fill="url(#sAu)"/><circle cx="923.7" cy="522" r="7.1" fill="url(#sAu)"/><circle cx="949" cy="522" r="7.1" fill="url(#sAu)"/><circle cx="968.7" cy="522" r="7.1" fill="url(#sAu)"/><ellipse cx="878.7" cy="513.4" rx="1.7" ry="1.7" fill="#88dd8c" fill-opacity="0.88" stroke="#56b866" stroke-width="0.5"/><ellipse cx="878.7" cy="531" rx="1.7" ry="1.7" fill="#88dd8c" fill-opacity="0.88" stroke="#56b866" stroke-width="0.5"/><ellipse cx="905.9" cy="513.4" rx="1.7" ry="1.7" fill="#88dd8c" fill-opacity="0.88" stroke="#56b866" stroke-width="0.5"/><ellipse cx="905.9" cy="531" rx="1.7" ry="1.7" fill="#88dd8c" fill-opacity="0.88" stroke="#56b866" stroke-width="0.5"/><ellipse cx="914.3" cy="513.4" rx="1.7" ry="1.7" fill="#88dd8c" fill-opacity="0.88" stroke="#56b866" stroke-width="0.5"/><ellipse cx="914.3" cy="531" rx="1.7" ry="1.7" fill="#88dd8c" fill-opacity="0.88" stroke="#56b866" stroke-width="0.5"/><ellipse cx="931.2" cy="513.4" rx="1.7" ry="1.7" fill="#88dd8c" fill-opacity="0.88" stroke="#56b866" stroke-width="0.5"/><ellipse cx="931.2" cy="531" rx="1.7" ry="1.7" fill="#88dd8c" fill-opacity="0.88" stroke="#56b866" stroke-width="0.5"/><ellipse cx="939.6" cy="513.4" rx="1.7" ry="1.7" fill="#88dd8c" fill-opacity="0.88" stroke="#56b866" stroke-width="0.5"/><ellipse cx="939.6" cy="531" rx="1.7" ry="1.7" fill="#88dd8c" fill-opacity="0.88" stroke="#56b866" stroke-width="0.5"/><ellipse cx="948.1" cy="513.4" rx="1.7" ry="1.7" fill="#88dd8c" fill-opacity="0.88" stroke="#56b866" stroke-width="0.5"/><ellipse cx="948.1" cy="531" rx="1.7" ry="1.7" fill="#88dd8c" fill-opacity="0.88" stroke="#56b866" stroke-width="0.5"/></g>
<text x="445" y="371" font-size="16" fill="#000">(c)</text>
<text x="583" y="371" font-size="16" fill="#000">(d)</text>
<text x="720.5" y="371" font-size="16" fill="#000">(e)</text>
<text x="858" y="371" font-size="16" fill="#000">(f)</text>
<text x="472.8" y="390.3" font-size="15.4" fill="#111" textLength="67.5" lengthAdjust="spacingAndGlyphs">Graphene</text>
<text x="618.2" y="390.3" font-size="15.4" fill="#111" textLength="51.5" lengthAdjust="spacingAndGlyphs">Black P</text>
<text x="767" y="390.3" font-size="15.4" fill="#111" textLength="36.5" lengthAdjust="spacingAndGlyphs">MoS<tspan font-size='10.5' dy='3.5'>2</tspan></text>
<text x="902" y="390.3" font-size="15.4" fill="#111" textLength="39.5" lengthAdjust="spacingAndGlyphs">RuCl<tspan font-size='10.5' dy='3.5'>3</tspan></text><defs>
<linearGradient id="gb" x1="0" x2="1" y1="0" y2="0"><stop offset="0" stop-color="#4c66ff"/><stop offset="0.12" stop-color="#5a74ff"/><stop offset="0.62" stop-color="#8fadff"/><stop offset="0.85" stop-color="#86a4ff"/><stop offset="1" stop-color="#7896ff"/></linearGradient>
<linearGradient id="gp" x1="0" x2="1" y1="0" y2="0"><stop offset="0" stop-color="#ff7474"/><stop offset="0.12" stop-color="#ff8080"/><stop offset="0.62" stop-color="#ffc2c2"/><stop offset="0.85" stop-color="#ffb6b6"/><stop offset="1" stop-color="#ffa4a4"/></linearGradient>
</defs>
<path d="M479.4 786.1L587 692.6M490.7 789.5L597.2 695.1M502.2 792.9L607.5 697.6M513.8 796.4L617.9 700.1M525.5 799.9L628.4 702.7M537.3 803.5L639 705.3M549.3 807.1L649.7 707.9M561.4 810.7L660.5 710.5M573.7 814.4L671.4 713.2M586 818.1L682.4 715.9M598.6 821.9L693.5 718.6M611.2 825.6L704.7 721.3M624 829.5L716 724.1M637 833.4L727.5 726.9M650.1 837.3L739 729.7M663.3 841.3L750.7 732.5M676.7 845.3L762.4 735.4M690.3 849.4L774.3 738.3M704 853.5L786.3 741.2M717.8 857.6L798.4 744.2M731.9 861.9L810.7 747.2M746.1 866.1L823 750.2M760.5 870.4L835.5 753.2M775 874.8L848.1 756.3M789.7 879.2L860.9 759.4M804.6 883.7L873.7 762.5M819.7 888.2L886.8 765.7M835 892.8L899.9 768.9M850.5 897.4L913.2 772.2M866.1 902.1L926.6 775.4M479.4 779.5L877.2 897.6M490.5 769.9L883.5 884.2M501.3 760.6L889.5 871.3M511.8 751.6L895.3 858.8M522 742.8L900.9 846.8M531.9 734.3L906.3 835.1M541.6 726L911.6 823.8M551 718L916.7 812.8M560.1 710.1L921.6 802.2M569 702.5L926.4 791.9M577.6 695L931.1 782M587 692.6L576.8 568.1M597.2 695.1L587.7 570.2M607.5 697.6L598.8 572.3M617.9 700.1L610 574.4M628.4 702.7L621.3 576.6M639 705.3L632.7 578.7M649.7 707.9L644.3 580.9M660.5 710.5L655.9 583.1M671.4 713.2L667.7 585.3M682.4 715.9L679.6 587.6M693.5 718.6L691.6 589.9M704.7 721.3L703.7 592.2M716 724.1L716 594.5M727.5 726.9L728.4 596.8M739 729.7L740.9 599.2M750.7 732.5L753.6 601.6M762.4 735.4L766.4 604M774.3 738.3L779.3 606.5M786.3 741.2L792.4 608.9M798.4 744.2L805.6 611.4M810.7 747.2L818.9 613.9M823 750.2L832.4 616.5M835.5 753.2L846 619.1M848.1 756.3L859.8 621.7M860.9 759.4L873.8 624.3M873.7 762.5L887.9 627M886.8 765.7L902.1 629.7M899.9 768.9L916.6 632.4M913.2 772.2L931.1 635.2M926.6 775.4L945.9 638M580.6 675.9L935.8 760.1M470.9 767.3L580.6 675.9M579.2 660L938.3 742.7M468.1 749.9L579.2 660M577.9 643.9L940.9 724.9M465.2 732.1L577.9 643.9M576.5 627.4L943.6 706.7M462.2 713.8L576.5 627.4M575 610.6L946.3 688M459.2 695.1L575 610.6M573.6 593.5L949 668.9M456 675.9L573.6 593.5M572.1 576L951.9 649.3M452.8 656.3L572.1 576M479.4 779.5L457.6 642.1M490.5 769.9L470.1 633.8M501.3 760.6L482.2 625.9M511.8 751.6L493.9 618.1M522 742.8L505.2 610.7M531.9 734.3L516.3 603.4M541.6 726L526.9 596.4M551 718L537.3 589.5M560.1 710.1L547.4 582.9M569 702.5L557.2 576.4M577.6 695L566.7 570.2" stroke="#cdcdcd" stroke-width="0.7" fill="none"/>
<path d="M473.7 784.4L581.9 691.4M581.9 691.4L933.3 777.1M473.7 784.4L451.2 646.3M581.9 691.4L571.3 567.1M451.2 646.3L571.3 567.1M571.3 567.1L953.3 639.4" stroke="#3a3a3a" stroke-width="0.9" fill="none"/>
<path d="M542.6 735.5A6 2.5 0 0 0 554.6 735.5L549.1 683.8A6.2 2.6 0 0 1 536.7 683.8Z" fill="url(#gb)"/>
<path d="M536.7 683.8A6.2 2.6 0 0 0 549.1 683.8L543.3 628.5L530.5 628.5Z" fill="url(#gp)"/>
<ellipse cx="536.9" cy="628.5" rx="6.4" ry="2.7" fill="#ff7b7b"/>
<path d="M586.1 736.2A6.1 2.6 0 0 0 598.4 736.2L594.6 686.2A6.3 2.7 0 0 1 581.9 686.2Z" fill="url(#gb)"/>
<path d="M581.9 686.2A6.3 2.7 0 0 0 594.6 686.2L588.9 612.6L575.7 612.6Z" fill="url(#gp)"/>
<ellipse cx="582.3" cy="612.6" rx="6.6" ry="2.8" fill="#ff7b7b"/>
<path d="M554.7 738.7A6.1 2.5 0 0 0 566.9 738.7L558.7 655.4A6.4 2.7 0 0 1 546 655.4Z" fill="url(#gb)"/>
<path d="M546 655.4A6.4 2.7 0 0 0 558.7 655.4L555.4 621.5L542.4 621.5Z" fill="url(#gp)"/>
<ellipse cx="548.9" cy="621.5" rx="6.5" ry="2.7" fill="#ff7b7b"/>
<path d="M522.2 741.1A6 2.5 0 0 0 534.2 741.1L529.4 701.2A6.1 2.6 0 0 1 517.1 701.2Z" fill="url(#gb)"/>
<path d="M517.1 701.2A6.1 2.6 0 0 0 529.4 701.2L525.9 672.3L513.5 672.3Z" fill="url(#gp)"/>
<ellipse cx="519.7" cy="672.3" rx="6.2" ry="2.6" fill="#ff7b7b"/>
<path d="M534.3 744.4A6.1 2.5 0 0 0 546.4 744.4L541.7 702.3A6.2 2.6 0 0 1 529.3 702.3Z" fill="url(#gb)"/>
<path d="M529.3 702.3A6.2 2.6 0 0 0 541.7 702.3L535.9 650L523.1 650Z" fill="url(#gp)"/>
<ellipse cx="529.5" cy="650" rx="6.4" ry="2.7" fill="#ff7b7b"/>
<path d="M554.7 750A6.2 2.6 0 0 0 567.1 750L563.8 716.6A6.3 2.6 0 0 1 551.2 716.6Z" fill="url(#gb)"/>
<path d="M551.2 716.6A6.3 2.6 0 0 0 563.8 716.6L561 688.5L548.2 688.5Z" fill="url(#gp)"/>
<ellipse cx="554.6" cy="688.5" rx="6.4" ry="2.7" fill="#ff7b7b"/>
<path d="M524.2 753.2A6.1 2.6 0 0 0 536.4 753.2L531.6 713A6.3 2.6 0 0 1 519.1 713Z" fill="url(#gb)"/>
<path d="M519.1 713A6.3 2.6 0 0 0 531.6 713L527.9 681.5L515.1 681.5Z" fill="url(#gp)"/>
<ellipse cx="521.5" cy="681.5" rx="6.4" ry="2.7" fill="#ff7b7b"/>
<path d="M609.5 753.5A6.4 2.7 0 0 0 622.3 753.5L620.6 726.2A6.5 2.7 0 0 1 607.6 726.2Z" fill="url(#gb)"/>
<path d="M607.6 726.2A6.5 2.7 0 0 0 620.6 726.2L619.4 706.9L606.2 706.9Z" fill="url(#gp)"/>
<ellipse cx="612.8" cy="706.9" rx="6.6" ry="2.8" fill="#ff7b7b"/>
<path d="M621.6 756.7A6.4 2.7 0 0 0 634.5 756.7L631.9 709.2A6.6 2.8 0 0 1 618.6 709.2Z" fill="url(#gb)"/>
<path d="M618.6 709.2A6.6 2.8 0 0 0 631.9 709.2L629.1 658.5L615.5 658.5Z" fill="url(#gp)"/>
<ellipse cx="622.3" cy="658.5" rx="6.8" ry="2.9" fill="#ff7b7b"/>
<path d="M545.2 759.1A6.2 2.6 0 0 0 557.7 759.1L554.4 727.7A6.4 2.7 0 0 1 541.6 727.7Z" fill="url(#gb)"/>
<path d="M541.6 727.7A6.4 2.7 0 0 0 554.4 727.7L552.2 707.4L539.4 707.4Z" fill="url(#gp)"/>
<ellipse cx="545.8" cy="707.4" rx="6.4" ry="2.7" fill="#ff7b7b"/>
<path d="M633.2 759.9A6.5 2.7 0 0 0 646.2 759.9L644.1 715.7A6.7 2.8 0 0 1 630.7 715.7Z" fill="url(#gb)"/>
<path d="M630.7 715.7A6.7 2.8 0 0 0 644.1 715.7L642.3 675.4L628.5 675.4Z" fill="url(#gp)"/>
<ellipse cx="635.4" cy="675.4" rx="6.9" ry="2.9" fill="#ff7b7b"/>
<path d="M556.6 762.3A6.3 2.7 0 0 0 569.2 762.3L565.3 722.3A6.5 2.7 0 0 1 552.4 722.3Z" fill="url(#gb)"/>
<path d="M552.4 722.3A6.5 2.7 0 0 0 565.3 722.3L563.2 700L550 700Z" fill="url(#gp)"/>
<ellipse cx="556.6" cy="700" rx="6.6" ry="2.8" fill="#ff7b7b"/>
<path d="M567.7 765.4A6.4 2.7 0 0 0 580.5 765.4L576.5 720.8A6.6 2.8 0 0 1 563.4 720.8Z" fill="url(#gb)"/>
<path d="M563.4 720.8A6.6 2.8 0 0 0 576.5 720.8L573.2 684.6L559.8 684.6Z" fill="url(#gp)"/>
<ellipse cx="566.5" cy="684.6" rx="6.7" ry="2.8" fill="#ff7b7b"/>
<path d="M579.3 768.7A6.4 2.7 0 0 0 592.2 768.7L588.8 727.7A6.6 2.8 0 0 1 575.6 727.7Z" fill="url(#gb)"/>
<path d="M575.6 727.7A6.6 2.8 0 0 0 588.8 727.7L583.8 666.5L570 666.5Z" fill="url(#gp)"/>
<ellipse cx="576.9" cy="666.5" rx="6.9" ry="2.9" fill="#ff7b7b"/>
<path d="M623.3 768.8A6.6 2.8 0 0 0 636.4 768.8L634.2 727.8A6.7 2.8 0 0 1 620.7 727.8Z" fill="url(#gb)"/>
<path d="M620.7 727.8A6.7 2.8 0 0 0 634.2 727.8L632.3 691.5L618.5 691.5Z" fill="url(#gp)"/>
<ellipse cx="625.4" cy="691.5" rx="6.9" ry="2.9" fill="#ff7b7b"/>
<path d="M636.4 772.4A6.7 2.8 0 0 0 649.7 772.4L647.6 724.6A6.9 2.9 0 0 1 633.8 724.6Z" fill="url(#gb)"/>
<path d="M633.8 724.6A6.9 2.9 0 0 0 647.6 724.6L645.9 687.7L631.9 687.7Z" fill="url(#gp)"/>
<ellipse cx="638.9" cy="687.7" rx="7" ry="2.9" fill="#ff7b7b"/>
<path d="M651.3 776.5A6.7 2.8 0 0 0 664.8 776.5L661.6 684.6A7.1 3 0 0 1 647.3 684.6Z" fill="url(#gb)"/>
<path d="M647.3 684.6A7.1 3 0 0 0 661.6 684.6L660.7 657.2L646.1 657.2Z" fill="url(#gp)"/>
<ellipse cx="653.4" cy="657.2" rx="7.3" ry="3" fill="#ff7b7b"/>
<path d="M917.4 777.2A7.5 3.2 0 0 0 932.5 777.2L940.8 719.6A7.9 3.3 0 0 1 925.1 719.6Z" fill="url(#gb)"/>
<path d="M925.1 719.6A7.9 3.3 0 0 0 940.8 719.6L947.7 671.9L931.5 671.9Z" fill="url(#gp)"/>
<ellipse cx="939.6" cy="671.9" rx="8.1" ry="3.4" fill="#ff7b7b"/>
<path d="M704.9 779.2A6.9 2.9 0 0 0 718.7 779.2L718.8 741.2A7.1 3 0 0 1 704.6 741.2Z" fill="url(#gb)"/>
<path d="M704.6 741.2A7.1 3 0 0 0 718.8 741.2L718.8 714.9L704.4 714.9Z" fill="url(#gp)"/>
<ellipse cx="711.6" cy="714.9" rx="7.2" ry="3" fill="#ff7b7b"/>
<path d="M661.9 779.4A6.8 2.9 0 0 0 675.5 779.4L674.7 750.8A6.9 2.9 0 0 1 660.8 750.8Z" fill="url(#gb)"/>
<path d="M660.8 750.8A6.9 2.9 0 0 0 674.7 750.8L673.7 714.6L659.5 714.6Z" fill="url(#gp)"/>
<ellipse cx="666.6" cy="714.6" rx="7.1" ry="3" fill="#ff7b7b"/>
<path d="M626.2 781.8A6.7 2.8 0 0 0 639.7 781.8L638 750A6.9 2.9 0 0 1 624.3 750Z" fill="url(#gb)"/>
<path d="M624.3 750A6.9 2.9 0 0 0 638 750L635.9 709.2L621.9 709.2Z" fill="url(#gp)"/>
<ellipse cx="628.9" cy="709.2" rx="7" ry="3" fill="#ff7b7b"/>
<path d="M686.9 786.3A6.9 2.9 0 0 0 700.8 786.3L700.3 739.2A7.2 3 0 0 1 685.9 739.2Z" fill="url(#gb)"/>
<path d="M685.9 739.2A7.2 3 0 0 0 700.3 739.2L700.1 718.5L685.5 718.5Z" fill="url(#gp)"/>
<ellipse cx="692.8" cy="718.5" rx="7.3" ry="3.1" fill="#ff7b7b"/>
<path d="M912.3 787A7.6 3.2 0 0 0 927.6 787L935.8 730A8 3.3 0 0 1 919.8 730Z" fill="url(#gb)"/>
<path d="M919.8 730A8 3.3 0 0 0 935.8 730L941.7 688.4L925.3 688.4Z" fill="url(#gp)"/>
<ellipse cx="933.5" cy="688.4" rx="8.2" ry="3.4" fill="#ff7b7b"/>
<path d="M741.8 789.1A7.1 3 0 0 0 756.1 789.1L756.8 760.7A7.3 3.1 0 0 1 742.3 760.7Z" fill="url(#gb)"/>
<path d="M742.3 760.7A7.3 3.1 0 0 0 756.8 760.7L758.1 713.2L743.1 713.2Z" fill="url(#gp)"/>
<ellipse cx="750.6" cy="713.2" rx="7.5" ry="3.2" fill="#ff7b7b"/>
<path d="M755.3 792.7A7.2 3 0 0 0 769.7 792.7L771.3 748.6A7.4 3.1 0 0 1 756.4 748.6Z" fill="url(#gb)"/>
<path d="M756.4 748.6A7.4 3.1 0 0 0 771.3 748.6L773.3 692.9L757.9 692.9Z" fill="url(#gp)"/>
<ellipse cx="765.6" cy="692.9" rx="7.7" ry="3.2" fill="#ff7b7b"/>
<path d="M676.2 795.7A7 2.9 0 0 0 690.2 795.7L689.4 748.5A7.2 3 0 0 1 674.9 748.5Z" fill="url(#gb)"/>
<path d="M674.9 748.5A7.2 3 0 0 0 689.4 748.5L688.6 707.4L673.8 707.4Z" fill="url(#gp)"/>
<ellipse cx="681.2" cy="707.4" rx="7.4" ry="3.1" fill="#ff7b7b"/>
<path d="M723.3 796.3A7.2 3 0 0 0 737.6 796.3L738.3 748.6A7.4 3.1 0 0 1 723.5 748.6Z" fill="url(#gb)"/>
<path d="M723.5 748.6A7.4 3.1 0 0 0 738.3 748.6L739.2 688.9L723.8 688.9Z" fill="url(#gp)"/>
<ellipse cx="731.5" cy="688.9" rx="7.7" ry="3.2" fill="#ff7b7b"/>
<path d="M907.4 797.1A7.7 3.3 0 0 0 922.9 797.1L928.9 754.5A8 3.4 0 0 1 912.9 754.5Z" fill="url(#gb)"/>
<path d="M912.9 754.5A8 3.4 0 0 0 928.9 754.5L929.5 750.3L913.5 750.3Z" fill="url(#gp)"/>
<ellipse cx="921.5" cy="750.3" rx="8" ry="3.4" fill="#ff7b7b"/>
<path d="M654.3 802.3A7 2.9 0 0 0 668.3 802.3L667.6 780.7A7.1 3 0 0 1 653.4 780.7Z" fill="url(#gb)"/>
<path d="M653.4 780.7A7.1 3 0 0 0 667.6 780.7L666.9 760.1L652.5 760.1Z" fill="url(#gp)"/>
<ellipse cx="659.7" cy="760.1" rx="7.2" ry="3" fill="#ff7b7b"/>
<path d="M700.2 802.4A7.2 3 0 0 0 714.5 802.4L714.4 759.9A7.4 3.1 0 0 1 699.7 759.9Z" fill="url(#gb)"/>
<path d="M699.7 759.9A7.4 3.1 0 0 0 714.4 759.9L714.4 732.3L699.4 732.3Z" fill="url(#gp)"/>
<ellipse cx="706.9" cy="732.3" rx="7.5" ry="3.2" fill="#ff7b7b"/>
<path d="M713.5 806.2A7.2 3 0 0 0 728 806.2L728.3 761.6A7.5 3.1 0 0 1 713.4 761.6Z" fill="url(#gb)"/>
<path d="M713.4 761.6A7.5 3.1 0 0 0 728.3 761.6L728.9 690.7L713.3 690.7Z" fill="url(#gp)"/>
<ellipse cx="721.1" cy="690.7" rx="7.8" ry="3.3" fill="#ff7b7b"/>
<path d="M760.4 806.5A7.4 3.1 0 0 0 775.1 806.5L776.4 774.8A7.6 3.2 0 0 1 761.3 774.8Z" fill="url(#gb)"/>
<path d="M761.3 774.8A7.6 3.2 0 0 0 776.4 774.8L777.3 753.8L761.9 753.8Z" fill="url(#gp)"/>
<ellipse cx="769.6" cy="753.8" rx="7.7" ry="3.2" fill="#ff7b7b"/>
<path d="M902.5 807.6A7.9 3.3 0 0 0 918.2 807.6L923.8 767.5A8.1 3.4 0 0 1 907.6 767.5Z" fill="url(#gb)"/>
<path d="M907.6 767.5A8.1 3.4 0 0 0 923.8 767.5L924.4 762.8L908.2 762.8Z" fill="url(#gp)"/>
<ellipse cx="916.3" cy="762.8" rx="8.1" ry="3.4" fill="#ff7b7b"/>
<path d="M821.6 810.6A7.6 3.2 0 0 0 836.8 810.6L840.6 764.2A7.9 3.3 0 0 1 824.9 764.2Z" fill="url(#gb)"/>
<path d="M824.9 764.2A7.9 3.3 0 0 0 840.6 764.2L843.7 727.5L827.5 727.5Z" fill="url(#gp)"/>
<ellipse cx="835.6" cy="727.5" rx="8.1" ry="3.4" fill="#ff7b7b"/>
<path d="M777 811A7.5 3.1 0 0 0 792 811L793.6 779.3A7.7 3.2 0 0 1 778.3 779.3Z" fill="url(#gb)"/>
<path d="M778.3 779.3A7.7 3.2 0 0 0 793.6 779.3L794.7 759L779.1 759Z" fill="url(#gp)"/>
<ellipse cx="786.9" cy="759" rx="7.8" ry="3.3" fill="#ff7b7b"/>
<path d="M645.4 813A7.1 3 0 0 0 659.6 813L658.6 789.2A7.2 3 0 0 1 644.2 789.2Z" fill="url(#gb)"/>
<path d="M644.2 789.2A7.2 3 0 0 0 658.6 789.2L658 772.6L643.4 772.6Z" fill="url(#gp)"/>
<ellipse cx="650.7" cy="772.6" rx="7.3" ry="3.1" fill="#ff7b7b"/>
<path d="M835.4 814.3A7.7 3.2 0 0 0 850.8 814.3L854.2 777.5A7.9 3.3 0 0 1 838.4 777.5Z" fill="url(#gb)"/>
<path d="M838.4 777.5A7.9 3.3 0 0 0 854.2 777.5L859.2 723.7L842.8 723.7Z" fill="url(#gp)"/>
<ellipse cx="851" cy="723.7" rx="8.2" ry="3.5" fill="#ff7b7b"/>
<path d="M752.9 817.2A7.5 3.1 0 0 0 767.9 817.2L769.2 782.4A7.7 3.2 0 0 1 753.8 782.4Z" fill="url(#gb)"/>
<path d="M753.8 782.4A7.7 3.2 0 0 0 769.2 782.4L769.5 772L754.1 772Z" fill="url(#gp)"/>
<ellipse cx="761.8" cy="772" rx="7.7" ry="3.2" fill="#ff7b7b"/>
<path d="M767 821.1A7.6 3.2 0 0 0 782.1 821.1L783.5 790.2A7.7 3.3 0 0 1 768 790.2Z" fill="url(#gb)"/>
<path d="M768 790.2A7.7 3.3 0 0 0 783.5 790.2L784.9 759.9L769.1 759.9Z" fill="url(#gp)"/>
<ellipse cx="777" cy="759.9" rx="7.9" ry="3.3" fill="#ff7b7b"/>
<path d="M815.1 821.5A7.7 3.2 0 0 0 830.6 821.5L834.4 773A8 3.4 0 0 1 818.4 773Z" fill="url(#gb)"/>
<path d="M818.4 773A8 3.4 0 0 0 834.4 773L836.7 744.8L820.3 744.8Z" fill="url(#gp)"/>
<ellipse cx="828.5" cy="744.8" rx="8.2" ry="3.4" fill="#ff7b7b"/>
<path d="M863.7 821.9A7.9 3.3 0 0 0 879.4 821.9L886 763.9A8.2 3.5 0 0 1 869.5 763.9Z" fill="url(#gb)"/>
<path d="M869.5 763.9A8.2 3.5 0 0 0 886 763.9L891.6 714L874.6 714Z" fill="url(#gp)"/>
<ellipse cx="883.1" cy="714" rx="8.5" ry="3.6" fill="#ff7b7b"/>
<path d="M636.1 824A7.2 3 0 0 0 650.4 824L649.4 800.3A7.3 3.1 0 0 1 634.8 800.3Z" fill="url(#gb)"/>
<path d="M634.8 800.3A7.3 3.1 0 0 0 649.4 800.3L648.9 789.2L634.1 789.2Z" fill="url(#gp)"/>
<ellipse cx="641.5" cy="789.2" rx="7.4" ry="3.1" fill="#ff7b7b"/>
<path d="M780.6 824.9A7.7 3.2 0 0 0 795.9 824.9L797.9 787.6A7.9 3.3 0 0 1 782.2 787.6Z" fill="url(#gb)"/>
<path d="M782.2 787.6A7.9 3.3 0 0 0 797.9 787.6L799.2 765.1L783.2 765.1Z" fill="url(#gp)"/>
<ellipse cx="791.2" cy="765.1" rx="8" ry="3.4" fill="#ff7b7b"/>
<path d="M794.7 828.9A7.8 3.3 0 0 0 810.2 828.9L812.8 788.3A8 3.3 0 0 1 796.9 788.3Z" fill="url(#gb)"/>
<path d="M796.9 788.3A8 3.3 0 0 0 812.8 788.3L820.6 668.7L803.4 668.7Z" fill="url(#gp)"/>
<ellipse cx="812" cy="668.7" rx="8.6" ry="3.6" fill="#ff7b7b"/>
<path d="M662.1 831.7A7.4 3.1 0 0 0 676.8 831.7L676 803.5A7.5 3.1 0 0 1 661.1 803.5Z" fill="url(#gb)"/>
<path d="M661.1 803.5A7.5 3.1 0 0 0 676 803.5L675.1 768L659.7 768Z" fill="url(#gp)"/>
<ellipse cx="667.4" cy="768" rx="7.7" ry="3.2" fill="#ff7b7b"/>
<path d="M857.1 833A8 3.4 0 0 0 873.1 833L878.7 782.1A8.3 3.5 0 0 1 862.1 782.1Z" fill="url(#gb)"/>
<path d="M862.1 782.1A8.3 3.5 0 0 0 878.7 782.1L883.1 741.5L866.1 741.5Z" fill="url(#gp)"/>
<ellipse cx="874.6" cy="741.5" rx="8.5" ry="3.6" fill="#ff7b7b"/>
<path d="M875.4 838A8.1 3.4 0 0 0 891.7 838L897.5 790.7A8.4 3.5 0 0 1 880.7 790.7Z" fill="url(#gb)"/>
<path d="M880.7 790.7A8.4 3.5 0 0 0 897.5 790.7L901.9 754.4L884.7 754.4Z" fill="url(#gp)"/>
<ellipse cx="893.3" cy="754.4" rx="8.6" ry="3.6" fill="#ff7b7b"/>
<path d="M851.3 844.7A8.1 3.4 0 0 0 867.5 844.7L873.1 792.9A8.4 3.5 0 0 1 856.2 792.9Z" fill="url(#gb)"/>
<path d="M856.2 792.9A8.4 3.5 0 0 0 873.1 792.9L876.9 756.3L859.7 756.3Z" fill="url(#gp)"/>
<ellipse cx="868.3" cy="756.3" rx="8.6" ry="3.6" fill="#ff7b7b"/>
<path d="M866.1 848.9A8.2 3.4 0 0 0 882.5 848.9L887.8 803.5A8.5 3.6 0 0 1 870.8 803.5Z" fill="url(#gb)"/>
<path d="M870.8 803.5A8.5 3.6 0 0 0 887.8 803.5L894.4 746.7L876.8 746.7Z" fill="url(#gp)"/>
<ellipse cx="885.6" cy="746.7" rx="8.8" ry="3.7" fill="#ff7b7b"/>
<path d="M830.2 852.5A8.1 3.4 0 0 0 846.5 852.5L849.2 822.7A8.3 3.5 0 0 1 832.6 822.7Z" fill="url(#gb)"/>
<path d="M832.6 822.7A8.3 3.5 0 0 0 849.2 822.7L852.3 789L835.3 789Z" fill="url(#gp)"/>
<ellipse cx="843.8" cy="789" rx="8.5" ry="3.6" fill="#ff7b7b"/>
<path d="M825.5 865.4A8.3 3.5 0 0 0 842 865.4L843.9 845A8.4 3.5 0 0 1 827.1 845Z" fill="url(#gb)"/>
<path d="M827.1 845A8.4 3.5 0 0 0 843.9 845L846 820.8L829 820.8Z" fill="url(#gp)"/>
<ellipse cx="837.5" cy="820.8" rx="8.5" ry="3.6" fill="#ff7b7b"/>
<path d="M815.9 877.4A8.4 3.5 0 0 0 832.6 877.4L835 848.7A8.5 3.6 0 0 1 817.9 848.7Z" fill="url(#gb)"/>
<path d="M817.9 848.7A8.5 3.6 0 0 0 835 848.7L837.2 822.7L819.8 822.7Z" fill="url(#gp)"/>
<ellipse cx="828.5" cy="822.7" rx="8.7" ry="3.7" fill="#ff7b7b"/>
<path d="M473.7 784.4L874 904.5M874 904.5L933.3 777.1M933.3 777.1L953.3 639.4" stroke="#111" stroke-width="1.2" fill="none" stroke-linecap="square"/>
<path d="M479.4 786.1L476.5 788.5M490.7 789.5L487.9 792M502.2 792.9L499.3 795.5M513.8 796.4L510.9 799.1M525.5 799.9L522.6 802.7M537.3 803.5L534.4 806.3M549.3 807.1L546.3 810M561.4 810.7L558.4 813.7M573.7 814.4L570.7 817.5M586 818.1L583 821.3M598.6 821.9L595.5 825.1M611.2 825.6L608.2 829M624 829.5L621 833M637 833.4L633.9 837M650.1 837.3L647 841M663.3 841.3L660.3 845.1M676.7 845.3L673.7 849.2M690.3 849.4L687.2 853.4M704 853.5L700.9 857.6M717.8 857.6L714.8 861.9M731.9 861.9L728.9 866.2M746.1 866.1L743.1 870.6M760.5 870.4L757.5 875M775 874.8L772.1 879.5M789.7 879.2L786.9 884M804.6 883.7L801.8 888.6M819.7 888.2L816.9 893.3M835 892.8L832.3 898M850.5 897.4L847.8 902.8M866.1 902.1L863.5 907.6M877.2 897.6L884.8 899.9M883.5 884.2L890.9 886.4M889.5 871.3L896.8 873.4M895.3 858.8L902.5 860.9M900.9 846.8L908 848.7M906.3 835.1L913.4 837M911.6 823.8L918.5 825.6M916.7 812.8L923.5 814.6M921.6 802.2L928.4 803.9M926.4 791.9L933.1 793.6M931.1 782L937.6 783.6M935.8 760.1l5.5 1M938.3 742.7l5.5 1M940.9 724.9l5.5 1M943.6 706.7l5.5 1M946.3 688l5.5 1M949 668.9l5.5 1M951.9 649.3l5.5 1" stroke="#111" stroke-width="0.95" fill="none"/>
<text transform="translate(475.5 791.9) rotate(-45)" text-anchor="end" font-size="10" fill="#111" textLength="7.4" lengthAdjust="spacingAndGlyphs">Bi</text>
<text transform="translate(486.8 795.6) rotate(-45)" text-anchor="end" font-size="10.3" fill="#111" textLength="8.1" lengthAdjust="spacingAndGlyphs">Pt</text>
<text transform="translate(498.1 799.3) rotate(-45)" text-anchor="end" font-size="10.5" fill="#111" textLength="5.3" lengthAdjust="spacingAndGlyphs">Ir</text>
<text transform="translate(509.7 803.1) rotate(-45)" text-anchor="end" font-size="10.8" fill="#111" textLength="11.5" lengthAdjust="spacingAndGlyphs">Re</text>
<text transform="translate(521.3 806.9) rotate(-45)" text-anchor="end" font-size="11.1" fill="#111" textLength="8.7" lengthAdjust="spacingAndGlyphs">W</text>
<text transform="translate(533.1 810.7) rotate(-45)" text-anchor="end" font-size="11.4" fill="#111" textLength="27.2" lengthAdjust="spacingAndGlyphs">Ta(1T)</text>
<text transform="translate(545 814.6) rotate(-45)" text-anchor="end" font-size="11.6" fill="#111" textLength="29" lengthAdjust="spacingAndGlyphs">Ta(2H)</text>
<text transform="translate(557 818.5) rotate(-45)" text-anchor="end" font-size="11.9" fill="#111" textLength="20.3" lengthAdjust="spacingAndGlyphs">HfX<tspan font-size='70%' dy='2'>5</tspan></text>
<text transform="translate(569.2 822.5) rotate(-45)" text-anchor="end" font-size="12.2" fill="#111" textLength="20.8" lengthAdjust="spacingAndGlyphs">HfX<tspan font-size='70%' dy='2'>3</tspan></text>
<text transform="translate(581.5 826.5) rotate(-45)" text-anchor="end" font-size="12.5" fill="#111" textLength="12.6" lengthAdjust="spacingAndGlyphs">Sb</text>
<text transform="translate(594 830.5) rotate(-45)" text-anchor="end" font-size="12.7" fill="#111" textLength="24.1" lengthAdjust="spacingAndGlyphs">SnX<tspan font-size='70%' dy='2'>2</tspan></text>
<text transform="translate(606.6 834.6) rotate(-45)" text-anchor="end" font-size="13" fill="#111" textLength="20.4" lengthAdjust="spacingAndGlyphs">SnX</text>
<text transform="translate(619.4 838.8) rotate(-45)" text-anchor="end" font-size="13" fill="#111" textLength="9" lengthAdjust="spacingAndGlyphs">In</text>
<text transform="translate(632.3 843) rotate(-45)" text-anchor="end" font-size="13" fill="#111" textLength="13.8" lengthAdjust="spacingAndGlyphs">Cd</text>
<text transform="translate(645.4 847.2) rotate(-45)" text-anchor="end" font-size="13" fill="#111" textLength="13.2" lengthAdjust="spacingAndGlyphs">Pd</text>
<text transform="translate(658.8 851.3) rotate(-45)" text-anchor="end" font-size="13" fill="#111" textLength="13.8" lengthAdjust="spacingAndGlyphs">Ru</text>
<text transform="translate(672.3 855.4) rotate(-45)" text-anchor="end" font-size="13" fill="#111" textLength="15" lengthAdjust="spacingAndGlyphs">Mo</text>
<text transform="translate(685.9 859.6) rotate(-45)" text-anchor="end" font-size="13" fill="#111" textLength="13.8" lengthAdjust="spacingAndGlyphs">Nb</text>
<text transform="translate(699.8 863.8) rotate(-45)" text-anchor="end" font-size="13" fill="#111" textLength="21.6" lengthAdjust="spacingAndGlyphs">ZrX<tspan font-size='70%' dy='2'>5</tspan></text>
<text transform="translate(713.7 868) rotate(-45)" text-anchor="end" font-size="13" fill="#111" textLength="21.6" lengthAdjust="spacingAndGlyphs">ZrX<tspan font-size='70%' dy='2'>3</tspan></text>
<text transform="translate(727.9 872.3) rotate(-45)" text-anchor="end" font-size="13" fill="#111" textLength="14.4" lengthAdjust="spacingAndGlyphs">Ge</text>
<text transform="translate(742.2 876.7) rotate(-45)" text-anchor="end" font-size="13" fill="#111" textLength="14.4" lengthAdjust="spacingAndGlyphs">Ga</text>
<text transform="translate(756.7 881.1) rotate(-45)" text-anchor="end" font-size="13" fill="#111" textLength="10.2" lengthAdjust="spacingAndGlyphs">Ni</text>
<text transform="translate(771.4 885.6) rotate(-45)" text-anchor="end" font-size="13" fill="#111" textLength="13.8" lengthAdjust="spacingAndGlyphs">Co</text>
<text transform="translate(786.3 890.1) rotate(-45)" text-anchor="end" font-size="13" fill="#111" textLength="12.6" lengthAdjust="spacingAndGlyphs">Fe</text>
<text transform="translate(801.3 894.6) rotate(-45)" text-anchor="end" font-size="13" fill="#111" textLength="15" lengthAdjust="spacingAndGlyphs">Mn</text>
<text transform="translate(816.5 899.3) rotate(-45)" text-anchor="end" font-size="13" fill="#111" textLength="11.4" lengthAdjust="spacingAndGlyphs">Cr</text>
<text transform="translate(832 904) rotate(-45)" text-anchor="end" font-size="13" fill="#111" textLength="7.2" lengthAdjust="spacingAndGlyphs">V</text>
<text transform="translate(847.6 908.7) rotate(-45)" text-anchor="end" font-size="13" fill="#111" textLength="8.6" lengthAdjust="spacingAndGlyphs">Ti</text>
<text transform="translate(863.4 913.5) rotate(-45)" text-anchor="end" font-size="13" fill="#111" textLength="43.2" lengthAdjust="spacingAndGlyphs">No Metal</text>
<text x="890" y="905.7" font-size="14.4" fill="#111" textLength="11.2" lengthAdjust="spacingAndGlyphs">Cl</text>
<text x="896.1" y="892.2" font-size="14.3" fill="#111" textLength="11.7" lengthAdjust="spacingAndGlyphs">Br</text>
<text x="902" y="879.2" font-size="14.2" fill="#111" textLength="3.2" lengthAdjust="spacingAndGlyphs">I</text>
<text x="907.7" y="866.7" font-size="14.2" fill="#111" textLength="7.7" lengthAdjust="spacingAndGlyphs">S</text>
<text x="913.2" y="854.5" font-size="14.1" fill="#111" textLength="14.1" lengthAdjust="spacingAndGlyphs">Se</text>
<text x="918.6" y="842.8" font-size="14" fill="#111" textLength="12.1" lengthAdjust="spacingAndGlyphs">Te</text>
<text x="923.7" y="831.4" font-size="13.9" fill="#111" textLength="8.2" lengthAdjust="spacingAndGlyphs">N</text>
<text x="928.7" y="820.4" font-size="13.8" fill="#111" textLength="15.8" lengthAdjust="spacingAndGlyphs">BN</text>
<text x="933.6" y="809.7" font-size="13.8" fill="#111" textLength="12.5" lengthAdjust="spacingAndGlyphs">Gr</text>
<text x="938.3" y="799.4" font-size="13.7" fill="#111" textLength="15" lengthAdjust="spacingAndGlyphs">BP</text>
<text x="942.8" y="789.4" font-size="13.6" fill="#111" textLength="20.5" lengthAdjust="spacingAndGlyphs">BAs</text>
<text x="962.1" y="656.8" font-size="15.6" fill="#111" textLength="13.9" lengthAdjust="spacingAndGlyphs">70</text>
<text x="958.7" y="676.6" font-size="15.3" fill="#111" textLength="13.6" lengthAdjust="spacingAndGlyphs">60</text>
<text x="955.9" y="695.5" font-size="15.1" fill="#111" textLength="13.4" lengthAdjust="spacingAndGlyphs">50</text>
<text x="953.2" y="714.5" font-size="14.8" fill="#111" textLength="13.2" lengthAdjust="spacingAndGlyphs">40</text>
<text x="950.4" y="732.6" font-size="14.5" fill="#111" textLength="12.9" lengthAdjust="spacingAndGlyphs">30</text>
<text x="947.6" y="750.1" font-size="14.3" fill="#111" textLength="12.7" lengthAdjust="spacingAndGlyphs">20</text>
<text x="945.5" y="767.3" font-size="14" fill="#111" textLength="12.5" lengthAdjust="spacingAndGlyphs">10</text>
<text x="448.5" y="579.5" font-size="16" fill="#000">(g)</text>
</svg>
</body></html>
